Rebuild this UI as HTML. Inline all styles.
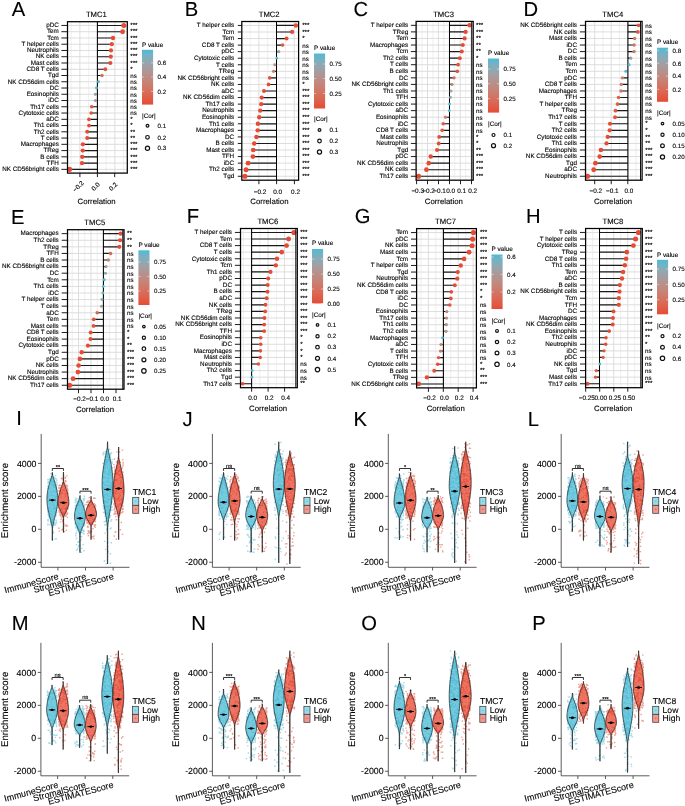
<!DOCTYPE html>
<html lang="en"><head><meta charset="utf-8"><title>TMC immune infiltration figure</title>
<style>html,body{margin:0;padding:0;background:#fff}svg{display:block;will-change:transform}text{white-space:pre;text-rendering:geometricPrecision;stroke:#000;stroke-width:.12px}</style>
</head><body>
<svg width="685" height="806" viewBox="0 0 685 806" font-family='"Liberation Sans", Arial, Helvetica, sans-serif' fill="#000">
<g id="pA">
<text x="11.7" y="16.4" font-size="20.2">A</text>
<text x="96.4" y="16.9" font-size="7.7" text-anchor="middle">TMC1</text>
<rect x="67.5" y="21.7" width="59.8" height="151.4" fill="#fff"/>
<path d="M71.15 21.7V173.1M88.65 21.7V173.1M106.15 21.7V173.1M123.65 21.7V173.1" stroke="#e6e6e6" stroke-width=".65" fill="none"/>
<path d="M79.9 21.7V173.1M97.4 21.7V173.1M114.9 21.7V173.1M67.5 25.45H127.3M67.5 31.71H127.3M67.5 37.97H127.3M67.5 44.22H127.3M67.5 50.48H127.3M67.5 56.73H127.3M67.5 62.99H127.3M67.5 69.25H127.3M67.5 75.5H127.3M67.5 81.76H127.3M67.5 88.02H127.3M67.5 94.27H127.3M67.5 100.53H127.3M67.5 106.78H127.3M67.5 113.04H127.3M67.5 119.3H127.3M67.5 125.55H127.3M67.5 131.81H127.3M67.5 138.07H127.3M67.5 144.32H127.3M67.5 150.58H127.3M67.5 156.83H127.3M67.5 163.09H127.3M67.5 169.35H127.3" stroke="#dbdbdb" stroke-width=".95" fill="none"/>
<path d="M97.4 25.45H123.8M97.4 31.71H122.6M97.4 37.97H113M97.4 44.22H111.8M97.4 50.48H111M97.4 56.73H110.8M97.4 62.99H110.3M97.4 69.25H105.3M97.4 75.5H102M97.4 81.76H98.5M97.4 88.02H96.5M97.4 94.27H95.4M97.4 100.53H95.4M97.4 106.78H91.7M97.4 113.04H91.2M97.4 119.3H89M97.4 125.55H89M97.4 131.81H87.2M97.4 138.07H87.2M97.4 144.32H82.9M97.4 150.58H82.7M97.4 156.83H82.2M97.4 163.09H82M97.4 169.35H69.6" stroke="#1a1a1a" stroke-width="1.15" fill="none"/>
<path d="M97.4 21.7V173.1" stroke="#000" stroke-width="1.05"/>
<circle cx="123.8" cy="25.45" r="2.51" fill="#e64b35"/>
<circle cx="122.6" cy="31.71" r="2.48" fill="#e64b35"/>
<circle cx="113" cy="37.97" r="2.18" fill="#e64b35"/>
<circle cx="111.8" cy="44.22" r="2.14" fill="#e64b35"/>
<circle cx="111" cy="50.48" r="2.11" fill="#e64b35"/>
<circle cx="110.8" cy="56.73" r="2.11" fill="#e64b35"/>
<circle cx="110.3" cy="62.99" r="2.09" fill="#e64b35"/>
<circle cx="105.3" cy="69.25" r="1.89" fill="#e54e38"/>
<circle cx="102" cy="75.5" r="1.72" fill="#d56f5c"/>
<circle cx="98.5" cy="81.76" r="1.48" fill="#4dbbd5"/>
<circle cx="96.5" cy="88.02" r="1.46" fill="#4dbbd5"/>
<circle cx="95.4" cy="94.27" r="1.56" fill="#9da1a6"/>
<circle cx="95.4" cy="100.53" r="1.56" fill="#a49da0"/>
<circle cx="91.7" cy="106.78" r="1.78" fill="#e3533d"/>
<circle cx="91.2" cy="113.04" r="1.81" fill="#e4503a"/>
<circle cx="89" cy="119.3" r="1.91" fill="#e64b35"/>
<circle cx="89" cy="125.55" r="1.91" fill="#e64b35"/>
<circle cx="87.2" cy="131.81" r="1.98" fill="#e64b35"/>
<circle cx="87.2" cy="138.07" r="1.98" fill="#e64b35"/>
<circle cx="82.9" cy="144.32" r="2.15" fill="#e64b35"/>
<circle cx="82.7" cy="150.58" r="2.15" fill="#e64b35"/>
<circle cx="82.2" cy="156.83" r="2.17" fill="#e64b35"/>
<circle cx="82" cy="163.09" r="2.18" fill="#e64b35"/>
<circle cx="69.6" cy="169.35" r="2.55" fill="#e64b35"/>
<rect x="67.5" y="21.7" width="59.8" height="151.4" fill="none" stroke="#000" stroke-width="1.25"/>
<path d="M61.4 25.45H67.5M61.4 31.71H67.5M61.4 37.97H67.5M61.4 44.22H67.5M61.4 50.48H67.5M61.4 56.73H67.5M61.4 62.99H67.5M61.4 69.25H67.5M61.4 75.5H67.5M61.4 81.76H67.5M61.4 88.02H67.5M61.4 94.27H67.5M61.4 100.53H67.5M61.4 106.78H67.5M61.4 113.04H67.5M61.4 119.3H67.5M61.4 125.55H67.5M61.4 131.81H67.5M61.4 138.07H67.5M61.4 144.32H67.5M61.4 150.58H67.5M61.4 156.83H67.5M61.4 163.09H67.5M61.4 169.35H67.5" stroke="#111" stroke-width=".95" fill="none"/>
<g font-size="6.3" text-anchor="end">
<text x="58.85" y="27.2">pDC</text>
<text x="58.85" y="33.46">Tem</text>
<text x="58.85" y="39.72">Tcm</text>
<text x="58.85" y="45.97">T helper cells</text>
<text x="58.85" y="52.23">Neutrophils</text>
<text x="58.85" y="58.48">NK cells</text>
<text x="58.85" y="64.74">Mast cells</text>
<text x="58.85" y="71">CD8 T cells</text>
<text x="58.85" y="77.25">Tgd</text>
<text x="58.85" y="83.51">NK CD56dim cells</text>
<text x="58.85" y="89.77">DC</text>
<text x="58.85" y="96.02">Eosinophils</text>
<text x="58.85" y="102.28">iDC</text>
<text x="58.85" y="108.53">Th17 cells</text>
<text x="58.85" y="114.79">Cytotoxic cells</text>
<text x="58.85" y="121.05">aDC</text>
<text x="58.85" y="127.3">Th1 cells</text>
<text x="58.85" y="133.56">Th2 cells</text>
<text x="58.85" y="139.82">T cells</text>
<text x="58.85" y="146.07">Macrophages</text>
<text x="58.85" y="152.33">TReg</text>
<text x="58.85" y="158.58">B cells</text>
<text x="58.85" y="164.84">TFH</text>
<text x="58.85" y="171.1">NK CD56bright cells</text>
</g>
<g font-size="6.2">
<text x="130.3" y="27.15">***</text>
<text x="130.3" y="33.41">***</text>
<text x="130.3" y="39.67">***</text>
<text x="130.3" y="45.92">***</text>
<text x="130.3" y="52.18">***</text>
<text x="130.3" y="58.43">***</text>
<text x="130.3" y="64.69">***</text>
<text x="130.3" y="70.95">*</text>
<text x="130.3" y="77.9">ns</text>
<text x="130.3" y="84.16">ns</text>
<text x="130.3" y="90.42">ns</text>
<text x="130.3" y="96.67">ns</text>
<text x="130.3" y="102.93">ns</text>
<text x="130.3" y="109.18">ns</text>
<text x="130.3" y="115.44">ns</text>
<text x="130.3" y="121">*</text>
<text x="130.3" y="127.25">*</text>
<text x="130.3" y="133.51">**</text>
<text x="130.3" y="139.77">**</text>
<text x="130.3" y="146.02">***</text>
<text x="130.3" y="152.28">***</text>
<text x="130.3" y="158.53">***</text>
<text x="130.3" y="164.79">***</text>
<text x="130.3" y="171.05">***</text>
</g>
<path d="M79.9 173.1V177.1M97.4 173.1V177.1M114.7 173.1V177.1" stroke="#111" stroke-width=".95" fill="none"/>
<text transform="translate(78.1 186.4) rotate(-45)" y="2.3" font-size="6.4" text-anchor="middle">−0.2</text>
<text transform="translate(95.6 186.4) rotate(-45)" y="2.3" font-size="6.4" text-anchor="middle">0.0</text>
<text transform="translate(112.9 186.4) rotate(-45)" y="2.3" font-size="6.4" text-anchor="middle">0.2</text>
<text x="96.6" y="203.9" font-size="7.8" text-anchor="middle">Correlation</text>
<text x="142" y="46.6" font-size="6.4">P value</text>
<linearGradient id="g0" x1="0" y1="0" x2="0" y2="1"><stop offset="0" stop-color="#4dbbd5"/><stop offset="0.1" stop-color="#74b2c4"/><stop offset="0.2" stop-color="#8ea9b4"/><stop offset="0.3" stop-color="#a19fa3"/><stop offset="0.4" stop-color="#b09593"/><stop offset="0.5" stop-color="#bd8b83"/><stop offset="0.6" stop-color="#c88173"/><stop offset="0.7" stop-color="#d17564"/><stop offset="0.8" stop-color="#d96954"/><stop offset="0.9" stop-color="#e05b45"/><stop offset="1" stop-color="#e64b35"/></linearGradient>
<rect x="142" y="49.8" width="11.1" height="54.8" fill="url(#g0)"/>
<text x="157.6" y="65.1" font-size="6.2">0.6</text>
<text x="157.6" y="79.2" font-size="6.2">0.4</text>
<text x="157.6" y="93.5" font-size="6.2">0.2</text>
<path d="M142 62.9h2.2M153.1 62.9h-2.2M142 77h2.2M153.1 77h-2.2M142 91.3h2.2M153.1 91.3h-2.2" stroke="#fff" stroke-width=".5" fill="none" opacity=".9"/>
<text x="142" y="117.6" font-size="6.4">|Cor|</text>
<circle cx="147.5" cy="125.7" r="1.4" fill="none" stroke="#111" stroke-width="1.2"/>
<text x="157.6" y="127.9" font-size="6.2">0.1</text>
<circle cx="147.5" cy="137.3" r="1.8" fill="none" stroke="#111" stroke-width="1.2"/>
<text x="157.6" y="139.5" font-size="6.2">0.2</text>
<circle cx="147.5" cy="148.2" r="2.1" fill="none" stroke="#111" stroke-width="1.2"/>
<text x="157.6" y="150.4" font-size="6.2">0.3</text>
</g>
<g id="pB">
<text x="184.8" y="16" font-size="20.2">B</text>
<text x="269.2" y="16.9" font-size="7.7" text-anchor="middle">TMC2</text>
<rect x="241.8" y="21.5" width="56.8" height="158.7" fill="#fff"/>
<path d="M250.05 21.5V180.2M267.75 21.5V180.2M285.45 21.5V180.2" stroke="#e6e6e6" stroke-width=".65" fill="none"/>
<path d="M258.9 21.5V180.2M276.6 21.5V180.2M294.3 21.5V180.2M241.8 25.43H298.6M241.8 31.99H298.6M241.8 38.55H298.6M241.8 45.11H298.6M241.8 51.67H298.6M241.8 58.22H298.6M241.8 64.78H298.6M241.8 71.34H298.6M241.8 77.9H298.6M241.8 84.46H298.6M241.8 91.01H298.6M241.8 97.57H298.6M241.8 104.13H298.6M241.8 110.69H298.6M241.8 117.24H298.6M241.8 123.8H298.6M241.8 130.36H298.6M241.8 136.92H298.6M241.8 143.48H298.6M241.8 150.03H298.6M241.8 156.59H298.6M241.8 163.15H298.6M241.8 169.71H298.6M241.8 176.27H298.6" stroke="#dbdbdb" stroke-width=".95" fill="none"/>
<path d="M276.5 25.43H295.9M276.5 31.99H292.1M276.5 38.55H286.6M276.5 45.11H282.6M276.5 51.67H278.8M276.5 58.22H276.8M276.5 64.78H274.8M276.5 71.34H273.5M276.5 77.9H269.7M276.5 84.46H268.5M276.5 91.01H264M276.5 97.57H261.7M276.5 104.13H261.2M276.5 110.69H260.2M276.5 117.24H259.2M276.5 123.8H257.9M276.5 130.36H257.7M276.5 136.92H256.4M276.5 143.48H254.2M276.5 150.03H253.2M276.5 156.59H252.9M276.5 163.15H248.1M276.5 169.71H246.1M276.5 176.27H244.9" stroke="#1a1a1a" stroke-width="1.15" fill="none"/>
<path d="M276.5 21.5V180.2" stroke="#000" stroke-width="1.05"/>
<circle cx="295.9" cy="25.43" r="2.23" fill="#e64b35"/>
<circle cx="292.1" cy="31.99" r="2.12" fill="#e64b35"/>
<circle cx="286.6" cy="38.55" r="1.93" fill="#e64b35"/>
<circle cx="282.6" cy="45.11" r="1.77" fill="#df5e48"/>
<circle cx="278.8" cy="51.67" r="1.56" fill="#98a4ac"/>
<circle cx="276.8" cy="58.22" r="1.38" fill="#4dbbd5"/>
<circle cx="274.8" cy="64.78" r="1.52" fill="#b6908b"/>
<circle cx="273.5" cy="71.34" r="1.6" fill="#cc7b6c"/>
<circle cx="269.7" cy="77.9" r="1.8" fill="#e4503a"/>
<circle cx="268.5" cy="84.46" r="1.85" fill="#e64b35"/>
<circle cx="264" cy="91.01" r="2.02" fill="#e64b35"/>
<circle cx="261.7" cy="97.57" r="2.09" fill="#e64b35"/>
<circle cx="261.2" cy="104.13" r="2.11" fill="#e64b35"/>
<circle cx="260.2" cy="110.69" r="2.14" fill="#e64b35"/>
<circle cx="259.2" cy="117.24" r="2.17" fill="#e64b35"/>
<circle cx="257.9" cy="123.8" r="2.21" fill="#e64b35"/>
<circle cx="257.7" cy="130.36" r="2.22" fill="#e64b35"/>
<circle cx="256.4" cy="136.92" r="2.25" fill="#e64b35"/>
<circle cx="254.2" cy="143.48" r="2.31" fill="#e64b35"/>
<circle cx="253.2" cy="150.03" r="2.34" fill="#e64b35"/>
<circle cx="252.9" cy="156.59" r="2.35" fill="#e64b35"/>
<circle cx="248.1" cy="163.15" r="2.47" fill="#e64b35"/>
<circle cx="246.1" cy="169.71" r="2.52" fill="#e64b35"/>
<circle cx="244.9" cy="176.27" r="2.55" fill="#e64b35"/>
<rect x="241.8" y="21.5" width="56.8" height="158.7" fill="none" stroke="#000" stroke-width="1.25"/>
<path d="M237.8 25.43H241.8M237.8 31.99H241.8M237.8 38.55H241.8M237.8 45.11H241.8M237.8 51.67H241.8M237.8 58.22H241.8M237.8 64.78H241.8M237.8 71.34H241.8M237.8 77.9H241.8M237.8 84.46H241.8M237.8 91.01H241.8M237.8 97.57H241.8M237.8 104.13H241.8M237.8 110.69H241.8M237.8 117.24H241.8M237.8 123.8H241.8M237.8 130.36H241.8M237.8 136.92H241.8M237.8 143.48H241.8M237.8 150.03H241.8M237.8 156.59H241.8M237.8 163.15H241.8M237.8 169.71H241.8M237.8 176.27H241.8" stroke="#111" stroke-width=".95" fill="none"/>
<g font-size="6.3" text-anchor="end">
<text x="234.15" y="27.18">T helper cells</text>
<text x="234.15" y="33.74">Tcm</text>
<text x="234.15" y="40.3">Tem</text>
<text x="234.15" y="46.86">CD8 T cells</text>
<text x="234.15" y="53.42">pDC</text>
<text x="234.15" y="59.97">Cytotoxic cells</text>
<text x="234.15" y="66.53">T cells</text>
<text x="234.15" y="73.09">TReg</text>
<text x="234.15" y="79.65">NK CD56bright cells</text>
<text x="234.15" y="86.21">NK cells</text>
<text x="234.15" y="92.76">aDC</text>
<text x="234.15" y="99.32">NK CD56dim cells</text>
<text x="234.15" y="105.88">Th17 cells</text>
<text x="234.15" y="112.44">Neutrophils</text>
<text x="234.15" y="118.99">Eosinophils</text>
<text x="234.15" y="125.55">Th1 cells</text>
<text x="234.15" y="132.11">Macrophages</text>
<text x="234.15" y="138.67">DC</text>
<text x="234.15" y="145.23">B cells</text>
<text x="234.15" y="151.78">Mast cells</text>
<text x="234.15" y="158.34">TFH</text>
<text x="234.15" y="164.9">iDC</text>
<text x="234.15" y="171.46">Th2 cells</text>
<text x="234.15" y="178.02">Tgd</text>
</g>
<g font-size="6.2">
<text x="302.2" y="27.13">***</text>
<text x="302.2" y="33.69">***</text>
<text x="302.2" y="40.25">*</text>
<text x="302.2" y="47.51">ns</text>
<text x="302.2" y="54.07">ns</text>
<text x="302.2" y="60.62">ns</text>
<text x="302.2" y="67.18">ns</text>
<text x="302.2" y="73.74">ns</text>
<text x="302.2" y="80.3">ns</text>
<text x="302.2" y="86.16">*</text>
<text x="302.2" y="92.71">***</text>
<text x="302.2" y="99.27">***</text>
<text x="302.2" y="105.83">***</text>
<text x="302.2" y="112.39">***</text>
<text x="302.2" y="118.94">***</text>
<text x="302.2" y="125.5">***</text>
<text x="302.2" y="132.06">***</text>
<text x="302.2" y="138.62">***</text>
<text x="302.2" y="145.18">***</text>
<text x="302.2" y="151.73">***</text>
<text x="302.2" y="158.29">***</text>
<text x="302.2" y="164.85">***</text>
<text x="302.2" y="171.41">***</text>
<text x="302.2" y="177.97">***</text>
</g>
<path d="M258.9 180.2V184.2M276.6 180.2V184.2M294.4 180.2V184.2" stroke="#111" stroke-width=".95" fill="none"/>
<text x="260" y="193.8" font-size="6.4" text-anchor="middle">−0.2</text>
<text x="277.7" y="193.8" font-size="6.4" text-anchor="middle">0.0</text>
<text x="295.5" y="193.8" font-size="6.4" text-anchor="middle">0.2</text>
<text x="269.4" y="204.4" font-size="7.8" text-anchor="middle">Correlation</text>
<text x="314" y="50" font-size="6.4">P value</text>
<linearGradient id="g1" x1="0" y1="0" x2="0" y2="1"><stop offset="0" stop-color="#4dbbd5"/><stop offset="0.1" stop-color="#74b2c4"/><stop offset="0.2" stop-color="#8ea9b4"/><stop offset="0.3" stop-color="#a19fa3"/><stop offset="0.4" stop-color="#b09593"/><stop offset="0.5" stop-color="#bd8b83"/><stop offset="0.6" stop-color="#c88173"/><stop offset="0.7" stop-color="#d17564"/><stop offset="0.8" stop-color="#d96954"/><stop offset="0.9" stop-color="#e05b45"/><stop offset="1" stop-color="#e64b35"/></linearGradient>
<rect x="314" y="53.5" width="11.1" height="55" fill="url(#g1)"/>
<text x="329.6" y="66.2" font-size="6.2">0.75</text>
<text x="329.6" y="80.8" font-size="6.2">0.50</text>
<text x="329.6" y="95.7" font-size="6.2">0.25</text>
<path d="M314 64h2.2M325.1 64h-2.2M314 78.6h2.2M325.1 78.6h-2.2M314 93.5h2.2M325.1 93.5h-2.2" stroke="#fff" stroke-width=".5" fill="none" opacity=".9"/>
<text x="314" y="121.4" font-size="6.4">|Cor|</text>
<circle cx="319.5" cy="130" r="1.4" fill="none" stroke="#111" stroke-width="1.2"/>
<text x="329.6" y="132.2" font-size="6.2">0.1</text>
<circle cx="319.5" cy="141" r="1.8" fill="none" stroke="#111" stroke-width="1.2"/>
<text x="329.6" y="143.2" font-size="6.2">0.2</text>
<circle cx="319.5" cy="152" r="2.1" fill="none" stroke="#111" stroke-width="1.2"/>
<text x="329.6" y="154.2" font-size="6.2">0.3</text>
</g>
<g id="pC">
<text x="353.5" y="16" font-size="20.2">C</text>
<text x="443.65" y="16.9" font-size="7.7" text-anchor="middle">TMC3</text>
<rect x="416.1" y="21.4" width="57.1" height="158.8" fill="#fff"/>
<path d="M422.05 21.4V180.2M432.95 21.4V180.2M443.85 21.4V180.2M454.75 21.4V180.2M465.65 21.4V180.2" stroke="#e6e6e6" stroke-width=".65" fill="none"/>
<path d="M416.6 21.4V180.2M427.5 21.4V180.2M438.4 21.4V180.2M449.3 21.4V180.2M460.2 21.4V180.2M471.1 21.4V180.2M416.1 25.34H473.2M416.1 31.9H473.2M416.1 38.46H473.2M416.1 45.02H473.2M416.1 51.59H473.2M416.1 58.15H473.2M416.1 64.71H473.2M416.1 71.27H473.2M416.1 77.83H473.2M416.1 84.4H473.2M416.1 90.96H473.2M416.1 97.52H473.2M416.1 104.08H473.2M416.1 110.64H473.2M416.1 117.2H473.2M416.1 123.77H473.2M416.1 130.33H473.2M416.1 136.89H473.2M416.1 143.45H473.2M416.1 150.01H473.2M416.1 156.58H473.2M416.1 163.14H473.2M416.1 169.7H473.2M416.1 176.26H473.2" stroke="#dbdbdb" stroke-width=".95" fill="none"/>
<path d="M449.5 25.34H469.6M449.5 31.9H465.6M449.5 38.46H464.6M449.5 45.02H462.8M449.5 51.59H461.8M449.5 58.15H459.8M449.5 64.71H458.1M449.5 71.27H457.3M449.5 77.83H454M449.5 84.4H452M449.5 90.96H451M449.5 97.52H450.5M449.5 104.08H449.6M449.5 110.64H449.3M449.5 117.2H445.5M449.5 123.77H443.2M449.5 130.33H442.2M449.5 136.89H439.2M449.5 143.45H438.7M449.5 150.01H437M449.5 156.58H430.7M449.5 163.14H428.7M449.5 169.7H426.4M449.5 176.26H418.6" stroke="#1a1a1a" stroke-width="1.15" fill="none"/>
<path d="M449.5 21.4V180.2" stroke="#000" stroke-width="1.05"/>
<circle cx="469.6" cy="25.34" r="2.27" fill="#e64b35"/>
<circle cx="465.6" cy="31.9" r="2.15" fill="#e64b35"/>
<circle cx="464.6" cy="38.46" r="2.11" fill="#e64b35"/>
<circle cx="462.8" cy="45.02" r="2.05" fill="#e64b35"/>
<circle cx="461.8" cy="51.59" r="2.02" fill="#e64b35"/>
<circle cx="459.8" cy="58.15" r="1.95" fill="#e64b35"/>
<circle cx="458.1" cy="64.71" r="1.88" fill="#e4503a"/>
<circle cx="457.3" cy="71.27" r="1.85" fill="#e3533d"/>
<circle cx="454" cy="77.83" r="1.69" fill="#d56f5c"/>
<circle cx="452" cy="84.4" r="1.58" fill="#c2867b"/>
<circle cx="451" cy="90.96" r="1.5" fill="#a19fa3"/>
<circle cx="450.5" cy="97.52" r="1.46" fill="#8ea9b4"/>
<circle cx="449.6" cy="104.08" r="1.34" fill="#4dbbd5"/>
<circle cx="449.3" cy="110.64" r="1.36" fill="#4dbbd5"/>
<circle cx="445.5" cy="117.2" r="1.67" fill="#c88173"/>
<circle cx="443.2" cy="123.77" r="1.78" fill="#e05b45"/>
<circle cx="442.2" cy="130.33" r="1.83" fill="#e2553f"/>
<circle cx="439.2" cy="136.89" r="1.95" fill="#e64b35"/>
<circle cx="438.7" cy="143.45" r="1.97" fill="#e64b35"/>
<circle cx="437" cy="150.01" r="2.03" fill="#e64b35"/>
<circle cx="430.7" cy="156.58" r="2.23" fill="#e64b35"/>
<circle cx="428.7" cy="163.14" r="2.29" fill="#e64b35"/>
<circle cx="426.4" cy="169.7" r="2.35" fill="#e64b35"/>
<circle cx="418.6" cy="176.26" r="2.55" fill="#e64b35"/>
<path d="M471.7 21.4V180.2" stroke="#111" stroke-width="1.05"/>
<rect x="416.1" y="21.4" width="57.1" height="158.8" fill="none" stroke="#000" stroke-width="1.25"/>
<path d="M410.9 25.34H416.1M410.9 31.9H416.1M410.9 38.46H416.1M410.9 45.02H416.1M410.9 51.59H416.1M410.9 58.15H416.1M410.9 64.71H416.1M410.9 71.27H416.1M410.9 77.83H416.1M410.9 84.4H416.1M410.9 90.96H416.1M410.9 97.52H416.1M410.9 104.08H416.1M410.9 110.64H416.1M410.9 117.2H416.1M410.9 123.77H416.1M410.9 130.33H416.1M410.9 136.89H416.1M410.9 143.45H416.1M410.9 150.01H416.1M410.9 156.58H416.1M410.9 163.14H416.1M410.9 169.7H416.1M410.9 176.26H416.1" stroke="#111" stroke-width=".95" fill="none"/>
<g font-size="6.3" text-anchor="end">
<text x="408.15" y="27.09">T helper cells</text>
<text x="408.15" y="33.65">TReg</text>
<text x="408.15" y="40.21">Tem</text>
<text x="408.15" y="46.77">Macrophages</text>
<text x="408.15" y="53.34">Tcm</text>
<text x="408.15" y="59.9">Th2 cells</text>
<text x="408.15" y="66.46">T cells</text>
<text x="408.15" y="73.02">B cells</text>
<text x="408.15" y="79.58">DC</text>
<text x="408.15" y="86.15">NK CD56bright cells</text>
<text x="408.15" y="92.71">Th1 cells</text>
<text x="408.15" y="99.27">TFH</text>
<text x="408.15" y="105.83">Cytotoxic cells</text>
<text x="408.15" y="112.39">aDC</text>
<text x="408.15" y="118.95">Eosinophils</text>
<text x="408.15" y="125.52">iDC</text>
<text x="408.15" y="132.08">CD8 T cells</text>
<text x="408.15" y="138.64">Mast cells</text>
<text x="408.15" y="145.2">Neutrophils</text>
<text x="408.15" y="151.76">Tgd</text>
<text x="408.15" y="158.33">pDC</text>
<text x="408.15" y="164.89">NK CD56dim cells</text>
<text x="408.15" y="171.45">NK cells</text>
<text x="408.15" y="178.01">Th17 cells</text>
</g>
<g font-size="6.2">
<text x="476" y="27.04">***</text>
<text x="476" y="33.6">***</text>
<text x="476" y="40.16">**</text>
<text x="476" y="46.72">**</text>
<text x="476" y="53.29">**</text>
<text x="476" y="59.85">*</text>
<text x="476" y="67.11">ns</text>
<text x="476" y="73.67">ns</text>
<text x="476" y="80.23">ns</text>
<text x="476" y="86.8">ns</text>
<text x="476" y="93.36">ns</text>
<text x="476" y="99.92">ns</text>
<text x="476" y="106.48">ns</text>
<text x="476" y="113.04">ns</text>
<text x="476" y="119.6">ns</text>
<text x="476" y="126.17">ns</text>
<text x="476" y="132.73">ns</text>
<text x="476" y="138.59">*</text>
<text x="476" y="145.15">*</text>
<text x="476" y="151.71">**</text>
<text x="476" y="158.28">***</text>
<text x="476" y="164.84">***</text>
<text x="476" y="171.4">***</text>
<text x="476" y="177.96">***</text>
</g>
<path d="M416.6 180.2V184.2M427.5 180.2V184.2M438.5 180.2V184.2M449.5 180.2V184.2M460.5 180.2V184.2M471.5 180.2V184.2" stroke="#111" stroke-width=".95" fill="none"/>
<text x="417.7" y="192.8" font-size="6.4" text-anchor="middle">−0.3</text>
<text x="428.6" y="192.8" font-size="6.4" text-anchor="middle">−0.2</text>
<text x="439.6" y="192.8" font-size="6.4" text-anchor="middle">−0.1</text>
<text x="450.6" y="192.8" font-size="6.4" text-anchor="middle">0.0</text>
<text x="461.6" y="192.8" font-size="6.4" text-anchor="middle">0.1</text>
<text x="472.6" y="192.8" font-size="6.4" text-anchor="middle">0.2</text>
<text x="443.85" y="203.6" font-size="7.8" text-anchor="middle">Correlation</text>
<text x="488" y="55" font-size="6.4">P value</text>
<linearGradient id="g2" x1="0" y1="0" x2="0" y2="1"><stop offset="0" stop-color="#4dbbd5"/><stop offset="0.1" stop-color="#74b2c4"/><stop offset="0.2" stop-color="#8ea9b4"/><stop offset="0.3" stop-color="#a19fa3"/><stop offset="0.4" stop-color="#b09593"/><stop offset="0.5" stop-color="#bd8b83"/><stop offset="0.6" stop-color="#c88173"/><stop offset="0.7" stop-color="#d17564"/><stop offset="0.8" stop-color="#d96954"/><stop offset="0.9" stop-color="#e05b45"/><stop offset="1" stop-color="#e64b35"/></linearGradient>
<rect x="488" y="58.5" width="11.1" height="54.1" fill="url(#g2)"/>
<text x="503.6" y="71.3" font-size="6.2">0.75</text>
<text x="503.6" y="85.9" font-size="6.2">0.50</text>
<text x="503.6" y="100.9" font-size="6.2">0.25</text>
<path d="M488 69.1h2.2M499.1 69.1h-2.2M488 83.7h2.2M499.1 83.7h-2.2M488 98.7h2.2M499.1 98.7h-2.2" stroke="#fff" stroke-width=".5" fill="none" opacity=".9"/>
<text x="488" y="126" font-size="6.4">|Cor|</text>
<circle cx="493.5" cy="135" r="1.5" fill="none" stroke="#111" stroke-width="1.2"/>
<text x="503.6" y="137.2" font-size="6.2">0.1</text>
<circle cx="493.5" cy="145.7" r="2" fill="none" stroke="#111" stroke-width="1.2"/>
<text x="503.6" y="147.9" font-size="6.2">0.2</text>
</g>
<g id="pD">
<text x="523.5" y="16" font-size="20.2">D</text>
<text x="612.8" y="16.9" font-size="7.7" text-anchor="middle">TMC4</text>
<rect x="585.5" y="21.4" width="56.6" height="158.8" fill="#fff"/>
<path d="M586.45 21.4V180.2M602.95 21.4V180.2M619.45 21.4V180.2M635.95 21.4V180.2" stroke="#e6e6e6" stroke-width=".65" fill="none"/>
<path d="M594.7 21.4V180.2M611.2 21.4V180.2M627.7 21.4V180.2M585.5 25.34H642.1M585.5 31.9H642.1M585.5 38.46H642.1M585.5 45.02H642.1M585.5 51.59H642.1M585.5 58.15H642.1M585.5 64.71H642.1M585.5 71.27H642.1M585.5 77.83H642.1M585.5 84.4H642.1M585.5 90.96H642.1M585.5 97.52H642.1M585.5 104.08H642.1M585.5 110.64H642.1M585.5 117.2H642.1M585.5 123.77H642.1M585.5 130.33H642.1M585.5 136.89H642.1M585.5 143.45H642.1M585.5 150.01H642.1M585.5 156.58H642.1M585.5 163.14H642.1M585.5 169.7H642.1M585.5 176.26H642.1" stroke="#dbdbdb" stroke-width=".95" fill="none"/>
<path d="M627.9 25.34H638.6M627.9 31.9H637.9M627.9 38.46H634.6M627.9 45.02H634.1M627.9 51.59H634.1M627.9 58.15H630.8M627.9 64.71H629.1M627.9 71.27H625.8M627.9 77.83H622.3M627.9 84.4H621.3M627.9 90.96H621M627.9 97.52H618.5M627.9 104.08H617.5M627.9 110.64H615.5M627.9 117.2H615M627.9 123.77H610M627.9 130.33H609.7M627.9 136.89H607.7M627.9 143.45H606.5M627.9 150.01H600.9M627.9 156.58H599.7M627.9 163.14H595.4M627.9 169.7H593.7M627.9 176.26H587.6" stroke="#1a1a1a" stroke-width="1.15" fill="none"/>
<path d="M627.9 21.4V180.2" stroke="#000" stroke-width="1.05"/>
<circle cx="638.6" cy="25.34" r="1.86" fill="#e3533d"/>
<circle cx="637.9" cy="31.9" r="1.84" fill="#e2553f"/>
<circle cx="634.6" cy="38.46" r="1.73" fill="#d17564"/>
<circle cx="634.1" cy="45.02" r="1.71" fill="#cf7767"/>
<circle cx="634.1" cy="51.59" r="1.71" fill="#cf7767"/>
<circle cx="630.8" cy="58.15" r="1.56" fill="#98a4ac"/>
<circle cx="629.1" cy="64.71" r="1.45" fill="#4dbbd5"/>
<circle cx="625.8" cy="71.27" r="1.51" fill="#60b6cc"/>
<circle cx="622.3" cy="77.83" r="1.68" fill="#c68376"/>
<circle cx="621.3" cy="84.4" r="1.72" fill="#cc7b6c"/>
<circle cx="621" cy="90.96" r="1.73" fill="#ce7968"/>
<circle cx="618.5" cy="97.52" r="1.82" fill="#dc624c"/>
<circle cx="617.5" cy="104.08" r="1.85" fill="#df5e48"/>
<circle cx="615.5" cy="110.64" r="1.92" fill="#e25640"/>
<circle cx="615" cy="117.2" r="1.93" fill="#e2553f"/>
<circle cx="610" cy="123.77" r="2.07" fill="#e64b35"/>
<circle cx="609.7" cy="130.33" r="2.08" fill="#e64b35"/>
<circle cx="607.7" cy="136.89" r="2.13" fill="#e64b35"/>
<circle cx="606.5" cy="143.45" r="2.16" fill="#e64b35"/>
<circle cx="600.9" cy="150.01" r="2.28" fill="#e64b35"/>
<circle cx="599.7" cy="156.58" r="2.31" fill="#e64b35"/>
<circle cx="595.4" cy="163.14" r="2.4" fill="#e64b35"/>
<circle cx="593.7" cy="169.7" r="2.43" fill="#e64b35"/>
<circle cx="587.6" cy="176.26" r="2.55" fill="#e64b35"/>
<path d="M640.5 21.4V180.2" stroke="#111" stroke-width="1.05"/>
<rect x="585.5" y="21.4" width="56.6" height="158.8" fill="none" stroke="#000" stroke-width="1.25"/>
<path d="M579.9 25.34H585.5M579.9 31.9H585.5M579.9 38.46H585.5M579.9 45.02H585.5M579.9 51.59H585.5M579.9 58.15H585.5M579.9 64.71H585.5M579.9 71.27H585.5M579.9 77.83H585.5M579.9 84.4H585.5M579.9 90.96H585.5M579.9 97.52H585.5M579.9 104.08H585.5M579.9 110.64H585.5M579.9 117.2H585.5M579.9 123.77H585.5M579.9 130.33H585.5M579.9 136.89H585.5M579.9 143.45H585.5M579.9 150.01H585.5M579.9 156.58H585.5M579.9 163.14H585.5M579.9 169.7H585.5M579.9 176.26H585.5" stroke="#111" stroke-width=".95" fill="none"/>
<g font-size="6.3" text-anchor="end">
<text x="576.95" y="27.09">NK CD56bright cells</text>
<text x="576.95" y="33.65">NK cells</text>
<text x="576.95" y="40.21">Mast cells</text>
<text x="576.95" y="46.77">iDC</text>
<text x="576.95" y="53.34">DC</text>
<text x="576.95" y="59.9">B cells</text>
<text x="576.95" y="66.46">Tem</text>
<text x="576.95" y="73.02">Tcm</text>
<text x="576.95" y="79.58">pDC</text>
<text x="576.95" y="86.15">CD8 T cells</text>
<text x="576.95" y="92.71">Macrophages</text>
<text x="576.95" y="99.27">TFH</text>
<text x="576.95" y="105.83">T helper cells</text>
<text x="576.95" y="112.39">TReg</text>
<text x="576.95" y="118.95">Th17 cells</text>
<text x="576.95" y="125.52">T cells</text>
<text x="576.95" y="132.08">Th2 cells</text>
<text x="576.95" y="138.64">Cytotoxic cells</text>
<text x="576.95" y="145.2">Th1 cells</text>
<text x="576.95" y="151.76">Eosinophils</text>
<text x="576.95" y="158.33">NK CD56dim cells</text>
<text x="576.95" y="164.89">Tgd</text>
<text x="576.95" y="171.45">aDC</text>
<text x="576.95" y="178.01">Neutrophils</text>
</g>
<g font-size="6.2">
<text x="645.3" y="27.74">ns</text>
<text x="645.3" y="34.3">ns</text>
<text x="645.3" y="40.86">ns</text>
<text x="645.3" y="47.42">ns</text>
<text x="645.3" y="53.99">ns</text>
<text x="645.3" y="60.55">ns</text>
<text x="645.3" y="67.11">ns</text>
<text x="645.3" y="73.67">ns</text>
<text x="645.3" y="80.23">ns</text>
<text x="645.3" y="86.8">ns</text>
<text x="645.3" y="93.36">ns</text>
<text x="645.3" y="99.92">ns</text>
<text x="645.3" y="106.48">ns</text>
<text x="645.3" y="113.04">ns</text>
<text x="645.3" y="119.6">ns</text>
<text x="645.3" y="125.47">*</text>
<text x="645.3" y="132.03">*</text>
<text x="645.3" y="138.59">**</text>
<text x="645.3" y="145.15">**</text>
<text x="645.3" y="151.71">***</text>
<text x="645.3" y="158.28">***</text>
<text x="645.3" y="164.84">***</text>
<text x="645.3" y="171.4">***</text>
<text x="645.3" y="177.96">***</text>
</g>
<path d="M594.7 180.2V184.2M611.2 180.2V184.2M627.8 180.2V184.2" stroke="#111" stroke-width=".95" fill="none"/>
<text x="595.8" y="192.8" font-size="6.4" text-anchor="middle">−0.2</text>
<text x="612.3" y="192.8" font-size="6.4" text-anchor="middle">−0.1</text>
<text x="628.9" y="192.8" font-size="6.4" text-anchor="middle">0.0</text>
<text x="613" y="203.6" font-size="7.8" text-anchor="middle">Correlation</text>
<text x="657" y="43.7" font-size="6.4">P value</text>
<linearGradient id="g3" x1="0" y1="0" x2="0" y2="1"><stop offset="0" stop-color="#4dbbd5"/><stop offset="0.1" stop-color="#74b2c4"/><stop offset="0.2" stop-color="#8ea9b4"/><stop offset="0.3" stop-color="#a19fa3"/><stop offset="0.4" stop-color="#b09593"/><stop offset="0.5" stop-color="#bd8b83"/><stop offset="0.6" stop-color="#c88173"/><stop offset="0.7" stop-color="#d17564"/><stop offset="0.8" stop-color="#d96954"/><stop offset="0.9" stop-color="#e05b45"/><stop offset="1" stop-color="#e64b35"/></linearGradient>
<rect x="657" y="47.7" width="11.1" height="54.1" fill="url(#g3)"/>
<text x="672.6" y="52.5" font-size="6.2">0.8</text>
<text x="672.6" y="65.5" font-size="6.2">0.6</text>
<text x="672.6" y="78.3" font-size="6.2">0.4</text>
<text x="672.6" y="91.6" font-size="6.2">0.2</text>
<path d="M657 50.3h2.2M668.1 50.3h-2.2M657 63.3h2.2M668.1 63.3h-2.2M657 76.1h2.2M668.1 76.1h-2.2M657 89.4h2.2M668.1 89.4h-2.2" stroke="#fff" stroke-width=".5" fill="none" opacity=".9"/>
<text x="657" y="115.2" font-size="6.4">|Cor|</text>
<circle cx="662.5" cy="123.6" r="1.3" fill="none" stroke="#111" stroke-width="1.2"/>
<text x="672.6" y="125.8" font-size="6.2">0.05</text>
<circle cx="662.5" cy="134.7" r="1.6" fill="none" stroke="#111" stroke-width="1.2"/>
<text x="672.6" y="136.9" font-size="6.2">0.10</text>
<circle cx="662.5" cy="145.7" r="1.9" fill="none" stroke="#111" stroke-width="1.2"/>
<text x="672.6" y="147.9" font-size="6.2">0.15</text>
<circle cx="662.5" cy="157" r="2.1" fill="none" stroke="#111" stroke-width="1.2"/>
<text x="672.6" y="159.2" font-size="6.2">0.20</text>
</g>
<g id="pE">
<text x="11" y="223.9" font-size="20.2">E</text>
<text x="94.75" y="224.7" font-size="7.7" text-anchor="middle">TMC5</text>
<rect x="67.5" y="229.7" width="56.5" height="159.5" fill="#fff"/>
<path d="M72.25 229.7V389.2M84.75 229.7V389.2M97.25 229.7V389.2M109.75 229.7V389.2M122.25 229.7V389.2" stroke="#e6e6e6" stroke-width=".65" fill="none"/>
<path d="M78.5 229.7V389.2M91 229.7V389.2M103.5 229.7V389.2M116 229.7V389.2M67.5 233.65H124M67.5 240.25H124M67.5 246.84H124M67.5 253.43H124M67.5 260.02H124M67.5 266.61H124M67.5 273.2H124M67.5 279.79H124M67.5 286.38H124M67.5 292.97H124M67.5 299.56H124M67.5 306.15H124M67.5 312.75H124M67.5 319.34H124M67.5 325.93H124M67.5 332.52H124M67.5 339.11H124M67.5 345.7H124M67.5 352.29H124M67.5 358.88H124M67.5 365.47H124M67.5 372.06H124M67.5 378.65H124M67.5 385.25H124" stroke="#dbdbdb" stroke-width=".95" fill="none"/>
<path d="M103.4 233.65H120.6M103.4 240.25H120.1M103.4 246.84H119.3M103.4 253.43H110.6M103.4 260.02H108.3M103.4 266.61H106M103.4 273.2H105.5M103.4 279.79H104.3M103.4 286.38H103.3M103.4 292.97H102.8M103.4 299.56H102M103.4 306.15H101.5M103.4 312.75H97.2M103.4 319.34H93.7M103.4 325.93H93.5M103.4 332.52H90.7M103.4 339.11H90.5M103.4 345.7H87.9M103.4 352.29H81.7M103.4 358.88H79.9M103.4 365.47H78.6M103.4 372.06H77.9M103.4 378.65H73.1M103.4 385.25H69.6" stroke="#1a1a1a" stroke-width="1.15" fill="none"/>
<path d="M103.4 229.7V389.2" stroke="#000" stroke-width="1.05"/>
<circle cx="120.6" cy="233.65" r="2.13" fill="#e64b35"/>
<circle cx="120.1" cy="240.25" r="2.12" fill="#e64b35"/>
<circle cx="119.3" cy="246.84" r="2.1" fill="#e64b35"/>
<circle cx="110.6" cy="253.43" r="1.79" fill="#d96954"/>
<circle cx="108.3" cy="260.02" r="1.69" fill="#c88173"/>
<circle cx="106" cy="266.61" r="1.57" fill="#a49da0"/>
<circle cx="105.5" cy="273.2" r="1.54" fill="#8ea9b4"/>
<circle cx="104.3" cy="279.79" r="1.44" fill="#60b6cc"/>
<circle cx="103.3" cy="286.38" r="1.34" fill="#4dbbd5"/>
<circle cx="102.8" cy="292.97" r="1.41" fill="#60b6cc"/>
<circle cx="102" cy="299.56" r="1.49" fill="#8ea9b4"/>
<circle cx="101.5" cy="306.15" r="1.52" fill="#a19fa3"/>
<circle cx="97.2" cy="312.75" r="1.75" fill="#da6651"/>
<circle cx="93.7" cy="319.34" r="1.89" fill="#e4513b"/>
<circle cx="93.5" cy="325.93" r="1.9" fill="#e4513b"/>
<circle cx="90.7" cy="332.52" r="1.99" fill="#e64b35"/>
<circle cx="90.5" cy="339.11" r="2" fill="#e64b35"/>
<circle cx="87.9" cy="345.7" r="2.08" fill="#e64b35"/>
<circle cx="81.7" cy="352.29" r="2.26" fill="#e64b35"/>
<circle cx="79.9" cy="358.88" r="2.31" fill="#e64b35"/>
<circle cx="78.6" cy="365.47" r="2.34" fill="#e64b35"/>
<circle cx="77.9" cy="372.06" r="2.36" fill="#e64b35"/>
<circle cx="73.1" cy="378.65" r="2.47" fill="#e64b35"/>
<circle cx="69.6" cy="385.25" r="2.55" fill="#e64b35"/>
<path d="M122.8 229.7V389.2" stroke="#111" stroke-width="1.05"/>
<rect x="67.5" y="229.7" width="56.5" height="159.5" fill="none" stroke="#000" stroke-width="1.25"/>
<path d="M61.7 233.65H67.5M61.7 240.25H67.5M61.7 246.84H67.5M61.7 253.43H67.5M61.7 260.02H67.5M61.7 266.61H67.5M61.7 273.2H67.5M61.7 279.79H67.5M61.7 286.38H67.5M61.7 292.97H67.5M61.7 299.56H67.5M61.7 306.15H67.5M61.7 312.75H67.5M61.7 319.34H67.5M61.7 325.93H67.5M61.7 332.52H67.5M61.7 339.11H67.5M61.7 345.7H67.5M61.7 352.29H67.5M61.7 358.88H67.5M61.7 365.47H67.5M61.7 372.06H67.5M61.7 378.65H67.5M61.7 385.25H67.5" stroke="#111" stroke-width=".95" fill="none"/>
<g font-size="6.3" text-anchor="end">
<text x="58.75" y="235.4">Macrophages</text>
<text x="58.75" y="242">Th2 cells</text>
<text x="58.75" y="248.59">TReg</text>
<text x="58.75" y="255.18">TFH</text>
<text x="58.75" y="261.77">B cells</text>
<text x="58.75" y="268.36">NK CD56bright cells</text>
<text x="58.75" y="274.95">DC</text>
<text x="58.75" y="281.54">Tcm</text>
<text x="58.75" y="288.13">Th1 cells</text>
<text x="58.75" y="294.72">iDC</text>
<text x="58.75" y="301.31">T helper cells</text>
<text x="58.75" y="307.9">T cells</text>
<text x="58.75" y="314.5">aDC</text>
<text x="58.75" y="321.09">Tem</text>
<text x="58.75" y="327.68">Mast cells</text>
<text x="58.75" y="334.27">CD8 T cells</text>
<text x="58.75" y="340.86">Eosinophils</text>
<text x="58.75" y="347.45">Cytotoxic cells</text>
<text x="58.75" y="354.04">Tgd</text>
<text x="58.75" y="360.63">pDC</text>
<text x="58.75" y="367.22">NK cells</text>
<text x="58.75" y="373.81">Neutrophils</text>
<text x="58.75" y="380.4">NK CD56dim cells</text>
<text x="58.75" y="387">Th17 cells</text>
</g>
<g font-size="6.2">
<text x="127" y="235.35">**</text>
<text x="127" y="241.95">**</text>
<text x="127" y="248.54">**</text>
<text x="127" y="255.83">ns</text>
<text x="127" y="262.42">ns</text>
<text x="127" y="269.01">ns</text>
<text x="127" y="275.6">ns</text>
<text x="127" y="282.19">ns</text>
<text x="127" y="288.78">ns</text>
<text x="127" y="295.37">ns</text>
<text x="127" y="301.96">ns</text>
<text x="127" y="308.55">ns</text>
<text x="127" y="315.15">ns</text>
<text x="127" y="321.74">ns</text>
<text x="127" y="328.33">ns</text>
<text x="127" y="334.22">*</text>
<text x="127" y="340.81">*</text>
<text x="127" y="347.4">**</text>
<text x="127" y="353.99">***</text>
<text x="127" y="360.58">***</text>
<text x="127" y="367.17">***</text>
<text x="127" y="373.76">***</text>
<text x="127" y="380.35">***</text>
<text x="127" y="386.95">***</text>
</g>
<path d="M78.5 389.2V393.2M91 389.2V393.2M103.5 389.2V393.2M116 389.2V393.2" stroke="#111" stroke-width=".95" fill="none"/>
<text x="79.6" y="401.4" font-size="6.4" text-anchor="middle">−0.2</text>
<text x="92.1" y="401.4" font-size="6.4" text-anchor="middle">−0.1</text>
<text x="104.6" y="401.4" font-size="6.4" text-anchor="middle">0.0</text>
<text x="117.1" y="401.4" font-size="6.4" text-anchor="middle">0.1</text>
<text x="94.95" y="411.7" font-size="7.8" text-anchor="middle">Correlation</text>
<text x="138.4" y="246.7" font-size="6.4">P value</text>
<linearGradient id="g4" x1="0" y1="0" x2="0" y2="1"><stop offset="0" stop-color="#4dbbd5"/><stop offset="0.1" stop-color="#74b2c4"/><stop offset="0.2" stop-color="#8ea9b4"/><stop offset="0.3" stop-color="#a19fa3"/><stop offset="0.4" stop-color="#b09593"/><stop offset="0.5" stop-color="#bd8b83"/><stop offset="0.6" stop-color="#c88173"/><stop offset="0.7" stop-color="#d17564"/><stop offset="0.8" stop-color="#d96954"/><stop offset="0.9" stop-color="#e05b45"/><stop offset="1" stop-color="#e64b35"/></linearGradient>
<rect x="138.4" y="250.3" width="11.1" height="54.7" fill="url(#g4)"/>
<text x="154" y="264.2" font-size="6.2">0.75</text>
<text x="154" y="278.8" font-size="6.2">0.50</text>
<text x="154" y="293.2" font-size="6.2">0.25</text>
<path d="M138.4 262h2.2M149.5 262h-2.2M138.4 276.6h2.2M149.5 276.6h-2.2M138.4 291h2.2M149.5 291h-2.2" stroke="#fff" stroke-width=".5" fill="none" opacity=".9"/>
<text x="138.4" y="318" font-size="6.4">|Cor|</text>
<circle cx="143.9" cy="326.6" r="1.3" fill="none" stroke="#111" stroke-width="1.2"/>
<text x="154" y="328.8" font-size="6.2">0.05</text>
<circle cx="143.9" cy="337.7" r="1.6" fill="none" stroke="#111" stroke-width="1.2"/>
<text x="154" y="339.9" font-size="6.2">0.10</text>
<circle cx="143.9" cy="348.7" r="1.8" fill="none" stroke="#111" stroke-width="1.2"/>
<text x="154" y="350.9" font-size="6.2">0.15</text>
<circle cx="143.9" cy="359.8" r="2" fill="none" stroke="#111" stroke-width="1.2"/>
<text x="154" y="362" font-size="6.2">0.20</text>
<circle cx="143.9" cy="370.9" r="2.2" fill="none" stroke="#111" stroke-width="1.2"/>
<text x="154" y="373.1" font-size="6.2">0.25</text>
</g>
<g id="pF">
<text x="186.8" y="223" font-size="20.2">F</text>
<text x="267.9" y="223.5" font-size="7.7" text-anchor="middle">TMC6</text>
<rect x="240.5" y="228.5" width="56.8" height="159.2" fill="#fff"/>
<path d="M243.35 228.5V387.7M259.85 228.5V387.7M276.35 228.5V387.7M292.85 228.5V387.7" stroke="#e6e6e6" stroke-width=".65" fill="none"/>
<path d="M251.6 228.5V387.7M268.1 228.5V387.7M284.6 228.5V387.7M240.5 232.45H297.3M240.5 239.03H297.3M240.5 245.6H297.3M240.5 252.18H297.3M240.5 258.76H297.3M240.5 265.34H297.3M240.5 271.92H297.3M240.5 278.5H297.3M240.5 285.08H297.3M240.5 291.65H297.3M240.5 298.23H297.3M240.5 304.81H297.3M240.5 311.39H297.3M240.5 317.97H297.3M240.5 324.55H297.3M240.5 331.12H297.3M240.5 337.7H297.3M240.5 344.28H297.3M240.5 350.86H297.3M240.5 357.44H297.3M240.5 364.02H297.3M240.5 370.6H297.3M240.5 377.17H297.3M240.5 383.75H297.3" stroke="#dbdbdb" stroke-width=".95" fill="none"/>
<path d="M251.6 232.45H293.9M251.6 239.03H288.6M251.6 245.6H286.6M251.6 252.18H281.8M251.6 258.76H277M251.6 265.34H275.8M251.6 271.92H270.5M251.6 278.5H268.2M251.6 285.08H267.7M251.6 291.65H267.5M251.6 298.23H266.7M251.6 304.81H265.5M251.6 311.39H265.2M251.6 317.97H264.5M251.6 324.55H264.2M251.6 331.12H264.2M251.6 337.7H260.7M251.6 344.28H260.7M251.6 350.86H260.4M251.6 357.44H260.2M251.6 364.02H258.4M251.6 370.6H252.2M251.6 377.17H251.9M251.6 383.75H242.6" stroke="#1a1a1a" stroke-width="1.15" fill="none"/>
<path d="M251.6 228.5V387.7" stroke="#000" stroke-width="1.05"/>
<circle cx="293.9" cy="232.45" r="2.55" fill="#e64b35"/>
<circle cx="288.6" cy="239.03" r="2.45" fill="#e64b35"/>
<circle cx="286.6" cy="245.6" r="2.42" fill="#e64b35"/>
<circle cx="281.8" cy="252.18" r="2.32" fill="#e64b35"/>
<circle cx="277" cy="258.76" r="2.22" fill="#e64b35"/>
<circle cx="275.8" cy="265.34" r="2.19" fill="#e64b35"/>
<circle cx="270.5" cy="271.92" r="2.07" fill="#e64b35"/>
<circle cx="268.2" cy="278.5" r="2.01" fill="#e64b35"/>
<circle cx="267.7" cy="285.08" r="2" fill="#e64b35"/>
<circle cx="267.5" cy="291.65" r="1.99" fill="#e64b35"/>
<circle cx="266.7" cy="298.23" r="1.97" fill="#e64b35"/>
<circle cx="265.5" cy="304.81" r="1.94" fill="#e64b35"/>
<circle cx="265.2" cy="311.39" r="1.93" fill="#e64b35"/>
<circle cx="264.5" cy="317.97" r="1.91" fill="#e64b35"/>
<circle cx="264.2" cy="324.55" r="1.9" fill="#e64b35"/>
<circle cx="264.2" cy="331.12" r="1.9" fill="#e64b35"/>
<circle cx="260.7" cy="337.7" r="1.8" fill="#e64b35"/>
<circle cx="260.7" cy="344.28" r="1.8" fill="#e64b35"/>
<circle cx="260.4" cy="350.86" r="1.79" fill="#e64b35"/>
<circle cx="260.2" cy="357.44" r="1.78" fill="#e64b35"/>
<circle cx="258.4" cy="364.02" r="1.72" fill="#e3533d"/>
<circle cx="252.2" cy="370.6" r="1.4" fill="#4dbbd5"/>
<circle cx="251.9" cy="377.17" r="1.36" fill="#4dbbd5"/>
<circle cx="242.6" cy="383.75" r="1.79" fill="#e64b35"/>
<path d="M295.8 228.5V387.7" stroke="#111" stroke-width="1.05"/>
<rect x="240.5" y="228.5" width="56.8" height="159.2" fill="none" stroke="#000" stroke-width="1.25"/>
<path d="M234.9 232.45H240.5M234.9 239.03H240.5M234.9 245.6H240.5M234.9 252.18H240.5M234.9 258.76H240.5M234.9 265.34H240.5M234.9 271.92H240.5M234.9 278.5H240.5M234.9 285.08H240.5M234.9 291.65H240.5M234.9 298.23H240.5M234.9 304.81H240.5M234.9 311.39H240.5M234.9 317.97H240.5M234.9 324.55H240.5M234.9 331.12H240.5M234.9 337.7H240.5M234.9 344.28H240.5M234.9 350.86H240.5M234.9 357.44H240.5M234.9 364.02H240.5M234.9 370.6H240.5M234.9 377.17H240.5M234.9 383.75H240.5" stroke="#111" stroke-width=".95" fill="none"/>
<g font-size="6.3" text-anchor="end">
<text x="231.95" y="234.2">T helper cells</text>
<text x="231.95" y="240.78">Tem</text>
<text x="231.95" y="247.35">CD8 T cells</text>
<text x="231.95" y="253.93">T cells</text>
<text x="231.95" y="260.51">Cytotoxic cells</text>
<text x="231.95" y="267.09">Tcm</text>
<text x="231.95" y="273.67">Th1 cells</text>
<text x="231.95" y="280.25">pDC</text>
<text x="231.95" y="286.83">DC</text>
<text x="231.95" y="293.4">B cells</text>
<text x="231.95" y="299.98">aDC</text>
<text x="231.95" y="306.56">NK cells</text>
<text x="231.95" y="313.14">TReg</text>
<text x="231.95" y="319.72">NK CD56dim cells</text>
<text x="231.95" y="326.3">NK CD56bright cells</text>
<text x="231.95" y="332.87">TFH</text>
<text x="231.95" y="339.45">Eosinophils</text>
<text x="231.95" y="346.03">iDC</text>
<text x="231.95" y="352.61">Macrophages</text>
<text x="231.95" y="359.19">Mast cells</text>
<text x="231.95" y="365.77">Neutrophils</text>
<text x="231.95" y="372.35">Th2 cells</text>
<text x="231.95" y="378.92">Tgd</text>
<text x="231.95" y="385.5">Th17 cells</text>
</g>
<g font-size="6.2">
<text x="300.2" y="234.15">***</text>
<text x="300.2" y="240.73">***</text>
<text x="300.2" y="247.3">***</text>
<text x="300.2" y="253.88">***</text>
<text x="300.2" y="260.46">***</text>
<text x="300.2" y="267.04">***</text>
<text x="300.2" y="273.62">***</text>
<text x="300.2" y="280.2">***</text>
<text x="300.2" y="286.78">***</text>
<text x="300.2" y="293.35">***</text>
<text x="300.2" y="299.93">***</text>
<text x="300.2" y="306.51">***</text>
<text x="300.2" y="313.09">***</text>
<text x="300.2" y="319.67">***</text>
<text x="300.2" y="326.25">***</text>
<text x="300.2" y="332.82">***</text>
<text x="300.2" y="339.4">*</text>
<text x="300.2" y="345.98">*</text>
<text x="300.2" y="352.56">*</text>
<text x="300.2" y="359.14">*</text>
<text x="300.2" y="366.42">ns</text>
<text x="300.2" y="373">ns</text>
<text x="300.2" y="379.57">ns</text>
<text x="300.2" y="385.45">**</text>
</g>
<path d="M251.6 387.7V391.7M268.1 387.7V391.7M284.6 387.7V391.7" stroke="#111" stroke-width=".95" fill="none"/>
<text x="252.7" y="399.9" font-size="6.4" text-anchor="middle">0.0</text>
<text x="269.2" y="399.9" font-size="6.4" text-anchor="middle">0.2</text>
<text x="285.7" y="399.9" font-size="6.4" text-anchor="middle">0.4</text>
<text x="268.1" y="410.5" font-size="7.8" text-anchor="middle">Correlation</text>
<text x="312" y="245.4" font-size="6.4">P value</text>
<linearGradient id="g5" x1="0" y1="0" x2="0" y2="1"><stop offset="0" stop-color="#4dbbd5"/><stop offset="0.1" stop-color="#74b2c4"/><stop offset="0.2" stop-color="#8ea9b4"/><stop offset="0.3" stop-color="#a19fa3"/><stop offset="0.4" stop-color="#b09593"/><stop offset="0.5" stop-color="#bd8b83"/><stop offset="0.6" stop-color="#c88173"/><stop offset="0.7" stop-color="#d17564"/><stop offset="0.8" stop-color="#d96954"/><stop offset="0.9" stop-color="#e05b45"/><stop offset="1" stop-color="#e64b35"/></linearGradient>
<rect x="312" y="249" width="11.1" height="54.5" fill="url(#g5)"/>
<text x="327.6" y="261.2" font-size="6.2">0.75</text>
<text x="327.6" y="276.3" font-size="6.2">0.50</text>
<text x="327.6" y="291.2" font-size="6.2">0.25</text>
<text x="327.6" y="305.7" font-size="6.2">0.00</text>
<path d="M312 259h2.2M323.1 259h-2.2M312 274.1h2.2M323.1 274.1h-2.2M312 289h2.2M323.1 289h-2.2M312 303.5h2.2M323.1 303.5h-2.2" stroke="#fff" stroke-width=".5" fill="none" opacity=".9"/>
<text x="312" y="316.8" font-size="6.4">|Cor|</text>
<circle cx="317.5" cy="324.9" r="1.3" fill="none" stroke="#111" stroke-width="1.2"/>
<text x="327.6" y="327.1" font-size="6.2">0.1</text>
<circle cx="317.5" cy="336.2" r="1.6" fill="none" stroke="#111" stroke-width="1.2"/>
<text x="327.6" y="338.4" font-size="6.2">0.2</text>
<circle cx="317.5" cy="347.2" r="1.8" fill="none" stroke="#111" stroke-width="1.2"/>
<text x="327.6" y="349.4" font-size="6.2">0.3</text>
<circle cx="317.5" cy="358.3" r="2" fill="none" stroke="#111" stroke-width="1.2"/>
<text x="327.6" y="360.5" font-size="6.2">0.4</text>
<circle cx="317.5" cy="369.6" r="2.2" fill="none" stroke="#111" stroke-width="1.2"/>
<text x="327.6" y="371.8" font-size="6.2">0.5</text>
</g>
<g id="pG">
<text x="354.8" y="223" font-size="20.2">G</text>
<text x="445.5" y="223.5" font-size="7.7" text-anchor="middle">TMC7</text>
<rect x="416.6" y="228.6" width="59.8" height="159.3" fill="#fff"/>
<path d="M420.95 228.6V387.9M435.85 228.6V387.9M450.75 228.6V387.9M465.65 228.6V387.9" stroke="#e6e6e6" stroke-width=".65" fill="none"/>
<path d="M428.4 228.6V387.9M443.3 228.6V387.9M458.2 228.6V387.9M473.1 228.6V387.9M416.6 232.55H476.4M416.6 239.13H476.4M416.6 245.71H476.4M416.6 252.3H476.4M416.6 258.88H476.4M416.6 265.46H476.4M416.6 272.05H476.4M416.6 278.63H476.4M416.6 285.21H476.4M416.6 291.79H476.4M416.6 298.38H476.4M416.6 304.96H476.4M416.6 311.54H476.4M416.6 318.12H476.4M416.6 324.71H476.4M416.6 331.29H476.4M416.6 337.87H476.4M416.6 344.45H476.4M416.6 351.04H476.4M416.6 357.62H476.4M416.6 364.2H476.4M416.6 370.79H476.4M416.6 377.37H476.4M416.6 383.95H476.4" stroke="#dbdbdb" stroke-width=".95" fill="none"/>
<path d="M443.4 232.55H473.4M443.4 239.13H472.6M443.4 245.71H472.1M443.4 252.3H469.1M443.4 258.88H464.1M443.4 265.46H460.8M443.4 272.05H457.8M443.4 278.63H457.3M443.4 285.21H454.8M443.4 291.79H451.3M443.4 298.38H450.8M443.4 304.96H449.8M443.4 311.54H446.8M443.4 318.12H446.5M443.4 324.71H446.3M443.4 331.29H446M443.4 337.87H442.5M443.4 344.45H441M443.4 351.04H440.5M443.4 357.62H438.5M443.4 364.2H437.7M443.4 370.79H434.2M443.4 377.37H426.9M443.4 383.95H418.6" stroke="#1a1a1a" stroke-width="1.15" fill="none"/>
<path d="M443.4 228.6V387.9" stroke="#000" stroke-width="1.05"/>
<circle cx="473.4" cy="232.55" r="2.55" fill="#e64b35"/>
<circle cx="472.6" cy="239.13" r="2.53" fill="#e64b35"/>
<circle cx="472.1" cy="245.71" r="2.52" fill="#e64b35"/>
<circle cx="469.1" cy="252.3" r="2.44" fill="#e64b35"/>
<circle cx="464.1" cy="258.88" r="2.3" fill="#e64b35"/>
<circle cx="460.8" cy="265.46" r="2.2" fill="#e64b35"/>
<circle cx="457.8" cy="272.05" r="2.1" fill="#e64b35"/>
<circle cx="457.3" cy="278.63" r="2.09" fill="#e64b35"/>
<circle cx="454.8" cy="285.21" r="2" fill="#e64b35"/>
<circle cx="451.3" cy="291.79" r="1.86" fill="#e64b35"/>
<circle cx="450.8" cy="298.38" r="1.84" fill="#e64b35"/>
<circle cx="449.8" cy="304.96" r="1.79" fill="#e2553f"/>
<circle cx="446.8" cy="311.54" r="1.64" fill="#c2867b"/>
<circle cx="446.5" cy="318.12" r="1.62" fill="#bd8b83"/>
<circle cx="446.3" cy="324.71" r="1.61" fill="#ba8d86"/>
<circle cx="446" cy="331.29" r="1.59" fill="#ad9796"/>
<circle cx="442.5" cy="337.87" r="1.45" fill="#4dbbd5"/>
<circle cx="441" cy="344.45" r="1.57" fill="#c2867b"/>
<circle cx="440.5" cy="351.04" r="1.61" fill="#cc7b6c"/>
<circle cx="438.5" cy="357.62" r="1.72" fill="#e2553f"/>
<circle cx="437.7" cy="364.2" r="1.76" fill="#e64b35"/>
<circle cx="434.2" cy="370.79" r="1.92" fill="#e64b35"/>
<circle cx="426.9" cy="377.37" r="2.17" fill="#e64b35"/>
<circle cx="418.6" cy="383.95" r="2.42" fill="#e64b35"/>
<rect x="416.6" y="228.6" width="59.8" height="159.3" fill="none" stroke="#000" stroke-width="1.25"/>
<path d="M411 232.55H416.6M411 239.13H416.6M411 245.71H416.6M411 252.3H416.6M411 258.88H416.6M411 265.46H416.6M411 272.05H416.6M411 278.63H416.6M411 285.21H416.6M411 291.79H416.6M411 298.38H416.6M411 304.96H416.6M411 311.54H416.6M411 318.12H416.6M411 324.71H416.6M411 331.29H416.6M411 337.87H416.6M411 344.45H416.6M411 351.04H416.6M411 357.62H416.6M411 364.2H416.6M411 370.79H416.6M411 377.37H416.6M411 383.95H416.6" stroke="#111" stroke-width=".95" fill="none"/>
<g font-size="6.3" text-anchor="end">
<text x="408.05" y="234.3">Tem</text>
<text x="408.05" y="240.88">pDC</text>
<text x="408.05" y="247.46">NK cells</text>
<text x="408.05" y="254.05">Mast cells</text>
<text x="408.05" y="260.63">Tcm</text>
<text x="408.05" y="267.21">T helper cells</text>
<text x="408.05" y="273.8">Tgd</text>
<text x="408.05" y="280.38">Neutrophils</text>
<text x="408.05" y="286.96">NK CD56dim cells</text>
<text x="408.05" y="293.54">CD8 T cells</text>
<text x="408.05" y="300.13">iDC</text>
<text x="408.05" y="306.71">DC</text>
<text x="408.05" y="313.29">Eosinophils</text>
<text x="408.05" y="319.87">Th17 cells</text>
<text x="408.05" y="326.46">Th1 cells</text>
<text x="408.05" y="333.04">Th2 cells</text>
<text x="408.05" y="339.62">Macrophages</text>
<text x="408.05" y="346.2">aDC</text>
<text x="408.05" y="352.79">T cells</text>
<text x="408.05" y="359.37">TFH</text>
<text x="408.05" y="365.95">Cytotoxic cells</text>
<text x="408.05" y="372.54">B cells</text>
<text x="408.05" y="379.12">TReg</text>
<text x="408.05" y="385.7">NK CD56bright cells</text>
</g>
<g font-size="6.2">
<text x="479.9" y="234.25">***</text>
<text x="479.9" y="240.83">***</text>
<text x="479.9" y="247.41">***</text>
<text x="479.9" y="254">***</text>
<text x="479.9" y="260.58">***</text>
<text x="479.9" y="267.16">***</text>
<text x="479.9" y="273.75">***</text>
<text x="479.9" y="280.33">***</text>
<text x="479.9" y="286.91">***</text>
<text x="479.9" y="293.49">*</text>
<text x="479.9" y="300.08">*</text>
<text x="479.9" y="307.36">ns</text>
<text x="479.9" y="313.94">ns</text>
<text x="479.9" y="320.52">ns</text>
<text x="479.9" y="327.11">ns</text>
<text x="479.9" y="333.69">ns</text>
<text x="479.9" y="340.27">ns</text>
<text x="479.9" y="346.85">ns</text>
<text x="479.9" y="353.44">ns</text>
<text x="479.9" y="360.02">ns</text>
<text x="479.9" y="365.9">*</text>
<text x="479.9" y="372.49">**</text>
<text x="479.9" y="379.07">***</text>
<text x="479.9" y="385.65">***</text>
</g>
<path d="M428.4 387.9V391.9M443.3 387.9V391.9M458.2 387.9V391.9M473.1 387.9V391.9" stroke="#111" stroke-width=".95" fill="none"/>
<text x="429.5" y="399.9" font-size="6.4" text-anchor="middle">−0.2</text>
<text x="444.4" y="399.9" font-size="6.4" text-anchor="middle">0.0</text>
<text x="459.3" y="399.9" font-size="6.4" text-anchor="middle">0.2</text>
<text x="474.2" y="399.9" font-size="6.4" text-anchor="middle">0.4</text>
<text x="445.7" y="410.5" font-size="7.8" text-anchor="middle">Correlation</text>
<text x="491.5" y="250.7" font-size="6.4">P value</text>
<linearGradient id="g6" x1="0" y1="0" x2="0" y2="1"><stop offset="0" stop-color="#4dbbd5"/><stop offset="0.1" stop-color="#74b2c4"/><stop offset="0.2" stop-color="#8ea9b4"/><stop offset="0.3" stop-color="#a19fa3"/><stop offset="0.4" stop-color="#b09593"/><stop offset="0.5" stop-color="#bd8b83"/><stop offset="0.6" stop-color="#c88173"/><stop offset="0.7" stop-color="#d17564"/><stop offset="0.8" stop-color="#d96954"/><stop offset="0.9" stop-color="#e05b45"/><stop offset="1" stop-color="#e64b35"/></linearGradient>
<rect x="491.5" y="254.5" width="11.1" height="54.5" fill="url(#g6)"/>
<text x="507.1" y="259.2" font-size="6.2">0.6</text>
<text x="507.1" y="276.6" font-size="6.2">0.4</text>
<text x="507.1" y="294.2" font-size="6.2">0.2</text>
<path d="M491.5 257h2.2M502.6 257h-2.2M491.5 274.4h2.2M502.6 274.4h-2.2M491.5 292h2.2M502.6 292h-2.2" stroke="#fff" stroke-width=".5" fill="none" opacity=".9"/>
<text x="491.5" y="322.8" font-size="6.4">|Cor|</text>
<circle cx="497" cy="330.9" r="1.4" fill="none" stroke="#111" stroke-width="1.2"/>
<text x="507.1" y="333.1" font-size="6.2">0.1</text>
<circle cx="497" cy="342" r="1.7" fill="none" stroke="#111" stroke-width="1.2"/>
<text x="507.1" y="344.2" font-size="6.2">0.2</text>
<circle cx="497" cy="353" r="1.9" fill="none" stroke="#111" stroke-width="1.2"/>
<text x="507.1" y="355.2" font-size="6.2">0.3</text>
<circle cx="497" cy="364.3" r="2.2" fill="none" stroke="#111" stroke-width="1.2"/>
<text x="507.1" y="366.5" font-size="6.2">0.4</text>
</g>
<g id="pH">
<text x="526" y="223" font-size="20.2">H</text>
<text x="612.95" y="223.5" font-size="7.7" text-anchor="middle">TMC8</text>
<rect x="585.6" y="228.5" width="56.7" height="159.2" fill="#fff"/>
<path d="M592.7 228.5V387.7M606.7 228.5V387.7M620.7 228.5V387.7M634.7 228.5V387.7" stroke="#e6e6e6" stroke-width=".65" fill="none"/>
<path d="M599.7 228.5V387.7M613.7 228.5V387.7M627.7 228.5V387.7M641.7 228.5V387.7M585.6 232.45H642.3M585.6 239.03H642.3M585.6 245.6H642.3M585.6 252.18H642.3M585.6 258.76H642.3M585.6 265.34H642.3M585.6 271.92H642.3M585.6 278.5H642.3M585.6 285.08H642.3M585.6 291.65H642.3M585.6 298.23H642.3M585.6 304.81H642.3M585.6 311.39H642.3M585.6 317.97H642.3M585.6 324.55H642.3M585.6 331.12H642.3M585.6 337.7H642.3M585.6 344.28H642.3M585.6 350.86H642.3M585.6 357.44H642.3M585.6 364.02H642.3M585.6 370.6H642.3M585.6 377.17H642.3M585.6 383.75H642.3" stroke="#dbdbdb" stroke-width=".95" fill="none"/>
<path d="M599.5 232.45H638.4M599.5 239.03H635.6M599.5 245.6H633.4M599.5 252.18H626.8M599.5 258.76H626.1M599.5 265.34H624.8M599.5 271.92H623.1M599.5 278.5H622M599.5 285.08H619.8M599.5 291.65H619.5M599.5 298.23H618.8M599.5 304.81H618.8M599.5 311.39H613.5M599.5 317.97H613M599.5 324.55H612.7M599.5 331.12H609.2M599.5 337.7H606M599.5 344.28H605.7M599.5 350.86H604M599.5 357.44H603.2M599.5 364.02H599.9M599.5 370.6H596.2M599.5 377.17H595.4M599.5 383.75H587.6" stroke="#1a1a1a" stroke-width="1.15" fill="none"/>
<path d="M599.5 228.5V387.7" stroke="#000" stroke-width="1.05"/>
<circle cx="638.4" cy="232.45" r="2.55" fill="#e64b35"/>
<circle cx="635.6" cy="239.03" r="2.5" fill="#e64b35"/>
<circle cx="633.4" cy="245.6" r="2.45" fill="#e64b35"/>
<circle cx="626.8" cy="252.18" r="2.31" fill="#e64b35"/>
<circle cx="626.1" cy="258.76" r="2.3" fill="#e64b35"/>
<circle cx="624.8" cy="265.34" r="2.27" fill="#e64b35"/>
<circle cx="623.1" cy="271.92" r="2.23" fill="#e64b35"/>
<circle cx="622" cy="278.5" r="2.2" fill="#e64b35"/>
<circle cx="619.8" cy="285.08" r="2.15" fill="#e64b35"/>
<circle cx="619.5" cy="291.65" r="2.14" fill="#e64b35"/>
<circle cx="618.8" cy="298.23" r="2.12" fill="#e64b35"/>
<circle cx="618.8" cy="304.81" r="2.12" fill="#e64b35"/>
<circle cx="613.5" cy="311.39" r="1.98" fill="#e64b35"/>
<circle cx="613" cy="317.97" r="1.96" fill="#e64b35"/>
<circle cx="612.7" cy="324.55" r="1.95" fill="#e64b35"/>
<circle cx="609.2" cy="331.12" r="1.84" fill="#e64b35"/>
<circle cx="606" cy="337.7" r="1.73" fill="#e64b35"/>
<circle cx="605.7" cy="344.28" r="1.72" fill="#e64b35"/>
<circle cx="604" cy="350.86" r="1.64" fill="#e2553f"/>
<circle cx="603.2" cy="357.44" r="1.6" fill="#e05b45"/>
<circle cx="599.9" cy="364.02" r="1.38" fill="#4dbbd5"/>
<circle cx="596.2" cy="370.6" r="1.58" fill="#e05b45"/>
<circle cx="595.4" cy="377.17" r="1.62" fill="#e25640"/>
<circle cx="587.6" cy="383.75" r="1.91" fill="#e64b35"/>
<path d="M640.8 228.5V387.7" stroke="#111" stroke-width="1.05"/>
<rect x="585.6" y="228.5" width="56.7" height="159.2" fill="none" stroke="#000" stroke-width="1.25"/>
<path d="M580 232.45H585.6M580 239.03H585.6M580 245.6H585.6M580 252.18H585.6M580 258.76H585.6M580 265.34H585.6M580 271.92H585.6M580 278.5H585.6M580 285.08H585.6M580 291.65H585.6M580 298.23H585.6M580 304.81H585.6M580 311.39H585.6M580 317.97H585.6M580 324.55H585.6M580 331.12H585.6M580 337.7H585.6M580 344.28H585.6M580 350.86H585.6M580 357.44H585.6M580 364.02H585.6M580 370.6H585.6M580 377.17H585.6M580 383.75H585.6" stroke="#111" stroke-width=".95" fill="none"/>
<g font-size="6.3" text-anchor="end">
<text x="577.05" y="234.2">T cells</text>
<text x="577.05" y="240.78">T helper cells</text>
<text x="577.05" y="247.35">Cytotoxic cells</text>
<text x="577.05" y="253.93">TReg</text>
<text x="577.05" y="260.51">CD8 T cells</text>
<text x="577.05" y="267.09">Th1 cells</text>
<text x="577.05" y="273.67">Tem</text>
<text x="577.05" y="280.25">aDC</text>
<text x="577.05" y="286.83">B cells</text>
<text x="577.05" y="293.4">NK CD56bright cells</text>
<text x="577.05" y="299.98">Tcm</text>
<text x="577.05" y="306.56">TFH</text>
<text x="577.05" y="313.14">DC</text>
<text x="577.05" y="319.72">Macrophages</text>
<text x="577.05" y="326.3">NK CD56dim cells</text>
<text x="577.05" y="332.87">Eosinophils</text>
<text x="577.05" y="339.45">Th2 cells</text>
<text x="577.05" y="346.03">Neutrophils</text>
<text x="577.05" y="352.61">iDC</text>
<text x="577.05" y="359.19">pDC</text>
<text x="577.05" y="365.77">NK cells</text>
<text x="577.05" y="372.35">Tgd</text>
<text x="577.05" y="378.92">Mast cells</text>
<text x="577.05" y="385.5">Th17 cells</text>
</g>
<g font-size="6.2">
<text x="645.1" y="234.15">***</text>
<text x="645.1" y="240.73">***</text>
<text x="645.1" y="247.3">***</text>
<text x="645.1" y="253.88">***</text>
<text x="645.1" y="260.46">***</text>
<text x="645.1" y="267.04">***</text>
<text x="645.1" y="273.62">***</text>
<text x="645.1" y="280.2">***</text>
<text x="645.1" y="286.78">***</text>
<text x="645.1" y="293.35">***</text>
<text x="645.1" y="299.93">***</text>
<text x="645.1" y="306.51">***</text>
<text x="645.1" y="313.09">***</text>
<text x="645.1" y="319.67">***</text>
<text x="645.1" y="326.25">***</text>
<text x="645.1" y="332.82">***</text>
<text x="645.1" y="339.4">**</text>
<text x="645.1" y="345.98">*</text>
<text x="645.1" y="353.26">ns</text>
<text x="645.1" y="359.84">ns</text>
<text x="645.1" y="366.42">ns</text>
<text x="645.1" y="373">ns</text>
<text x="645.1" y="379.57">ns</text>
<text x="645.1" y="385.45">***</text>
</g>
<path d="M585.7 387.7V391.7M599.7 387.7V391.7M613.8 387.7V391.7M627.8 387.7V391.7" stroke="#111" stroke-width=".95" fill="none"/>
<text x="586.8" y="399.9" font-size="6.4" text-anchor="middle">−0.25</text>
<text x="600.8" y="399.9" font-size="6.4" text-anchor="middle">0.00</text>
<text x="614.9" y="399.9" font-size="6.4" text-anchor="middle">0.25</text>
<text x="628.9" y="399.9" font-size="6.4" text-anchor="middle">0.50</text>
<text x="613.15" y="410.5" font-size="7.8" text-anchor="middle">Correlation</text>
<text x="657" y="256.5" font-size="6.4">P value</text>
<linearGradient id="g7" x1="0" y1="0" x2="0" y2="1"><stop offset="0" stop-color="#4dbbd5"/><stop offset="0.1" stop-color="#74b2c4"/><stop offset="0.2" stop-color="#8ea9b4"/><stop offset="0.3" stop-color="#a19fa3"/><stop offset="0.4" stop-color="#b09593"/><stop offset="0.5" stop-color="#bd8b83"/><stop offset="0.6" stop-color="#c88173"/><stop offset="0.7" stop-color="#d17564"/><stop offset="0.8" stop-color="#d96954"/><stop offset="0.9" stop-color="#e05b45"/><stop offset="1" stop-color="#e64b35"/></linearGradient>
<rect x="657" y="259.8" width="11.1" height="54.5" fill="url(#g7)"/>
<text x="672.6" y="271.2" font-size="6.2">0.75</text>
<text x="672.6" y="286.6" font-size="6.2">0.50</text>
<text x="672.6" y="301.9" font-size="6.2">0.25</text>
<path d="M657 269h2.2M668.1 269h-2.2M657 284.4h2.2M668.1 284.4h-2.2M657 299.7h2.2M668.1 299.7h-2.2" stroke="#fff" stroke-width=".5" fill="none" opacity=".9"/>
<text x="657" y="327.8" font-size="6.4">|Cor|</text>
<circle cx="662.5" cy="336.2" r="1.5" fill="none" stroke="#111" stroke-width="1.2"/>
<text x="672.6" y="338.4" font-size="6.2">0.2</text>
<circle cx="662.5" cy="347.2" r="1.9" fill="none" stroke="#111" stroke-width="1.2"/>
<text x="672.6" y="349.4" font-size="6.2">0.4</text>
<circle cx="662.5" cy="358.3" r="2.2" fill="none" stroke="#111" stroke-width="1.2"/>
<text x="672.6" y="360.5" font-size="6.2">0.6</text>
</g>
<g id="pI">
<text x="16.2" y="424.9" font-size="20.2">I</text>
<path d="M56.6 487.5h0M50 524.8h0M49.8 482.6h0M48.1 483.4h0M56.6 490h0M47.8 508.6h0M52.9 525.9h0M47.8 510.1h0M48.5 511.3h0M48.1 479.8h0M56.4 485.2h0M49.9 518.1h0M56.7 509.7h0M47.9 519.7h0M49 516.2h0M48.2 511.1h0M56.1 520.3h0M52.3 474h0M55.5 475.6h0M48.5 481.8h0M50.1 478.5h0M48.3 520h0M47.9 520.4h0M48.2 482h0M53.9 523.3h0M48 524.7h0M54.7 477.7h0M52.8 476.7h0M56.8 480.4h0M51.4 476.6h0M55.5 524h0M56.1 523.9h0M55.9 515.8h0M55.1 515.3h0M55.4 523.1h0M51 473.8h0M56.1 522.4h0M48 479.5h0M48.7 479.6h0M48.6 515.4h0M52.3 539.1h0M56.7 522.1h0M48 486.4h0M48.6 517.1h0M55.7 515h0M54.4 481.1h0M57 482.5h0M56.4 485.6h0M56.1 479h0M55.2 539.1h0M55.5 481.9h0M56.2 485h0M48.6 487.6h0M53.7 532.7h0M50.4 480.8h0M50.8 522.7h0M56.7 512.3h0M56.2 486.3h0M49.3 479.6h0M55.5 478.6h0M56.1 520.6h0M48 521h0M54.2 523.5h0M49.9 518.1h0M53.9 524.2h0M54.9 525.2h0M47.8 488.5h0M47.8 512h0M56.9 484.5h0M47.9 524h0M56.5 510.2h0M53.7 522.4h0M53 531.3h0M56.2 538.8h0M57 507.1h0M56.2 514.1h0M50 480.7h0M48.2 486h0M50.7 521.4h0M48.1 514.5h0M53.2 524h0" stroke="#8fd5e6" stroke-width="1.4" stroke-linecap="square" fill="none" opacity=".85"/>
<path d="M52.4 472.3L52.49 473.9L52.5 474L52.73 475.4L53.2 477L53.69 478.5L54.18 480.1L54.67 481.6L55.14 483.2L55.59 484.7L56.01 486.3L56.4 487.8L56.75 489.4L57.05 490.9L57.31 492.5L57.51 494L57.66 495.6L57.76 497.1L57.8 498.7L57.8 499L57.78 500.2L57.72 501.8L57.6 503.3L57.44 504.9L57.22 506.5L56.97 508L56.68 509.6L56.36 511.1L56.01 512.7L55.64 514.2L55.25 515.8L54.86 517.3L54.46 518.9L54.08 520.4L53.71 522L53.36 523.5L53.04 525.1L52.77 526.6L52.54 528.2L52.53 529.7L52.53 530.7L52.53 531.3L52.53 532.8L52.53 534.4L52.53 535.9L52.53 537.5L52.49 539L52.4 540.6L52.21 539L52.17 537.5L52.17 535.9L52.17 534.4L52.17 532.8L52.17 531.3L52.17 530.7L52.17 529.7L52.16 528.2L51.93 526.6L51.66 525.1L51.34 523.5L50.99 522L50.62 520.4L50.24 518.9L49.84 517.3L49.45 515.8L49.06 514.2L48.69 512.7L48.34 511.1L48.02 509.6L47.73 508L47.48 506.5L47.26 504.9L47.1 503.3L46.98 501.8L46.92 500.2L46.9 499L46.9 498.7L46.94 497.1L47.04 495.6L47.19 494L47.39 492.5L47.65 490.9L47.95 489.4L48.3 487.8L48.69 486.3L49.11 484.7L49.56 483.2L50.03 481.6L50.52 480.1L51.01 478.5L51.5 477L51.97 475.4L52.2 474L52.21 473.9Z" fill="#58bfd8" stroke="#0a0a0a" stroke-width=".62" stroke-linejoin="round"/>
<path d="M53.8 494.4h0M51.7 507h0M48.8 492.1h0M54.2 492.8h0M48.8 503.8h0M50.1 505.4h0M53.6 499.6h0M51.1 482.6h0M50.9 482.4h0M48.6 505.3h0M49.2 490.4h0M50.7 508.7h0M51 487.8h0M55.2 505h0M55.1 504.9h0M52.8 517.2h0M50.4 486.7h0M51.6 512.4h0M50.8 501.8h0M52.6 490.6h0M54.8 493.6h0M50.9 506.5h0M48.2 499.9h0M51.8 503.7h0M52.4 506.6h0M51.4 490.3h0M56.1 504.2h0M50.9 492.9h0M51.7 512.5h0M49.4 490.4h0M53.7 503.1h0M49.2 499.2h0M52.6 500.5h0M50 487.1h0M49.8 493.6h0M49.2 497.8h0M49.5 497.8h0M54.4 514.4h0M50 485.9h0M51.1 514.6h0M51 493.6h0M54.5 497.1h0M49 497.6h0M52.5 487.2h0M53.5 513.2h0M52.1 503.6h0M53.6 507.1h0M52.4 507.2h0M52.4 486.5h0M51.8 496.9h0M50.6 512.3h0M52.1 486.2h0M49.9 508.6h0M50.5 484.2h0M51.9 504.1h0M50.7 494.6h0M53.5 493.3h0M54.4 489.8h0M53.5 506.7h0M54.9 500.5h0M55.5 506.1h0M52.3 487h0M56 506.5h0M50.7 516.4h0M49.2 494.6h0M53.6 502h0M52 506.5h0M56.4 500.3h0M50.2 496.6h0M51 501h0M52.8 504.3h0M51.7 498h0M53.8 501.6h0M49.9 510.2h0M52 506h0M56.7 497.9h0M54.9 504.7h0M50.5 509.6h0M51.6 489.9h0M56.4 501.7h0M53.7 500.5h0M53.6 497.1h0M56 493.4h0M49.4 504.9h0M52.5 513.1h0M49.5 489.6h0M56.7 499.4h0M54.8 492.7h0M49 504.9h0M49.1 490.5h0M52.1 517.9h0M50.2 504.9h0M53.2 483.5h0M52.5 507.8h0M50.3 506h0M55 499.3h0M53.6 489.3h0M52.7 490.6h0M53.8 514h0M52.1 509.7h0M52.5 488.8h0M52.3 488.6h0M52.9 492.3h0M50.5 502.6h0M51.3 507.6h0M51.2 508.2h0M55.3 495.7h0M51 494.3h0M51.9 512.1h0M50 502.3h0M55.3 493.8h0M54.4 488.9h0M51 488.9h0M52.7 510.7h0M49.4 496.3h0M53.9 488.5h0M55.2 502.6h0M51.9 506.8h0M53.4 497.4h0M53 498.6h0M50.4 497h0M49.4 496.3h0M51.2 485.8h0M51 489.4h0M51 502.7h0M55.5 503.8h0M49.6 492.1h0M52.1 480h0M55.4 494.6h0M49.1 506.1h0M54.1 512h0M48.5 502.6h0M54.4 502.3h0M52.9 492.5h0M50.5 505.1h0M53.9 502.9h0M52.6 489.6h0M51.5 512.5h0M54.1 510.2h0M53.4 499.2h0M53.1 497h0M53.1 496.5h0M52.4 490.9h0M52.8 515.7h0M49.9 505.2h0M50.5 502.7h0M53.1 495.6h0M50.2 505.4h0M49.7 490.6h0M50.8 500h0M53.5 500.6h0M56.1 503.7h0M49.8 490.2h0M55.4 490.6h0M56 494.9h0M55.9 503.2h0M50.1 490.9h0M51.1 500.2h0M51.5 498.7h0M51.2 489.7h0M52.8 494.5h0M52.8 494.3h0M49.9 497.4h0M50.4 497.4h0M54.9 510.1h0" stroke="#8fd5e6" stroke-width="1.4" stroke-linecap="square" fill="none" opacity=".55"/>
<path d="M49.05 500.1h6.6" stroke="#000" stroke-width=".95"/>
<ellipse cx="52.35" cy="500.1" rx="1.6" ry="1.2" fill="#000"/>
<path d="M66.4 485.4h0M59.2 487.6h0M65.3 481.4h0M67.6 525.9h0M65.8 513.7h0M63.3 520h0M61.8 517.4h0M60.3 513.8h0M67.3 488.1h0M67.4 488.7h0M59.4 488.1h0M60.9 488.5h0M66.6 514.3h0M60.7 515.5h0M60.4 490.5h0M65.9 481.3h0M59.4 490.4h0M66.8 475.9h0M66.2 515.7h0M60.8 485.6h0M59.9 515h0M66.9 486.5h0M63 516.2h0M68 493.9h0M64.9 482.9h0M67.7 513.1h0M61.5 478.3h0M65 486h0M60.2 512.1h0M63.6 477.4h0M66.6 511.7h0M67.3 514.1h0M67.4 493.4h0M59.3 531.1h0M60.3 510.1h0M67.9 508.9h0M65.9 513.6h0M67.9 508.6h0M58.8 490.9h0M60.7 521.9h0M67.6 490.7h0M59.6 484.9h0M67.7 489.2h0M67.7 492.5h0M64.8 514h0M67.4 485.8h0M62.6 483.4h0M65.9 484.6h0M67.7 490.9h0M66.2 512.6h0M59.6 485.5h0M66.6 487.2h0M65.3 478.1h0M60.2 512.5h0M58.9 488.2h0M59 485.8h0M63 482.6h0M58.9 507.4h0M66.2 525h0M62.4 514.3h0M59.8 510.3h0M60.9 488.9h0M59.7 490.8h0M61.9 529.9h0M66.6 526.3h0M59.8 488.5h0M65.3 525.7h0M61.3 515h0M67.5 517.4h0M62.7 529.3h0M65.3 516.3h0M59.9 491.9h0M65.5 477.5h0M65.6 480.8h0M60.9 516.2h0M59.1 510.6h0M59.2 511.6h0M61.3 513.2h0M64.5 531.6h0M66.4 530.3h0M58.9 528.3h0M61.3 485.4h0M62.1 478.7h0M63.8 524h0M58.9 508.2h0M64.6 483.2h0M59.4 512.5h0M61.1 519.2h0M67.4 490.9h0M62.7 521.3h0M63.4 479.9h0M60.7 487.7h0" stroke="#f18f81" stroke-width="1.4" stroke-linecap="square" fill="none" opacity=".85"/>
<path d="M63.5 472L63.57 473.4L63.63 474.8L63.63 476.1L63.63 477.5L63.63 478.9L63.63 480.2L63.63 481.3L63.63 481.6L64 483L64.49 484.4L65 485.8L65.51 487.1L66 488.5L66.48 489.9L66.93 491.2L67.34 492.6L67.72 494L68.05 495.4L68.33 496.8L68.55 498.1L68.73 499.5L68.84 500.9L68.9 502.2L68.9 502.8L68.87 503.6L68.69 505L68.36 506.4L67.89 507.8L67.31 509.1L66.66 510.5L65.96 511.9L65.26 513.2L64.6 514.6L64.03 516L63.63 517.4L63.63 518.5L63.63 518.8L63.63 520.1L63.63 521.5L63.63 522.9L63.63 524.2L63.63 525.6L63.63 527L63.63 528.4L63.63 529.8L63.57 531.1L63.5 532.5L63.33 531.1L63.27 529.8L63.27 528.4L63.27 527L63.27 525.6L63.27 524.2L63.27 522.9L63.27 521.5L63.27 520.1L63.27 518.8L63.27 518.5L63.27 517.4L62.87 516L62.3 514.6L61.64 513.2L60.94 511.9L60.24 510.5L59.59 509.1L59.01 507.8L58.54 506.4L58.21 505L58.03 503.6L58 502.8L58 502.2L58.06 500.9L58.17 499.5L58.35 498.1L58.57 496.8L58.85 495.4L59.18 494L59.56 492.6L59.97 491.2L60.42 489.9L60.9 488.5L61.39 487.1L61.9 485.8L62.41 484.4L62.9 483L63.27 481.6L63.27 481.3L63.27 480.2L63.27 478.9L63.27 477.5L63.27 476.1L63.27 474.8L63.33 473.4Z" fill="#e75642" stroke="#0a0a0a" stroke-width=".62" stroke-linejoin="round"/>
<path d="M65.2 501.2h0M62.7 505.6h0M61.8 496.7h0M63.9 510.8h0M60.1 504.7h0M65.7 499.2h0M63.6 499.9h0M64.2 511.1h0M60.3 494.7h0M63.1 504.4h0M62.2 504.4h0M59.9 496.4h0M63.1 497.3h0M61.2 498.5h0M59.8 497h0M64.1 492.6h0M66.1 504.5h0M64.3 496.2h0M60.5 499.5h0M62.1 510.1h0M59.8 499.5h0M61.1 502.7h0M65.6 498.6h0M63 508.2h0M61.8 490.2h0M62.6 488.6h0M66.5 504.2h0M65.2 501.9h0M60.4 507.5h0M64.1 495.2h0M59.4 498.6h0M64 500.4h0M60 506h0M67.1 503.6h0M65.3 506.5h0M61.8 492.3h0M59.3 501h0M64.7 507.2h0M65 501.3h0M61.6 500.2h0M62.5 498.5h0M60.3 504.2h0M62.3 488.1h0M66.5 504.6h0M59.6 503.1h0M65.8 492.6h0M63.2 501.4h0M60.3 507.8h0M62.7 496.4h0M60.5 505.2h0M64.4 499.3h0M60.4 505.9h0M66.3 503.1h0M67.4 501.6h0M66.4 494.8h0M65.6 500.4h0M62.9 504.2h0M61.7 495.3h0M65 504.9h0M67.2 505.4h0M64 502.4h0M63.2 486.6h0M64.4 502.4h0M64.6 511.2h0M65.1 492.3h0M62.8 496.2h0M63.3 500.6h0M65 502.5h0M61.5 502.9h0M62.1 488.5h0M66 497.8h0M64.3 498.6h0M64.6 492.1h0M61.8 507.5h0M66.3 505.2h0M63.5 494.3h0M63.5 509.1h0M64.5 511.5h0M63 500.1h0M63.5 494.3h0M66.1 500.5h0M64.2 501.2h0M66.3 498.5h0M66.6 498.6h0M63.3 511.2h0M63.1 487.1h0M62.9 511.8h0M63.7 497.1h0M61.4 495.8h0M61.3 498.6h0M65.4 490.3h0M66.5 503.3h0M62.9 502.1h0M62.3 502.5h0M66.8 495h0M62.5 504.7h0M61.7 499.9h0M67.7 501.1h0M63.5 495.9h0M62.6 494.7h0M63.9 488.7h0M60.3 500.2h0M62 499.2h0M61.2 506.3h0M62.7 497h0M61.1 504.8h0M63.8 498.7h0M63.3 485.6h0M61.9 510.6h0M65.4 490.2h0M61.7 495.5h0M61.8 506h0M61.9 500.4h0M63.3 505h0M66.4 498.5h0M60.8 503h0M66 505.6h0M64 497.5h0M62.2 499.2h0M60.3 498.5h0M65.9 492.1h0M62.3 503.8h0M61.1 505.3h0M66.6 500.3h0M66.3 505.4h0M63.8 491.5h0M61.9 499.9h0M67 503.1h0M63 491.5h0M64.2 487.4h0M66.7 496.7h0M63.2 491.6h0M66.9 498.4h0M63.8 493.6h0M64.1 506.7h0M64.1 509.5h0M61.8 497.1h0" stroke="#f18f81" stroke-width="1.4" stroke-linecap="square" fill="none" opacity=".55"/>
<path d="M60.15 502.7h6.6" stroke="#000" stroke-width=".95"/>
<ellipse cx="63.45" cy="502.7" rx="1.6" ry="1.2" fill="#000"/>
<path d="M82.5 529.9h0M82.7 502.2h0M76.5 505h0M84.5 506.2h0M82.3 530.5h0M76 498.3h0M80.1 536.5h0M75.7 502.5h0M84.4 496.2h0M76.3 532.9h0M80.7 532.1h0M75.4 522.6h0M77.3 529h0M81.8 500.6h0M75.8 535.8h0M83.3 503h0M83.7 499.8h0M75.8 506.7h0M78.3 499h0M81.6 536.8h0M75.6 508.9h0M75.5 527.9h0M84.3 525.4h0M83.1 544.6h0M76 508h0M79.6 497.4h0M76.2 526.6h0M79.2 541.9h0M76.4 538.5h0M83.7 507.4h0M76 507.3h0M77.7 501.9h0M82.2 502.9h0M79.7 534h0M75.3 505.6h0M81.1 539.8h0M77.1 530.8h0M84.4 505.8h0M82 548.4h0M75.4 523.4h0M84.6 525.5h0M75.4 502.3h0M82.7 503.5h0M77.5 548.7h0M77.9 528.4h0M76.5 544.6h0M75.3 508.6h0M84.1 523.2h0M83 532.7h0M76.3 499.7h0M84.6 523.8h0M76 523.8h0M76.8 504.2h0M75.9 506.7h0M81.3 532.8h0M83.7 530.3h0M75.3 524.9h0M84.6 498.7h0M84.1 500.6h0M83.4 526.1h0M84.4 531.4h0M79 541.5h0M78.3 546.7h0M77.3 501.5h0M83.9 524.8h0M79.3 532.5h0M77.8 527.7h0M76.7 504.4h0M83.1 503.6h0M76.8 527h0M76.6 550.2h0M80.4 495.8h0M82.6 526.6h0M78 542.3h0M83.8 523.5h0M75.4 523.1h0M84.1 550.8h0M81.6 529.6h0M83.4 498.7h0M75.9 533.6h0M76.1 506.2h0M83.9 531.2h0M84 533.8h0M78.8 545.4h0M81.3 552.3h0M84.6 504.8h0M83.4 530.9h0M75.3 500.3h0M84.4 506.8h0" stroke="#8fd5e6" stroke-width="1.4" stroke-linecap="square" fill="none" opacity=".85"/>
<path d="M80 495.6L80.07 496.9L80.11 497.4L80.22 498.2L80.74 499.5L81.28 500.8L81.83 502.1L82.37 503.4L82.88 504.7L83.37 506L83.82 507.3L84.22 508.6L84.57 509.9L84.87 511.2L85.1 512.5L85.27 513.8L85.37 515.1L85.4 516.3L85.4 516.4L85.35 517.7L85.21 519L84.98 520.3L84.67 521.6L84.28 522.9L83.84 524.2L83.36 525.4L82.84 526.7L82.31 528L81.78 529.3L81.28 530.6L80.82 531.9L80.43 533.2L80.13 534.5L80.13 535.8L80.13 536L80.13 537.1L80.13 538.4L80.13 539.7L80.13 541L80.13 542.3L80.13 543.6L80.13 544.9L80.13 546.2L80.13 547.5L80.13 548.8L80.13 550.1L80.07 551.4L80 552.7L79.83 551.4L79.77 550.1L79.77 548.8L79.77 547.5L79.77 546.2L79.77 544.9L79.77 543.6L79.77 542.3L79.77 541L79.77 539.7L79.77 538.4L79.77 537.1L79.77 536L79.77 535.8L79.77 534.5L79.47 533.2L79.08 531.9L78.62 530.6L78.12 529.3L77.59 528L77.06 526.7L76.54 525.4L76.06 524.2L75.62 522.9L75.23 521.6L74.92 520.3L74.69 519L74.55 517.7L74.5 516.4L74.5 516.3L74.53 515.1L74.63 513.8L74.8 512.5L75.03 511.2L75.33 509.9L75.68 508.6L76.08 507.3L76.53 506L77.02 504.7L77.53 503.4L78.07 502.1L78.62 500.8L79.16 499.5L79.68 498.2L79.79 497.4L79.83 496.9Z" fill="#58bfd8" stroke="#0a0a0a" stroke-width=".62" stroke-linejoin="round"/>
<path d="M81.4 515.6h0M80.2 508.1h0M79.4 508h0M78.1 522.4h0M80.2 515.5h0M79 507.4h0M83.7 516.7h0M80.7 516h0M80.3 510.2h0M76.8 520.8h0M80.4 523.7h0M78.6 510.1h0M76.2 511.4h0M84 516.4h0M79.7 511.4h0M80.4 506.5h0M80.3 520.3h0M76.3 520.1h0M81.5 506.1h0M80.1 516.9h0M80.4 519.9h0M80.5 507.5h0M80 527.4h0M82.2 507h0M83.4 521.2h0M79.9 516.3h0M77.2 507.4h0M80.9 521h0M81.5 522.7h0M82.4 507.1h0M80.7 518.8h0M82.3 522.8h0M80.8 524.7h0M77.3 524.1h0M81.5 524.7h0M79.7 503.3h0M77 511.7h0M76.7 522.6h0M76.4 514.5h0M76 512.7h0M80.1 526h0M82.8 513.9h0M79.7 515h0M78.3 509.7h0M80.4 509.4h0M80.4 523.6h0M77.3 514.7h0M80.6 515.4h0M76.6 515.2h0M80.2 510.3h0M76.4 519.5h0M83.7 511.6h0M79.6 526.9h0M79.3 517.3h0M83.9 514.9h0M80.5 521.4h0M83.2 513.9h0M82.2 515.1h0M78.8 521.6h0M79.4 508.4h0M80.2 517.7h0M80.9 515.7h0M80.1 508h0M83.1 517.9h0M78.5 519.6h0M83.5 512.7h0M80.3 528.4h0M83.1 519.1h0M76.7 515.8h0M76.1 519h0M78.1 518.3h0M79 515.3h0M82.5 511.8h0M78.1 508.2h0M83.2 520.5h0M77.2 510.2h0M83.7 511h0M78.7 516.9h0M79.7 521.7h0M83.2 521.9h0M83.2 514.3h0M81.9 518.6h0M83.5 516.4h0M83.6 519h0M80.4 525.9h0M80.6 516.5h0M80.2 513h0M76.2 520.8h0M80.3 519.9h0M81.9 514.5h0M80.7 503.3h0M79.9 504.5h0M79.7 511.2h0M78.7 517.9h0M81.9 525.6h0M81 507.9h0M79.9 506.5h0M84 516.5h0M82.5 519.4h0M77.2 520.5h0M81.2 507.7h0M80.6 519.6h0M80.3 513h0M82 508.9h0M80.6 511.9h0M80.8 516.4h0M83.7 515.7h0M77 511.9h0M78.2 506.6h0M80.5 508.9h0M78.7 511.7h0M78.6 525.4h0M77.9 507.8h0M77.3 513.8h0M83.7 511h0M80.8 510.9h0M80.9 519.1h0M78.9 518.5h0M79.8 512h0M78.3 517.5h0M81.7 511.8h0M76.5 520.8h0M81.4 515.2h0M80.2 521.1h0M80.6 522.1h0M81.1 515.8h0M80.9 509.1h0M81.6 516.5h0M79.7 527.7h0M78.5 517.4h0M79.6 511.5h0M77.4 522.1h0M83.5 511.2h0M80.2 509.6h0M77.8 513.1h0M81.4 511.9h0M80.7 525h0M79.4 527.3h0M78.6 521.6h0M79.5 523.9h0M80 502.9h0M79.1 509.7h0M81.7 509.5h0M82.9 514.8h0M78.9 519.3h0M76.9 515.1h0M80.2 505.5h0M82.3 507.1h0M77.9 520.9h0" stroke="#8fd5e6" stroke-width="1.4" stroke-linecap="square" fill="none" opacity=".55"/>
<path d="M76.65 518.3h6.6" stroke="#000" stroke-width=".95"/>
<ellipse cx="79.95" cy="518.3" rx="1.6" ry="1.2" fill="#000"/>
<path d="M93.5 521.5h0M88.2 530.7h0M93.7 521.5h0M88.4 504.8h0M88.4 535.6h0M94.7 520.1h0M88.6 501.9h0M94.3 503.6h0M87.6 505.1h0M88.6 522.3h0M87.7 505h0M89.5 502.4h0M94.7 507h0M95 498.3h0M87.4 527.1h0M88 521.2h0M93.7 498.3h0M89.7 533h0M87.5 501.3h0M95.3 521.6h0M95.1 519.8h0M87.8 523.1h0M88.3 521.3h0M92.3 502.8h0M89.3 523.1h0M88.6 532.3h0M87.7 526.3h0M91.5 531.4h0M95.7 506h0M94 538.6h0M93 528.8h0M87.5 520.1h0M95.5 524.8h0M92.9 537h0M95 519.4h0M93 523.7h0M95.2 527.3h0M92.1 523.5h0M86.5 502.4h0M92.5 523.7h0M94.1 521.6h0M93.2 521.9h0M91.8 500.9h0M86.8 523h0M86.5 517.7h0M87.9 521h0M87.6 502.3h0M89.2 524.5h0M92.4 503.1h0M86.4 518.7h0M88.1 521.9h0M92.6 524.6h0M86.7 520.8h0M87.8 522.8h0M95.3 508.6h0M87.7 505.9h0M87.9 533.8h0M94.8 507.6h0M94.6 525.2h0M88.4 527.1h0M88 521.2h0M90 531.3h0M89.3 497.6h0M86.4 504.4h0M94.9 519.5h0M95.1 504.7h0M86.8 509h0M95.2 519.4h0M94.8 507.4h0M94.4 526.4h0M90.3 531.7h0M92.4 536.8h0M86.5 519.4h0M88.5 521.9h0M95.2 505.3h0M86.6 517.7h0M89.1 500.6h0M89.2 503.8h0M87 522.4h0M88.9 523.5h0M89.1 502.6h0M94 521h0M94.5 506.3h0M95.2 524.6h0M87.3 520.5h0M87.4 507.5h0M94.1 536h0M87.7 505.4h0M94.9 520.4h0" stroke="#f18f81" stroke-width="1.4" stroke-linecap="square" fill="none" opacity=".85"/>
<path d="M91 496.2L91.14 497.2L91.23 498.2L91.23 499.2L91.23 500L91.23 500.2L91.61 501.1L92.15 502.1L92.7 503.1L93.25 504.1L93.79 505.1L94.29 506.1L94.76 507.1L95.19 508.1L95.56 509.1L95.88 510L96.14 511L96.33 512L96.45 513L96.5 514L96.5 514.2L96.46 515L96.3 516L96.01 517L95.62 518L95.14 518.9L94.59 519.9L93.98 520.9L93.36 521.9L92.75 522.9L92.18 523.9L91.68 524.9L91.28 525.9L91.23 526.8L91.23 527L91.23 527.8L91.23 528.8L91.23 529.8L91.23 530.8L91.23 531.8L91.23 532.8L91.23 533.8L91.23 534.8L91.23 535.7L91.23 536.7L91.23 537.7L91.14 538.7L91 539.7L90.96 538.7L90.87 537.7L90.87 536.7L90.87 535.7L90.87 534.8L90.87 533.8L90.87 532.8L90.87 531.8L90.87 530.8L90.87 529.8L90.87 528.8L90.87 527.8L90.87 527L90.87 526.8L90.82 525.9L90.42 524.9L89.92 523.9L89.35 522.9L88.74 521.9L88.12 520.9L87.51 519.9L86.96 518.9L86.48 518L86.09 517L85.8 516L85.64 515L85.6 514.2L85.6 514L85.65 513L85.77 512L85.96 511L86.22 510L86.54 509.1L86.91 508.1L87.34 507.1L87.81 506.1L88.31 505.1L88.85 504.1L89.4 503.1L89.95 502.1L90.49 501.1L90.87 500.2L90.87 500L90.87 499.2L90.87 498.2L90.96 497.2Z" fill="#e75642" stroke="#0a0a0a" stroke-width=".62" stroke-linejoin="round"/>
<path d="M92.5 511.4h0M91.3 510h0M92.8 505.4h0M88.6 519.3h0M94.1 508.9h0M91.1 507.8h0M90.3 514.6h0M89.2 511.4h0M93.1 508.6h0M89.8 513.6h0M88.8 519.4h0M90.1 515.2h0M88.3 514.2h0M90.3 503.7h0M90.8 515.4h0M90.4 509.5h0M87.1 512.2h0M89.6 514.9h0M92.7 514.6h0M87 511.5h0M90.9 515.6h0M91.1 503.5h0M89.9 521.4h0M93 505.8h0M93.8 511.7h0M93.5 517.8h0M87.5 509.9h0M88.6 512.7h0M95.2 513.6h0M89.1 514h0M88.1 515.7h0M91.2 511.3h0M90.3 507.8h0M91.6 509.7h0M92.7 515.6h0M87.8 517.8h0M93.8 511.3h0M88.4 511.8h0M88.6 512.8h0M91.7 519.4h0M88.5 508.9h0M91.8 515.1h0M88.6 511.9h0M94.1 509.2h0M87.8 509.8h0M87 513.3h0M90.7 513.5h0M87.5 517.3h0M90.3 505.1h0M91.2 519.8h0M87.8 512.2h0M90.8 514.7h0M92.5 509h0M89.9 513.6h0M91.8 511.8h0M91.1 519h0M93.4 515h0M94 510.2h0M92 506.6h0M87.8 516h0M93.9 508.6h0M88.1 516.4h0M88.2 517.5h0M95.1 512.9h0M90.6 514.8h0M93.9 509.2h0M92.4 516.9h0M87.6 509.5h0M93 516h0M92 517.5h0M92.3 509.3h0M89 511.3h0M92.8 515.4h0M93.8 511h0M91 508.9h0M94.5 510.5h0M86.9 514.2h0M88.8 515.4h0M90.6 512h0M87.2 511h0M92 515.1h0M87.8 515.2h0M88.7 515h0M95.3 514.7h0M93.3 509.1h0M87.4 512.8h0M91.9 513.8h0M92.9 508.5h0M90.2 508.7h0M92.7 516.9h0M91.1 521.5h0M91.7 514.7h0M91.8 509.4h0M89.3 511.6h0M89.4 512.4h0M92.7 515.6h0M87.2 514.1h0M92.1 514.1h0M94.1 508.4h0M88.6 509.4h0M92.1 505.8h0M90.3 504.4h0M87.2 513.7h0M90.4 511.2h0M90.3 512.7h0M95 513.7h0M92.9 517.4h0M92.6 510.5h0M88.4 507.8h0M87.7 516.7h0M88.7 510.4h0M88.7 514.3h0M92.9 511.1h0M89 517.4h0M91 506.7h0M89.5 514.8h0M91.1 513.7h0M94 512.9h0M90.7 508.5h0M90.5 516.2h0M92.7 515.5h0M91.9 512.9h0M94.6 516.7h0M88.5 511.6h0M94.2 516.4h0M93.7 512h0M91.7 508.4h0M94.3 516.8h0M92.3 507.9h0M91.7 507.3h0M94.1 510h0M92 511.8h0M94 517.3h0M88 517.6h0M88.1 515.3h0M91.8 506.1h0M92.8 510.6h0M92.2 513.1h0M88.6 511.1h0M87.6 516.8h0M90.9 503.6h0M88.2 515.1h0M91.1 508.4h0M89.9 519.1h0M91.3 512.6h0M92 511.9h0M89.6 517.1h0M94.3 511.3h0M88.3 516.3h0M89.4 508.3h0M92.6 520.4h0M93.5 518.1h0M92.8 509.5h0M88.5 514.3h0M95 514.6h0M88.9 510.3h0" stroke="#f18f81" stroke-width="1.4" stroke-linecap="square" fill="none" opacity=".55"/>
<path d="M87.75 515.3h6.6" stroke="#000" stroke-width=".95"/>
<ellipse cx="91.05" cy="515.3" rx="1.6" ry="1.2" fill="#000"/>
<path d="M107.4 546.9h0M105.4 456.9h0M109.2 514.9h0M103.4 512.4h0M105.6 549.4h0M109.8 449.4h0M105.8 524.5h0M104.1 451.9h0M108.2 551.7h0M111.1 527.9h0M107.2 528.6h0M105.7 515.1h0M104.7 541.4h0M110.7 453.5h0M103.3 453.2h0M106.3 518.9h0M111.3 503.8h0M103.4 498.9h0M111.6 502.1h0M106.3 563.6h0M112.2 468h0M111.5 519.7h0M107.7 542.3h0M104.7 560.9h0M103.7 508.3h0M104.6 511.9h0M103.1 454.7h0M104.6 508.1h0M112.1 501.9h0M105 453.9h0M106.7 530h0M103.3 506.3h0M111 508.2h0M106.1 516.1h0M112 510.3h0M112.1 463.3h0M103.2 500.9h0M105 516.1h0M105.1 533h0M110.1 457.2h0M110.5 455h0M110.4 528.8h0M107.5 525.9h0M112 459.6h0M110.4 515.8h0M110.4 553.8h0M105.5 521.5h0M103.5 503.2h0M112 507.1h0M111.3 542.8h0M103 463.4h0M105 513.5h0M110.8 510.2h0M104.1 506.4h0M105.6 521h0M110.5 563.2h0M103.6 466.6h0M103.6 502.7h0M111.8 461.8h0M112.2 467.6h0M109.7 517.3h0M111.6 452.8h0M112.1 496.7h0M103.5 508.9h0M103.4 463.4h0M110.5 457.4h0M105.8 451.7h0M112 501.8h0M104.8 512.5h0M104.8 525h0M104.3 521.7h0M110.8 521.2h0M112.2 506.8h0M104.3 561.3h0" stroke="#8fd5e6" stroke-width="1.4" stroke-linecap="square" fill="none" opacity=".85"/>
<path d="M107.6 441.7L107.73 444.5L107.73 446L107.76 447.3L108.31 450L108.88 452.8L109.46 455.6L110.03 458.4L110.58 461.2L111.09 463.9L111.55 466.7L111.96 469.5L112.31 472.3L112.6 475.1L112.81 477.8L112.94 480.6L113 483.4L113 484L112.98 486.2L112.88 489L112.71 491.7L112.47 494.5L112.17 497.3L111.81 500.1L111.41 502.9L110.97 505.6L110.5 508.4L110.02 511.2L109.54 514L109.08 516.7L108.65 519.5L108.26 522.3L107.92 525.1L107.73 527.9L107.73 530.6L107.73 530.7L107.73 533.4L107.73 536.2L107.73 539L107.73 541.8L107.73 544.5L107.73 547.3L107.73 550.1L107.73 552.9L107.73 555.7L107.73 558.4L107.73 561.2L107.6 564L107.37 561.2L107.37 558.4L107.37 555.7L107.37 552.9L107.37 550.1L107.37 547.3L107.37 544.5L107.37 541.8L107.37 539L107.37 536.2L107.37 533.4L107.37 530.7L107.37 530.6L107.37 527.9L107.18 525.1L106.84 522.3L106.45 519.5L106.02 516.7L105.56 514L105.08 511.2L104.6 508.4L104.13 505.6L103.69 502.9L103.29 500.1L102.93 497.3L102.63 494.5L102.39 491.7L102.22 489L102.12 486.2L102.1 484L102.1 483.4L102.16 480.6L102.29 477.8L102.5 475.1L102.79 472.3L103.14 469.5L103.55 466.7L104.01 463.9L104.52 461.2L105.07 458.4L105.64 455.6L106.22 452.8L106.79 450L107.34 447.3L107.37 446L107.37 444.5Z" fill="#58bfd8" stroke="#0a0a0a" stroke-width=".62" stroke-linejoin="round"/>
<path d="M107.1 469.8h0M110.4 489h0M107.9 492.7h0M108.8 483.9h0M105.4 499h0M109.2 484.4h0M108.7 495.5h0M109.8 497.9h0M103.4 479.9h0M104.9 482.4h0M108.1 492.6h0M106.5 469.6h0M106.5 470.9h0M109.8 498h0M107.8 465h0M106.9 480.2h0M109 504.2h0M107.5 500.6h0M107.8 490.2h0M107 515.8h0M106.1 504.5h0M106.5 482.8h0M104.8 490.2h0M106.8 479.2h0M110 477.6h0M105 475.5h0M104.7 493.3h0M108.9 462.2h0M107.4 504.3h0M110.8 495.1h0M105.9 492.7h0M106.6 469.5h0M109.5 480.5h0M105.2 483.6h0M106.2 465.7h0M106.9 488.6h0M107.5 511.1h0M106.7 508.2h0M105.1 470.5h0M106.3 475.7h0M107.6 484.5h0M108.4 492.9h0M104.1 480.5h0M105.4 480.9h0M106.3 484.6h0M110.7 488.4h0M103.4 480.2h0M108.5 466.5h0M107.7 488.9h0M105.3 504h0M105.5 479.7h0M109.2 502.4h0M107.4 497.9h0M105.2 483.1h0M110.1 478.9h0M110.3 480h0M107.4 477h0M108.9 483.6h0M110.6 478.7h0M109.4 497.4h0M105.4 490.2h0M109.5 503.3h0M108.5 497.8h0M111.3 493.2h0M106.2 467.4h0M107.4 478.7h0M103.6 485.1h0M104.8 486.7h0M111.4 492.9h0M106.2 474.6h0M110.1 475.8h0M104.4 493.1h0M106.9 480h0M105.6 496.3h0M110.4 471.5h0M107.1 484.6h0M106.2 472.6h0M109.6 479.1h0M107.9 483.2h0M110.2 481.8h0M106.5 468.7h0M106.8 468.7h0M104.2 486.1h0M109.9 473.7h0M107.6 476.6h0M110.7 495.9h0M105.7 489.8h0M109.3 502.7h0M111 479.6h0M108.8 487.5h0M105.2 475.3h0M111.6 480.3h0M110.9 483.9h0M109 468.4h0M105.1 492h0M111.3 481.3h0M106.4 486.7h0M103.8 481.5h0M107.9 487.5h0M107.1 471.6h0M108.2 470h0M109.4 481.6h0M105.7 476.8h0M109.4 486.3h0M107.6 473h0M107.9 463.5h0M108.7 491.7h0M109.3 507.8h0M107.8 489.3h0M106.1 469.9h0M106.2 486.6h0M107.5 511.6h0M107.3 458.4h0M106 499.2h0M107.6 491.8h0M106.7 470.2h0M108.6 497.5h0M107.2 475.6h0M110.8 477h0M108.5 467.3h0M105.3 488.4h0M108.8 463.4h0M109.5 494.2h0M103.3 485.7h0M104.2 478.8h0M104.7 489.2h0M107.1 491.7h0M106.3 497.3h0M104.3 499.3h0M107.7 509.5h0M105.8 503.4h0M109.2 500.7h0M106.2 499.5h0M108.7 505.3h0M106.3 495.7h0M103.6 489.7h0M108.6 484.2h0M105.6 470.5h0M108.8 503.4h0M110 465h0M103.9 474.3h0M105.2 474.1h0M108.6 476.4h0M109.5 501.7h0M110.8 480.1h0M106.5 490.7h0M107.3 500.7h0" stroke="#8fd5e6" stroke-width="1.4" stroke-linecap="square" fill="none" opacity=".55"/>
<path d="M104.25 489.4h6.6" stroke="#000" stroke-width=".95"/>
<ellipse cx="107.55" cy="489.4" rx="1.6" ry="1.2" fill="#000"/>
<path d="M123.1 478.5h0M114.9 501.9h0M122.7 474.5h0M122.8 503.4h0M115 472.5h0M122.8 459.8h0M115.6 470.7h0M123.2 499.4h0M117.6 513.2h0M118.8 516.5h0M122.9 511.7h0M114.9 507.3h0M114.6 505.5h0M114.2 504.7h0M116.3 519.6h0M115.8 516.6h0M116.3 539.2h0M119.2 515.4h0M114.8 512.1h0M114.3 477h0M114.7 508.5h0M117.5 461.4h0M114.3 467.2h0M115.2 506.7h0M122.3 505.3h0M116.5 462h0M114.5 474.4h0M115.2 532.1h0M115.8 531.8h0M118 458h0M115 469.5h0M114 503.8h0M123 464h0M120.2 514.1h0M115.2 504.3h0M122 512.5h0M120.2 462.2h0M123.1 509.3h0M116.6 508.9h0M116.8 451.9h0M122.2 504.6h0M114.2 473.6h0M116.1 514h0M119.6 512.9h0M120.6 512.7h0M114.8 471h0M114 464.6h0M121.3 522.5h0M122.4 508.5h0M122.5 450.1h0M114.8 503.4h0M123.1 476.1h0M114.5 474.7h0M120.4 529.7h0M114.6 508.3h0M114.2 514.3h0M114.4 513.8h0M123 465.8h0M123.3 506.1h0M114.2 536h0M123 472.3h0M115.4 507.8h0M122.4 468h0M115.2 510.9h0M116.7 519.7h0M121.9 508.3h0M123.1 478.8h0M122.3 509.7h0M122.3 506h0M122.6 534.4h0M114.1 509.5h0M114.4 459h0M119.5 452.1h0M115.8 512h0M123.3 501.5h0M123 508.7h0M120.4 510.9h0M123.3 462.4h0M116.7 466.4h0M115.4 513.8h0" stroke="#f18f81" stroke-width="1.4" stroke-linecap="square" fill="none" opacity=".85"/>
<path d="M118.7 447L118.83 449.1L118.83 451.2L118.83 453.3L118.83 455.4L118.83 457L118.83 457.5L119.19 459.6L119.67 461.7L120.16 463.9L120.65 466L121.13 468.1L121.6 470.2L122.04 472.3L122.45 474.4L122.82 476.5L123.15 478.6L123.44 480.7L123.68 482.8L123.87 484.9L124 487L124.08 489.1L124.1 491L124.1 491.2L124.03 493.4L123.85 495.5L123.57 497.6L123.19 499.7L122.73 501.8L122.21 503.9L121.65 506L121.06 508.1L120.48 510.2L119.93 512.3L119.43 514.4L119.02 516.5L118.83 518.6L118.83 520L118.83 520.7L118.83 522.8L118.83 525L118.83 527.1L118.83 529.2L118.83 531.3L118.83 533.4L118.83 535.5L118.83 537.6L118.7 539.7L118.47 537.6L118.47 535.5L118.47 533.4L118.47 531.3L118.47 529.2L118.47 527.1L118.47 525L118.47 522.8L118.47 520.7L118.47 520L118.47 518.6L118.28 516.5L117.87 514.4L117.37 512.3L116.82 510.2L116.24 508.1L115.65 506L115.09 503.9L114.57 501.8L114.11 499.7L113.73 497.6L113.45 495.5L113.27 493.4L113.2 491.2L113.2 491L113.22 489.1L113.3 487L113.43 484.9L113.62 482.8L113.86 480.7L114.15 478.6L114.48 476.5L114.85 474.4L115.26 472.3L115.7 470.2L116.17 468.1L116.65 466L117.14 463.9L117.63 461.7L118.11 459.6L118.47 457.5L118.47 457L118.47 455.4L118.47 453.3L118.47 451.2L118.47 449.1Z" fill="#e75642" stroke="#0a0a0a" stroke-width=".62" stroke-linejoin="round"/>
<path d="M119 490.4h0M115.3 488.2h0M119.7 485.8h0M119.1 480h0M115.9 481.6h0M121.4 485h0M118.1 503.5h0M119.1 490.7h0M119.4 468.5h0M115.1 494.4h0M117 501.3h0M119.7 491.3h0M118.3 467h0M118.6 492.4h0M120.3 488.4h0M117.6 477.1h0M119.3 499.3h0M121 500.8h0M115.5 478.3h0M117.8 485.7h0M116.5 504.9h0M120.4 493.6h0M117.8 490.7h0M118.5 486.9h0M119.2 465.8h0M121.4 494.4h0M117.9 509h0M118.6 486.9h0M119.8 502h0M122.5 489h0M116.9 484.9h0M120.7 497.3h0M118.9 492.6h0M117.4 475.6h0M118.4 464.9h0M118.4 488.1h0M121.1 491.1h0M119 477h0M119.7 507h0M118.8 482.6h0M117.5 488.7h0M117 486.5h0M118.1 510.1h0M118.1 476.5h0M116.9 495.8h0M121.3 479.1h0M116.6 502.5h0M119.3 473.4h0M118.2 501.2h0M118.8 483.3h0M122.3 481.9h0M117.9 488h0M114.8 494.1h0M116.3 499.1h0M119.9 490.6h0M116.2 483.4h0M118.3 480.2h0M121.7 492.5h0M116.6 492.6h0M117.8 501.8h0M121.1 484.4h0M120.8 501.5h0M121 493.7h0M117.9 475.4h0M116.9 471.5h0M119 492.7h0M118.9 487.2h0M117.5 495.4h0M118.6 476.8h0M117.5 496.3h0M121.5 479.5h0M119.2 489.3h0M114.9 484.5h0M118.5 494.5h0M117.6 507.7h0M121.5 497.4h0M117.9 488.4h0M117.8 485h0M119.4 473h0M122 494.4h0M119.3 502.8h0M117.8 488.1h0M117 502h0M116 475.9h0M118.8 479.1h0M119 468.7h0M121.9 480.3h0M117.2 478h0M121.6 486.4h0M120.7 501.5h0M115.6 495h0M119.9 489.5h0M118.5 504h0M116.5 483.5h0M121.4 475.6h0M120.2 505.7h0M120.2 502.3h0M122.2 494h0M118.8 485.8h0M115.5 482.4h0M119 486.1h0M114.9 491.2h0M114.9 489.8h0M119.5 508.1h0M121.8 494.9h0M120.6 488.1h0M118.8 479.3h0M117.9 469.7h0M122 494.9h0M120.5 489.5h0M116.9 497.6h0M121.3 478.9h0M120.6 487.1h0M119.1 472.8h0M117.1 494.1h0M122.1 496.5h0M117.8 491.7h0M117.7 497.3h0M118.4 486.2h0M116.7 483.4h0M119.1 495.7h0M115.3 487.6h0M118.2 502.7h0M117.1 482.4h0M117.1 476.5h0M115.2 489.1h0M120.9 501.3h0M118.6 506h0M118.2 476.1h0M120.2 473.2h0M119.5 481.8h0M115.8 497h0M121.8 483.6h0M121.5 495.2h0M120.9 498.5h0M119.1 484.1h0M122.5 495.6h0M121.1 475.4h0M116.5 504.2h0M120.2 481.7h0M118.6 476.7h0M120.4 496.7h0M120.3 478.6h0M115.5 495.5h0M118.2 481h0M118.4 485.7h0M118.1 485.2h0M120.6 494.2h0M120.2 498.9h0M117.7 485.2h0M118.3 479h0M115.9 485.9h0M119.1 482.7h0" stroke="#f18f81" stroke-width="1.4" stroke-linecap="square" fill="none" opacity=".55"/>
<path d="M115.35 488.5h6.6" stroke="#000" stroke-width=".95"/>
<ellipse cx="118.65" cy="488.5" rx="1.6" ry="1.2" fill="#000"/>
<path d="M52.35 470.9v-2.4h11.1v2.4" fill="none" stroke="#111" stroke-width=".85"/>
<text x="57.9" y="469.1" font-size="5.7" text-anchor="middle">**</text>
<path d="M79.95 493.6v-2.4h11.1v2.4" fill="none" stroke="#111" stroke-width=".85"/>
<text x="85.5" y="491.8" font-size="5.7" text-anchor="middle">***</text>
<path d="M41.2 433.9V567.3H129.5" fill="none" stroke="#333" stroke-width=".8"/>
<text x="36.5" y="466.5" font-size="8.8" text-anchor="end">4000</text>
<text x="36.5" y="499.45" font-size="8.8" text-anchor="end">2000</text>
<text x="36.5" y="532.4" font-size="8.8" text-anchor="end">0</text>
<text x="36.5" y="565.35" font-size="8.8" text-anchor="end">-2000</text>
<path d="M41.2 463.4h-3.2M41.2 496.35h-3.2M41.2 529.3h-3.2M41.2 562.25h-3.2M57.9 567.3v3.2M85.5 567.3v3.2M113.1 567.3v3.2" fill="none" stroke="#333" stroke-width=".8"/>
<text transform="translate(59.1 578.9) rotate(-15)" font-size="8.95" text-anchor="end">ImmuneScore</text>
<text transform="translate(86.7 578.9) rotate(-15)" font-size="8.95" text-anchor="end">StromalScore</text>
<text transform="translate(114.3 578.9) rotate(-15)" font-size="8.95" text-anchor="end">ESTIMATEScore</text>
<text transform="translate(8.2 500.6) rotate(-90)" font-size="9.7" text-anchor="middle">Enrichment score</text>
<text x="132.8" y="494.8" font-size="8.6">TMC1</text>
<rect x="132.7" y="497.3" width="6.1" height="8" fill="#9bdbe9" stroke="#333" stroke-width=".7"/>
<circle cx="135.75" cy="501.3" r=".9" fill="#58bfd8" opacity=".75"/>
<text x="142.6" y="504.4" font-size="8.6">Low</text>
<rect x="132.7" y="505.3" width="6.1" height="8" fill="#f29a8f" stroke="#333" stroke-width=".7"/>
<circle cx="135.75" cy="509.3" r=".9" fill="#e75642" opacity=".75"/>
<text x="142.6" y="512.4" font-size="8.6">High</text>
</g>
<g id="pJ">
<text x="182.5" y="426" font-size="20.2">J</text>
<path d="M226.8 511.3h0M228.1 516.1h0M223.9 527.9h0M219.9 481.7h0M228.2 506.6h0M227.3 510.6h0M221.8 516.7h0M226.8 524.5h0M222.1 477.6h0M226.4 484.8h0M219.2 487.8h0M227.5 479.1h0M226.9 514.1h0M219.1 512.1h0M226 516.6h0M224.7 537.1h0M219.3 490.1h0M219.8 477.8h0M220.4 482.6h0M219.8 518.8h0M219.2 534.2h0M225.9 477.7h0M222.1 475.3h0M220.7 512h0M220.9 482.8h0M220.3 532.5h0M221.6 515.2h0M224.7 479.6h0M219.4 539.4h0M225.7 515.3h0M219.3 514.3h0M220.5 512h0M219.1 485.4h0M218.9 515.4h0M221.7 478.8h0M224.9 515.6h0M219 515.1h0M227.6 515.9h0M219 510.9h0M227.9 510.1h0M219.1 481.2h0M223.2 538.2h0M227.5 489.7h0M226.9 483.3h0M227.5 513.4h0M220.5 478.8h0M219.7 486.5h0M226.2 478.7h0M224 473.9h0M219.8 487h0M226.3 515.9h0M224.8 521.4h0M219.7 512.9h0M228.1 488h0M220.1 512.3h0M225.9 519.3h0M225.6 516h0M227.3 510.6h0M227.1 511.3h0M227.6 476.1h0M220.2 482h0M220 488.3h0M219.4 487.4h0M219.1 513.7h0M228.1 491.8h0M219.4 515.6h0M223.1 519.3h0M221.6 516.1h0M225.4 480.8h0M221 484.2h0M226.7 517.4h0M225.4 480.9h0M222.4 479.4h0" stroke="#8fd5e6" stroke-width="1.4" stroke-linecap="square" fill="none" opacity=".85"/>
<path d="M223.5 472.3L223.69 473.8L223.7 474L223.88 475.4L224.29 476.9L224.72 478.5L225.16 480L225.59 481.5L226.02 483.1L226.43 484.6L226.83 486.1L227.2 487.7L227.54 489.2L227.86 490.8L228.14 492.3L228.39 493.8L228.59 495.4L228.76 496.9L228.88 498.5L228.96 500L229 501.5L229 502L228.97 503.1L228.81 504.6L228.53 506.1L228.15 507.7L227.66 509.2L227.1 510.8L226.5 512.3L225.87 513.8L225.25 515.4L224.67 516.9L224.16 518.5L223.77 520L223.73 521.5L223.73 521.7L223.73 523.1L223.73 524.6L223.73 526.2L223.73 527.7L223.73 529.2L223.73 530.8L223.73 532.3L223.73 533.8L223.73 535.4L223.73 536.9L223.69 538.5L223.5 540L223.41 538.5L223.37 536.9L223.37 535.4L223.37 533.8L223.37 532.3L223.37 530.8L223.37 529.2L223.37 527.7L223.37 526.2L223.37 524.6L223.37 523.1L223.37 521.7L223.37 521.5L223.33 520L222.94 518.5L222.43 516.9L221.85 515.4L221.23 513.8L220.6 512.3L220 510.8L219.44 509.2L218.95 507.7L218.57 506.1L218.29 504.6L218.13 503.1L218.1 502L218.1 501.5L218.14 500L218.22 498.5L218.34 496.9L218.51 495.4L218.71 493.8L218.96 492.3L219.24 490.8L219.56 489.2L219.9 487.7L220.27 486.1L220.67 484.6L221.08 483.1L221.51 481.5L221.94 480L222.38 478.5L222.81 476.9L223.22 475.4L223.4 474L223.41 473.8Z" fill="#58bfd8" stroke="#0a0a0a" stroke-width=".62" stroke-linejoin="round"/>
<path d="M220.6 509.3h0M222.2 491h0M221.5 501.9h0M219.9 497.5h0M223.6 492.2h0M222.4 504.4h0M220.6 502.5h0M224.3 510.3h0M221.9 490.3h0M224.1 498.2h0M226.6 506.6h0M221.5 499.4h0M227.5 500.1h0M223.7 490.4h0M224.2 499.9h0M224.8 494.5h0M222.3 505.6h0M226.4 494.8h0M223 515.4h0M221.3 501.3h0M223.5 490.5h0M220.7 494.6h0M225 508.6h0M222.8 502.4h0M224.9 492.5h0M225.4 489.4h0M222.4 502.8h0M221.2 500.7h0M221.3 499.7h0M222 503.3h0M223.8 493.9h0M226.1 491.8h0M220 507.1h0M226.7 506.4h0M226.9 502h0M222.2 496.4h0M225.5 511.8h0M223.9 506.3h0M220.2 496.1h0M224.1 495.3h0M223.3 500.2h0M223.9 509.8h0M222.1 511.8h0M220.3 492.1h0M225.6 498h0M222.5 502.2h0M223.3 486h0M220.2 498.1h0M226.1 500.1h0M222.7 505.8h0M223.7 482.8h0M219.9 495.7h0M225.4 500.8h0M226.8 504.5h0M223.5 509.5h0M222 503.7h0M225.4 494.9h0M224.9 491.3h0M220.6 494.8h0M221.2 493.5h0M223.2 498.5h0M223.2 514.6h0M223.9 496.9h0M222.4 494.9h0M222.2 510.8h0M224.4 507.8h0M225.4 506.6h0M221.4 488.3h0M222.5 485.7h0M224.2 506.2h0M225.4 506h0M223.3 497h0M224.1 487h0M220.6 497h0M226.8 500h0M224.4 501.9h0M221.7 496.5h0M224.2 487.8h0M220.6 496.5h0M222.7 503.5h0M225.4 498.6h0M224.7 492h0M223.4 503.3h0M225.8 492.9h0M225.5 496.1h0M226.6 497.5h0M225.1 496.2h0M225.7 502.1h0M222.3 500.6h0M220.1 500.5h0M225.5 496.5h0M221.3 502.9h0M225.8 490.3h0M221.3 488.9h0M223.5 485.5h0M226.8 503h0M224.4 489.1h0M226.9 494.7h0M223.9 494.3h0M227.4 506h0M226.9 505.2h0M221.3 488.8h0M225.9 508.9h0M223.7 494.9h0M223.4 508.2h0M223.6 493.9h0M223.9 488.3h0M225 499.2h0M225.9 506.3h0M222.6 503.9h0M222.7 512.4h0M226.8 504.2h0M224.3 505.6h0M225.5 494.4h0M220.6 502.8h0M221 506.7h0M227.3 504.1h0M226.6 506h0M223.2 487.5h0M225.3 505.7h0M226.1 502.4h0M226 502.7h0M222.3 497h0M223.7 485.1h0M224.1 503.6h0M223 490.3h0M223.8 492.7h0M224 490h0M223.8 502.2h0M225.3 507.2h0M222.5 494.5h0M220.3 494.3h0M222.2 498.8h0M224.1 510.3h0M220.4 506.8h0M220.6 506.8h0M225.7 491.8h0M224.6 512.5h0M226.1 509.8h0M221.8 504.2h0M227.6 498h0M224.3 506h0M225.5 490.8h0M227.1 506.5h0M220.3 491.5h0M221.9 490.1h0M221 509.8h0M223.4 497.3h0M223.7 505.1h0M221.7 509.7h0M221.1 498.8h0M225.3 498.6h0" stroke="#8fd5e6" stroke-width="1.4" stroke-linecap="square" fill="none" opacity=".55"/>
<path d="M220.25 502.2h6.6" stroke="#000" stroke-width=".95"/>
<ellipse cx="223.55" cy="502.2" rx="1.6" ry="1.2" fill="#000"/>
<path d="M236.4 475h0M238.8 510.1h0M230.6 512.6h0M237.7 485h0M238.3 477.5h0M234.9 474.2h0M238 521.7h0M233.8 521.4h0M230.2 486.6h0M231.2 511.6h0M232.4 478.1h0M237.5 534.1h0M230.2 506.6h0M239.3 519h0M234.2 476.8h0M230.8 512.3h0M236.6 478.4h0M236.1 531.5h0M230.7 476.7h0M237.1 514.5h0M235.5 537.4h0M231.3 524.6h0M238.8 534h0M230 481.7h0M233.2 519.9h0M231 483.9h0M237.7 511.4h0M237.2 524.7h0M230.2 508.9h0M230.5 489.3h0M230.5 479.8h0M239.3 487.7h0M230 486.6h0M230.8 519.8h0M231.6 520h0M231.5 511.9h0M238.8 487.5h0M230.1 490.3h0M235.4 523.8h0M237 476.5h0M236.6 539.3h0M232.1 479.1h0M230.7 514.2h0M238.6 487.2h0M239.2 492h0M236.7 479.1h0M230.2 487.3h0M233.8 519.4h0M238.3 511.1h0M232.6 524.3h0M239 486.1h0M231.1 485.4h0M239 512.1h0M230.4 480.8h0M234.7 474.5h0M234.5 522.1h0M237.9 478.9h0M238.2 529.6h0M238.7 513.4h0M230.2 486.5h0M238.9 480.8h0M236.7 526.6h0M236.3 534.8h0M230.3 489.9h0M237.5 537.8h0M237.7 511.9h0M230.4 510.9h0M231.8 517.5h0M230.3 513.7h0M238.6 487.5h0M239 514.5h0M230.8 536.4h0M238 518.6h0M230.4 484.1h0" stroke="#f18f81" stroke-width="1.4" stroke-linecap="square" fill="none" opacity=".85"/>
<path d="M234.7 472.3L234.79 473.9L234.8 474L235.01 475.4L235.46 477L235.94 478.5L236.41 480.1L236.88 481.6L237.34 483.2L237.78 484.7L238.19 486.3L238.57 487.8L238.92 489.4L239.23 490.9L239.49 492.5L239.72 494L239.89 495.6L240.01 497.1L240.08 498.7L240.1 500L240.1 500.2L240.04 501.8L239.88 503.3L239.64 504.9L239.32 506.5L238.93 508L238.49 509.6L237.99 511.1L237.47 512.7L236.94 514.2L236.42 515.8L235.92 517.3L235.46 518.9L235.08 520.4L234.83 522L234.83 523.5L234.83 523.5L234.83 525.1L234.83 526.6L234.83 528.2L234.83 529.7L234.83 531.3L234.83 532.8L234.83 534.4L234.83 535.9L234.83 537.5L234.79 539L234.7 540.6L234.51 539L234.47 537.5L234.47 535.9L234.47 534.4L234.47 532.8L234.47 531.3L234.47 529.7L234.47 528.2L234.47 526.6L234.47 525.1L234.47 523.5L234.47 523.5L234.47 522L234.22 520.4L233.84 518.9L233.38 517.3L232.88 515.8L232.36 514.2L231.83 512.7L231.31 511.1L230.81 509.6L230.37 508L229.98 506.5L229.66 504.9L229.42 503.3L229.26 501.8L229.2 500.2L229.2 500L229.22 498.7L229.29 497.1L229.41 495.6L229.58 494L229.81 492.5L230.07 490.9L230.38 489.4L230.73 487.8L231.11 486.3L231.52 484.7L231.96 483.2L232.42 481.6L232.89 480.1L233.36 478.5L233.84 477L234.29 475.4L234.5 474L234.51 473.9Z" fill="#e75642" stroke="#0a0a0a" stroke-width=".62" stroke-linejoin="round"/>
<path d="M235.2 489.8h0M238.3 499.3h0M233.8 508.4h0M234 488.8h0M237.8 492h0M238.7 497.3h0M231.4 494.4h0M234 496.5h0M236.6 497.4h0M234.8 506h0M231.2 499.8h0M233.3 489.4h0M234 507.8h0M232.3 507.7h0M238.1 504.7h0M234.3 486.4h0M238.8 498.7h0M233.3 502.9h0M236.2 484.4h0M233.8 495.4h0M238.3 501.4h0M236.5 503.2h0M234.5 489h0M231.1 499.5h0M232.6 485.6h0M233.3 499.7h0M235.7 487.9h0M231.5 493.2h0M235.6 514.9h0M236.6 510h0M233 507.8h0M235.7 484.8h0M234.2 509h0M234.2 483.9h0M237.3 497.5h0M231.9 505.9h0M237 499h0M234.8 480.3h0M234.9 493.2h0M234.5 495h0M236.2 506.2h0M232.4 494.9h0M236.4 487.3h0M235.9 506.7h0M235.8 505.6h0M231.9 498.3h0M235 489.2h0M235.5 507h0M236.2 487h0M236.4 499h0M234.6 498h0M237.7 497.9h0M238.3 502h0M237.9 503.7h0M238.4 497.2h0M237.5 496.2h0M237.5 496.6h0M238.2 493.6h0M233.2 494.7h0M234.1 494.7h0M236.8 502.1h0M233.9 495h0M234 504.8h0M238.4 495.2h0M230.6 500.6h0M231.7 497.2h0M231.2 497.4h0M237.6 508.1h0M234.9 479.8h0M233.2 492.2h0M237.8 493.7h0M232.5 485.4h0M237.8 496.3h0M236.5 485h0M236.9 496h0M237.1 507h0M230.6 494.4h0M236 496.7h0M233.6 511.7h0M235.6 488.7h0M234.7 517.5h0M235 490.5h0M237.4 506.3h0M232.8 495.2h0M232.8 486.7h0M233.5 487.2h0M236.2 484.5h0M233.4 509.1h0M236.2 486.8h0M235.6 499.9h0M232.8 505.2h0M237.5 509.1h0M238.2 495.2h0M234.9 501.9h0M233 487.8h0M237.5 501.2h0M233.2 507.4h0M233.8 496.9h0M237.4 497.7h0M233.4 506.9h0M234.6 514.9h0M230.5 502.5h0M235 506.2h0M234.8 512.6h0M233.7 492.6h0M237.9 496.3h0M231.9 490.8h0M230.8 504.2h0M231.4 492.3h0M235.6 494.6h0M234.3 498.2h0M237.3 499h0M231 504.2h0M236 492.5h0M238 497.6h0M232.7 508.8h0M236.9 495.6h0M237.6 507.2h0M232.2 490.1h0M238.6 497.8h0M233.3 496.7h0M232.6 497.4h0M231.8 499.6h0M234.6 513.7h0M231.8 492.6h0M232.2 501.9h0M235.2 496.9h0M235.4 491.6h0M234.2 505.2h0M236 490.6h0M235 488.8h0M235.4 499.4h0M236.1 512.5h0M234.4 490.3h0M233 495.9h0M233 486.9h0M233.1 485h0" stroke="#f18f81" stroke-width="1.4" stroke-linecap="square" fill="none" opacity=".55"/>
<path d="M231.35 500.9h6.6" stroke="#000" stroke-width=".95"/>
<ellipse cx="234.65" cy="500.9" rx="1.6" ry="1.2" fill="#000"/>
<path d="M248.7 503.2h0M254 552.2h0M252 498.7h0M246.6 500.7h0M255.7 525.6h0M250.9 534.9h0M247.4 534.9h0M255.3 529.2h0M255.7 506.8h0M251.9 542.8h0M251.8 528.6h0M253.9 524.9h0M248 496.8h0M255.7 509.3h0M253 499.9h0M252.9 525.5h0M247.8 522.3h0M255.7 504h0M255.6 527.1h0M249 502.4h0M248.9 501.7h0M247.9 501.2h0M255.8 519.5h0M247.6 503.3h0M248.3 535.9h0M253.2 552.1h0M250.1 499.2h0M247.8 551.2h0M248 525.6h0M248.3 527.3h0M249.2 525.5h0M254.1 540.1h0M248 527.6h0M246.7 497.2h0M249.3 537.2h0M246.5 525.1h0M250.8 540.2h0M247.9 523.6h0M254.4 500.4h0M255.5 504.2h0M247.7 522.4h0M255 522.5h0M251.7 538.1h0M255.5 508.5h0M250.3 528.5h0M250.2 530.1h0M255 506.4h0M250.8 529.7h0M248.2 529.2h0M249.4 501.3h0M248.1 504.2h0M254.5 524.9h0M251 497.8h0M246.7 521.6h0M247.8 534.1h0M249.3 525.6h0M247.5 523.3h0M255.4 504.3h0M254.8 506.6h0M255.1 506.7h0M247.7 528.5h0M255 539.6h0M246.6 507.7h0M249.2 501.8h0M253.2 539.7h0M248.7 524.4h0M255.7 502.8h0M254.5 549.2h0M249.9 541.3h0M247 546h0M246.8 509.1h0M254.4 524.7h0M255.4 506.8h0M248.3 524.5h0M253.4 501.2h0M255.5 523.3h0M249.9 551.8h0M252.6 526.5h0M248.1 525.6h0M255.3 505.9h0M248.8 496.9h0M255.1 524.5h0M247.8 496.3h0M248 501.3h0M248 523.9h0M248.7 503.3h0M246.8 526.2h0M253.6 527.5h0M249.4 542.7h0M246.5 529.4h0M255.1 523.5h0M253.4 525h0M255.6 520.8h0M248.4 526.3h0M251.2 535.4h0M246.7 502.3h0M254.1 523.8h0" stroke="#8fd5e6" stroke-width="1.4" stroke-linecap="square" fill="none" opacity=".85"/>
<path d="M251.1 495.6L251.27 496.9L251.28 497L251.58 498.2L252.12 499.5L252.68 500.8L253.23 502L253.77 503.3L254.29 504.6L254.77 505.9L255.21 507.2L255.59 508.5L255.93 509.8L256.2 511.1L256.4 512.4L256.53 513.6L256.6 514.9L256.6 515.4L256.57 516.2L256.4 517.5L256.09 518.8L255.65 520.1L255.1 521.4L254.48 522.7L253.81 524L253.13 525.2L252.49 526.5L251.91 527.8L251.45 529.1L251.33 530.4L251.33 530.7L251.33 531.7L251.33 533L251.33 534.3L251.33 535.5L251.33 536.8L251.33 538.1L251.33 539.4L251.33 540.7L251.33 542L251.33 543.3L251.33 544.6L251.33 545.9L251.33 547.1L251.33 548.4L251.33 549.7L251.27 551L251.1 552.3L251.03 551L250.97 549.7L250.97 548.4L250.97 547.1L250.97 545.9L250.97 544.6L250.97 543.3L250.97 542L250.97 540.7L250.97 539.4L250.97 538.1L250.97 536.8L250.97 535.5L250.97 534.3L250.97 533L250.97 531.7L250.97 530.7L250.97 530.4L250.85 529.1L250.39 527.8L249.81 526.5L249.17 525.2L248.49 524L247.82 522.7L247.2 521.4L246.65 520.1L246.21 518.8L245.9 517.5L245.73 516.2L245.7 515.4L245.7 514.9L245.77 513.6L245.9 512.4L246.1 511.1L246.37 509.8L246.71 508.5L247.09 507.2L247.53 505.9L248.01 504.6L248.53 503.3L249.07 502L249.62 500.8L250.18 499.5L250.72 498.2L251.02 497L251.03 496.9Z" fill="#58bfd8" stroke="#0a0a0a" stroke-width=".62" stroke-linejoin="round"/>
<path d="M253.2 510.9h0M253.1 512.9h0M250.6 513.4h0M246.9 515.1h0M252.1 511.7h0M251.1 516h0M252.1 520.7h0M249.9 513.6h0M248.6 518.7h0M249.3 512.2h0M252.1 520.4h0M252.5 511.6h0M248.5 510.8h0M247.9 508.8h0M251.7 518.9h0M249.4 521.4h0M250.5 507.8h0M250.4 520.1h0M252.6 517.2h0M252.1 515.2h0M248.1 509.7h0M249.7 521.5h0M250.1 508.8h0M249.7 522.3h0M246.9 516.4h0M248.2 511.4h0M249.7 521.2h0M250.4 511.1h0M252.6 516.2h0M250.6 506.8h0M248.4 521.2h0M253.7 514.7h0M248.4 516.2h0M254.1 518.1h0M255.4 516.5h0M252.5 510h0M251.9 517h0M251.3 512.3h0M252.1 522.5h0M252.1 507.5h0M252.9 521.2h0M248.5 512.4h0M252 507.5h0M253.9 517h0M248.4 517.8h0M254.6 511.6h0M251.3 515.8h0M248.2 512.1h0M253.2 521h0M249.8 514.4h0M250.5 524.4h0M250.8 506.5h0M248.7 516.6h0M249.7 523.4h0M251.8 512.6h0M249.1 514.7h0M247.4 517h0M248 511.2h0M249.4 515h0M253 510.3h0M248.2 509.7h0M251.5 511.3h0M249.3 512.6h0M250.5 510.5h0M247.9 510.9h0M253.2 505.9h0M252.9 510.2h0M248.6 511.4h0M252.3 524.4h0M249.2 522.8h0M251.4 508.9h0M250.8 503h0M254.6 510h0M251.5 512.3h0M253.5 510.6h0M253.1 509.2h0M250.9 508.2h0M248.2 510h0M252.2 513.4h0M252.8 523.4h0M254.8 513.7h0M254.7 518h0M253.5 514.4h0M251.6 515.1h0M250.8 509.5h0M249.3 509.5h0M254.7 513h0M248.7 512.2h0M255.2 512.3h0M255.5 514.4h0M248.3 514.5h0M250.8 522.9h0M251.9 502.2h0M249.3 519.1h0M254.5 513.8h0M250.4 515.5h0M250.7 518.6h0M253.9 517.7h0M248.1 519.1h0M250.6 520.6h0M251.7 508.9h0M250.1 516.6h0M248.5 515.1h0M251.5 501.5h0M250.3 511.3h0M251.1 509.2h0M252.2 518.7h0M250.5 509.9h0M253.8 511.4h0M251.1 509.6h0M247 512.6h0M249.6 508.4h0M251.8 518.8h0M252.3 517.1h0M251.8 508h0M253.3 505h0M251.9 508h0M253.4 519h0M253.2 520.5h0M252.6 506.7h0M253.1 511.6h0M251 524h0M247.9 518.9h0M254.7 514.8h0M247.4 512.5h0M249.8 505.4h0M255.1 514.2h0M253 514.3h0M249.4 519h0M253.9 508.9h0M247.6 511.6h0M247.9 516h0M254.5 514.7h0M249.7 523.3h0M251.8 508.9h0M251.3 504.6h0M248 515.9h0M248.8 515.5h0M249.7 522.1h0M248.6 520.2h0" stroke="#8fd5e6" stroke-width="1.4" stroke-linecap="square" fill="none" opacity=".55"/>
<path d="M247.85 516.5h6.6" stroke="#000" stroke-width=".95"/>
<ellipse cx="251.15" cy="516.5" rx="1.6" ry="1.2" fill="#000"/>
<path d="M258.7 498.2h0M260.1 528h0M262.7 547.5h0M266.7 506.5h0M261.7 531h0M258.5 523.2h0M266.9 521.1h0M257.9 506h0M266.8 503.1h0M266.2 524.8h0M261.7 536.9h0M257.7 528.5h0M266.2 503.3h0M265.7 543.4h0M258.9 537.2h0M257.7 521.7h0M258.2 524.8h0M266.2 499.3h0M258 509.1h0M257.7 507.7h0M266 524.2h0M265.9 506.9h0M257.9 508.2h0M265 503.2h0M264.5 551.3h0M258.5 507.7h0M258.2 507.7h0M264.5 532.2h0M257.8 521.3h0M259.1 498.6h0M265.5 528.4h0M266.3 507.7h0M266.4 507.8h0M257.7 510.3h0M260.8 500.1h0M266.7 503.4h0M259.6 504.2h0M266.3 508.7h0M266 522.3h0M257.9 549.3h0M264.3 500.6h0M266 501.3h0M258.4 505.6h0M264.7 500.3h0M266 524.3h0M266.8 509.3h0M266.9 523.5h0M266.6 505.8h0M266.6 507.9h0M258.5 522.3h0M258.7 525.7h0M266.1 525.1h0M266.9 522h0M264.9 524.7h0M265.9 507.8h0M260.7 502.5h0M266 547h0M265.5 502.7h0M266.2 521.9h0M265.9 506.8h0M266.5 508h0M258 502.6h0M257.8 500.7h0M259.2 505.4h0M266.4 507.9h0M258.2 500.2h0M257.7 508.6h0M265.6 524.6h0M259.8 528h0M258 544.6h0M264.9 504.2h0M259.4 527.6h0M263.2 551.2h0M257.8 521h0M266 505.4h0M265.5 524.6h0M258.7 504.3h0M264.6 548.6h0M261.3 532.4h0M265.7 504.1h0M259.1 546.2h0M261.8 533h0M263 496.7h0M257.6 522.9h0M266.7 501.3h0M259.5 534.5h0M260.9 532.8h0" stroke="#f18f81" stroke-width="1.4" stroke-linecap="square" fill="none" opacity=".85"/>
<path d="M262.2 496.2L262.36 497.5L262.43 498.3L262.43 498.8L262.94 500L263.5 501.3L264.08 502.6L264.64 503.8L265.18 505.1L265.69 506.4L266.16 507.7L266.58 508.9L266.93 510.2L267.23 511.5L267.46 512.8L267.61 514L267.69 515.3L267.7 516L267.69 516.6L267.56 517.9L267.32 519.1L266.96 520.4L266.5 521.7L265.97 523L265.38 524.2L264.76 525.5L264.14 526.8L263.55 528.1L263.02 529.3L262.59 530.6L262.43 531.9L262.43 532.5L262.43 533.2L262.43 534.4L262.43 535.7L262.43 537L262.43 538.3L262.43 539.5L262.43 540.8L262.43 542.1L262.43 543.4L262.43 544.6L262.43 545.9L262.43 547.2L262.43 548.5L262.43 549.8L262.36 551L262.2 552.3L262.14 551L262.07 549.8L262.07 548.5L262.07 547.2L262.07 545.9L262.07 544.6L262.07 543.4L262.07 542.1L262.07 540.8L262.07 539.5L262.07 538.3L262.07 537L262.07 535.7L262.07 534.4L262.07 533.2L262.07 532.5L262.07 531.9L261.91 530.6L261.48 529.3L260.95 528.1L260.36 526.8L259.74 525.5L259.12 524.2L258.53 523L258 521.7L257.54 520.4L257.18 519.1L256.94 517.9L256.81 516.6L256.8 516L256.81 515.3L256.89 514L257.04 512.8L257.27 511.5L257.57 510.2L257.92 508.9L258.34 507.7L258.81 506.4L259.32 505.1L259.86 503.8L260.42 502.6L261 501.3L261.56 500L262.07 498.8L262.07 498.3L262.14 497.5Z" fill="#e75642" stroke="#0a0a0a" stroke-width=".62" stroke-linejoin="round"/>
<path d="M261.3 507.5h0M263.9 509.7h0M259.7 506.9h0M264.4 523.2h0M260.9 521h0M265.6 520.4h0M262.3 507.5h0M258.5 514.9h0M261.2 513.3h0M258.9 517.1h0M260.2 516.9h0M265.3 518.5h0M262.1 502.3h0M263.1 513.9h0M261.1 507h0M263.6 525h0M265.1 516.2h0M262.2 514h0M264.7 517h0M260.3 511.2h0M260.9 517.3h0M261.2 518.2h0M262 512.8h0M261.1 508.1h0M262.9 520.4h0M261.9 511.2h0M260.6 523.5h0M260.4 512.4h0M261.8 509h0M261.4 503.8h0M262.9 517.7h0M264.9 516.3h0M264.5 516.9h0M265.3 521.8h0M265.2 514.2h0M261.1 508.7h0M263.3 522.8h0M259.9 516.9h0M261.4 507.4h0M262.6 518.8h0M259.6 522.8h0M266.4 518.1h0M261.7 512.7h0M261.7 517.2h0M261.5 517.2h0M264.3 506.9h0M264.2 510.1h0M262.3 516.9h0M261.2 516h0M263.3 519.5h0M259.1 508.7h0M264.8 522.2h0M260.4 511.2h0M260.4 511.8h0M262.9 510.2h0M261.3 504.3h0M261.4 513.3h0M261.1 521.5h0M258.4 515.2h0M262.8 514.4h0M265.6 510.9h0M261.7 507.5h0M263.8 519.9h0M265 509.9h0M259.3 509.4h0M262.6 524.8h0M264.6 513.4h0M262.4 516.2h0M265.5 511.1h0M261.9 502h0M263.8 521.6h0M263.2 514.1h0M260.2 514h0M261.3 521.9h0M262.8 511.3h0M262.7 516.7h0M264.1 516.2h0M263.5 504.8h0M258.7 516.6h0M265.7 518h0M263.6 515.7h0M258.9 520.7h0M259.7 515.9h0M259.2 511.1h0M259.9 516.6h0M261.2 517.7h0M261.2 521.8h0M264.7 517.2h0M266.1 518.6h0M264.9 512.3h0M262.8 515.6h0M261.6 511.7h0M259.8 510h0M258.1 513.3h0M260.5 510.7h0M263.5 508.6h0M258.9 516.5h0M264.1 506h0M261.2 518.8h0M260 518.4h0M263.8 507.1h0M261.4 521.5h0M261.7 516.2h0M258.4 519h0M259.5 520.3h0M261.6 523.9h0M261.1 521.9h0M264 506.2h0M261.7 523.8h0M259.1 514h0M264.7 518.7h0M258.3 517.3h0M265.2 515.6h0M266.1 513.9h0M266 514.9h0M259.9 513.3h0M262.1 519.3h0M262 510h0M264.2 524.2h0M260.5 517.9h0M265.5 514.6h0M259.7 519.8h0M265.9 516.3h0M263.3 508.5h0M264.2 516.4h0M266.2 514.1h0M265.8 516.8h0M261 516.3h0M259.7 509.1h0M259.3 515.2h0M263.6 523.6h0M261.7 520.6h0M263.8 508.7h0M259.1 517h0M260 514.7h0M263.7 515.9h0M263.8 521.8h0M259.9 518h0M262.3 519.9h0M265.4 518.4h0M260.1 521.1h0M265.8 519.6h0" stroke="#f18f81" stroke-width="1.4" stroke-linecap="square" fill="none" opacity=".55"/>
<path d="M258.95 517.3h6.6" stroke="#000" stroke-width=".95"/>
<ellipse cx="262.25" cy="517.3" rx="1.6" ry="1.2" fill="#000"/>
<path d="M275.2 499.4h0M275.9 457.8h0M282.6 467.6h0M283.2 498.2h0M283.1 463.7h0M274.8 460.7h0M276.9 457.6h0M277 528.1h0M282.8 521.1h0M281.1 458.1h0M274.5 464.9h0M275.4 455.7h0M282.9 504.5h0M279.5 514.7h0M283.1 500.5h0M281.1 551.6h0M277.2 451.7h0M282.6 458.3h0M283.1 511.2h0M275 547.1h0M275.1 444.2h0M282.5 498h0M276.9 452.2h0M280.9 442.4h0M283.3 538.2h0M276.4 518.9h0M276.8 547.9h0M275.3 536.9h0M275 510.2h0M283.2 504.8h0M280.8 458.5h0M274.4 468.1h0M275.1 466.4h0M280.5 549h0M276.4 505.1h0M282.9 513.4h0M274.2 495.7h0M282.9 463h0M278.1 514.5h0M275.4 457.5h0M275.3 514.7h0M282.5 460h0M283.1 464.8h0M281.5 509.9h0M274.8 508h0M282.3 501h0M275.8 456.2h0M276.8 458.6h0M282.6 460.6h0M282.1 454h0M275.2 559.5h0M275.6 454.7h0M282.6 501.4h0M283.4 494h0M275.5 455.1h0M282.8 496.2h0M283.1 458.4h0M280.3 449.8h0M280.5 457.3h0M281.3 453.6h0M278.5 533.8h0M281.8 540.9h0M275.7 538.2h0M283.1 451.1h0M281.1 456.9h0M275.7 501.6h0M274.9 502.1h0M275.6 462.8h0M274.5 496.7h0M274.7 502.6h0M280.1 548.1h0" stroke="#8fd5e6" stroke-width="1.4" stroke-linecap="square" fill="none" opacity=".85"/>
<path d="M278.8 441.7L278.93 444.5L278.93 447.2L278.93 448L279.12 450L279.7 452.7L280.31 455.5L280.92 458.2L281.5 461L282.05 463.8L282.56 466.5L283.02 469.3L283.41 472L283.72 474.8L283.96 477.5L284.12 480.3L284.19 483.1L284.2 484L284.17 485.8L284.03 488.6L283.77 491.3L283.39 494.1L282.93 496.8L282.39 499.6L281.8 502.4L281.19 505.1L280.58 507.9L280 510.6L279.48 513.4L279.06 516.1L278.93 518.9L278.93 520L278.93 521.6L278.93 524.4L278.93 527.2L278.93 529.9L278.93 532.7L278.93 535.4L278.93 538.2L278.93 540.9L278.93 543.7L278.93 546.5L278.93 549.2L278.93 552L278.93 554.7L278.93 557.5L278.93 560.2L278.8 563L278.57 560.2L278.57 557.5L278.57 554.7L278.57 552L278.57 549.2L278.57 546.5L278.57 543.7L278.57 540.9L278.57 538.2L278.57 535.4L278.57 532.7L278.57 529.9L278.57 527.2L278.57 524.4L278.57 521.6L278.57 520L278.57 518.9L278.44 516.1L278.02 513.4L277.5 510.6L276.92 507.9L276.31 505.1L275.7 502.4L275.11 499.6L274.57 496.8L274.11 494.1L273.73 491.3L273.47 488.6L273.33 485.8L273.3 484L273.31 483.1L273.38 480.3L273.54 477.5L273.78 474.8L274.09 472L274.48 469.3L274.94 466.5L275.45 463.8L276 461L276.58 458.2L277.19 455.5L277.8 452.7L278.38 450L278.57 448L278.57 447.2L278.57 444.5Z" fill="#58bfd8" stroke="#0a0a0a" stroke-width=".62" stroke-linejoin="round"/>
<path d="M281 497.1h0M276.5 489.9h0M279.5 481h0M281 488.6h0M280.7 483.5h0M278.7 498.4h0M276.5 479.1h0M275 481.1h0M275.5 479.6h0M276.6 495h0M276.3 471.1h0M275.9 488.5h0M275.9 475.7h0M277 480.8h0M280.6 466.8h0M276.8 477.7h0M277.8 484.4h0M278.9 483.2h0M279.2 464.5h0M280.2 482.6h0M279.6 503.4h0M277.7 484h0M276.8 476h0M277.1 464h0M274.5 480.9h0M276.2 472.4h0M281.2 466.4h0M275.4 483.4h0M282 483.4h0M278.8 468.9h0M275.8 496h0M280.5 462.8h0M277.1 465.8h0M281.6 497.3h0M280.1 459.6h0M274.6 488.7h0M282.1 472.6h0M280.3 491.7h0M277 485.3h0M283 480.2h0M276.2 475.8h0M276.6 467.6h0M278.9 496.5h0M281.1 475.5h0M279.3 490.3h0M275.5 485.3h0M276.2 492h0M279.5 491.3h0M282.4 484.6h0M277.6 476.3h0M276.1 481.1h0M274.7 484.4h0M280.8 491.7h0M276.9 486.4h0M283.1 483h0M281.4 477.6h0M277.8 489.5h0M279.3 468h0M281.7 491.7h0M282.8 487h0M281.6 476h0M278.1 487.6h0M278.8 471.6h0M276 476.1h0M280.6 482h0M276.2 477.9h0M279.1 465.7h0M281.8 481h0M278.7 483.2h0M280.7 462.4h0M280 477.9h0M280 501.6h0M281.5 479.7h0M281.2 492h0M280.1 480.1h0M277.7 486.3h0M276.2 469.1h0M277 487.5h0M275.5 477.1h0M282 474.8h0M278.4 472.5h0M283 483.2h0M280.9 471.9h0M280.3 471.2h0M279 483.8h0M281.7 475.1h0M274.9 482.4h0M278.3 465.6h0M277.4 478.2h0M282.3 484.4h0M282.1 480.8h0M275.4 488h0M280.6 495.5h0M279.2 477h0M277.9 466.6h0M281.4 494.8h0M277.9 486h0M278.6 492.5h0M276.4 481.1h0M278.4 495.6h0M275.5 491.4h0M274.8 480.4h0M275.4 476.2h0M280.9 493.9h0M277.4 473h0M276.4 478.1h0M275.6 470.9h0M279.7 462.8h0M275.6 487.5h0M282.2 493h0M280.9 489.9h0M276.1 483.5h0M279.9 486.8h0M281.2 489.8h0M282.5 478.6h0M279.3 473.1h0M277.2 483.6h0M276.1 478.8h0M280.3 503.5h0M279.9 501.3h0M277.8 482.1h0M281.9 469.5h0M276.4 498.1h0M276.8 494.2h0M279.3 489.7h0M278 492.2h0M276.1 488.4h0M274.6 480.6h0M277.2 492.6h0M277.1 501h0M279.5 487h0M276.3 474.8h0M276.6 474h0M278.3 491h0M282.2 490.7h0M277.4 492.2h0M279.7 477.4h0M277.1 501.3h0M277 496.5h0M282.9 488.3h0M281.8 484.3h0M277.3 465h0M279 502.3h0M280.5 488.2h0M277.3 498.8h0M278.7 479.4h0M276.5 466.6h0M282.3 472.6h0M276.1 480.5h0M277.1 473.6h0M281.9 495.5h0M276.9 492.7h0" stroke="#8fd5e6" stroke-width="1.4" stroke-linecap="square" fill="none" opacity=".55"/>
<path d="M275.45 489.1h6.6" stroke="#000" stroke-width=".95"/>
<ellipse cx="278.75" cy="489.1" rx="1.6" ry="1.2" fill="#000"/>
<path d="M293.5 468.4h0M285.4 462.5h0M291.8 520.5h0M290.6 455.2h0M287.8 513h0M294.2 495.1h0M291.8 528.1h0M286 547.1h0M285.7 464.8h0M286.7 515.3h0M285.4 543.9h0M286.2 466.9h0M294.1 500.4h0M293.9 498.4h0M286.5 511h0M286.4 463.6h0M290.7 454.4h0M286 462.3h0M288.1 458.1h0M286.3 553.3h0M294.2 496.6h0M293.2 464.9h0M286.8 466h0M286 502h0M290 538h0M286.6 522.3h0M285.4 461.9h0M285.5 462.4h0M286.5 515.3h0M286.9 505.8h0M293.9 532.6h0M290.9 516.9h0M285.7 510.8h0M285.2 496.4h0M286.3 506.4h0M286.9 462.3h0M294.4 503.6h0M290.8 549.6h0M290.3 553.7h0M292.5 513.9h0M285.2 555h0M291.9 507.8h0M286.8 502.9h0M286.6 460.4h0M285.2 506.6h0M288.3 538.3h0M291.3 453h0M290.8 554.8h0M287 504.8h0M292.4 539h0M285.9 459.9h0M287 564h0M293.7 516.7h0M293.8 535.8h0M294 503.2h0M292.7 458.3h0M293.4 502.9h0M288.3 535.8h0M293.8 465.8h0M285.2 470.9h0M294.5 457.2h0M285.9 502.3h0M286.8 543.8h0M285.9 470.6h0M294.2 498.2h0M293.9 525h0M293.1 545.8h0M287.3 509.2h0M291.7 513.7h0M286 531.5h0M290.1 558.2h0M293 511.1h0M285.2 473h0M292.3 458.4h0M287 460h0M286.9 505.1h0M292.7 542.2h0M294.3 468.5h0M291.6 546.1h0M286.2 512.2h0M290.9 453.7h0M293 506.6h0M294.3 464.8h0M293.2 507.2h0M294.1 517.1h0M285.7 465.4h0" stroke="#f18f81" stroke-width="1.4" stroke-linecap="square" fill="none" opacity=".85"/>
<path d="M289.9 450.7L290.01 452.5L290.03 453.3L290.61 455.8L291.25 458.4L291.9 461L292.53 463.6L293.12 466.1L293.67 468.7L294.15 471.3L294.56 473.9L294.88 476.4L295.12 479L295.26 481.6L295.3 484L295.3 484.2L295.25 486.8L295.11 489.3L294.88 491.9L294.57 494.5L294.2 497.1L293.76 499.6L293.28 502.2L292.77 504.8L292.25 507.4L291.73 509.9L291.23 512.5L290.77 515.1L290.37 517.6L290.06 520.2L290.03 522.8L290.03 523.5L290.03 525.4L290.03 528L290.03 530.5L290.03 533.1L290.03 535.7L290.03 538.2L290.03 540.8L290.03 543.4L290.03 546L290.03 548.5L290.03 551.1L290.03 553.7L290.03 556.3L290.03 558.9L290.03 561.4L289.9 564L289.67 561.4L289.67 558.9L289.67 556.3L289.67 553.7L289.67 551.1L289.67 548.5L289.67 546L289.67 543.4L289.67 540.8L289.67 538.2L289.67 535.7L289.67 533.1L289.67 530.5L289.67 528L289.67 525.4L289.67 523.5L289.67 522.8L289.64 520.2L289.33 517.6L288.93 515.1L288.47 512.5L287.97 509.9L287.45 507.4L286.93 504.8L286.42 502.2L285.94 499.6L285.5 497.1L285.13 494.5L284.82 491.9L284.59 489.3L284.45 486.8L284.4 484.2L284.4 484L284.44 481.6L284.58 479L284.82 476.4L285.14 473.9L285.55 471.3L286.03 468.7L286.58 466.1L287.17 463.6L287.8 461L288.45 458.4L289.09 455.8L289.67 453.3L289.69 452.5Z" fill="#e75642" stroke="#0a0a0a" stroke-width=".62" stroke-linejoin="round"/>
<path d="M286.2 481h0M291.4 487.9h0M288 472.1h0M291.1 481.7h0M291.6 477.7h0M293.3 486.6h0M290.2 472.3h0M290.3 477.9h0M289.5 494.9h0M286.9 476.3h0M288.3 474h0M293.4 483.1h0M291.1 477.6h0M287 477.9h0M289.7 471.4h0M288.2 483.8h0M293.2 490.6h0M291.8 488h0M291.7 481.8h0M291.5 483h0M293.4 480.2h0M286.7 485.7h0M292.2 501.1h0M286.6 484.6h0M292.8 488.3h0M287.3 485.5h0M287.9 481h0M291.7 489.1h0M289.3 474.6h0M291.9 479h0M290.3 485.2h0M292.1 472.7h0M292.5 497h0M286.7 474.2h0M289.7 465.4h0M287.8 485h0M287.1 499.4h0M287.8 467.8h0M293.4 488.4h0M290 494.8h0M286.3 479.9h0M288.3 474h0M290.5 491.3h0M290.1 472.9h0M289.4 498h0M287 479.3h0M286.6 483.1h0M286.6 492.8h0M286.6 474.2h0M293.3 474.4h0M292.4 494.7h0M293.1 478.3h0M289.3 493.4h0M288.9 473.8h0M291.6 502.8h0M287.3 478.8h0M289 492.5h0M292 489.7h0M291.3 477.8h0M291.4 485.5h0M292.8 479.6h0M293.9 484.4h0M288.4 466.7h0M285.6 485.9h0M287.3 493.4h0M288.3 500.2h0M293.2 493h0M289.6 487.5h0M291.2 467.7h0M292.9 481h0M291 498h0M286.8 498h0M286.2 476.7h0M286.8 485.1h0M288.5 475.8h0M290.9 483.8h0M291 494.5h0M286.9 489.3h0M290.7 496.1h0M293.3 485h0M290.2 487.2h0M287.3 477.1h0M288.8 481.8h0M291.2 505.8h0M292.5 482h0M288.1 489.7h0M286.8 483.3h0M288.5 474.4h0M288.1 485.3h0M293.2 477.4h0M287 475.2h0M288.9 467.1h0M293.1 485.4h0M291.7 484.3h0M293.3 488.4h0M287.8 489.6h0M289.1 504.2h0M286.3 478.1h0M290.2 483.5h0M289.8 490.3h0M292.1 484.5h0M289.6 490.7h0M291.2 490.7h0M290.1 480.3h0M293.2 487.1h0M293.6 492.4h0M287.1 470.2h0M290.9 489h0M287.8 465.8h0M291.3 471.5h0M292.7 479.4h0M290.5 475.1h0M287.1 493.7h0M290.1 501.2h0M292 492.4h0M288.9 501.6h0M291.6 477.7h0M289.8 482h0M289.8 494h0M289.5 497.7h0M288.9 463.5h0M289.8 467.2h0M292.1 467.6h0M289.9 488.5h0M286.3 487.3h0M286.9 478.5h0M287.3 475.7h0M289.4 501.8h0M290.3 485.4h0M289.1 487.2h0M290.2 502.4h0M292.4 492.9h0M288.6 467.3h0M286.5 495.7h0M290.9 486.2h0M293.6 483.3h0M286.1 482.9h0M289.2 494.4h0M289.7 489.5h0M291.9 489.2h0M288.6 495.7h0M288.9 466.5h0M291.9 486.5h0M290.9 477.7h0M288.3 473.7h0M291.6 497.9h0M290.2 482.9h0M291.4 488.8h0M292.1 466.5h0M287.3 473.7h0M293.3 480.5h0" stroke="#f18f81" stroke-width="1.4" stroke-linecap="square" fill="none" opacity=".55"/>
<path d="M286.55 488.9h6.6" stroke="#000" stroke-width=".95"/>
<ellipse cx="289.85" cy="488.9" rx="1.6" ry="1.2" fill="#000"/>
<path d="M223.55 470.9v-2.4h11.1v2.4" fill="none" stroke="#111" stroke-width=".85"/>
<text x="229.1" y="467.5" font-size="5.8" text-anchor="middle">ns</text>
<path d="M251.15 493.6v-2.4h11.1v2.4" fill="none" stroke="#111" stroke-width=".85"/>
<text x="256.7" y="490.2" font-size="5.8" text-anchor="middle">ns</text>
<path d="M212.4 433.9V567.3H300.7" fill="none" stroke="#333" stroke-width=".8"/>
<text x="207.7" y="466.5" font-size="8.8" text-anchor="end">4000</text>
<text x="207.7" y="499.45" font-size="8.8" text-anchor="end">2000</text>
<text x="207.7" y="532.4" font-size="8.8" text-anchor="end">0</text>
<text x="207.7" y="565.35" font-size="8.8" text-anchor="end">-2000</text>
<path d="M212.4 463.4h-3.2M212.4 496.35h-3.2M212.4 529.3h-3.2M212.4 562.25h-3.2M229.1 567.3v3.2M256.7 567.3v3.2M284.3 567.3v3.2" fill="none" stroke="#333" stroke-width=".8"/>
<text transform="translate(230.3 578.9) rotate(-15)" font-size="8.95" text-anchor="end">ImmuneScore</text>
<text transform="translate(257.9 578.9) rotate(-15)" font-size="8.95" text-anchor="end">StromalScore</text>
<text transform="translate(285.5 578.9) rotate(-15)" font-size="8.95" text-anchor="end">ESTIMATEScore</text>
<text transform="translate(179.4 500.6) rotate(-90)" font-size="9.7" text-anchor="middle">Enrichment score</text>
<text x="304" y="494.8" font-size="8.6">TMC2</text>
<rect x="303.9" y="497.3" width="6.1" height="8" fill="#9bdbe9" stroke="#333" stroke-width=".7"/>
<circle cx="306.95" cy="501.3" r=".9" fill="#58bfd8" opacity=".75"/>
<text x="313.8" y="504.4" font-size="8.6">Low</text>
<rect x="303.9" y="505.3" width="6.1" height="8" fill="#f29a8f" stroke="#333" stroke-width=".7"/>
<circle cx="306.95" cy="509.3" r=".9" fill="#e75642" opacity=".75"/>
<text x="313.8" y="512.4" font-size="8.6">High</text>
</g>
<g id="pK">
<text x="353.5" y="426" font-size="20.2">K</text>
<path d="M398 515.8h0M401.8 526.2h0M403.5 487.9h0M396.8 513h0M403.1 536.7h0M395.7 482h0M395.3 513.1h0M403.6 510.4h0M400.7 475.8h0M395.9 485h0M403.1 485.1h0M403.7 508.4h0M396.6 483.4h0M403.3 482.5h0M395.1 487.2h0M395 487.3h0M395.3 488.3h0M400.9 522.9h0M401.9 519.3h0M398.6 532.1h0M403.4 513.1h0M402.8 513.4h0M401.3 526.8h0M401.2 517.3h0M402 520.9h0M403.1 519.4h0M404.1 510.9h0M402.9 529.8h0M401.3 481.5h0M395.2 488h0M403.3 487.9h0M403.7 474h0M404.1 480.6h0M397.7 478.3h0M402.9 483.1h0M403.1 485.5h0M397.7 515h0M400.7 519.3h0M403.9 479.8h0M402.6 486.4h0M398.1 514.5h0M400.2 478.3h0M397.1 537.8h0M396.8 517.1h0M402.7 512.7h0M400.7 537.3h0M396.1 487.8h0M395.9 510.3h0M403.4 486.3h0M402.7 512h0M402.8 510.4h0M403.1 529.5h0M396 510.2h0M403.3 515.7h0M403.5 483.7h0M396.6 477.8h0M395.7 510.6h0M403.7 485.4h0M400.7 515.7h0M395.3 488.3h0M395 537.7h0M403.8 480.5h0M397.9 480.2h0M400.5 535.9h0M404.1 480.1h0M395 486.2h0M395.4 482.5h0M395.8 487.5h0M401 478.3h0M395 492.7h0M403.5 489.8h0M396.3 528.4h0M395.2 511.6h0M402.9 482.1h0M402.9 483.5h0M403.2 515.3h0M396.4 515.9h0M398.9 478.6h0M403.9 508.6h0M400.5 519.1h0M395 484.5h0" stroke="#8fd5e6" stroke-width="1.4" stroke-linecap="square" fill="none" opacity=".85"/>
<path d="M399.4 473.5L399.59 475L399.63 475.9L399.63 476.5L400 478L400.44 479.5L400.88 481.1L401.33 482.6L401.77 484.1L402.2 485.6L402.61 487.1L402.99 488.6L403.35 490.1L403.68 491.6L403.98 493.1L404.24 494.7L404.46 496.2L404.63 497.7L404.77 499.2L404.86 500.7L404.9 502.2L404.9 502.8L404.87 503.7L404.69 505.2L404.35 506.8L403.88 508.3L403.29 509.8L402.63 511.3L401.93 512.8L401.23 514.3L400.57 515.8L400.01 517.3L399.63 518.8L399.63 520L399.63 520.4L399.63 521.9L399.63 523.4L399.63 524.9L399.63 526.4L399.63 527.9L399.63 529.4L399.63 530.9L399.63 532.4L399.63 534L399.63 535.5L399.63 537L399.59 538.5L399.4 540L399.31 538.5L399.27 537L399.27 535.5L399.27 534L399.27 532.4L399.27 530.9L399.27 529.4L399.27 527.9L399.27 526.4L399.27 524.9L399.27 523.4L399.27 521.9L399.27 520.4L399.27 520L399.27 518.8L398.89 517.3L398.33 515.8L397.67 514.3L396.97 512.8L396.27 511.3L395.61 509.8L395.02 508.3L394.55 506.8L394.21 505.2L394.03 503.7L394 502.8L394 502.2L394.04 500.7L394.13 499.2L394.27 497.7L394.44 496.2L394.66 494.7L394.92 493.1L395.22 491.6L395.55 490.1L395.91 488.6L396.29 487.1L396.7 485.6L397.13 484.1L397.57 482.6L398.02 481.1L398.46 479.5L398.9 478L399.27 476.5L399.27 475.9L399.31 475Z" fill="#58bfd8" stroke="#0a0a0a" stroke-width=".62" stroke-linejoin="round"/>
<path d="M397.9 501.8h0M398 491.5h0M397.4 501h0M400 482.1h0M396.9 492.7h0M397.8 511.5h0M401.4 503.5h0M401.8 498.6h0M402.3 494.5h0M399.7 511.9h0M396.1 494.2h0M396.6 501.5h0M401.7 491.5h0M399.3 484.1h0M399.1 506.3h0M402.7 502.2h0M398.5 492.8h0M403.5 499.1h0M396.6 508.2h0M397 505.5h0M401.6 497.8h0M395.5 502.8h0M400.7 490.5h0M396.8 491.2h0M397.8 502.7h0M397.3 510.9h0M402.8 504.2h0M399.4 506.9h0M398.5 497.8h0M399.4 487.2h0M401.1 498.5h0M399.8 497.4h0M399.2 489.8h0M399.2 497.9h0M395.7 499.5h0M397.4 501.7h0M400.6 499.5h0M396.9 504.8h0M399.4 489.3h0M399.5 499.7h0M401 492.3h0M401.2 506.2h0M400.3 505h0M400.9 509.5h0M400.5 496.7h0M397.2 497h0M402.2 500.9h0M401.6 499.8h0M397.6 505h0M399.1 504.7h0M398.3 504h0M401.8 504.5h0M399.8 505.4h0M397.9 490.9h0M396.2 506.9h0M399.3 487.9h0M397.6 491.6h0M401.9 492h0M399.9 512.9h0M401.3 506.3h0M398.1 503.1h0M397.8 503.9h0M398.9 499.3h0M400.3 489.6h0M398.5 503h0M397.1 493.2h0M402.5 505.6h0M400.7 504.3h0M397 504.7h0M401.8 498.7h0M401.3 498h0M402.2 491h0M400 501.2h0M400.9 502h0M397.8 511.4h0M399.9 512.1h0M398.8 503h0M401.2 508.1h0M401.1 509h0M395.6 505.4h0M400.6 499.5h0M400.6 496.2h0M397.3 495.5h0M396.9 493.4h0M401.4 492.1h0M398.1 499.1h0M399.2 502h0M400 506.5h0M400.1 487.3h0M398.7 495.8h0M402 507h0M398.2 504.5h0M399.5 487.5h0M399.1 496.2h0M400.5 500.2h0M397.6 489.8h0M396.5 497.1h0M402.8 504.4h0M395.9 496.9h0M401.9 497.8h0M398.7 490.5h0M400.3 502.2h0M402 505.7h0M400.6 497.9h0M395.6 506.3h0M399.9 508.6h0M403 500.7h0M398.4 486.3h0M399.5 509.4h0M396.1 505h0M399.7 489.5h0M402 496.7h0M401.5 496.4h0M397.1 496.1h0M402.6 507h0M402.2 490.4h0M398.1 501.6h0M397.8 500.2h0M396.4 499.2h0M400.5 496.4h0M402.8 496h0M401.1 501.3h0M399.7 493.8h0M403.6 499.2h0M396.5 499.1h0M398.2 508.2h0M399.3 498.9h0M403.5 500.9h0M400.1 498.3h0M398.6 495.8h0M400.4 499.3h0M397.9 504.3h0M398.5 503h0M401.2 499.1h0M396.1 502.3h0M402.7 492.6h0M397 504.8h0M402.9 498.2h0M399.2 501.4h0M396.3 499h0M399.9 486.6h0M400.2 505.9h0M396 506h0M397.7 486.2h0M397.9 495.2h0M399.3 495.7h0M397.6 495.4h0M397.8 510.9h0" stroke="#8fd5e6" stroke-width="1.4" stroke-linecap="square" fill="none" opacity=".55"/>
<path d="M396.15 503h6.6" stroke="#000" stroke-width=".95"/>
<ellipse cx="399.45" cy="503" rx="1.6" ry="1.2" fill="#000"/>
<path d="M406 513.8h0M408.6 515.8h0M413.8 516.4h0M415.1 507.9h0M414 479.8h0M406.2 507.3h0M414.3 478.1h0M407.4 529h0M407.4 485.3h0M414.7 514.5h0M407.7 524.9h0M408 481h0M406.7 486h0M407.7 535.4h0M406 518h0M415.2 486.5h0M415.1 511.8h0M410 535.8h0M414.5 539.2h0M406.3 490.2h0M406 511.3h0M406 506.3h0M406.1 506.7h0M414.5 476.2h0M409 472.4h0M413.7 516.1h0M412.6 475.8h0M406.5 511.6h0M414.4 508.3h0M413.5 476.3h0M407.7 512.9h0M406.8 483.9h0M415.2 483.2h0M406.2 509.7h0M406.2 482.5h0M413.7 475.4h0M408.4 480.2h0M406.8 508.6h0M413.5 529.8h0M405.9 515.1h0M415 510.2h0M415.1 481.5h0M407.5 537.6h0M414.4 516.1h0M408 516.9h0M408.7 477.6h0M415.1 510h0M406.5 478.5h0M412.9 521.2h0M406.2 486.7h0M406.4 511.8h0M414.9 528.6h0M407.8 517.9h0M406 511.3h0M407.3 483.7h0M407.5 516.2h0M407.1 515.9h0M414.6 513h0M414.4 483.8h0M413.1 480.7h0M406.3 515h0M414.5 486.4h0M406.3 513.4h0M413 516.4h0M406.1 512.6h0M414.7 480.7h0M414.5 484.2h0M415.2 481.7h0M406.5 509.5h0M411.5 473.1h0M408.4 477.9h0M406.9 509.2h0M407.8 514.6h0M406.2 487.8h0M406.5 509.5h0M409.7 519.3h0M408 516.6h0" stroke="#f18f81" stroke-width="1.4" stroke-linecap="square" fill="none" opacity=".85"/>
<path d="M410.6 472.3L410.69 473.9L410.7 474L410.92 475.4L411.39 477L411.88 478.5L412.37 480.1L412.85 481.6L413.32 483.2L413.77 484.7L414.19 486.3L414.57 487.8L414.92 489.4L415.23 490.9L415.48 492.5L415.69 494L415.85 495.6L415.95 497.1L416 498.7L416 499.2L415.98 500.2L415.88 501.8L415.69 503.3L415.43 504.9L415.09 506.5L414.69 508L414.24 509.6L413.76 511.1L413.25 512.7L412.74 514.2L412.23 515.8L411.75 517.3L411.32 518.9L410.96 520.4L410.73 522L410.73 523.5L410.73 523.5L410.73 525.1L410.73 526.6L410.73 528.2L410.73 529.7L410.73 531.3L410.73 532.8L410.73 534.4L410.73 535.9L410.73 537.5L410.69 539L410.6 540.6L410.41 539L410.37 537.5L410.37 535.9L410.37 534.4L410.37 532.8L410.37 531.3L410.37 529.7L410.37 528.2L410.37 526.6L410.37 525.1L410.37 523.5L410.37 523.5L410.37 522L410.14 520.4L409.78 518.9L409.35 517.3L408.87 515.8L408.36 514.2L407.85 512.7L407.34 511.1L406.86 509.6L406.41 508L406.01 506.5L405.67 504.9L405.41 503.3L405.22 501.8L405.12 500.2L405.1 499.2L405.1 498.7L405.15 497.1L405.25 495.6L405.41 494L405.62 492.5L405.87 490.9L406.18 489.4L406.53 487.8L406.91 486.3L407.33 484.7L407.78 483.2L408.25 481.6L408.73 480.1L409.22 478.5L409.71 477L410.18 475.4L410.4 474L410.41 473.9Z" fill="#e75642" stroke="#0a0a0a" stroke-width=".62" stroke-linejoin="round"/>
<path d="M412.5 508.3h0M406.8 500.5h0M410.2 505.2h0M411.4 496.5h0M410.2 514h0M414.3 503.9h0M411.3 496.4h0M412 504.1h0M411 503h0M410.8 488.3h0M408.4 493.1h0M410.5 490.4h0M411.8 509.5h0M409 492.3h0M414.1 498.2h0M411.5 509.9h0M413.3 491.6h0M407.7 494.7h0M412.5 486.6h0M409.4 512.6h0M408.7 494.4h0M407.2 500.3h0M412.9 490h0M406.5 502.8h0M412.7 500.7h0M409 494.7h0M408 499.4h0M412.1 484.3h0M412.7 510.1h0M410.5 492.5h0M410.5 497.6h0M407.9 487.6h0M409.5 497.7h0M412.4 496.5h0M414.7 500.5h0M411.8 497.1h0M411.8 490.4h0M412.3 496.8h0M411.2 483.2h0M408.4 495h0M410.6 490.5h0M408.4 496h0M413.9 503h0M407.7 504.5h0M412.1 499.7h0M407.9 487.8h0M408.6 507.1h0M408.6 488.4h0M410.8 510.8h0M410 499.9h0M413.9 506.6h0M407.3 495.3h0M414.3 499.8h0M411.6 494.5h0M409.8 507.2h0M411.3 498.5h0M408.1 505.4h0M413.1 490.7h0M407.9 506.9h0M407.7 492.3h0M408.9 496.1h0M411.3 482.2h0M414.3 494.7h0M408.7 510.1h0M409.3 486.3h0M413.5 489.7h0M410.2 487.9h0M412.6 503.8h0M406.5 502.1h0M413.3 495.6h0M408.8 509.1h0M412 491.5h0M414.6 503h0M413.9 490.3h0M410.7 505.9h0M409.3 498.8h0M411.3 505.4h0M411.7 488.3h0M410.9 500.2h0M410.1 493.3h0M407.5 507.5h0M414.8 498.1h0M413.4 506.7h0M409.3 485.2h0M412.3 504.2h0M413.3 496h0M409.8 502.2h0M409.2 507.5h0M409.4 504.4h0M413.4 493.3h0M410.8 496.1h0M411.5 514.5h0M412.7 499.9h0M407.2 489.9h0M408.2 509.5h0M413.1 498.1h0M409.4 489.9h0M411.9 511.2h0M408.7 507.3h0M411.6 496.4h0M410.3 497.3h0M408.1 497.9h0M411.2 494.2h0M411.4 488.5h0M412.1 501.6h0M411.1 499.8h0M408.6 510.6h0M413.2 498.3h0M411.3 496.4h0M413.8 490.7h0M408.2 498h0M410.4 503.1h0M410.4 507.4h0M409.7 491.4h0M414.4 500.3h0M407.3 492.1h0M414.5 497.7h0M411 496h0M409.4 487.1h0M410.2 479.6h0M411.8 505.6h0M407.5 507.8h0M409.7 490.6h0M411.2 503.3h0M411.4 495h0M406.6 502h0M408.5 501h0M410.9 489.8h0M409.2 484.5h0M407.2 496.9h0M407.5 506.7h0M412 482.5h0M412.3 504.2h0M409.2 487.2h0M408 491.7h0M411.3 485.2h0M412.1 510.1h0M408.9 494.7h0M413.5 491.4h0" stroke="#f18f81" stroke-width="1.4" stroke-linecap="square" fill="none" opacity=".55"/>
<path d="M407.25 500.3h6.6" stroke="#000" stroke-width=".95"/>
<ellipse cx="410.55" cy="500.3" rx="1.6" ry="1.2" fill="#000"/>
<path d="M429.6 499.2h0M423.3 523.1h0M423.2 523h0M431.6 522.6h0M422.9 548.4h0M430.6 524.6h0M424.7 503.7h0M424.1 506.4h0M429.5 504.3h0M431.5 504.7h0M430.8 541.3h0M430.5 498h0M422.9 505.9h0M425.1 525.7h0M428.7 540.7h0M429.7 526.9h0M424.2 551.5h0M430.3 506h0M428.9 527.1h0M427.9 533.6h0M423.8 536.8h0M431.1 528.3h0M427 534.9h0M431.6 510.5h0M423.2 527.5h0M429.8 535.6h0M427.9 498.5h0M426.1 533.7h0M422.6 499h0M429.8 531.5h0M431.6 510.4h0M429.6 502.3h0M422.4 522.3h0M423 501.7h0M425.6 541.7h0M424.2 499.8h0M423.7 505.4h0M431.3 522.8h0M425.3 499.9h0M422.7 546.3h0M431 505.4h0M423.9 504.3h0M430.7 523.7h0M422.5 525.3h0M427.9 528.7h0M430.4 526.1h0M426.4 536.9h0M430.2 536.5h0M422.8 536.1h0M431.4 502.6h0M430 538.8h0M429.8 547.1h0M429 540.1h0M429.9 527.5h0M422.5 510.1h0M429.9 536.1h0M422.6 524.6h0M423 507h0M429.6 527.8h0M431.2 501.6h0M422.8 508.5h0M424.4 540.2h0M424.5 502.7h0M431.7 508.1h0M423.2 506.2h0M427.4 548.9h0M424 549.3h0M430.6 502.6h0M423.9 543.3h0M422.6 509.9h0M422.4 524.4h0M429.7 529h0M430.7 505.4h0M423.8 526.4h0M431.2 534.4h0M429.7 503.6h0M427.5 540h0M427.7 546.1h0M431.6 507.3h0M429.6 525.2h0" stroke="#8fd5e6" stroke-width="1.4" stroke-linecap="square" fill="none" opacity=".85"/>
<path d="M427.1 496.9L427.16 498.2L427.18 498.3L427.44 499.4L427.94 500.7L428.46 501.9L428.97 503.2L429.48 504.5L429.97 505.7L430.44 507L430.87 508.2L431.26 509.5L431.6 510.8L431.89 512L432.13 513.3L432.31 514.5L432.43 515.8L432.49 517L432.5 517.6L432.47 518.3L432.26 519.6L431.87 520.8L431.32 522.1L430.65 523.3L429.91 524.6L429.13 525.9L428.39 527.1L427.74 528.4L427.25 529.6L427.23 530.7L427.23 530.9L427.23 532.2L427.23 533.4L427.23 534.7L427.23 535.9L427.23 537.2L427.23 538.4L427.23 539.7L427.23 541L427.23 542.2L427.23 543.5L427.23 544.7L427.23 546L427.23 547.3L427.23 548.5L427.23 549.8L427.16 551L427.1 552.3L426.94 551L426.87 549.8L426.87 548.5L426.87 547.3L426.87 546L426.87 544.7L426.87 543.5L426.87 542.2L426.87 541L426.87 539.7L426.87 538.4L426.87 537.2L426.87 535.9L426.87 534.7L426.87 533.4L426.87 532.2L426.87 530.9L426.87 530.7L426.85 529.6L426.36 528.4L425.71 527.1L424.97 525.9L424.19 524.6L423.45 523.3L422.78 522.1L422.23 520.8L421.84 519.6L421.63 518.3L421.6 517.6L421.61 517L421.67 515.8L421.79 514.5L421.97 513.3L422.21 512L422.5 510.8L422.84 509.5L423.23 508.2L423.66 507L424.13 505.7L424.62 504.5L425.13 503.2L425.64 501.9L426.16 500.7L426.66 499.4L426.92 498.3L426.94 498.2Z" fill="#58bfd8" stroke="#0a0a0a" stroke-width=".62" stroke-linejoin="round"/>
<path d="M429 520.5h0M428.6 508.9h0M425.7 513.1h0M426.7 503.7h0M423.9 512.9h0M425.6 518.8h0M425.3 516.3h0M423.1 516.2h0M428.4 513.3h0M426.3 522.4h0M427.5 521.7h0M426 513.1h0M427.1 525.2h0M430.4 513.6h0M426.5 514.3h0M424.7 512.4h0M423.6 513.5h0M427 510.2h0M426 521.2h0M424.6 511.8h0M424.8 519.7h0M430.5 518.2h0M429 506.2h0M430.3 519.3h0M427.9 515.8h0M425.8 515.1h0M427.2 512.9h0M425.9 518h0M424.6 515.3h0M426.4 517.3h0M429.7 522.1h0M429 514.4h0M428 517.1h0M427 517.1h0M427.1 515.6h0M426 520.6h0M431.1 519h0M425 520h0M429.4 507.4h0M429.9 517.9h0M423.8 519h0M424.2 515h0M425 517.3h0M425.7 520.4h0M429.7 519.3h0M427.4 511.2h0M427.9 513.1h0M428 525.8h0M424.4 522.1h0M424 510.8h0M428.1 513.3h0M425.8 517.1h0M427.2 511.2h0M426.3 517.1h0M427.7 512.2h0M429.1 511.7h0M424.5 515.6h0M425 514.5h0M424.5 511.7h0M429.4 519.5h0M429.6 517.7h0M427.6 516.2h0M428.7 513.4h0M427.4 509.9h0M428.1 520h0M427.7 516.3h0M425.3 523.2h0M426.5 506.6h0M428.4 509.5h0M424.2 512.6h0M429.7 509.4h0M424.4 518.7h0M430 511.4h0M425.4 508.6h0M428.2 509.9h0M429.9 513.2h0M425.2 519.7h0M427.2 506.1h0M423.7 513.2h0M424.8 519.2h0M427.4 514.4h0M425.8 521.8h0M428.5 512.9h0M425.9 510.3h0M426.3 510.4h0M423.7 515.8h0M428.4 519.8h0M423.4 516.2h0M430.2 514.5h0M427.4 517.9h0M424.6 516.9h0M428.4 509.4h0M429.7 519.7h0M423.8 511.1h0M425.6 510.5h0M427.8 505h0M427.6 522.4h0M423.3 514h0M425.6 524.1h0M427.6 525h0M430.6 514.3h0M426.5 510.5h0M430.7 513.3h0M427.9 518h0M426.6 518.7h0M425.4 513.6h0M425.7 524.1h0M426.7 502.2h0M427 508.1h0M426.7 519.7h0M426.7 515.6h0M425.4 506.7h0M429 506.4h0M423.8 512.1h0M424.2 510.2h0M430.2 510.1h0M426 520.6h0M429.3 519h0M430.9 518.2h0M429 522.1h0M430 521.5h0M430.5 512.5h0M426.7 508.7h0M423.2 513.6h0M426.9 524.5h0M430 515.1h0M431 517.2h0M424.4 516.5h0M427.8 510.8h0M424.8 509h0M427.9 516.5h0M423.6 515.9h0M426.6 521.6h0M426.8 513h0M423.7 516.5h0M430.1 517.3h0M428 515.3h0M428.5 513.7h0M429 521.7h0M427.1 510.5h0M424 510.1h0M423.7 518.8h0M425.1 524h0M426 524.7h0M426.6 509h0M430.8 517.4h0M425.6 510.5h0M425.8 512.3h0M424.8 512.2h0M430.5 513.2h0M426.5 514h0M425.4 511.3h0M424.1 517.3h0M428.1 521.9h0M426 525.5h0M428.3 516.6h0M425.5 505.5h0M424.4 512.1h0M427.8 508.7h0M424.3 511.8h0M429.1 512.1h0M426.8 515.8h0M428.9 512h0M423.8 513.1h0M429.6 510.8h0M424.8 521.3h0M425.2 516.1h0M424.9 508.2h0M428.6 517.3h0M425.2 509.3h0M429 516.4h0M425.2 521.7h0M429.7 519.8h0M429.1 517.9h0" stroke="#8fd5e6" stroke-width="1.4" stroke-linecap="square" fill="none" opacity=".55"/>
<path d="M423.75 517.8h6.6" stroke="#000" stroke-width=".95"/>
<ellipse cx="427.05" cy="517.8" rx="1.6" ry="1.2" fill="#000"/>
<path d="M433.5 501.3h0M442.3 525.3h0M441.3 524.2h0M441.8 523.4h0M433.7 504.5h0M441.1 502.7h0M438.5 542.7h0M442.7 502.5h0M439.5 537.1h0M433.9 521.7h0M436.6 498h0M438.9 539.1h0M434 508.3h0M441.2 498.7h0M441.6 522.5h0M441.4 544.9h0M441.6 526.9h0M435.8 499.6h0M441.8 525.3h0M442.1 544.7h0M435.1 524.2h0M435 538.6h0M441.6 501h0M433.7 539.8h0M435.6 503.5h0M439.8 544.6h0M442.1 506.2h0M437.3 537.3h0M439.5 527.4h0M435.1 526.9h0M442.1 531.2h0M441.6 499h0M440.6 525.3h0M435 503.3h0M434.7 501.9h0M440.5 497h0M440.6 547.1h0M442.4 524.8h0M435.7 500.4h0M434.1 536.9h0M434.9 499.3h0M434.9 527.2h0M442.6 551h0M435.6 549.1h0M433.5 504.2h0M439.1 526.8h0M442.2 500.7h0M436.7 544.4h0M434.2 501.9h0M434.4 523.2h0M440.6 501.9h0M435.6 524.3h0M435.4 504h0M434.9 523.4h0M441.4 533.1h0M440.9 504.3h0M442.5 528.6h0M434.4 497.7h0M442.4 524.2h0M434.1 507.8h0M442.5 522.5h0M437 527.2h0M442.7 497.8h0M438.9 533h0M442.8 551.7h0M436.3 500.4h0M434.7 500.7h0M439.7 501.3h0M433.5 510.1h0M442 525.2h0M433.7 526.8h0M434.1 536.6h0M441.6 505h0M441.3 505.3h0" stroke="#f18f81" stroke-width="1.4" stroke-linecap="square" fill="none" opacity=".85"/>
<path d="M438.2 495.1L438.27 496.4L438.32 497L438.4 497.7L438.93 499L439.48 500.3L440.04 501.6L440.6 502.9L441.12 504.2L441.62 505.5L442.08 506.8L442.48 508.1L442.84 509.4L443.13 510.7L443.35 512L443.5 513.3L443.59 514.6L443.6 515.4L443.59 515.9L443.45 517.2L443.17 518.5L442.75 519.8L442.22 521.1L441.61 522.4L440.94 523.7L440.26 525L439.6 526.3L439 527.6L438.51 528.9L438.33 530.2L438.33 530.7L438.33 531.5L438.33 532.8L438.33 534.1L438.33 535.4L438.33 536.7L438.33 538L438.33 539.3L438.33 540.6L438.33 541.9L438.33 543.2L438.33 544.5L438.33 545.8L438.33 547.1L438.33 548.4L438.33 549.7L438.27 551L438.2 552.3L438.03 551L437.97 549.7L437.97 548.4L437.97 547.1L437.97 545.8L437.97 544.5L437.97 543.2L437.97 541.9L437.97 540.6L437.97 539.3L437.97 538L437.97 536.7L437.97 535.4L437.97 534.1L437.97 532.8L437.97 531.5L437.97 530.7L437.97 530.2L437.79 528.9L437.3 527.6L436.7 526.3L436.04 525L435.36 523.7L434.69 522.4L434.08 521.1L433.55 519.8L433.13 518.5L432.85 517.2L432.71 515.9L432.7 515.4L432.71 514.6L432.8 513.3L432.95 512L433.17 510.7L433.46 509.4L433.82 508.1L434.22 506.8L434.68 505.5L435.18 504.2L435.7 502.9L436.26 501.6L436.82 500.3L437.37 499L437.9 497.7L437.98 497L438.03 496.4Z" fill="#e75642" stroke="#0a0a0a" stroke-width=".62" stroke-linejoin="round"/>
<path d="M436.2 522.9h0M437 520.2h0M438 524.1h0M440.6 518.4h0M441.9 512.2h0M436.7 523.3h0M440.9 518.1h0M441.6 511h0M439.1 511.8h0M434.9 513h0M437 519.5h0M438.1 518.6h0M436.9 509h0M440.2 514.6h0M434 513.5h0M435.1 520.9h0M439 523.6h0M434.3 512h0M439.7 519.8h0M437.3 516.6h0M440.8 506.6h0M437.5 523.8h0M439.5 516h0M439.6 522h0M434.4 518.2h0M440.2 507.3h0M434.3 514.8h0M436.9 519.3h0M438.2 514.9h0M439.2 510h0M439.9 505.5h0M438 514.5h0M438.6 507.4h0M439.6 515.1h0M440.2 514.4h0M437.3 506.4h0M437.7 513.9h0M436.1 507.4h0M438.4 504.9h0M441.6 516.1h0M438.1 510.2h0M439.1 525.1h0M436.3 515.4h0M440.1 508.4h0M438 512.5h0M441.4 510.8h0M437.1 516.8h0M437.6 512.5h0M434.9 513.5h0M439.3 508h0M439.3 505h0M435.3 508.1h0M438.7 520.6h0M438.9 521.7h0M435.5 518.7h0M437.5 520.8h0M440.1 509.1h0M437.8 506.2h0M436.8 507.5h0M438.8 513.5h0M434.1 516.6h0M440.1 521h0M437.7 517.9h0M435.1 507.6h0M434 513.2h0M438.3 510.9h0M439.8 507.8h0M440.2 512.7h0M440.8 509.1h0M435.6 509.1h0M439.4 512.5h0M434.3 516.3h0M437.2 506.2h0M440 512.5h0M439.1 515.1h0M435.2 514.5h0M436 515.4h0M440.4 514.2h0M437.2 515.3h0M442 516.7h0M436.3 508.3h0M438.3 519.7h0M441 513.2h0M435.8 508.2h0M438.3 524.7h0M439 514.8h0M438.4 507.4h0M435.3 514h0M434.9 512.6h0M437.7 520.5h0M436.4 515.2h0M435.4 514h0M436.2 520.6h0M434.1 512.7h0M439.7 513.3h0M438.5 515h0M442.2 515h0M436.4 504.9h0M437 507.6h0M437 519.6h0M440.3 518.6h0M440.7 513.9h0M434.5 514.1h0M438 513.4h0M435.7 511.3h0M440.7 508.3h0M436.6 518.2h0M438.9 519.6h0M434.5 513.8h0M440.1 516.5h0M437.1 519.1h0M437.4 523.3h0M439.3 514.8h0M436.7 514h0M439.4 512.8h0M438.9 511.6h0M435.8 518h0M437.1 507.1h0M437.1 505h0M436 505.9h0M437.9 523.6h0M441.8 511.7h0M436 518.8h0M435.7 514.2h0M441.4 509.4h0M440.2 517.8h0M437.6 512.9h0M438.5 512.6h0M436.5 514.3h0M442.2 512.4h0M437.5 524.4h0M438.3 510h0M437.1 517h0M435.3 507h0M438 505.1h0M441.6 511h0M435.7 519.3h0M436.9 516.5h0M439.4 510.7h0M438.8 517h0M438.6 510.3h0M436.6 507.6h0M439.3 516.4h0M438.7 503.8h0M439.9 504.5h0M435.4 511.2h0M436.5 518.2h0M437 511.2h0M437.7 511.5h0M441.3 514.1h0M440.7 507.2h0M436.4 511.2h0M438.2 506.1h0M434.3 518h0" stroke="#f18f81" stroke-width="1.4" stroke-linecap="square" fill="none" opacity=".55"/>
<path d="M434.85 515.7h6.6" stroke="#000" stroke-width=".95"/>
<ellipse cx="438.15" cy="515.7" rx="1.6" ry="1.2" fill="#000"/>
<path d="M458.7 458.3h0M450.7 466.8h0M452.9 552.7h0M457.3 504.3h0M452.5 511.1h0M458.1 537.5h0M452.7 514.1h0M456.1 511.9h0M450.7 466h0M458.2 460.9h0M450.2 463h0M452 516.4h0M450.1 475h0M450.3 468.8h0M451.7 462.6h0M459 503.8h0M458.2 465h0M458.3 503.2h0M459.3 510.3h0M457.9 513.9h0M456.8 531.9h0M450.6 458.4h0M452.5 549.4h0M456.4 542.7h0M457.8 448h0M453 448.4h0M451.8 554h0M457.8 547.8h0M458.6 465.1h0M459.2 458.4h0M458.6 509.9h0M450 472.2h0M452.6 457.6h0M452.6 522.7h0M456.3 561.3h0M452.7 509.4h0M450.8 507.3h0M456 539.9h0M450.3 461.4h0M450.4 461.7h0M456.2 456.5h0M453 458.3h0M451.2 462.2h0M451.9 555.8h0M459.3 471.6h0M454.7 544.5h0M453 455.6h0M450 473.9h0M453.5 511h0M451.1 467.8h0M458.6 470.3h0M457.1 534.8h0M457.3 523.7h0M458.9 463.7h0M451 503.7h0M458.1 463.8h0M452.4 523.4h0M453.7 512.9h0M455 523.6h0M459.1 504.3h0M458.3 499.3h0M451 467.3h0M457.8 461.6h0M458.1 537.3h0M451.9 465.1h0M450.8 498.3h0M455.2 539.9h0M458.2 503.3h0M458.4 508.2h0M451 533.5h0M452.3 517.8h0M450.2 463.4h0M459.1 468.5h0M457.9 504.5h0M451.9 515.6h0M458.2 515.1h0M458.1 462.9h0M459.3 502.7h0M452 538.1h0M451.7 465.1h0M450.2 471.2h0M451.3 465.2h0M453.2 557.2h0M452.1 509.4h0M456.6 461h0M450.2 467.3h0M452.6 448.5h0M455.7 546.6h0" stroke="#8fd5e6" stroke-width="1.4" stroke-linecap="square" fill="none" opacity=".85"/>
<path d="M454.7 446.2L454.83 448.9L454.83 451.5L454.83 451.6L455.17 454.2L455.77 456.8L456.39 459.5L457 462.1L457.58 464.8L458.13 467.4L458.63 470.1L459.06 472.7L459.43 475.4L459.73 478.1L459.94 480.7L460.06 483.4L460.1 485.8L460.1 486L460.02 488.7L459.82 491.3L459.5 494L459.08 496.6L458.57 499.3L458 501.9L457.38 504.6L456.76 507.3L456.15 509.9L455.6 512.6L455.13 515.2L454.83 517.9L454.83 520L454.83 520.5L454.83 523.2L454.83 525.8L454.83 528.5L454.83 531.1L454.83 533.8L454.83 536.5L454.83 539.1L454.83 541.8L454.83 544.4L454.83 547.1L454.83 549.7L454.83 552.4L454.83 555L454.83 557.7L454.83 560.3L454.7 563L454.47 560.3L454.47 557.7L454.47 555L454.47 552.4L454.47 549.7L454.47 547.1L454.47 544.4L454.47 541.8L454.47 539.1L454.47 536.5L454.47 533.8L454.47 531.1L454.47 528.5L454.47 525.8L454.47 523.2L454.47 520.5L454.47 520L454.47 517.9L454.17 515.2L453.7 512.6L453.15 509.9L452.54 507.3L451.92 504.6L451.3 501.9L450.73 499.3L450.22 496.6L449.8 494L449.48 491.3L449.28 488.7L449.2 486L449.2 485.8L449.24 483.4L449.36 480.7L449.57 478.1L449.87 475.4L450.24 472.7L450.67 470.1L451.17 467.4L451.72 464.8L452.3 462.1L452.91 459.5L453.53 456.8L454.13 454.2L454.47 451.6L454.47 451.5L454.47 448.9Z" fill="#58bfd8" stroke="#0a0a0a" stroke-width=".62" stroke-linejoin="round"/>
<path d="M456.3 474.6h0M456.1 494.7h0M451.8 474.1h0M453.8 485.6h0M452 488.8h0M456 487.6h0M458.1 491.8h0M456.4 487.1h0M454.7 511.1h0M456.6 485h0M456.7 468.4h0M455 463.9h0M458.1 491.3h0M454.3 488.6h0M454.6 484.4h0M454 492.6h0M455.9 482.2h0M457.7 491.5h0M457.3 474.7h0M453.3 469.2h0M454.7 483.9h0M450.7 481.4h0M452.5 482.9h0M456.9 473.4h0M452.9 474.8h0M457.7 481.6h0M453.7 500.2h0M455.6 490h0M452 480.3h0M458.5 489h0M454.4 477.2h0M456.9 493.6h0M455.5 491.2h0M455.1 501.2h0M457 481.7h0M456.1 486.8h0M454.9 480.4h0M456.2 486.5h0M452.1 489h0M457.3 469.3h0M452.2 474.6h0M457.9 494.8h0M454.2 475h0M453.8 479.8h0M455.7 502.3h0M452.8 495.9h0M453.3 469.2h0M451.7 496h0M458.8 485.2h0M454.5 506.8h0M453.9 493.6h0M453.9 480.1h0M452.3 473.8h0M454.1 497.9h0M454.2 469.8h0M457.8 494.2h0M456.6 471.5h0M451.6 486.1h0M453 472.5h0M454 472.7h0M452.6 489.6h0M458.3 481.5h0M455.1 476.9h0M455 469.3h0M452.8 495.5h0M452.2 500.3h0M452.1 496.6h0M455.6 468.2h0M452.2 479.6h0M452.3 484.7h0M456.6 474.6h0M458.3 485.4h0M451.3 488.5h0M455.1 485.9h0M452.2 484.3h0M457.9 480.6h0M454.5 477.6h0M453.8 476.6h0M454.7 503.6h0M455.6 503.4h0M452.9 490.3h0M450.6 490.5h0M457.3 496.7h0M457.4 493h0M453.9 500.2h0M454.2 472.2h0M455.6 468.1h0M454 487.9h0M455.1 500.9h0M452.3 492.4h0M454.2 484.1h0M454.4 459.5h0M455.7 484.8h0M455.6 470.9h0M456.5 475h0M455 482h0M457.1 481.9h0M452.1 493.4h0M457.5 489.1h0M451.3 477.7h0M454 485.8h0M450.5 486.6h0M456 468.7h0M455.7 491.4h0M457.7 488.2h0M456.4 484.7h0M455.7 469.2h0M454.6 463.5h0M453.5 469.5h0M456.2 469.7h0M451.1 475h0M453.1 475.4h0M452.1 483.5h0M453.5 500.2h0M457.6 480h0M454.9 461.9h0M452.7 475.7h0M454.5 464h0M450.8 477.5h0M455.2 465.1h0M455.7 469.3h0M454.6 495h0M458.3 491.1h0M454.8 480.8h0" stroke="#8fd5e6" stroke-width="1.4" stroke-linecap="square" fill="none" opacity=".55"/>
<path d="M451.35 491.2h6.6" stroke="#000" stroke-width=".95"/>
<ellipse cx="454.65" cy="491.2" rx="1.6" ry="1.2" fill="#000"/>
<path d="M468.4 452h0M470.4 448.4h0M462.8 454.5h0M467.7 444.7h0M461.2 508.4h0M462.3 508.4h0M469.1 461.4h0M461.6 497.8h0M469.5 448.2h0M465.9 542.2h0M469.6 503.6h0M470.4 503.5h0M468 514.4h0M466.9 552.2h0M462.6 505.3h0M469.4 556.7h0M461.9 530.4h0M466 545.5h0M463.6 457.1h0M469.9 497.2h0M464.8 538.1h0M461.8 467.4h0M470.4 512.2h0M467.8 528.3h0M470.4 470.1h0M467.2 512.9h0M462.4 505.1h0M469.6 443.7h0M462.1 463.5h0M466 444.9h0M461.6 453.9h0M469.4 502.1h0M469 457h0M464.3 519.1h0M461.1 513.3h0M470.2 506.9h0M461.6 454h0M462.6 457.7h0M461.9 507.2h0M464.4 451.9h0M462.2 502.9h0M462.3 457.1h0M463.7 510.2h0M462.1 460h0M464.8 561.7h0M461.6 454.7h0M462.5 534.1h0M461.2 497.3h0M461.6 497.2h0M462 459h0M469.8 497.7h0M464.7 443.9h0M469.2 510.2h0M468.4 518h0M470.3 463.8h0M467.9 456.7h0M469.6 461.8h0M462.2 518.3h0M469 554.8h0M462.6 518.4h0M469.8 521h0M461.3 469.1h0M463.4 451.7h0M462.8 452.3h0M467.9 517h0M461.6 505.2h0M464.9 447.3h0M469.3 559.8h0M468.9 505.8h0M461.3 506.9h0M462.9 457.7h0M470.3 516.1h0M470.4 457.6h0M462.3 459.2h0M467.2 511.7h0M461.2 469.8h0" stroke="#f18f81" stroke-width="1.4" stroke-linecap="square" fill="none" opacity=".85"/>
<path d="M465.8 441.7L465.93 444.5L465.93 447.3L465.93 448L466.15 450L466.78 452.8L467.42 455.6L468.06 458.4L468.68 461.2L469.25 463.9L469.77 466.7L470.22 469.5L470.59 472.3L470.88 475.1L471.08 477.8L471.18 480.6L471.2 482.2L471.19 483.4L471.11 486.2L470.94 489L470.69 491.7L470.36 494.5L469.97 497.3L469.53 500.1L469.04 502.9L468.53 505.6L468.01 508.4L467.5 511.2L467.01 514L466.57 516.7L466.19 519.5L465.93 522.3L465.93 525.1L465.93 525.3L465.93 527.9L465.93 530.6L465.93 533.4L465.93 536.2L465.93 539L465.93 541.8L465.93 544.5L465.93 547.3L465.93 550.1L465.93 552.9L465.93 555.7L465.93 558.4L465.93 561.2L465.8 564L465.57 561.2L465.57 558.4L465.57 555.7L465.57 552.9L465.57 550.1L465.57 547.3L465.57 544.5L465.57 541.8L465.57 539L465.57 536.2L465.57 533.4L465.57 530.6L465.57 527.9L465.57 525.3L465.57 525.1L465.57 522.3L465.31 519.5L464.93 516.7L464.49 514L464 511.2L463.49 508.4L462.97 505.6L462.46 502.9L461.97 500.1L461.53 497.3L461.14 494.5L460.81 491.7L460.56 489L460.39 486.2L460.31 483.4L460.3 482.2L460.32 480.6L460.42 477.8L460.62 475.1L460.91 472.3L461.28 469.5L461.73 466.7L462.25 463.9L462.82 461.2L463.44 458.4L464.08 455.6L464.72 452.8L465.35 450L465.57 448L465.57 447.3L465.57 444.5Z" fill="#e75642" stroke="#0a0a0a" stroke-width=".62" stroke-linejoin="round"/>
<path d="M465.7 462.2h0M462.6 492.4h0M469.8 481.5h0M466.1 472.8h0M465.5 461.8h0M465.5 480.5h0M462.2 477.5h0M467.6 462h0M468.5 467.2h0M467.5 472.3h0M465 471.9h0M467.8 472.3h0M467.3 491.5h0M468.7 487.7h0M463.7 491.5h0M463.7 483.2h0M463.1 472.5h0M466.3 477.4h0M466.5 477h0M467.2 499.1h0M464 494.8h0M462.7 484.8h0M462 489.8h0M469.4 475.5h0M463.8 498.2h0M468.4 472.7h0M468.1 473.5h0M462.9 476.5h0M464.9 477.9h0M463.3 499.4h0M465.8 467.5h0M469.5 481.1h0M461.9 480h0M468.6 478h0M461.7 479.8h0M465.6 462.1h0M463.2 485.7h0M468.6 483.1h0M468.4 471.2h0M468.1 500.2h0M466.1 469.2h0M468.3 485.9h0M468.6 484.3h0M464.7 491.9h0M463.5 489h0M468.3 492.5h0M466.3 496h0M464.6 491.5h0M462.8 496.1h0M466.7 461.6h0M465.9 497.7h0M466.9 482.9h0M465.4 471.7h0M464.8 493.1h0M462.4 480.9h0M465.6 478.4h0M466.7 499.7h0M465.5 476.7h0M469.2 471.9h0M463.6 498.2h0M463.1 495.2h0M467 460.6h0M463.3 487.7h0M468.3 479.2h0M464.3 485.6h0M466.5 489.3h0M467.7 464.9h0M467.7 465.5h0M468.2 464.7h0M466.8 487.6h0M463.1 478.4h0M464.5 466.8h0M469.6 475.5h0M463.5 498h0M463.8 463.5h0M469 489.9h0M464.2 489.7h0M464.8 487.1h0M468.9 468.4h0M464.8 472.4h0M464.6 468.9h0M469.9 483.7h0M467.8 477.2h0M467.9 494.6h0M463.9 489.3h0M467.1 461.8h0M465.6 496.1h0M468 468.1h0M468 464.1h0M468.2 474.1h0M462 491h0M462.2 478.3h0M465.6 480.6h0M467.8 482.4h0M464.8 470.5h0M469.6 490.9h0M467.3 488.9h0M464.8 488.9h0M466 491.4h0M467.7 501.2h0M468.1 495.5h0M464.4 492.7h0M463.4 485.9h0M467.1 500.5h0M467.8 478.1h0M467.2 489.9h0M462.7 472h0M462.4 480h0M468.8 480.9h0M466.1 485.9h0M466.7 474.4h0M466 502.6h0M464.3 469.5h0M465.7 505.1h0M465.3 462.5h0M465.1 498.4h0M470.1 481.3h0M465.8 485.9h0M465.5 464.6h0M466.2 494.9h0M463.7 491.5h0M467.5 495.1h0M463.7 486.2h0M466.9 488.9h0M467 497.7h0M463.2 469.6h0M468.6 492.6h0M462 477.6h0M463 496.1h0M463.8 496.6h0M464.1 465.4h0M463.4 497h0M466.8 486.2h0M465.7 467.3h0M468.5 468.8h0M468.5 479.4h0M467.4 486.3h0M469.3 491.1h0M461.8 475.2h0M469.3 487h0M467.2 471.5h0M464.4 460.3h0M466 470.1h0M464.1 501.6h0" stroke="#f18f81" stroke-width="1.4" stroke-linecap="square" fill="none" opacity=".55"/>
<path d="M462.45 486.5h6.6" stroke="#000" stroke-width=".95"/>
<ellipse cx="465.75" cy="486.5" rx="1.6" ry="1.2" fill="#000"/>
<path d="M399.45 470.9v-2.4h11.1v2.4" fill="none" stroke="#111" stroke-width=".85"/>
<text x="405" y="469.1" font-size="5.7" text-anchor="middle">*</text>
<path d="M427.05 493.6v-2.4h11.1v2.4" fill="none" stroke="#111" stroke-width=".85"/>
<text x="432.6" y="491.8" font-size="5.7" text-anchor="middle">**</text>
<path d="M388.3 433.9V567.3H476.6" fill="none" stroke="#333" stroke-width=".8"/>
<text x="383.6" y="466.5" font-size="8.8" text-anchor="end">4000</text>
<text x="383.6" y="499.45" font-size="8.8" text-anchor="end">2000</text>
<text x="383.6" y="532.4" font-size="8.8" text-anchor="end">0</text>
<text x="383.6" y="565.35" font-size="8.8" text-anchor="end">-2000</text>
<path d="M388.3 463.4h-3.2M388.3 496.35h-3.2M388.3 529.3h-3.2M388.3 562.25h-3.2M405 567.3v3.2M432.6 567.3v3.2M460.2 567.3v3.2" fill="none" stroke="#333" stroke-width=".8"/>
<text transform="translate(406.2 578.9) rotate(-15)" font-size="8.95" text-anchor="end">ImmuneScore</text>
<text transform="translate(433.8 578.9) rotate(-15)" font-size="8.95" text-anchor="end">StromalScore</text>
<text transform="translate(461.4 578.9) rotate(-15)" font-size="8.95" text-anchor="end">ESTIMATEScore</text>
<text transform="translate(355.3 500.6) rotate(-90)" font-size="9.7" text-anchor="middle">Enrichment score</text>
<text x="479.9" y="494.8" font-size="8.6">TMC3</text>
<rect x="479.8" y="497.3" width="6.1" height="8" fill="#9bdbe9" stroke="#333" stroke-width=".7"/>
<circle cx="482.85" cy="501.3" r=".9" fill="#58bfd8" opacity=".75"/>
<text x="489.7" y="504.4" font-size="8.6">Low</text>
<rect x="479.8" y="505.3" width="6.1" height="8" fill="#f29a8f" stroke="#333" stroke-width=".7"/>
<circle cx="482.85" cy="509.3" r=".9" fill="#e75642" opacity=".75"/>
<text x="489.7" y="512.4" font-size="8.6">High</text>
</g>
<g id="pL">
<text x="527.7" y="426" font-size="20.2">L</text>
<path d="M570.3 512.5h0M575.1 476.7h0M576.3 485.7h0M576 479.4h0M567.7 510.7h0M571.7 477.1h0M570.2 515.1h0M575.1 474.2h0M576.7 510.4h0M569.5 512.4h0M571.5 476.8h0M568 509.6h0M575.6 478.8h0M572.8 524h0M575.7 510.1h0M567.8 510.4h0M574.3 514.7h0M568.4 510.1h0M573.2 476.2h0M576.7 511.8h0M569.2 515h0M569.2 517.4h0M574.2 475.9h0M570 522.7h0M568.3 490.7h0M571.6 529.9h0M568.4 513.7h0M569.4 479.7h0M568.7 483.4h0M575.8 511.5h0M570.1 515.1h0M569.9 483.5h0M576.9 490.9h0M571 478.4h0M576.7 488.8h0M568.9 512.9h0M568.9 521.5h0M568.2 486h0M573.6 526.8h0M569.5 484h0M569 477.7h0M569.8 523h0M569.7 522.1h0M575.8 483.1h0M575.2 482.5h0M568.8 512.8h0M571.2 521.4h0M575.2 525.9h0M571 478.4h0M571.7 531.1h0M568.4 482.4h0M575.9 486.4h0M574.5 482.9h0M567.7 492h0M569.5 481h0M574.5 514.6h0M567.7 491.3h0M568.8 485.7h0M573.9 516.5h0M568 478h0M577 508.6h0M567.8 487.7h0M575.9 514.2h0M568.1 486.8h0M574.5 482.1h0M567.7 507h0M574.8 474.7h0M575.7 515.7h0M569.9 483.4h0M576.6 490h0M575.2 481.2h0M568.2 507.5h0M572.8 477.5h0M568.3 508.8h0" stroke="#8fd5e6" stroke-width="1.4" stroke-linecap="square" fill="none" opacity=".85"/>
<path d="M572.4 472.3L572.47 473.6L572.53 475L572.53 475L572.69 476.3L573.09 477.7L573.49 479L573.9 480.4L574.32 481.7L574.72 483.1L575.11 484.4L575.49 485.8L575.85 487.1L576.19 488.5L576.5 489.8L576.78 491.2L577.03 492.5L577.25 493.9L577.44 495.2L577.59 496.6L577.7 497.9L577.77 499.3L577.8 500.6L577.8 501L577.77 502L577.64 503.3L577.41 504.6L577.09 506L576.68 507.3L576.2 508.7L575.67 510L575.11 511.4L574.54 512.7L573.98 514.1L573.46 515.4L573 516.8L572.62 518.1L572.53 519.5L572.53 520L572.53 520.8L572.53 522.2L572.53 523.5L572.53 524.9L572.53 526.2L572.53 527.6L572.53 528.9L572.47 530.3L572.4 531.6L572.23 530.3L572.17 528.9L572.17 527.6L572.17 526.2L572.17 524.9L572.17 523.5L572.17 522.2L572.17 520.8L572.17 520L572.17 519.5L572.08 518.1L571.7 516.8L571.24 515.4L570.72 514.1L570.16 512.7L569.59 511.4L569.03 510L568.5 508.7L568.02 507.3L567.61 506L567.29 504.6L567.06 503.3L566.93 502L566.9 501L566.9 500.6L566.93 499.3L567 497.9L567.11 496.6L567.26 495.2L567.45 493.9L567.67 492.5L567.92 491.2L568.2 489.8L568.51 488.5L568.85 487.1L569.21 485.8L569.59 484.4L569.98 483.1L570.38 481.7L570.8 480.4L571.21 479L571.61 477.7L572.01 476.3L572.17 475L572.17 475L572.23 473.6Z" fill="#58bfd8" stroke="#0a0a0a" stroke-width=".62" stroke-linejoin="round"/>
<path d="M569.3 505.4h0M575.7 500.5h0M569.5 501.4h0M574.6 487.1h0M570.2 489.2h0M568.5 499h0M573.9 485.9h0M573.6 491.8h0M574.8 509.3h0M569.8 505.1h0M574.3 486.5h0M571.9 504.3h0M570.2 490.1h0M573.2 500.5h0M574.6 499.7h0M570.6 503.8h0M568.6 499.4h0M572.7 509h0M573.2 500.5h0M570.7 492.4h0M570 497.9h0M572.1 510.8h0M569.6 504.7h0M576.2 495.6h0M572 489.3h0M575.3 498.5h0M572.7 508.7h0M572.7 502.4h0M576.3 501.3h0M572 491h0M576.2 502.9h0M573.5 488.4h0M572.4 509.5h0M573.8 491.4h0M572.1 499.2h0M572.6 501.6h0M568.8 502.3h0M568.9 495.2h0M575.3 504.9h0M574.7 507.1h0M573.6 512.3h0M568.8 498.6h0M572.2 481.1h0M573.4 499.8h0M570.5 495.3h0M575.2 489.8h0M569.7 500.1h0M572.8 497.2h0M576.1 494.8h0M575.1 503.1h0M569.8 506.2h0M574.7 496.3h0M569.4 501h0M572.6 503.1h0M569 496.7h0M571.7 492h0M573.5 485.4h0M572.6 490.9h0M570.7 498.5h0M571.7 501.8h0M572.1 513.8h0M572.2 501.1h0M571.5 495.4h0M568.2 502.2h0M576 494.7h0M575.9 504.3h0M572.2 490.6h0M572.9 497.5h0M569.7 489h0M575.4 497h0M568.6 498.8h0M571.5 498.1h0M571.2 501.3h0M575.7 497.6h0M575.3 491.3h0M574.1 485.6h0M569.9 504.6h0M574.1 503.9h0M572.4 509.5h0M571.3 495.4h0M570.5 506.7h0M572.4 494.2h0M575.7 501.4h0M572 508.7h0M576.4 503.2h0M573 500h0M574.8 490.2h0M575.2 493.4h0M569.8 503.9h0M574.9 497.1h0M568.4 496.2h0M573.7 509.1h0M570.4 510.4h0M569.1 505.5h0M575.3 493.9h0M570.7 492.6h0M574 486.5h0M573.1 484.7h0M572.2 490.9h0M574.3 503.2h0M575.8 498.2h0M574.4 489.4h0M573.9 507.4h0M572.1 494.6h0M569 500.8h0M568.3 497.6h0M568.2 497.7h0M576 498.9h0M571.2 495.7h0M575.1 499.8h0M573.7 507.1h0M570.8 488.1h0M572 502.3h0M576.3 497.8h0M570.9 500.9h0M572.5 511.3h0M570.8 507.5h0M569.5 495.8h0M568.7 505.9h0M571 508.1h0M575.6 502h0M570.8 500.2h0M575.7 502.4h0M573.2 484.6h0M570.2 488.7h0M572.4 494.5h0M571.8 499.5h0M569.5 497.1h0M568.6 499.2h0M572.3 508.9h0M569.7 501.6h0M575.5 493.4h0M570.8 493.6h0M569.9 501.1h0M574.9 497h0M570.2 509.9h0M571.5 483.7h0M572.9 483.3h0M574 494.9h0M572.5 485.7h0M573.3 499.9h0M572.6 491.2h0M571.4 488.7h0M570.5 500.3h0M573.8 487h0M571 488.3h0M576 499.3h0M570.1 488.7h0M573.5 500h0M570.7 493.3h0M570.2 495.3h0M571.8 501.5h0M570.3 504.9h0M570.6 491.6h0M575.4 490.6h0M572.7 496.6h0M573.2 511.1h0M568.7 496.4h0M572.6 513.2h0M568.2 503.1h0" stroke="#8fd5e6" stroke-width="1.4" stroke-linecap="square" fill="none" opacity=".55"/>
<path d="M569.05 500.9h6.6" stroke="#000" stroke-width=".95"/>
<ellipse cx="572.35" cy="500.9" rx="1.6" ry="1.2" fill="#000"/>
<path d="M579.3 530.8h0M581.8 517h0M587.8 507.9h0M578.9 492.4h0M588 510.2h0M579.1 519.2h0M587.2 482.3h0M582.2 478.5h0M587.9 518.9h0M587.6 492h0M583.1 520.1h0M586.4 483.5h0M579.3 486h0M584.5 518.4h0M578.8 513.3h0M588 479.6h0M585.8 519.9h0M585.1 519.4h0M584 478.5h0M580.2 486.2h0M585.9 514.5h0M579.2 510h0M578.9 531.7h0M585.2 480.1h0M585.8 521.7h0M581 515.6h0M587.8 511.1h0M586.5 479h0M587.5 510.3h0M579.3 487.1h0M580.9 520.5h0M588.1 483.9h0M579 491.7h0M586.9 514.5h0M586.1 521.1h0M585.6 518.1h0M586 481.6h0M586.1 481.4h0M580.8 480.4h0M585.1 532.3h0M579.7 489.3h0M580.4 530.1h0M579.3 484.5h0M582.7 521.5h0M580.1 514.8h0M588.1 486.4h0M585.1 480.4h0M578.8 483.2h0M580.3 512.7h0M579 509.3h0M579.7 484.3h0M587.8 515.3h0M586.2 479.1h0M586.8 514.6h0M582 516.6h0M585.6 480.9h0M579.2 475.7h0M586.6 487.4h0M587.8 519.2h0M587.5 511.9h0M579.1 485.1h0M579.9 510.8h0M586.4 512.4h0M580.8 482.1h0M581.4 478.9h0M587.9 507.5h0M586.7 486.7h0M579.3 483.7h0M588.1 493.3h0M580.6 486.7h0M584.2 525.3h0M579.3 512.2h0M580.5 534.9h0M578.9 508.4h0M579.8 514.4h0M579.8 481.8h0M586.5 535.5h0M578.8 515h0M578.9 478.3h0M588.1 488.1h0M579.4 510.2h0M588.1 480.7h0M580.7 485.2h0M580.1 535.8h0M588.1 509.1h0M579 486.6h0M584.5 536.3h0M580.8 531h0M580.5 480.1h0M584.8 517.5h0" stroke="#f18f81" stroke-width="1.4" stroke-linecap="square" fill="none" opacity=".85"/>
<path d="M583.5 473.2L583.59 474.7L583.63 475.9L583.63 476.3L583.95 477.8L584.4 479.3L584.87 480.9L585.33 482.4L585.79 483.9L586.24 485.5L586.66 487L587.06 488.5L587.44 490.1L587.77 491.6L588.07 493.1L588.33 494.6L588.54 496.2L588.7 497.7L588.82 499.2L588.88 500.8L588.9 502L588.9 502.3L588.82 503.8L588.64 505.4L588.36 506.9L587.99 508.4L587.54 510L587.03 511.5L586.48 513L585.91 514.6L585.34 516.1L584.79 517.6L584.3 519.2L583.88 520.7L583.63 522.2L583.63 523.5L583.63 523.8L583.63 525.3L583.63 526.8L583.63 528.3L583.63 529.9L583.63 531.4L583.63 532.9L583.63 534.5L583.63 536L583.63 537.5L583.59 539.1L583.5 540.6L583.31 539.1L583.27 537.5L583.27 536L583.27 534.5L583.27 532.9L583.27 531.4L583.27 529.9L583.27 528.3L583.27 526.8L583.27 525.3L583.27 523.8L583.27 523.5L583.27 522.2L583.02 520.7L582.6 519.2L582.11 517.6L581.56 516.1L580.99 514.6L580.42 513L579.87 511.5L579.36 510L578.91 508.4L578.54 506.9L578.26 505.4L578.08 503.8L578 502.3L578 502L578.02 500.8L578.08 499.2L578.2 497.7L578.36 496.2L578.57 494.6L578.83 493.1L579.13 491.6L579.46 490.1L579.84 488.5L580.24 487L580.66 485.5L581.11 483.9L581.57 482.4L582.03 480.9L582.5 479.3L582.95 477.8L583.27 476.3L583.27 475.9L583.31 474.7Z" fill="#e75642" stroke="#0a0a0a" stroke-width=".62" stroke-linejoin="round"/>
<path d="M587 507.7h0M581.3 505.7h0M581.7 496.5h0M587.5 505.1h0M581 508.9h0M581.1 502.9h0M585.7 505.8h0M584.9 506h0M581.6 502.1h0M582.8 491.1h0M586.1 500.4h0M580.2 504.9h0M584.8 509.4h0M581.9 492.1h0M587.6 498.1h0M580.2 505.5h0M581.7 492.3h0M580.5 495h0M581.6 495.2h0M583.6 505.9h0M585.8 499.7h0M587 502.2h0M582.6 484.9h0M582.6 498.8h0M581.3 500.3h0M584.2 486.2h0M582.3 509.9h0M583.3 491h0M581.1 492.5h0M586.4 507.8h0M583.5 513.8h0M582.7 503.4h0M584.5 505.3h0M585.6 504.1h0M580.7 504.8h0M583.6 503.6h0M584.5 500.9h0M581.9 503.4h0M585.4 489.9h0M580.5 493.9h0M586.9 508.2h0M582.1 509.2h0M582 489.9h0M580.6 497.6h0M584.4 487.6h0M585.3 486.2h0M583.6 515.5h0M587.8 502.7h0M582.2 507h0M587 500.9h0M582.4 499.8h0M584.7 496.8h0M580.5 504.6h0M584.3 498.1h0M580.9 509.4h0M584 492.3h0M587.4 500.4h0M580.2 494.7h0M583.4 494.2h0M583.7 517h0M584.8 504.1h0M579.6 500.7h0M587.2 503.3h0M584.9 492.9h0M586.3 505.5h0M581 488.6h0M583.3 481.6h0M584.9 491.3h0M580.4 498.1h0M586.7 505.7h0M583 499.2h0M586.3 499.3h0M580.4 505.1h0M585.2 505.4h0M587.4 505.8h0M582.6 496.1h0M580.9 496.3h0M581 508h0M585.6 503.2h0M585.5 504.9h0M586.3 503.9h0M585.8 491.5h0M583.8 515.5h0M582.9 501h0M581.4 500.9h0M579.4 500.2h0M580.7 500.7h0M584.8 500.8h0M582.6 499.2h0M579.6 503.1h0M582.4 493.5h0M584.1 501.5h0M583.9 487.5h0M584.2 483.8h0M585.9 491.8h0M586.1 507.8h0M581.9 505.9h0M581.6 510.5h0M583.6 493.9h0M583.9 501.4h0M581.5 496.5h0M579.8 496.9h0M582.1 494.3h0M582.1 511.7h0M584.3 494.4h0M583.4 487.4h0M580.5 492.3h0M585.8 497.1h0M583.8 508.6h0M582.6 487.3h0M583.8 505.2h0M583.3 501.1h0M585 501.4h0M584.4 500.9h0M584.1 494.6h0M583.4 500.4h0M584.7 508.1h0M581.4 504.8h0M580.6 504.3h0M585.3 486.2h0M581 504.1h0M581.7 500.6h0M584.7 490.5h0M581.4 507h0M582.8 514.6h0M585.2 511.7h0M583.9 485.5h0M585.2 494.6h0M580.3 503.4h0M581.8 494h0M586.2 501.7h0M585.2 489.8h0M579.2 503.8h0M582.8 515h0M582.9 507.3h0M579.9 495.5h0M584.9 499.4h0M584.8 513.7h0M582.9 495.7h0M582.6 498.6h0" stroke="#f18f81" stroke-width="1.4" stroke-linecap="square" fill="none" opacity=".55"/>
<path d="M580.15 501.9h6.6" stroke="#000" stroke-width=".95"/>
<ellipse cx="583.45" cy="501.9" rx="1.6" ry="1.2" fill="#000"/>
<path d="M598.5 526.4h0M602.1 502.8h0M602.1 503.3h0M595.9 521.9h0M603.9 522.9h0M596.3 525.9h0M599.3 528h0M602.1 503.3h0M596 528.2h0M600.6 500.4h0M599.1 532.5h0M603.3 496.9h0M600.8 500.4h0M595.7 522.8h0M602.9 505.3h0M602 502.9h0M596.7 502.1h0M598.7 545h0M601.7 529.9h0M604.3 539.2h0M604.4 523.2h0M596.6 503.4h0M603.8 525.3h0M596.1 524.5h0M603.7 501.8h0M604.3 525.5h0M602.6 503h0M604.5 505.2h0M603.4 525.7h0M602.3 524.7h0M598.2 527.8h0M597.8 502h0M596.1 503.3h0M602.7 505.3h0M597.1 524.9h0M604.5 525.8h0M598.3 500.7h0M604.6 523.6h0M604.6 537.6h0M603.2 506.2h0M602.7 524h0M595.4 505.6h0M603 524.8h0M598.7 500.6h0M596.2 505.9h0M597 524.7h0M604.6 531.3h0M604.5 534.9h0M597.5 540.5h0M604.6 520.4h0M595.6 504.8h0M596.5 524h0M595.8 521.4h0M597 528.1h0M604.4 509.7h0M595.6 509.1h0M595.6 522.5h0M603.9 505.4h0M603.4 522.7h0M602.9 505.3h0M595.9 542.4h0M596.1 526.6h0M602.2 545.9h0M597.6 503.1h0M601.1 535.6h0M603.7 527.2h0M595.8 523.6h0M596 502.5h0M597.3 504h0M595.5 506.1h0M596.9 500.1h0M595.5 525h0M595.6 521.1h0M604.1 546.3h0M595.3 509h0M595.7 508.7h0M596.3 501.9h0M602.5 537.3h0M603.6 503.8h0M595.5 523.8h0M603.6 538.7h0M596.4 525.5h0M602 545h0M597.3 526.5h0" stroke="#8fd5e6" stroke-width="1.4" stroke-linecap="square" fill="none" opacity=".85"/>
<path d="M600 495.6L600.05 496.8L600.13 497.9L600.13 498.3L600.23 499.1L600.73 500.2L601.24 501.4L601.76 502.5L602.27 503.7L602.77 504.9L603.24 506L603.68 507.2L604.08 508.3L604.43 509.5L604.74 510.6L604.99 511.8L605.18 513L605.32 514.1L605.39 515.3L605.4 516L605.39 516.4L605.28 517.6L605.03 518.7L604.68 519.9L604.21 521L603.67 522.2L603.07 523.4L602.44 524.5L601.81 525.7L601.22 526.8L600.68 528L600.26 529.1L600.13 530.3L600.13 530.7L600.13 531.5L600.13 532.6L600.13 533.8L600.13 534.9L600.13 536.1L600.13 537.2L600.13 538.4L600.13 539.6L600.13 540.7L600.13 541.9L600.13 543L600.13 544.2L600.05 545.3L600 546.5L599.85 545.3L599.77 544.2L599.77 543L599.77 541.9L599.77 540.7L599.77 539.6L599.77 538.4L599.77 537.2L599.77 536.1L599.77 534.9L599.77 533.8L599.77 532.6L599.77 531.5L599.77 530.7L599.77 530.3L599.64 529.1L599.22 528L598.68 526.8L598.09 525.7L597.46 524.5L596.83 523.4L596.23 522.2L595.69 521L595.22 519.9L594.87 518.7L594.62 517.6L594.51 516.4L594.5 516L594.51 515.3L594.58 514.1L594.72 513L594.91 511.8L595.16 510.6L595.47 509.5L595.82 508.3L596.22 507.2L596.66 506L597.13 504.9L597.63 503.7L598.14 502.5L598.66 501.4L599.17 500.2L599.67 499.1L599.77 498.3L599.77 497.9L599.85 496.8Z" fill="#58bfd8" stroke="#0a0a0a" stroke-width=".62" stroke-linejoin="round"/>
<path d="M596.2 511.7h0M602 520.3h0M599.4 503.5h0M597.1 517.4h0M602.4 516.2h0M597.4 509.2h0M601.5 521.1h0M602.7 510.2h0M596.2 514.2h0M599.4 511.8h0M600.3 511.7h0M600.6 516.6h0M601.3 518.6h0M604 516.3h0M596.8 511.5h0M597.1 513.3h0M598.8 510h0M598.3 521.4h0M597.5 518.6h0M599.9 516.8h0M601.5 518.4h0M597.7 511.1h0M598.6 511.9h0M597.4 518.9h0M597.7 508.3h0M597.3 519.5h0M597.4 513.8h0M598.8 513.1h0M603.4 514.9h0M602.8 519.1h0M596.4 513h0M600.1 525.8h0M600.7 519.9h0M603.6 516.4h0M601.4 505.3h0M603 518.4h0M599.5 518.4h0M601.8 522.3h0M600.4 519.1h0M600.8 509.9h0M600.9 512.2h0M599.2 512.7h0M601.3 512.9h0M598.2 512.5h0M599.2 519.5h0M597.6 507h0M603.8 512.4h0M596.5 520h0M603.2 514.3h0M595.7 517.3h0M600.9 516.7h0M601.1 517.9h0M598.2 523.7h0M601.4 507.1h0M600.6 516.1h0M601.7 508.4h0M599.4 515.3h0M598.2 523.5h0M596.6 512.9h0M600.1 520.2h0M602.1 515h0M600.4 508.6h0M598.7 521.7h0M602 521.8h0M598.5 511.1h0M598 506.8h0M600 526.2h0M598.3 513.9h0M599.4 522.4h0M599.9 501.9h0M603.3 520.2h0M600.1 508.4h0M597.6 520.6h0M598.8 507.5h0M599.1 520.3h0M597.6 521h0M598.1 520.2h0M600.5 518h0M599.6 517.8h0M599.5 524.6h0M599.3 513.4h0M603.2 514.8h0M597.9 510.7h0M603.6 511.3h0M602.2 518h0M601.7 514.3h0M598 510.5h0M601.5 511h0M602.8 514.1h0M602.8 512.7h0M603 520.6h0M603.6 519.3h0M599.8 511.6h0M598.7 505.7h0M602.5 519.6h0M602.7 521.5h0M601.3 520.7h0M600.8 510h0M601.1 521.8h0M599.1 512.1h0M598.6 519.7h0M601.3 519.4h0M601.6 521.1h0M600.7 520.8h0M602.1 515.3h0M599 504.5h0M602.8 514.7h0M596.7 517.2h0M599.9 514.2h0M602.2 511.5h0M596.8 514.5h0M597.6 508.4h0M596.3 518.2h0M597.9 517.5h0M598.9 521.7h0M598.2 518.7h0M602.1 516.9h0M598 518.7h0M599.9 524.1h0M601.5 517.7h0M604 514.3h0M602.6 508.3h0M601.8 516.5h0M601.4 515.5h0M602.1 511.7h0M599.4 513.1h0" stroke="#8fd5e6" stroke-width="1.4" stroke-linecap="square" fill="none" opacity=".55"/>
<path d="M596.65 516.5h6.6" stroke="#000" stroke-width=".95"/>
<ellipse cx="599.95" cy="516.5" rx="1.6" ry="1.2" fill="#000"/>
<path d="M608.7 504.6h0M606.7 544h0M615.5 508.9h0M610.9 544.7h0M609.5 529.4h0M613.9 540.8h0M613.7 504.9h0M614.7 505.3h0M615.5 508.8h0M615.4 528.8h0M610.4 551.7h0M607.2 525.2h0M615.4 521.8h0M606.8 521.4h0M613.4 529.7h0M615 531.6h0M607.5 507.8h0M608.7 548.7h0M614.5 507.5h0M614.2 506.6h0M615.6 524.9h0M606.4 540.6h0M612.2 500.8h0M614.8 522.8h0M607.7 507.5h0M609 532.4h0M606.5 510.1h0M607.9 524.8h0M608.7 501.5h0M607.5 502.6h0M615.2 522.3h0M611.9 546.8h0M608.2 550.7h0M610.7 531.7h0M608.2 527.3h0M608 526.4h0M606.8 508.2h0M610.1 501.2h0M614.7 538.1h0M607.1 502.6h0M607.3 525.1h0M609.3 527.1h0M615.6 525.6h0M613.9 502.9h0M606.8 537.3h0M613.8 527.3h0M606.6 498.3h0M614.6 526.2h0M608.6 549.4h0M614.8 527.5h0M614.5 527.2h0M615.7 546.6h0M609.4 533.7h0M614.2 502.6h0M607.3 507.8h0M607.6 524.2h0M606.8 522.3h0M609.1 503.6h0M613.4 532.4h0M610.3 497.3h0M614.3 504.6h0M607.7 502.9h0M606.4 521.7h0M607.9 531.2h0M615 508.2h0M612.9 547.4h0M610 543.7h0M611.6 542.8h0M614.5 535.4h0M614.9 524.9h0M606.4 521.4h0M607.4 531.3h0M615.5 522.4h0M615 504.3h0M607 529.1h0M614.6 547.3h0M611.6 543.8h0M614.8 523.4h0M613.8 528.2h0M615.4 503.4h0M610.5 532.6h0M615 523.8h0M615.5 503h0M614.1 497h0M615.4 528.2h0M607.3 542.4h0" stroke="#f18f81" stroke-width="1.4" stroke-linecap="square" fill="none" opacity=".85"/>
<path d="M611 496.5L611.16 497.8L611.23 499.1L611.23 499.2L611.5 500.3L612.08 501.6L612.67 502.9L613.26 504.2L613.83 505.4L614.37 506.7L614.86 508L615.31 509.3L615.69 510.6L616 511.8L616.24 513.1L616.41 514.4L616.49 515.7L616.5 516.3L616.49 516.9L616.37 518.2L616.13 519.5L615.79 520.8L615.36 522L614.86 523.3L614.29 524.6L613.7 525.9L613.1 527.2L612.52 528.4L611.99 529.7L611.53 531L611.23 532.3L611.23 533.4L611.23 533.5L611.23 534.8L611.23 536.1L611.23 537.4L611.23 538.7L611.23 539.9L611.23 541.2L611.23 542.5L611.23 543.8L611.23 545L611.23 546.3L611.23 547.6L611.23 548.9L611.23 550.1L611.16 551.4L611 552.7L610.94 551.4L610.87 550.1L610.87 548.9L610.87 547.6L610.87 546.3L610.87 545L610.87 543.8L610.87 542.5L610.87 541.2L610.87 539.9L610.87 538.7L610.87 537.4L610.87 536.1L610.87 534.8L610.87 533.5L610.87 533.4L610.87 532.3L610.57 531L610.11 529.7L609.58 528.4L609 527.2L608.4 525.9L607.81 524.6L607.24 523.3L606.74 522L606.31 520.8L605.97 519.5L605.73 518.2L605.61 516.9L605.6 516.3L605.61 515.7L605.69 514.4L605.86 513.1L606.1 511.8L606.41 510.6L606.79 509.3L607.24 508L607.73 506.7L608.27 505.4L608.84 504.2L609.43 502.9L610.02 501.6L610.6 500.3L610.87 499.2L610.87 499.1L610.94 497.8Z" fill="#e75642" stroke="#0a0a0a" stroke-width=".62" stroke-linejoin="round"/>
<path d="M612.9 513.1h0M610.7 510.3h0M613.2 512.7h0M608.8 513.4h0M609.9 513.4h0M610.5 510.1h0M610.3 514.5h0M607.4 511.6h0M609.2 507.7h0M614.5 519.4h0M614.6 511.7h0M610.4 518.4h0M608.7 519.7h0M609.7 516.5h0M607 515.9h0M610.5 524h0M612.7 523.2h0M608.1 512.9h0M611.6 511.8h0M613.6 513.6h0M611 516.8h0M611.3 518.2h0M608.9 513h0M607.4 518.6h0M611.3 504.6h0M610.1 507.1h0M610.1 518.9h0M610.1 518.8h0M610.8 516.1h0M611.9 521.6h0M611.4 527.7h0M608.7 514.4h0M612.2 506.2h0M611.7 511.5h0M613.3 507.7h0M611.6 518.6h0M611.4 510.6h0M609.7 520.1h0M612.4 511.2h0M612.4 505.6h0M608.2 514.9h0M609.6 521.7h0M608.9 521.9h0M612.4 524.9h0M608.8 516.7h0M613.5 509.9h0M614.3 517h0M613.3 514h0M612.8 512.9h0M611.8 521.1h0M614.8 518.5h0M611.8 509.8h0M611.1 523.4h0M610.1 515h0M614.9 512.8h0M610.1 522.1h0M607.8 515.3h0M613.1 522.6h0M611.5 515.4h0M610.3 519.2h0M609.2 507.8h0M612.8 512.1h0M610.7 521.8h0M613.5 511.2h0M613.5 507.6h0M612.6 520.7h0M610.1 525.4h0M612.4 522.3h0M614.5 513.3h0M607.6 519.9h0M609.4 521.7h0M612 513.9h0M615.1 514.1h0M613.8 512.3h0M608.7 518h0M610 513.4h0M608.5 518.5h0M610.9 525.2h0M607.4 519.1h0M612.6 508.7h0M607.9 513.8h0M607.9 519.6h0M611.2 522.1h0M611.7 525.7h0M613.1 519.7h0M609 521.5h0M612.3 520h0M608.4 512.3h0M606.8 517.4h0M607 516.8h0M611.4 524.1h0M610.6 517.6h0M607.4 517.3h0M608.5 519.5h0M612.3 515.7h0M612.2 518.8h0M610.1 514.3h0M607 515.3h0M610.1 517.8h0M613.3 512.4h0M614.7 512.8h0M607.7 512.3h0M615.3 515.6h0M613.1 513.9h0M609.7 519.4h0M612.7 515.4h0M614.5 520.9h0M607.5 514.4h0M613.6 513.1h0M610.2 520.7h0M610 519.7h0M610.4 522.6h0M613.1 508.4h0M609.8 509.2h0M611.8 506.5h0M612 508.4h0M607.7 518.7h0M608.5 508.8h0M608.9 519.9h0M609.9 512.7h0M614.7 520.2h0M611.4 526.7h0M613.4 514.5h0M607.4 517.9h0M608.8 511h0M614 521h0M614.2 519.8h0M608.7 524.1h0M612.9 510.3h0M613.2 517.3h0M608.1 519.1h0M607 516.5h0M609.1 519.6h0M613.6 513.9h0M614.1 522.3h0M611.3 505.1h0M607 513.6h0M611.7 517.4h0M607 513.9h0M608.9 520.6h0M610.4 513h0" stroke="#f18f81" stroke-width="1.4" stroke-linecap="square" fill="none" opacity=".55"/>
<path d="M607.75 517.3h6.6" stroke="#000" stroke-width=".95"/>
<ellipse cx="611.05" cy="517.3" rx="1.6" ry="1.2" fill="#000"/>
<path d="M629.6 505.7h0M625.7 457h0M631.3 466.4h0M623 473.8h0M623.2 505.9h0M631.9 463.6h0M631.4 463.2h0M632.1 499.4h0M630.1 465.1h0M630.2 503.7h0M625.2 527.6h0M629 455.1h0M623.3 465.7h0M623.7 504.4h0M624 523.3h0M631.5 464.8h0M625.8 507h0M630.1 505.1h0M629.3 522.3h0M624.1 529.6h0M630.5 454.7h0M632.2 459.9h0M628.1 532.1h0M623.4 507.1h0M625.6 518.8h0M632.1 471.8h0M629.9 462.4h0M630.6 502.4h0M628.7 446.9h0M631.5 466.7h0M623.2 471.7h0M629.4 542.8h0M628.7 459.8h0M628.4 534.4h0M623.3 508.3h0M632 500.4h0M623 453.6h0M625.5 458.9h0M627.9 442.6h0M632 472h0M628 515.2h0M630.2 505.8h0M632 501.5h0M630.1 529.5h0M623.4 495.1h0M623 463h0M623.2 497.5h0M631.1 511h0M628 543h0M631 462.4h0M632 459.6h0M630.5 528.8h0M624.3 509.1h0M624.7 466.4h0M623.1 462.6h0M625.4 542.9h0M629.7 519.1h0M626.6 539.7h0M626.7 513.9h0M624.8 539.7h0M623.4 498.4h0M629.7 506.7h0M628 530.4h0M630 445.7h0M625.8 512.1h0M628.1 520.1h0M625.4 459.4h0M623 499.6h0M623 492.6h0M626.9 512.9h0M624.9 514.7h0M624.3 516h0M623.8 443.5h0M626.9 522h0M626 541h0M629.8 445.2h0M628.8 520.5h0M624.8 546.1h0M623.8 525.2h0M632.2 492.4h0M624.7 464.1h0M626.4 456.2h0M630.6 460.9h0M631.5 531.2h0M629.9 536h0M630 510.9h0M631.3 503.5h0M623.3 466.4h0M630 445.9h0M624.5 451.8h0M624.6 501.5h0M624.6 502.4h0M631.9 496.2h0M624.7 452.6h0M631.5 464.5h0M624.2 468.8h0M624.2 545.3h0" stroke="#8fd5e6" stroke-width="1.4" stroke-linecap="square" fill="none" opacity=".85"/>
<path d="M627.6 441.7L627.73 444.1L627.73 446.5L627.73 448.9L627.73 451.3L627.73 453.7L627.73 455.2L627.73 456L628.35 458.4L629.01 460.8L629.67 463.2L630.3 465.6L630.9 468L631.45 470.4L631.92 472.8L632.32 475.2L632.64 477.6L632.85 480L632.98 482.3L633 484L632.99 484.7L632.91 487.1L632.72 489.5L632.44 491.9L632.06 494.3L631.62 496.7L631.11 499.1L630.57 501.5L630.01 503.9L629.44 506.3L628.9 508.6L628.41 511L628 513.4L627.73 515.8L627.73 518L627.73 518.2L627.73 520.6L627.73 523L627.73 525.4L627.73 527.8L627.73 530.2L627.73 532.6L627.73 534.9L627.73 537.3L627.73 539.7L627.73 542.1L627.73 544.5L627.6 546.9L627.37 544.5L627.37 542.1L627.37 539.7L627.37 537.3L627.37 534.9L627.37 532.6L627.37 530.2L627.37 527.8L627.37 525.4L627.37 523L627.37 520.6L627.37 518.2L627.37 518L627.37 515.8L627.1 513.4L626.69 511L626.2 508.6L625.66 506.3L625.09 503.9L624.53 501.5L623.99 499.1L623.48 496.7L623.04 494.3L622.66 491.9L622.38 489.5L622.19 487.1L622.11 484.7L622.1 484L622.12 482.3L622.25 480L622.46 477.6L622.78 475.2L623.18 472.8L623.65 470.4L624.2 468L624.8 465.6L625.43 463.2L626.09 460.8L626.75 458.4L627.37 456L627.37 455.2L627.37 453.7L627.37 451.3L627.37 448.9L627.37 446.5L627.37 444.1Z" fill="#58bfd8" stroke="#0a0a0a" stroke-width=".62" stroke-linejoin="round"/>
<path d="M629.2 481.4h0M624.2 491.3h0M628 483.4h0M630.2 494.6h0M628.9 477.4h0M625.8 471.6h0M628.1 467.1h0M628.3 489.4h0M625.5 483.8h0M628.3 467.9h0M623.8 479.5h0M627.8 467.7h0M623.8 480.8h0M626 469.4h0M627.1 490.3h0M623.7 486h0M624.2 473.5h0M630.9 476.7h0M629.6 468.1h0M630.9 493.3h0M626.8 492.2h0M627.9 475.2h0M629.9 498.4h0M627.1 483.5h0M626.2 470.9h0M629.4 488.9h0M630 489.6h0M630.8 481.8h0M624.2 488.5h0M628.3 493.6h0M625.8 502.1h0M626.5 501.6h0M627.6 478h0M627.7 474.9h0M626.5 472.3h0M628 478.8h0M628.1 495.8h0M629.8 484.5h0M628.6 464.8h0M630.8 480.3h0M629.7 497.9h0M628.8 482.4h0M628.3 482.7h0M629.7 497.1h0M624.4 482.8h0M626.7 468.6h0M631.4 486h0M631 475.5h0M626 499h0M626 470.9h0M628.5 488.1h0M631.2 479.6h0M629.2 472.5h0M625.2 486.2h0M629.1 479.6h0M631.7 489.1h0M628.4 492.7h0M629.2 494.9h0M625.9 498.4h0M630.1 492.2h0M624.3 484.3h0M625.6 484.7h0M628.8 464.9h0M625.6 477.9h0M629.5 477.7h0M625.9 477.8h0M630.2 481.8h0M625.6 468.1h0M629.3 481.9h0M625.8 489h0M626.8 497h0M631.9 482.6h0M629.7 491.6h0M626.8 491.7h0M630.7 488.4h0M629.2 487.5h0M623.9 485.1h0M626 466.2h0M627.5 494.8h0M624.8 489.9h0M628.7 484h0M630.7 473.8h0M627.7 499.5h0M625.3 490.7h0M626.8 476.6h0M624.1 493.9h0M629.1 484.2h0M628.4 481.1h0M629.3 471.3h0M626.5 478.3h0M628.3 483.9h0M629.7 490.6h0M623.2 482.7h0M625.4 496.9h0M626.4 487.6h0M629.7 477.2h0M629.7 492h0M627.7 478.9h0M628.7 466.9h0M626.8 495.8h0M626.9 484.8h0M627.8 484.2h0M627.3 496.9h0M629.8 472.9h0M627.5 495.5h0M628.9 497.3h0M629.7 495.8h0M629.1 498.4h0M627.1 482.3h0M628.6 478.4h0M628.7 495.5h0M624.9 471.5h0M630.1 497h0M625.2 474.3h0M629.6 494.7h0M627.3 484.6h0M630.5 483h0M628.7 488.5h0M625.5 497h0M628.5 479.2h0M625 471.4h0M631.2 481.1h0M625 482.1h0M628.9 490.4h0M624.2 493.3h0M627.8 486.5h0M626.6 492.7h0M630.1 480.9h0M631 481.5h0M630.6 488.6h0M627 491.1h0M628.9 478.3h0M627.3 474.7h0M628.6 479.8h0M629.4 476h0M626.5 488.1h0M629.5 496.6h0" stroke="#8fd5e6" stroke-width="1.4" stroke-linecap="square" fill="none" opacity=".55"/>
<path d="M624.25 488.6h6.6" stroke="#000" stroke-width=".95"/>
<ellipse cx="627.55" cy="488.6" rx="1.6" ry="1.2" fill="#000"/>
<path d="M640.7 546.4h0M640.5 515h0M635 514.3h0M635.5 460.4h0M641.3 519.6h0M637.8 525.7h0M636.1 545.3h0M643.1 496.1h0M642.3 504.3h0M642.4 519.5h0M638 548h0M634.2 556.1h0M641.9 462.6h0M636.6 543.6h0M642.6 500.9h0M635.5 464.9h0M634.5 549h0M636.6 554.3h0M634.6 460.2h0M635.7 463.9h0M634.9 466.7h0M636.6 511.5h0M634.8 501.7h0M643.2 493.7h0M641.7 533.9h0M642.1 463.6h0M641.9 513h0M634 496.4h0M640.6 563.7h0M634.2 497.8h0M635.6 533.3h0M639.3 538.1h0M636.1 512h0M634.2 465.7h0M635.7 458.4h0M634.2 497.9h0M636 509.1h0M643 455h0M642.8 510.4h0M642.4 468h0M635.6 520.5h0M643.1 513.1h0M640.5 539.7h0M636.5 458.7h0M635.9 529.3h0M641.9 511.8h0M641.1 460.3h0M636.9 550.8h0M635.2 542.5h0M640.7 560.5h0M637.2 451h0M634.3 563.1h0M634 466.3h0M634 470.6h0M642.7 532.5h0M641.7 463.3h0M636.2 510.7h0M640.3 551.6h0M643.2 465h0M637 551h0M634.9 468.1h0M635 508.2h0M637.2 553.1h0M635.4 505.9h0M634.2 497.1h0M638.1 549.7h0M640.2 542.4h0M635.5 511.9h0M642.4 518.2h0M634.7 500.3h0M635 518.6h0M636.9 557.1h0M641.8 536.9h0M643.1 515.4h0M634.7 454.1h0M643.2 463.7h0M634.5 512.8h0M634.6 511.1h0" stroke="#f18f81" stroke-width="1.4" stroke-linecap="square" fill="none" opacity=".85"/>
<path d="M638.6 450.7L638.81 452.5L638.83 453.3L639.46 455.8L640.14 458.4L640.83 461L641.49 463.6L642.11 466.1L642.66 468.7L643.14 471.3L643.53 473.9L643.83 476.4L644.02 479L644.1 481.6L644.1 482.2L644.08 484.2L644.01 486.8L643.87 489.3L643.68 491.9L643.44 494.5L643.14 497.1L642.81 499.6L642.44 502.2L642.05 504.8L641.63 507.4L641.21 509.9L640.78 512.5L640.36 515.1L639.96 517.6L639.59 520.2L639.25 522.8L638.97 525.4L638.83 528L638.83 530.5L638.83 530.7L638.83 533.1L638.83 535.7L638.83 538.2L638.83 540.8L638.83 543.4L638.83 546L638.83 548.5L638.83 551.1L638.83 553.7L638.83 556.3L638.83 558.9L638.83 561.4L638.6 564L638.47 561.4L638.47 558.9L638.47 556.3L638.47 553.7L638.47 551.1L638.47 548.5L638.47 546L638.47 543.4L638.47 540.8L638.47 538.2L638.47 535.7L638.47 533.1L638.47 530.7L638.47 530.5L638.47 528L638.33 525.4L638.05 522.8L637.71 520.2L637.34 517.6L636.94 515.1L636.52 512.5L636.09 509.9L635.67 507.4L635.25 504.8L634.86 502.2L634.49 499.6L634.16 497.1L633.86 494.5L633.62 491.9L633.43 489.3L633.29 486.8L633.22 484.2L633.2 482.2L633.2 481.6L633.28 479L633.47 476.4L633.77 473.9L634.16 471.3L634.64 468.7L635.19 466.1L635.81 463.6L636.47 461L637.16 458.4L637.84 455.8L638.47 453.3L638.49 452.5Z" fill="#e75642" stroke="#0a0a0a" stroke-width=".62" stroke-linejoin="round"/>
<path d="M642.6 485.2h0M639.1 465.2h0M635.6 493.6h0M635.8 485.2h0M642.4 489.2h0M638.7 487.6h0M637 508.3h0M635.6 490.7h0M642 489h0M636.2 475.5h0M635.6 490.6h0M638.9 467.9h0M640.4 476.8h0M641.1 485.7h0M638.4 471.4h0M638.7 498.1h0M637.4 487h0M636.3 489.6h0M638.3 494h0M641.3 469.8h0M638.3 487.6h0M640.8 496.8h0M639.1 483.6h0M640 482.9h0M640.4 473.4h0M639.6 492.6h0M637.1 491.9h0M640 475.6h0M639.2 502.3h0M634.9 477.2h0M638.4 461.2h0M639.6 473.1h0M636 484.8h0M637.3 494.9h0M637 479.4h0M638.1 476.1h0M639.4 503.1h0M639.4 461.8h0M639.2 480.2h0M641.9 496.6h0M642.3 491.9h0M640.2 465.3h0M636.2 493.5h0M636.7 475.7h0M637.6 479.4h0M638 469.3h0M641 498.1h0M639.9 508.9h0M641.9 488h0M636.6 473.4h0M642 493.3h0M640.6 502.8h0M638.8 500.7h0M637.6 485.1h0M635.8 474.3h0M636.4 487.4h0M642.6 491.7h0M636.6 487.7h0M639.4 489.9h0M638.6 507.1h0M640.7 480.2h0M640.2 480.7h0M639.6 492.3h0M641.7 472.3h0M642.9 481h0M639.1 494.7h0M637.2 502.9h0M636.2 493.7h0M639 507.4h0M639.9 474.9h0M639.4 492.1h0M639.8 491.8h0M636.6 491.6h0M641.1 485.4h0M637.7 474.7h0M642.1 494.9h0M639 501.3h0M640 497.5h0M638.8 466.2h0M637.5 472.3h0M638 485h0M636.3 467.4h0M636.8 487h0M636.4 497.3h0M639.2 507h0M638 504.8h0M636.2 479.9h0M635.9 489h0M634.8 475.7h0M639.2 481.9h0M640.1 482.4h0M641.3 487.3h0M639.1 460h0M641.1 485.7h0M637.9 498.4h0M641.2 482.2h0M639.1 471.1h0M637.7 468.1h0M642.1 490.5h0M641.5 488.3h0M637.4 479.6h0M637.9 482.2h0M636.6 492.9h0M640.7 481.2h0M639.4 499h0M638.8 498.6h0M634.4 485.3h0M636.1 499.8h0M641 474.2h0M636.4 495.5h0M642.6 485.7h0M639.5 496.1h0M642 483.2h0M636.2 468h0M638.4 485.4h0M639.9 480.3h0M637.2 483.2h0M635.6 487.7h0M635.1 472.2h0M640.3 471.9h0M642.1 491h0M638.6 497.6h0M641.8 498.2h0M640.5 505.3h0M640.8 483.5h0M642.1 494.2h0M639 471h0M640.7 502.2h0M636.5 493.7h0M639.4 510.1h0M640.6 478h0M640.3 463.9h0M636.7 501h0M638.7 471.7h0M638 465.8h0M635.4 472.6h0M641 484.3h0M636.5 483.8h0M638.5 508.3h0M636 467.9h0M638.9 470h0M636.6 489.5h0M636.7 484.1h0M640.7 480.6h0M638.6 492.8h0M639.9 483.3h0M642.6 482h0M640.7 471.7h0M634.3 483.3h0M641.1 480.8h0M637 484.9h0M638.4 494.4h0M639.2 511.5h0M637.1 489.9h0" stroke="#f18f81" stroke-width="1.4" stroke-linecap="square" fill="none" opacity=".55"/>
<path d="M635.35 489.4h6.6" stroke="#000" stroke-width=".95"/>
<ellipse cx="638.65" cy="489.4" rx="1.6" ry="1.2" fill="#000"/>
<path d="M572.35 470.9v-2.4h11.1v2.4" fill="none" stroke="#111" stroke-width=".85"/>
<text x="577.9" y="467.5" font-size="5.8" text-anchor="middle">ns</text>
<path d="M599.95 493.6v-2.4h11.1v2.4" fill="none" stroke="#111" stroke-width=".85"/>
<text x="605.5" y="490.2" font-size="5.8" text-anchor="middle">ns</text>
<path d="M561.2 433.9V567.3H649.5" fill="none" stroke="#333" stroke-width=".8"/>
<text x="556.5" y="466.5" font-size="8.8" text-anchor="end">4000</text>
<text x="556.5" y="499.45" font-size="8.8" text-anchor="end">2000</text>
<text x="556.5" y="532.4" font-size="8.8" text-anchor="end">0</text>
<text x="556.5" y="565.35" font-size="8.8" text-anchor="end">-2000</text>
<path d="M561.2 463.4h-3.2M561.2 496.35h-3.2M561.2 529.3h-3.2M561.2 562.25h-3.2M577.9 567.3v3.2M605.5 567.3v3.2M633.1 567.3v3.2" fill="none" stroke="#333" stroke-width=".8"/>
<text transform="translate(579.1 578.9) rotate(-15)" font-size="8.95" text-anchor="end">ImmuneScore</text>
<text transform="translate(606.7 578.9) rotate(-15)" font-size="8.95" text-anchor="end">StromalScore</text>
<text transform="translate(634.3 578.9) rotate(-15)" font-size="8.95" text-anchor="end">ESTIMATEScore</text>
<text transform="translate(528.2 500.6) rotate(-90)" font-size="9.7" text-anchor="middle">Enrichment score</text>
<text x="652.8" y="494.8" font-size="8.6">TMC4</text>
<rect x="652.7" y="497.3" width="6.1" height="8" fill="#9bdbe9" stroke="#333" stroke-width=".7"/>
<circle cx="655.75" cy="501.3" r=".9" fill="#58bfd8" opacity=".75"/>
<text x="662.6" y="504.4" font-size="8.6">Low</text>
<rect x="652.7" y="505.3" width="6.1" height="8" fill="#f29a8f" stroke="#333" stroke-width=".7"/>
<circle cx="655.75" cy="509.3" r=".9" fill="#e75642" opacity=".75"/>
<text x="662.6" y="512.4" font-size="8.6">High</text>
</g>
<g id="pM">
<text x="11.7" y="630" font-size="20.2">M</text>
<path d="M48.9 743h0M54.7 722.4h0M56.7 695.9h0M48.8 730.3h0M56.6 697.6h0M53.9 692.5h0M54.1 693.3h0M54.5 690.1h0M48.4 696.7h0M55.8 691h0M47.6 720.2h0M53.1 726.4h0M47.7 701.1h0M55.1 735.3h0M55.9 690.5h0M56.7 690.7h0M48.8 721.4h0M48.8 696.7h0M52.4 738.3h0M56.7 697.3h0M50.1 743.2h0M50 725.7h0M56.5 722h0M47.9 724.1h0M56 723.7h0M53.7 740.7h0M47.6 700.9h0M55 687.7h0M56.2 695.7h0M52.9 740.1h0M54.8 741.1h0M48.2 720.7h0M56 693.4h0M47.5 695.2h0M54.6 690.9h0M47.5 699.6h0M47.4 695.4h0M55.3 737.4h0M55.8 693.4h0M56.7 735.2h0M50.3 732h0M50.6 734.4h0M53.8 734.9h0M48.2 730.4h0M49.4 692.8h0M55.6 694.9h0M48.4 720.4h0M49 696h0M47.6 701.8h0M48.7 692.4h0M56.6 715.8h0M56.1 696.1h0M55.7 742.7h0M49.8 693.5h0M48.5 697.5h0M55.1 692.5h0M47.6 720.3h0M48.3 694h0M53.2 726.3h0M55.3 695.9h0M47.6 699.1h0M56.5 726.6h0M56.6 700.4h0M56.2 723.7h0M56.4 725.4h0M55.6 722.4h0M47.4 698.2h0M47.5 691.3h0M52 731.1h0M56.5 701.2h0M48.1 719.5h0M55.6 730.4h0M47.7 694.5h0M48.8 694.8h0M55.7 693.1h0M54.4 723.4h0M55.5 721.5h0M56.6 719.9h0M47.4 692.4h0" stroke="#8fd5e6" stroke-width="1.4" stroke-linecap="square" fill="none" opacity=".85"/>
<path d="M52 684.9L52.16 686.1L52.17 686.3L52.49 687.6L52.93 689L53.38 690.4L53.83 691.7L54.28 693.1L54.72 694.5L55.14 695.8L55.54 697.2L55.91 698.6L56.25 700L56.56 701.3L56.82 702.7L57.05 704.1L57.23 705.4L57.37 706.8L57.46 708.2L57.5 709.5L57.5 710L57.48 710.9L57.37 712.3L57.17 713.6L56.89 715L56.54 716.4L56.12 717.7L55.64 719.1L55.13 720.5L54.6 721.8L54.07 723.2L53.56 724.6L53.08 725.9L52.66 727.3L52.32 728.7L52.23 730L52.23 730.7L52.23 731.4L52.23 732.8L52.23 734.2L52.23 735.5L52.23 736.9L52.23 738.3L52.23 739.6L52.23 741L52.23 742.4L52.17 743.7L52 745.1L51.93 743.7L51.87 742.4L51.87 741L51.87 739.6L51.87 738.3L51.87 736.9L51.87 735.5L51.87 734.2L51.87 732.8L51.87 731.4L51.87 730.7L51.87 730L51.78 728.7L51.44 727.3L51.02 725.9L50.54 724.6L50.03 723.2L49.5 721.8L48.97 720.5L48.46 719.1L47.98 717.7L47.56 716.4L47.21 715L46.93 713.6L46.73 712.3L46.62 710.9L46.6 710L46.6 709.5L46.64 708.2L46.73 706.8L46.87 705.4L47.05 704.1L47.28 702.7L47.54 701.3L47.85 700L48.19 698.6L48.56 697.2L48.96 695.8L49.38 694.5L49.82 693.1L50.27 691.7L50.72 690.4L51.17 689L51.61 687.6L51.93 686.3L51.94 686.1Z" fill="#58bfd8" stroke="#0a0a0a" stroke-width=".62" stroke-linejoin="round"/>
<path d="M47.9 707.9h0M53.2 716.6h0M55.6 713.3h0M49.7 717.2h0M52.1 692.3h0M54.5 718.8h0M53.7 707.1h0M48.7 702.7h0M52.4 709.6h0M48.5 702.4h0M54.7 717.8h0M51.4 713.3h0M51.6 722.8h0M49.2 714.8h0M51.3 697.6h0M52 695.8h0M49 701.1h0M54 717.5h0M50.6 713.6h0M50.8 716h0M51.7 708.8h0M54.8 718.1h0M54.6 703.7h0M53.7 703.2h0M53.3 694.6h0M48.1 710h0M49 708.4h0M50.7 705h0M54.9 710.1h0M47.9 707.7h0M54.2 700.5h0M50 717.2h0M55.4 706.1h0M52.4 700.1h0M48.7 703.4h0M51.6 708.3h0M49 700.9h0M49.4 711.6h0M48.8 702.4h0M51.5 712.1h0M50.7 705.5h0M49.9 704.2h0M49.2 716.8h0M54.1 700.3h0M51.5 721.7h0M54.7 701.5h0M53.5 717.7h0M50.4 700h0M50.2 710.8h0M52.7 695.7h0M50.1 703.3h0M52.4 708.1h0M50.3 701.6h0M55.2 704.6h0M49.2 705.1h0M49.4 703.5h0M53.8 704.9h0M50.8 702.7h0M52.1 695.1h0M50.5 709.7h0M54.9 702.1h0M52.1 725.4h0M52.9 722.5h0M51.4 692h0M52.3 690.6h0M52.6 695.4h0M52.9 710h0M54.6 705.3h0M53.6 696h0M51.3 695h0M53.7 702.6h0M49.2 703h0M52.3 718.5h0M55.7 708.8h0M55.7 703.5h0M49.3 714.1h0M50.3 695.4h0M53.1 713.5h0M51.1 710.5h0M54.6 707.2h0M50.4 709.6h0M50.3 699.1h0M54.2 705.1h0M52 713.2h0M52.2 720h0M50.2 712.7h0M52 708.9h0M52.7 702h0M53 703h0M53.2 714.7h0M49.5 717.5h0M52.2 722.2h0M53.5 705.5h0M52.8 700.6h0M52.5 703h0M48.9 710.6h0M53.1 715.6h0M52.5 705.6h0M54.5 701.2h0M51.3 713h0M51.7 709.4h0M52.7 704.1h0M51.4 710.6h0M52.5 696.1h0M49.1 717.3h0M47.9 707.3h0M51.3 708.9h0M48.1 711.8h0M55.3 708.5h0M50.4 707.8h0M55 711h0M54.4 714.7h0M56.3 710.2h0M52.2 711.6h0M50.6 698.9h0M50.7 705.8h0M50.3 718.9h0M51.5 718.3h0M48.8 708.8h0M51.8 695.5h0M55.2 700.9h0M50.1 705.8h0M52 715.3h0M55.8 708h0M52.3 710.5h0M52.2 702.9h0M48.8 713.2h0M54.2 698.9h0M54.1 712.9h0M50.4 718h0M48.6 708.6h0M49.3 713h0M53.1 715.4h0M54.2 697h0M53.8 701.4h0M49.1 708.4h0M51.6 713.3h0M49.8 700.6h0M50.2 713.4h0M52.9 717.3h0M48.4 707.5h0M54.3 707.8h0M50.5 706.5h0M51.5 718.1h0M50.4 698.9h0M53.1 709h0M51.1 705.2h0M53.5 710.4h0M54.4 710.5h0M53.2 695h0M51.8 711.9h0M52.1 697.1h0" stroke="#8fd5e6" stroke-width="1.4" stroke-linecap="square" fill="none" opacity=".55"/>
<path d="M48.75 709.9h6.6" stroke="#000" stroke-width=".95"/>
<ellipse cx="52.05" cy="709.9" rx="1.6" ry="1.2" fill="#000"/>
<path d="M58.7 694.3h0M66.7 719.8h0M60.5 724.3h0M59.8 737.8h0M59.4 690.3h0M66.4 724.1h0M58.7 721.6h0M67.2 690h0M66.1 694.7h0M67.3 683.6h0M67.5 691.7h0M66.6 691h0M67.5 725.7h0M66.1 691.2h0M65.9 692.8h0M64.9 740.5h0M58.6 689.8h0M67 697.7h0M59.7 692.4h0M59.1 725.1h0M67.5 701.1h0M58.5 703h0M62.5 740.9h0M58.8 718.2h0M65.7 723.6h0M67.1 684.6h0M65.4 687.7h0M59.4 730.4h0M67 685.5h0M59.2 723.3h0M67.2 691.5h0M67.4 694.5h0M58.6 694.9h0M66.8 721.4h0M61.2 689.8h0M59.3 724.8h0M67.8 697.7h0M60.4 731.4h0M59.5 724.8h0M65.8 692h0M66.6 726.9h0M58.9 700.6h0M61.6 725.8h0M59.6 695.2h0M58.5 696h0M67.8 701.7h0M59 693.2h0M65.4 734.7h0M67.4 686.7h0M65.7 726.9h0M59.1 695.7h0M67.7 693.8h0M59.4 688.7h0M61.9 726.2h0M60.5 729h0M59.3 724h0M59.8 722h0M59.3 693.4h0M67.1 725.3h0M66.8 723.6h0M67.6 691.1h0M59.3 730.1h0M66.4 694.2h0M67.6 727.3h0M67.1 699.3h0M66.6 723.2h0M65.7 690.4h0M66.3 687h0M65.4 724.7h0M59.9 693h0M66.5 722.5h0M59.9 726h0M58.6 719.7h0M67.3 721.6h0M58.5 690.3h0" stroke="#f18f81" stroke-width="1.4" stroke-linecap="square" fill="none" opacity=".85"/>
<path d="M63.1 681.3L63.29 682.9L63.33 684L63.33 684.4L63.65 686L64.1 687.5L64.55 689.1L65.01 690.6L65.46 692.2L65.9 693.7L66.32 695.3L66.72 696.8L67.09 698.4L67.42 699.9L67.72 701.5L67.98 703L68.2 704.6L68.37 706.1L68.49 707.7L68.57 709.2L68.6 710.8L68.6 710.9L68.55 712.3L68.4 713.9L68.13 715.5L67.78 717L67.34 718.6L66.84 720.1L66.3 721.7L65.72 723.2L65.14 724.8L64.59 726.3L64.08 727.9L63.64 729.4L63.33 731L63.33 732.5L63.33 732.5L63.33 734.1L63.33 735.6L63.33 737.2L63.33 738.7L63.33 740.3L63.33 741.8L63.33 743.4L63.33 744.9L63.33 746.5L63.29 748L63.1 749.6L63.01 748L62.97 746.5L62.97 744.9L62.97 743.4L62.97 741.8L62.97 740.3L62.97 738.7L62.97 737.2L62.97 735.6L62.97 734.1L62.97 732.5L62.97 732.5L62.97 731L62.66 729.4L62.22 727.9L61.71 726.3L61.16 724.8L60.58 723.2L60 721.7L59.46 720.1L58.96 718.6L58.52 717L58.17 715.5L57.9 713.9L57.75 712.3L57.7 710.9L57.7 710.8L57.73 709.2L57.81 707.7L57.93 706.1L58.1 704.6L58.32 703L58.58 701.5L58.88 699.9L59.21 698.4L59.58 696.8L59.98 695.3L60.4 693.7L60.84 692.2L61.29 690.6L61.75 689.1L62.2 687.5L62.65 686L62.97 684.4L62.97 684L63.01 682.9Z" fill="#e75642" stroke="#0a0a0a" stroke-width=".62" stroke-linejoin="round"/>
<path d="M59.9 708.3h0M66.2 701.9h0M59.3 708.1h0M60 714.8h0M61.7 715h0M64.3 717.4h0M61.7 699.3h0M63 722.1h0M63.8 706h0M67.2 708.4h0M64.9 701.5h0M65.1 704.8h0M63.3 703.2h0M66.2 716.7h0M63.3 717h0M64.5 703.9h0M66.4 716.8h0M61.9 700.6h0M64.5 709.6h0M64.7 712.4h0M61.3 707.7h0M60.2 712.4h0M62.2 720.1h0M65.8 717.5h0M62.8 711.4h0M61.9 699.7h0M63 719.6h0M64.9 707h0M61.6 710.8h0M60.2 708.7h0M63.9 703.3h0M66.4 700.9h0M64.9 713h0M66.4 701.9h0M62 705.6h0M64.9 719.7h0M63.6 710.3h0M62.5 706h0M65.6 698.2h0M59 709.3h0M67.2 712.7h0M65.1 711.7h0M62.9 704.8h0M63.1 698h0M61.7 713h0M59.2 705.1h0M66.7 702.4h0M65.5 704.8h0M60.9 704.5h0M60.3 709h0M60.7 696.7h0M62.9 716.7h0M61.9 708.3h0M61.6 716.7h0M62.5 695.6h0M62.3 716.8h0M63.7 723.2h0M62.6 705.6h0M65.9 716.5h0M65.5 711.3h0M64.6 702.3h0M64.5 695.3h0M63.9 700.6h0M64.2 708.9h0M63.1 725.5h0M60.5 713.8h0M63.2 725.5h0M62.9 704h0M65 697.7h0M62.7 695h0M64.1 708.3h0M66.1 710.5h0M63.6 708.4h0M59.1 705.7h0M66.8 706h0M66.6 706.9h0M64.8 715.1h0M64.1 721.8h0M62.6 713.7h0M65.8 707.2h0M66.2 704.6h0M63 717.8h0M60.1 704.2h0M66 716.8h0M59.5 707.3h0M62 718.3h0M61.3 710h0M64.8 720.3h0M61 704.8h0M63.4 691.6h0M62.4 714.5h0M62.2 722.8h0M63.2 702.7h0M66.9 714.3h0M61 713.7h0M66.3 718.1h0M59.5 704.5h0M60.6 715.3h0M65.6 719h0M61.5 695.2h0M66.4 718h0M60.6 711.1h0M65.2 708.7h0M65.4 704.7h0M63.8 714.8h0M64.7 721.3h0M63.2 726.8h0M64.2 709.8h0M62.5 696.8h0M64.6 711.6h0M59.5 714.4h0M62.4 719.5h0M61.9 716.1h0M63.5 705.7h0M62.8 706.2h0M64.7 697.5h0M65 718.1h0M64.4 719h0M64.9 708.9h0M60.3 702.4h0M67.4 710.6h0M65.2 701.1h0M59.4 713.4h0M65.6 717.3h0M66.1 717.4h0M63.5 705.1h0M63.1 718.8h0M63.4 707.7h0M67.1 712.2h0M61.7 710h0M64 714.2h0M62.4 723.1h0M62.1 702.5h0M59 710.5h0M62.5 693.7h0M66.6 707.6h0M61.5 696.8h0M61.7 712.5h0M61.5 717.1h0M65.1 695.6h0M62.3 704.6h0M64.9 718.4h0M60.4 707h0M65.7 709h0" stroke="#f18f81" stroke-width="1.4" stroke-linecap="square" fill="none" opacity=".55"/>
<path d="M59.85 710.7h6.6" stroke="#000" stroke-width=".95"/>
<ellipse cx="63.15" cy="710.7" rx="1.6" ry="1.2" fill="#000"/>
<path d="M84.2 715.9h0M76.6 714.5h0M84.1 709h0M82.9 709.6h0M83.9 736.7h0M81.1 710.1h0M75 714.3h0M76.3 709.4h0M76.3 733.6h0M76.5 715.2h0M84.1 730.4h0M76.7 741.4h0M83.7 733h0M82.5 705.9h0M82.9 707h0M81.5 746.5h0M83 708.6h0M81.1 739.9h0M77.3 712.3h0M82.8 715h0M83.4 712.3h0M83.9 733.5h0M83.1 710.7h0M77.1 742.2h0M79.1 708.6h0M76.6 713.2h0M78.3 708h0M75.6 711.8h0M84 712.1h0M83.2 745h0M83.1 729.6h0M84 714.1h0M83.8 715h0M84.2 717h0M76.4 731.5h0M78.3 745.9h0M82.9 730.8h0M75.5 712h0M82.3 708.4h0M84.3 737.1h0M76.5 714.7h0M77.7 745.4h0M84.2 731h0M75.4 717.8h0M83.4 713.7h0M83 739.5h0M75.3 716.9h0M75.9 730.7h0M83.5 729.8h0M84.2 715.2h0M80.7 735.5h0M80.1 734.4h0M80 743.9h0M82.1 712.2h0M75.8 716.7h0M76.9 744.4h0M75.9 733.4h0M76.5 733.9h0M77.1 733.3h0M84.1 712.3h0M83.4 712.5h0M77.4 711.2h0M83.3 742.2h0M77.9 709.7h0M77.5 733.6h0M83.3 711.1h0M77.1 731.4h0M83.4 712.1h0M84.3 712.4h0M79 744.8h0M83.9 730.3h0M83.6 712.3h0M84.3 718h0M76.7 714.6h0M83.2 732.3h0M76.1 713.8h0M84.2 716.9h0M76.3 713.1h0M76.6 731h0M75.1 713.3h0M75.2 743.8h0M76.1 713.2h0M75.5 729.6h0M77 731.6h0M78 732.7h0M75 730.5h0M82.5 713.3h0M76.2 731.8h0M78.1 705.9h0M75.8 746.2h0M82.6 711.8h0M75.1 742.1h0M84 716.1h0M78.6 733.6h0M83.8 729.8h0" stroke="#8fd5e6" stroke-width="1.4" stroke-linecap="square" fill="none" opacity=".85"/>
<path d="M79.6 705.2L79.74 706.2L79.81 707L79.82 707.1L80.07 708.1L80.48 709.1L80.9 710L81.33 711L81.75 712L82.17 712.9L82.57 713.9L82.96 714.9L83.32 715.9L83.66 716.8L83.96 717.8L84.24 718.8L84.48 719.7L84.68 720.7L84.85 721.7L84.97 722.6L85.06 723.6L85.1 724.6L85.1 725L85.08 725.5L84.91 726.5L84.58 727.5L84.12 728.4L83.56 729.4L82.91 730.4L82.21 731.3L81.51 732.3L80.85 733.3L80.28 734.2L79.85 735.2L79.83 736.1L79.83 736.2L79.83 737.1L79.83 738.1L79.83 739.1L79.83 740.1L79.83 741L79.83 742L79.83 743L79.83 743.9L79.83 744.9L79.82 745.9L79.74 746.8L79.6 747.8L79.56 746.8L79.48 745.9L79.47 744.9L79.47 743.9L79.47 743L79.47 742L79.47 741L79.47 740.1L79.47 739.1L79.47 738.1L79.47 737.1L79.47 736.2L79.47 736.1L79.45 735.2L79.02 734.2L78.45 733.3L77.79 732.3L77.09 731.3L76.39 730.4L75.74 729.4L75.18 728.4L74.72 727.5L74.39 726.5L74.22 725.5L74.2 725L74.2 724.6L74.24 723.6L74.33 722.6L74.45 721.7L74.62 720.7L74.82 719.7L75.06 718.8L75.34 717.8L75.64 716.8L75.98 715.9L76.34 714.9L76.73 713.9L77.13 712.9L77.55 712L77.97 711L78.4 710L78.82 709.1L79.23 708.1L79.48 707.1L79.49 707L79.56 706.2Z" fill="#58bfd8" stroke="#0a0a0a" stroke-width=".62" stroke-linejoin="round"/>
<path d="M81.6 719.8h0M81.7 725.1h0M81.4 718.3h0M79 723h0M78.4 724.3h0M79.6 730.1h0M83.3 724.1h0M81.7 721.2h0M79.2 718h0M83 728h0M79.5 730.4h0M81.9 724.9h0M81.5 720.5h0M82.7 720h0M82.7 725.3h0M77.6 726.6h0M83.4 720.9h0M79.7 720.4h0M78.9 718h0M81.1 719.6h0M81.2 725.4h0M82.7 720.4h0M80 723.8h0M76.4 722.4h0M78.7 727.1h0M78.1 724.2h0M79.1 722.9h0M83.4 721.6h0M83.1 722.1h0M82.1 729.8h0M81.3 725.5h0M81.2 725h0M81.6 722.8h0M76.8 728.7h0M80.6 721.7h0M80.3 711.2h0M76.3 724.2h0M78.4 721.4h0M76.2 722.7h0M78.5 730h0M77.8 715.6h0M78.1 730.8h0M79.4 716.9h0M78.8 723.3h0M78.6 726.5h0M77.8 721.1h0M77.9 729.2h0M81.3 726.8h0M80.2 727.4h0M78.8 720.1h0M77.4 720.1h0M81.8 729.5h0M82.2 725.1h0M80.1 719.5h0M78.9 731.6h0M78.7 719.5h0M80.8 722.1h0M84 725h0M79 725.3h0M82.9 726.1h0M81.5 723.1h0M78.4 718h0M79.9 725.9h0M80.4 724.3h0M80.9 720.4h0M82.5 719.7h0M81.3 718.2h0M78.5 718.2h0M76.4 719.5h0M81.5 728.7h0M79.9 719.2h0M81.9 726.3h0M82.6 723.5h0M78 725.2h0M77.5 726.9h0M81.5 722.6h0M83.8 723.8h0M77 720.9h0M81.5 718.4h0M80.2 717.5h0M80 725.3h0M81.9 727.9h0M82.3 721h0M80.6 725.8h0M79.4 731.5h0M79.5 717.7h0M77.1 727.8h0M79.2 723.9h0M81.3 722.2h0M78.6 729.9h0M75.7 722.9h0M81 719.6h0M81.3 724.6h0M77.1 727.5h0M81.7 717.1h0M78.8 715.8h0M78.5 724.2h0M80 720.7h0M77.3 722.9h0M80.1 712.4h0M79.6 728.6h0M82.8 725.6h0M79.1 725.8h0M77.2 717.2h0M79.4 730.5h0M80.6 717.5h0M81.7 725.3h0M76.9 718.2h0M80.7 722.7h0M80.2 711.3h0M80.4 717.2h0M76.2 725h0M79.6 729.7h0M78 715h0M84 723.9h0M78 724.6h0M77.4 719.4h0M77.3 716.8h0M80.1 724.3h0M82.9 722.2h0M76.4 723.4h0M78.8 725.1h0M77.8 730.4h0M79.5 712h0M80.5 721.1h0M80.2 725.1h0M80.6 731.9h0M77.9 720.2h0M82.2 716.2h0M83.3 722.4h0M79.9 732.4h0M80.5 718.3h0M82.7 721.2h0M79.8 721h0M79.5 727.4h0M80.6 715.3h0M81.3 721.8h0M79.9 726.8h0M81.5 728.8h0M75.8 724.5h0M78.4 717.6h0M76.2 721.8h0M80 721.8h0M78 722.7h0M82.8 727.6h0" stroke="#8fd5e6" stroke-width="1.4" stroke-linecap="square" fill="none" opacity=".55"/>
<path d="M76.35 725h6.6" stroke="#000" stroke-width=".95"/>
<ellipse cx="79.65" cy="725" rx="1.6" ry="1.2" fill="#000"/>
<path d="M89.4 760.9h0M86.8 758h0M86.1 730.6h0M94.9 714.9h0M94.1 713.5h0M94.3 760.6h0M90 754.8h0M87.9 713.5h0M89.3 738.4h0M86.3 713.1h0M95.4 719.9h0M91.7 739.9h0M87.3 734.2h0M87.3 735.1h0M86.1 739.4h0M90.3 751.3h0M94.6 735.7h0M92.7 752.6h0M87.3 738.6h0M94.1 715.6h0M86.4 731.5h0M95.3 732.4h0M89.4 751.5h0M94.3 716.5h0M95.3 736.2h0M94.8 733.4h0M94.5 735.3h0M95.4 743.7h0M95 735.1h0M95.3 734.1h0M86.1 718.1h0M95.3 717.7h0M89.5 750.9h0M86.9 716.4h0M86.3 708.9h0M86.3 714.5h0M88.6 710.5h0M86.4 737.3h0M86.5 713.7h0M88 755.1h0M86.6 735.6h0M88.8 738.1h0M94.6 713.9h0M87.4 738.2h0M95.4 736.7h0M92.7 753.6h0M86.2 719.3h0M94.2 709.9h0M89.3 746.9h0M93.6 756.7h0M87.3 736.1h0M94.5 712.3h0M87 710.8h0M93.5 710.3h0M86.2 705.7h0M87 708.2h0M95.2 717.4h0M94.7 734.8h0M91.1 755.9h0M94.9 738.7h0M90.4 740.7h0M94.5 713h0M94.7 735.8h0M95.2 718.5h0M94.3 711.6h0M95.2 707.6h0M94.4 711.2h0M95.3 730.8h0M90.9 705.7h0M93.1 707.3h0M95 736.2h0M86.1 718.7h0M90.2 705.6h0M94.7 736.8h0M86.6 733.3h0M93.9 753.5h0M94 754.5h0M88.5 736.1h0M95 735.6h0M90.8 747.1h0M95.1 744.4h0M94 738.5h0M87.5 706.8h0M91.9 706.3h0M90 755.4h0M89.6 707.3h0M86.1 714.8h0M95.2 718.4h0M87.3 713h0M94.7 751.2h0" stroke="#f18f81" stroke-width="1.4" stroke-linecap="square" fill="none" opacity=".85"/>
<path d="M90.7 704.1L90.87 705.4L90.93 706.4L90.93 706.7L91.31 708L91.82 709.3L92.34 710.6L92.86 711.9L93.37 713.2L93.85 714.5L94.31 715.8L94.72 717.1L95.1 718.4L95.43 719.7L95.7 721L95.92 722.3L96.07 723.6L96.17 724.9L96.2 726.2L96.14 727.5L95.95 728.8L95.66 730.1L95.26 731.4L94.77 732.7L94.22 734L93.62 735.3L93.01 736.6L92.41 737.9L91.85 739.2L91.36 740.5L90.98 741.8L90.93 743.1L90.93 743.3L90.93 744.4L90.93 745.7L90.93 747L90.93 748.3L90.93 749.6L90.93 750.9L90.93 752.2L90.93 753.5L90.93 754.8L90.93 756.1L90.93 757.4L90.93 758.7L90.87 760L90.7 761.3L90.63 760L90.57 758.7L90.57 757.4L90.57 756.1L90.57 754.8L90.57 753.5L90.57 752.2L90.57 750.9L90.57 749.6L90.57 748.3L90.57 747L90.57 745.7L90.57 744.4L90.57 743.3L90.57 743.1L90.52 741.8L90.14 740.5L89.65 739.2L89.09 737.9L88.49 736.6L87.88 735.3L87.28 734L86.73 732.7L86.24 731.4L85.84 730.1L85.55 728.8L85.36 727.5L85.3 726.2L85.33 724.9L85.43 723.6L85.58 722.3L85.8 721L86.07 719.7L86.4 718.4L86.78 717.1L87.19 715.8L87.65 714.5L88.13 713.2L88.64 711.9L89.16 710.6L89.68 709.3L90.19 708L90.57 706.7L90.57 706.4L90.63 705.4Z" fill="#e75642" stroke="#0a0a0a" stroke-width=".62" stroke-linejoin="round"/>
<path d="M91.8 723.9h0M89.9 734.4h0M91.3 727.6h0M95 723.6h0M89 729.5h0M90.9 722.8h0M88.9 721h0M94 722.4h0M88.2 722.5h0M89.1 728.1h0M89.3 731.2h0M89.9 725.4h0M93.8 723.2h0M94.5 727.6h0M92.4 731.4h0M91.5 719.8h0M88.1 730.8h0M91.1 724.5h0M86.9 724.6h0M92.6 723.2h0M88.9 724.4h0M89.7 729.4h0M88.9 730.3h0M93.1 733.9h0M92.9 727.6h0M93.4 722h0M92 720.2h0M87.4 718.8h0M91.4 732.6h0M88.1 726.5h0M90.5 717.7h0M90 733.2h0M90.6 724.4h0M93.5 731.2h0M87.8 732.4h0M88 718.6h0M88.2 727.7h0M89.4 726.3h0M92.6 719.7h0M92.7 720h0M88.7 719.2h0M86.8 724.6h0M93.3 729.5h0M90.2 727.4h0M87.5 730.2h0M91.1 715.7h0M89.6 733.2h0M88.6 720.7h0M91.2 727.5h0M89.7 714.7h0M87.5 725h0M88 729.5h0M94.2 724.2h0M87 720.8h0M91.5 721.9h0M92.2 723.2h0M90.6 730.6h0M87.9 728.8h0M87 725.7h0M90.9 730.3h0M93.8 721.3h0M93.8 721.4h0M94.6 729.5h0M88.4 724.9h0M89.7 725.2h0M93.8 723h0M93.3 719.9h0M87.2 724h0M89.5 720.3h0M91.6 717.9h0M86.9 724.6h0M88.2 729.9h0M91.2 724.4h0M94.3 726.8h0M89.1 725.7h0M87.8 723.8h0M94.7 729h0M89.4 718.6h0M91.7 723h0M88.2 733.3h0M88.6 722.9h0M92.2 717.7h0M93.7 724.5h0M89.6 736.2h0M94.9 727.5h0M91.8 731.8h0M89.8 715.8h0M93.4 721.1h0M90.8 726.4h0M89.3 725.1h0M90.6 737.3h0M94.7 726.3h0M88 719.2h0M94.4 727.6h0M90.3 715.2h0M86.8 725h0M93.2 733.6h0M91.3 733.9h0M93 725.1h0M89.2 716.9h0M94.2 726.4h0M89.1 717.2h0M92.5 730.9h0M92.4 733.4h0M93 727h0M90 721.5h0M91.3 734.8h0M91.5 732h0M93.1 722.7h0M93 731.2h0M88.7 727.6h0M91.4 721.9h0M90.3 730.4h0M87.4 728.7h0M91.9 716.1h0M86.7 728.3h0M87.9 726.3h0M90.8 738.5h0M93.8 723.9h0M91.4 722h0M95 724.2h0M91.1 727.2h0M92.6 733.3h0M89.2 727.2h0M93 728.9h0M91.9 728h0M90 715.6h0M89 718h0M93.1 729.3h0M87.1 721.7h0M91.4 728.7h0M90 715.1h0M88.8 724.7h0M91.7 728.1h0M89 717.4h0M90.2 729.8h0M91.1 723.7h0M89 719.7h0M92.7 732.4h0M90.4 725.8h0M89.5 727.9h0" stroke="#f18f81" stroke-width="1.4" stroke-linecap="square" fill="none" opacity=".55"/>
<path d="M87.45 726.6h6.6" stroke="#000" stroke-width=".95"/>
<ellipse cx="90.75" cy="726.6" rx="1.6" ry="1.2" fill="#000"/>
<path d="M110.9 721.7h0M110.7 710.2h0M108.9 665.6h0M103.5 716.5h0M104.4 665.9h0M102.8 713.9h0M106.5 733.1h0M103.4 671.4h0M104.1 725.1h0M111.7 704.2h0M102.8 746.4h0M111.7 716.3h0M108.7 667.3h0M103.2 712.4h0M104.3 713.3h0M109.2 666h0M103.3 709.5h0M108.6 729.4h0M102.7 679.2h0M109.4 718.5h0M111.6 715h0M110.4 668.2h0M104.3 746.1h0M109 728.9h0M109.3 716.1h0M111.5 711.8h0M110.2 715.2h0M108.3 738.7h0M109.7 730.4h0M109.9 671.8h0M103.1 667.9h0M111.1 677h0M104.5 714.6h0M103.2 676.4h0M109.1 658.7h0M111.1 739h0M102.6 712.6h0M105.4 720.2h0M104.7 714.3h0M105.7 729.9h0M110.3 666.5h0M110.7 656.3h0M102.6 663.2h0M103.2 741h0M103.4 714h0M103.6 671h0M103.7 668.3h0M103 677.8h0M106.5 723.7h0M109.7 718.1h0M102.9 709h0M108.3 665.4h0M102.6 665.9h0M111.9 679.7h0M109.5 670.8h0M111.1 725.7h0M110.5 718.1h0M102.6 667.3h0M108.1 659.3h0M111.8 661h0M104.2 672.6h0M102.9 708.2h0M111.6 719.4h0M108.8 732.5h0M105.5 717.6h0M104.5 724.1h0M106 665.6h0M102.7 712.1h0M110.4 721.2h0M109.2 663.5h0M109.2 663h0M111.2 720.9h0M109.9 742.6h0M111.8 665.4h0M105.9 665.3h0M103.2 668.3h0M106.9 731.6h0M103.8 677.1h0M111.8 665.2h0M103.2 713.4h0M109.8 718.3h0" stroke="#8fd5e6" stroke-width="1.4" stroke-linecap="square" fill="none" opacity=".85"/>
<path d="M107.3 655.2L107.43 657.4L107.43 658.8L107.43 659.7L107.85 661.9L108.34 664.2L108.83 666.4L109.33 668.6L109.81 670.9L110.27 673.1L110.71 675.3L111.11 677.6L111.48 679.8L111.8 682.1L112.09 684.3L112.32 686.5L112.49 688.8L112.62 691L112.69 693.3L112.7 694.8L112.7 695.5L112.63 697.7L112.48 700L112.25 702.2L111.95 704.5L111.59 706.7L111.18 708.9L110.72 711.2L110.24 713.4L109.74 715.6L109.23 717.9L108.75 720.1L108.3 722.4L107.9 724.6L107.56 726.8L107.43 729.1L107.43 730.7L107.43 731.3L107.43 733.6L107.43 735.8L107.43 738L107.43 740.3L107.43 742.5L107.43 744.7L107.43 747L107.43 749.2L107.43 751.5L107.3 753.7L107.07 751.5L107.07 749.2L107.07 747L107.07 744.7L107.07 742.5L107.07 740.3L107.07 738L107.07 735.8L107.07 733.6L107.07 731.3L107.07 730.7L107.07 729.1L106.94 726.8L106.6 724.6L106.2 722.4L105.75 720.1L105.27 717.9L104.76 715.6L104.26 713.4L103.78 711.2L103.32 708.9L102.91 706.7L102.55 704.5L102.25 702.2L102.02 700L101.87 697.7L101.8 695.5L101.8 694.8L101.81 693.3L101.88 691L102.01 688.8L102.18 686.5L102.41 684.3L102.7 682.1L103.02 679.8L103.39 677.6L103.79 675.3L104.23 673.1L104.69 670.9L105.17 668.6L105.67 666.4L106.16 664.2L106.65 661.9L107.07 659.7L107.07 658.8L107.07 657.4Z" fill="#58bfd8" stroke="#0a0a0a" stroke-width=".62" stroke-linejoin="round"/>
<path d="M109.1 690.1h0M107.3 703h0M106.6 701.1h0M109.4 700.3h0M108.5 687.8h0M107 707.8h0M103.5 687.1h0M107.8 712.4h0M105.8 710h0M106.4 711.8h0M106.1 684.1h0M110.5 697.8h0M106.2 690.1h0M107.1 698.6h0M108.7 697.5h0M106.1 677h0M107.2 701.7h0M108.1 683.3h0M111.2 700.7h0M105.9 701.3h0M110.4 707.3h0M107.2 714.7h0M110.2 680.8h0M111.2 701.3h0M109.7 676.9h0M108.8 688.5h0M106.5 700.7h0M105.7 699.4h0M107.2 682.8h0M108.7 709.8h0M108.6 705.6h0M109.1 709.8h0M107.5 695.2h0M108.9 698.6h0M110.9 694.7h0M105.4 683.3h0M107.3 693.9h0M107.8 670.6h0M107.8 689.1h0M109.9 692.3h0M105.1 677.1h0M106.1 704.1h0M108.2 693.1h0M111.2 694.5h0M105.5 704.4h0M105.8 706.9h0M110.5 694.3h0M106.5 695.2h0M108.6 692.5h0M109.4 684.5h0M108.2 698.5h0M105.7 692.7h0M103.5 687.6h0M107.8 707.6h0M110.9 685.8h0M108.5 688.9h0M108.6 676.8h0M103.3 692.9h0M104.5 708.8h0M108.5 682.3h0M106.8 692.7h0M110.7 695.2h0M103 693.4h0M107.9 696.2h0M108.9 683.7h0M108.5 688h0M106.9 687.5h0M106.4 680.5h0M109.1 695h0M104.8 709h0M104.9 689.2h0M106.3 670.4h0M107.2 672.9h0M105.6 704.2h0M110 677.5h0M108.8 710.4h0M104.4 689.3h0M104.6 697.6h0M109.8 701.5h0M107.4 678.7h0M111.4 693.1h0M106.7 680.7h0M107.7 681.8h0M106.4 704.5h0M104.8 696.1h0M110.5 698.3h0M110.3 682.3h0M109.1 683.9h0M106.6 686.5h0M109 700.7h0M109.3 712.4h0M109.8 701h0M106.3 701.3h0M107.9 685h0M111 695.5h0M109.7 697.3h0M107 697.4h0M103.7 698.4h0M110 696.6h0M109 712.2h0M107.8 703.4h0M110.5 701.5h0M106.5 698.9h0M107.4 680.8h0M104.8 684.6h0M109.5 709.1h0M110 689.8h0M110.2 702.4h0M106.6 699.3h0M105.1 697.7h0M109.3 707.4h0M106.5 673.4h0M104.7 680h0M107 669.5h0M105.6 699.9h0M109.7 706.7h0M106.8 713.5h0M110.3 705.1h0M107.8 696.3h0M104.8 710.4h0M103.4 700.1h0M105.6 696.9h0M107.9 702.3h0M105.7 712.6h0M107.6 703.6h0M104.1 706.2h0M108.1 674.1h0M105.9 700.8h0M106.3 683.2h0M107.2 701.3h0M105.6 704.4h0M109.1 688.1h0M106.6 687h0M107 672.8h0M107.8 672.7h0M107.4 686.8h0M104.9 696.5h0M108 693.1h0M107.4 674.3h0M110.3 695.9h0M106.6 670.3h0M104.5 701.8h0M104.3 695h0M105.7 674.5h0M107.1 696h0M107 689.5h0M108 711.1h0M103.7 693.1h0M107.1 693h0M108.3 679.5h0M105.3 689.6h0M106 689.5h0M105.6 711.8h0M105.3 698.5h0M107.4 679.6h0" stroke="#8fd5e6" stroke-width="1.4" stroke-linecap="square" fill="none" opacity=".55"/>
<path d="M103.95 696.6h6.6" stroke="#000" stroke-width=".95"/>
<ellipse cx="107.25" cy="696.6" rx="1.6" ry="1.2" fill="#000"/>
<path d="M114 707.3h0M122.7 736.6h0M114.1 672.9h0M114.7 765h0M116.5 747.2h0M121.8 672.6h0M118.1 731.1h0M120.6 727.8h0M115.5 723.1h0M113.7 678.7h0M114.3 736.4h0M121.4 744.8h0M114.9 714.8h0M120.4 666.1h0M121.3 761.6h0M114.6 675.7h0M115.6 721.5h0M122.9 706h0M117.1 732.6h0M122.1 654.2h0M114.4 679h0M116.1 720h0M122.9 717.1h0M116 664.4h0M122.5 669.1h0M116.8 723.5h0M118.3 761.7h0M121.6 716.8h0M114 714h0M119.8 726.9h0M120.8 669.1h0M115.2 665h0M122.1 673.7h0M116.9 724.3h0M121.7 738h0M115.7 654.7h0M122.1 712.5h0M122.9 681.2h0M113.8 718.2h0M122.3 715.8h0M115.7 666.1h0M122.6 750.8h0M119.7 726.7h0M114.7 764.5h0M121.2 769.2h0M116.6 721.4h0M122.7 680.9h0M120.4 726.5h0M116.2 733h0M115.4 717h0M115.9 657.5h0M113.7 705.6h0M122 666.4h0M115.8 666.9h0M123 712.1h0M122.8 681.3h0M121.8 758.6h0M113.9 721.6h0M120.3 752h0M115.9 663h0M121.3 720.2h0M115.2 728h0M120.8 765.9h0M122.7 681.6h0M120.8 761.9h0M119.4 743.8h0M122.5 659.7h0M117 657.6h0M119.9 725.2h0M113.8 716.3h0M122.9 706h0M116 720.3h0M121 760.2h0M114.2 657.9h0M116.2 662.1h0M115 726.9h0M117.3 760.2h0M120.5 661.8h0M114.2 675.3h0M114 675.7h0M122.3 674h0M121 722.2h0M115.2 764.6h0M113.9 711h0M117.2 749.4h0M121.2 666h0M115.3 670.3h0M116.4 654.3h0M114.9 757.9h0M114.2 730.8h0M121.9 717.6h0M120.2 744.8h0" stroke="#f18f81" stroke-width="1.4" stroke-linecap="square" fill="none" opacity=".85"/>
<path d="M118.4 650.7L118.53 653.5L118.53 655.2L118.53 656.3L119 659L119.53 661.8L120.06 664.6L120.59 667.4L121.1 670.2L121.59 672.9L122.04 675.7L122.46 678.5L122.82 681.3L123.14 684.1L123.39 686.8L123.59 689.6L123.72 692.4L123.79 695.2L123.8 696.6L123.79 698L123.67 700.7L123.45 703.5L123.12 706.3L122.7 709.1L122.2 711.9L121.65 714.6L121.07 717.4L120.47 720.2L119.89 723L119.36 725.7L118.9 728.5L118.54 731.3L118.53 734.1L118.53 734.3L118.53 736.9L118.53 739.6L118.53 742.4L118.53 745.2L118.53 748L118.53 750.8L118.53 753.5L118.53 756.3L118.53 759.1L118.53 761.9L118.53 764.7L118.53 767.4L118.53 770.2L118.4 773L118.17 770.2L118.17 767.4L118.17 764.7L118.17 761.9L118.17 759.1L118.17 756.3L118.17 753.5L118.17 750.8L118.17 748L118.17 745.2L118.17 742.4L118.17 739.6L118.17 736.9L118.17 734.3L118.17 734.1L118.16 731.3L117.8 728.5L117.34 725.7L116.81 723L116.23 720.2L115.63 717.4L115.05 714.6L114.5 711.9L114 709.1L113.58 706.3L113.25 703.5L113.03 700.7L112.91 698L112.9 696.6L112.91 695.2L112.98 692.4L113.11 689.6L113.31 686.8L113.56 684.1L113.88 681.3L114.24 678.5L114.66 675.7L115.11 672.9L115.6 670.2L116.11 667.4L116.64 664.6L117.17 661.8L117.7 659L118.17 656.3L118.17 655.2L118.17 653.5Z" fill="#e75642" stroke="#0a0a0a" stroke-width=".62" stroke-linejoin="round"/>
<path d="M116.5 682.3h0M116.4 710.7h0M120.4 676.7h0M116.5 708.8h0M117.7 702.9h0M116.5 679.3h0M121.5 696.9h0M119.1 684.8h0M116.7 680.7h0M116.8 713.9h0M114.2 696.8h0M116.9 681.5h0M117.6 702.1h0M115.5 696.5h0M115 686.3h0M117.1 696.8h0M117.3 690.9h0M114.6 701.1h0M119.6 697.8h0M116.1 683.5h0M117 694.9h0M117.9 692.4h0M120.6 696h0M116.8 701.3h0M116.5 673.7h0M122 684.5h0M120.5 707.8h0M118.9 710.4h0M118.7 718.4h0M122.1 699.8h0M119.1 712.9h0M116.4 696.8h0M116 710.1h0M121.1 708.8h0M114.8 691.1h0M117.8 685.6h0M115.5 688.5h0M117.7 699.3h0M121.2 694.9h0M117.7 685h0M118.3 714.8h0M117.6 709.5h0M119.1 672.4h0M116.2 702.6h0M118.1 669.4h0M119.4 712.8h0M115.6 709.2h0M116.3 687.5h0M121 678.8h0M114.8 702.7h0M121.6 699.3h0M116.8 696.5h0M120.3 693.2h0M115.2 708.6h0M115.6 676.8h0M122 693.7h0M119.7 709.9h0M119 691.9h0M115.1 683.5h0M119.4 678.6h0M115.6 711.3h0M116.5 707.5h0M118.8 677.2h0M121.2 694.9h0M117.3 714.1h0M119 709h0M118.8 688.4h0M116 692.5h0M118.9 706.8h0M121.6 702.4h0M117.6 680.2h0M115.1 683.4h0M115.1 694.6h0M122.2 690.8h0M117.4 679.4h0M117.5 692.6h0M121.6 701.8h0M115.7 698.2h0M115.9 690.5h0M117.7 701.7h0M115.4 694.4h0M115.3 702.9h0M121.4 704.2h0M120.5 696.3h0M118.5 678.8h0M115 705.9h0M119.9 691.8h0M118.2 683.2h0M121.2 692.1h0M115.5 703h0M114.3 690.2h0M115.7 706.9h0M119.2 697.5h0M118.9 718.9h0M117.3 669h0M116.6 715.3h0M117.1 690.3h0M116.3 704h0M116.9 680.5h0M121.1 706.4h0M119.6 686.7h0M115.9 687h0M115.2 704.9h0M118.6 669.5h0M119.8 699.3h0M120.1 706.9h0M119.5 672.6h0M117.2 700.4h0M118.1 701.8h0M119.9 712.4h0M117.7 694.9h0M119.1 710.4h0M117.8 715.2h0M115.7 702h0M115.2 681.8h0M118.9 697.9h0M119.6 705.6h0M117.6 682.7h0M117.8 692.9h0M115.9 707.4h0M117.1 702.2h0" stroke="#f18f81" stroke-width="1.4" stroke-linecap="square" fill="none" opacity=".55"/>
<path d="M115.05 699.2h6.6" stroke="#000" stroke-width=".95"/>
<ellipse cx="118.35" cy="699.2" rx="1.6" ry="1.2" fill="#000"/>
<path d="M52.05 679.9v-2.4h11.1v2.4" fill="none" stroke="#111" stroke-width=".85"/>
<text x="57.6" y="676.5" font-size="5.8" text-anchor="middle">ns</text>
<path d="M79.65 702.6v-2.4h11.1v2.4" fill="none" stroke="#111" stroke-width=".85"/>
<text x="85.2" y="699.2" font-size="5.8" text-anchor="middle">ns</text>
<path d="M40.9 642.9V775.8H129.2" fill="none" stroke="#333" stroke-width=".8"/>
<text x="36.2" y="675.5" font-size="8.8" text-anchor="end">4000</text>
<text x="36.2" y="708.45" font-size="8.8" text-anchor="end">2000</text>
<text x="36.2" y="741.4" font-size="8.8" text-anchor="end">0</text>
<text x="36.2" y="774.35" font-size="8.8" text-anchor="end">-2000</text>
<path d="M40.9 672.4h-3.2M40.9 705.35h-3.2M40.9 738.3h-3.2M40.9 771.25h-3.2M57.6 775.8v3.2M85.2 775.8v3.2M112.8 775.8v3.2" fill="none" stroke="#333" stroke-width=".8"/>
<text transform="translate(58.8 787.4) rotate(-15)" font-size="8.95" text-anchor="end">ImmuneScore</text>
<text transform="translate(86.4 787.4) rotate(-15)" font-size="8.95" text-anchor="end">StromalScore</text>
<text transform="translate(114 787.4) rotate(-15)" font-size="8.95" text-anchor="end">ESTIMATEScore</text>
<text transform="translate(7.9 709.35) rotate(-90)" font-size="9.7" text-anchor="middle">Enrichment score</text>
<text x="132.5" y="703.8" font-size="8.6">TMC5</text>
<rect x="132.4" y="706.3" width="6.1" height="8" fill="#9bdbe9" stroke="#333" stroke-width=".7"/>
<circle cx="135.45" cy="710.3" r=".9" fill="#58bfd8" opacity=".75"/>
<text x="142.3" y="713.4" font-size="8.6">Low</text>
<rect x="132.4" y="714.3" width="6.1" height="8" fill="#f29a8f" stroke="#333" stroke-width=".7"/>
<circle cx="135.45" cy="718.3" r=".9" fill="#e75642" opacity=".75"/>
<text x="142.3" y="721.4" font-size="8.6">High</text>
</g>
<g id="pN">
<text x="191.3" y="630" font-size="20.2">N</text>
<path d="M219.2 721h0M227.6 696.6h0M221.1 699h0M223.1 744.8h0M219.3 706.4h0M227.5 747.6h0M219.4 732.9h0M219.9 732h0M225.2 736.6h0M227.8 704.6h0M220 699.6h0M228.2 736.1h0M225.9 697.3h0M227.7 719.8h0M228.2 725.6h0M227.1 722h0M225.3 731.9h0M225.3 734.9h0M219.3 722.3h0M227.8 720.2h0M228.1 737.3h0M227.6 694h0M223.3 742.5h0M219.4 691.7h0M220.2 723.5h0M224.7 725.7h0M227.9 701.4h0M219.9 721.4h0M225.9 697.3h0M225.8 697.8h0M221.9 725.6h0M220 701.4h0M224.5 747.4h0M225.7 731.4h0M225.4 724.8h0M225 695.8h0M222.3 725.4h0M221 733.4h0M227 722h0M221.7 743.3h0M219.4 727.7h0M220.7 721.6h0M219 699.5h0M220.7 728.7h0M227.4 697.8h0M219.7 703.1h0M222.7 737.4h0M221.4 723.9h0M225.3 742.1h0M218.9 720h0M227.1 737.5h0M221.5 729.3h0M221.9 726.1h0M226.8 723.9h0M222.3 738.3h0M228.1 698.1h0M225.5 730.3h0M228 721.7h0M220.5 723.7h0M225.3 724.8h0M224.6 725.5h0M227.4 697.8h0M221 723.6h0M221.4 745.5h0M219.4 722h0M226.9 695.5h0M223.9 729.5h0M221.9 730.5h0M228.1 708h0M219.3 706.8h0M224.3 746.4h0M221.5 696.3h0M219.3 697.3h0M227.4 703.8h0M228.1 718.1h0M219.2 728.1h0M219.3 703h0M225.8 726.6h0M227.1 722.3h0M225.3 698.8h0M223.4 690.1h0M220.2 721.1h0M225.3 725h0M220 702.8h0M219.2 719.3h0M226.9 736.9h0M220.3 699.6h0M222.1 696.9h0M227.8 706.2h0M228.2 722.5h0" stroke="#8fd5e6" stroke-width="1.4" stroke-linecap="square" fill="none" opacity=".85"/>
<path d="M223.5 689L223.67 690.4L223.73 691.7L223.73 693L223.73 693.1L224.02 694.5L224.5 695.8L225.01 697.2L225.51 698.6L226.01 699.9L226.48 701.3L226.93 702.7L227.35 704L227.74 705.4L228.07 706.8L228.36 708.1L228.6 709.5L228.79 710.9L228.92 712.2L228.99 713.6L229 714.5L228.99 715L228.83 716.3L228.49 717.7L227.99 719L227.36 720.4L226.64 721.8L225.87 723.1L225.13 724.5L224.45 725.9L223.9 727.2L223.73 728.6L223.73 728.9L223.73 730L223.73 731.3L223.73 732.7L223.73 734.1L223.73 735.4L223.73 736.8L223.73 738.2L223.73 739.5L223.73 740.9L223.73 742.3L223.73 743.6L223.73 745L223.73 746.4L223.67 747.7L223.5 749.1L223.43 747.7L223.37 746.4L223.37 745L223.37 743.6L223.37 742.3L223.37 740.9L223.37 739.5L223.37 738.2L223.37 736.8L223.37 735.4L223.37 734.1L223.37 732.7L223.37 731.3L223.37 730L223.37 728.9L223.37 728.6L223.2 727.2L222.65 725.9L221.97 724.5L221.23 723.1L220.46 721.8L219.74 720.4L219.11 719L218.61 717.7L218.27 716.3L218.11 715L218.1 714.5L218.11 713.6L218.18 712.2L218.31 710.9L218.5 709.5L218.74 708.1L219.03 706.8L219.36 705.4L219.75 704L220.17 702.7L220.62 701.3L221.09 699.9L221.59 698.6L222.09 697.2L222.6 695.8L223.08 694.5L223.37 693.1L223.37 693L223.37 691.7L223.43 690.4Z" fill="#58bfd8" stroke="#0a0a0a" stroke-width=".62" stroke-linejoin="round"/>
<path d="M222.2 718.2h0M222.8 722.1h0M222 719.2h0M225.2 704.8h0M222.7 718.9h0M220.3 710.4h0M224.8 712.9h0M222 711.2h0M227.7 711.8h0M223.1 718.6h0M226 710.5h0M226.2 706.8h0M222.8 708.6h0M219.8 711h0M226.7 710.2h0M224.5 700h0M223.4 703.6h0M220.9 713.4h0M221.9 705.7h0M220.6 705.1h0M225.9 712.7h0M225.9 709.3h0M227.4 715.7h0M227.6 716.9h0M224.9 713.2h0M224.8 715.6h0M226.7 709.2h0M220.3 706.2h0M219.4 712.6h0M222 720.3h0M222.1 707.7h0M224.1 708.4h0M224 705.9h0M220.5 707.7h0M223.6 708.9h0M225.5 702.8h0M224.7 721.3h0M220.9 716.1h0M222.5 708h0M221.4 716.1h0M223.1 705h0M227.3 716.3h0M223.6 723.2h0M225.9 704.6h0M223.3 719.6h0M221.7 702.1h0M225.4 705.1h0M221.2 711.5h0M224.4 719.1h0M221.4 717.7h0M225.8 715.3h0M226.3 711.7h0M223.4 712.1h0M219.4 714.3h0M225.2 716.3h0M226.3 705.2h0M221.8 710h0M221.8 705.8h0M227.2 713.7h0M223.4 704.4h0M227.7 711h0M222.3 715.4h0M222.3 715.5h0M222.1 711.2h0M221.3 714.8h0M221 716h0M227.2 716.3h0M225.2 714.6h0M220.8 715.6h0M222.2 708.9h0M223.6 715h0M221.5 704h0M222.3 705.8h0M220.9 711.6h0M223.1 706.1h0M224.5 719.6h0M224.1 706.8h0M221.4 715.5h0M223.9 701.6h0M222.4 700.6h0M223.6 701.7h0M225.8 703h0M222.9 717.1h0M226.1 708.9h0M224.1 716.3h0M225 714.2h0M219.7 715.7h0M222.8 722.3h0M224.2 724h0M225.4 715.5h0M220.4 713.8h0M225.6 719.1h0M227 711.3h0M221.8 705.6h0M220.1 708.4h0M221.3 707.7h0M225.2 702.2h0M223.5 707.2h0M224.7 714.1h0M224.8 714.7h0M221 715.5h0M224.1 700.8h0M221.3 721.1h0M221.4 703.9h0M220.3 710.3h0M223.1 717.1h0M221.5 721.5h0M225 714.5h0M224 707.1h0M223.6 712.6h0M224.6 709.8h0M223.3 724.6h0M224.9 715.9h0M220.2 708h0M221.4 709.7h0M222.6 709.8h0M220.3 706.1h0M225.3 717.4h0M220.4 707.3h0M226.4 715.7h0M223.8 713.6h0M225.1 718.2h0M223.8 709.9h0M225.6 704.3h0M223.9 715.8h0M223.9 714.9h0M224.3 707.6h0M221 710.8h0M227 714.6h0M227.1 708.7h0M223.2 716.7h0M220.4 716.1h0M227.2 718h0M225.8 712.6h0M221.4 715h0M223.4 708.3h0M224.4 722.4h0M226.4 711.2h0M220.3 708.7h0M219.8 711.3h0M227.1 711.3h0M225.6 704.7h0M221.3 707.1h0M223.4 703.5h0M224.6 699.7h0M224.3 715.5h0M224.6 707.6h0" stroke="#8fd5e6" stroke-width="1.4" stroke-linecap="square" fill="none" opacity=".55"/>
<path d="M220.25 714.6h6.6" stroke="#000" stroke-width=".95"/>
<ellipse cx="223.55" cy="714.6" rx="1.6" ry="1.2" fill="#000"/>
<path d="M239 693.9h0M236.6 688.2h0M232.5 734.2h0M231.5 738.8h0M238 718h0M238.3 715.7h0M237.7 688.7h0M238.5 686.8h0M239.3 711.4h0M238 692.4h0M233.6 683.1h0M239 720.8h0M238.4 723.7h0M233.4 685.7h0M230.2 686.7h0M231.6 715.8h0M238.6 694.9h0M238.7 719.7h0M231.2 715.8h0M238.2 689.4h0M239 696.6h0M230.2 714h0M233.7 737.7h0M230.1 719.3h0M231.4 718.2h0M231.7 690.5h0M231.4 728.9h0M238.2 748h0M230.1 721.9h0M237.4 688.9h0M230.2 730.6h0M239 686.3h0M237.3 721.1h0M230.3 690.6h0M231.7 690.9h0M232.1 719.5h0M239.1 714.2h0M231.6 691h0M238.7 690.3h0M237.6 687.4h0M238.9 696.9h0M231.9 687.5h0M239.2 692.7h0M235.4 744.7h0M230.6 695.4h0M230 739.1h0M238.9 735.8h0M230 725h0M232.6 720.5h0M230.4 692.9h0M238.8 691.2h0M230.8 693h0M237.3 690.5h0M237.4 717h0M237.3 724.2h0M237.4 719.2h0M238.4 717h0M238.4 691.6h0M231.5 717.3h0M238.5 691.6h0M231.6 683.4h0M237.5 721.7h0M232 689.9h0M237.9 692.9h0M239.3 711.4h0M231.2 720.3h0M238.5 718.5h0M232.7 733.5h0M232.5 719.5h0M238.5 692.8h0M232.3 686.2h0" stroke="#f18f81" stroke-width="1.4" stroke-linecap="square" fill="none" opacity=".85"/>
<path d="M234.7 680.7L234.78 682.2L234.79 682.3L235.13 683.8L235.65 685.4L236.18 687L236.72 688.5L237.23 690.1L237.73 691.7L238.2 693.2L238.63 694.8L239.01 696.4L239.34 697.9L239.62 699.5L239.83 701.1L239.99 702.6L240.08 704.2L240.1 705.5L240.1 705.8L240.02 707.3L239.84 708.9L239.55 710.5L239.17 712L238.71 713.6L238.19 715.2L237.63 716.7L237.05 718.3L236.47 719.8L235.92 721.4L235.42 723L235.02 724.5L234.83 726.1L234.83 727.1L234.83 727.7L234.83 729.2L234.83 730.8L234.83 732.4L234.83 733.9L234.83 735.5L234.83 737.1L234.83 738.6L234.83 740.2L234.83 741.8L234.83 743.3L234.83 744.9L234.83 746.5L234.79 748L234.7 749.6L234.51 748L234.47 746.5L234.47 744.9L234.47 743.3L234.47 741.8L234.47 740.2L234.47 738.6L234.47 737.1L234.47 735.5L234.47 733.9L234.47 732.4L234.47 730.8L234.47 729.2L234.47 727.7L234.47 727.1L234.47 726.1L234.28 724.5L233.88 723L233.38 721.4L232.83 719.8L232.25 718.3L231.67 716.7L231.11 715.2L230.59 713.6L230.13 712L229.75 710.5L229.46 708.9L229.28 707.3L229.2 705.8L229.2 705.5L229.22 704.2L229.31 702.6L229.47 701.1L229.68 699.5L229.96 697.9L230.29 696.4L230.67 694.8L231.1 693.2L231.57 691.7L232.07 690.1L232.58 688.5L233.12 687L233.65 685.4L234.17 683.8L234.51 682.3L234.52 682.2Z" fill="#e75642" stroke="#0a0a0a" stroke-width=".62" stroke-linejoin="round"/>
<path d="M235.4 696.8h0M235.8 696.5h0M231.1 701.5h0M232.5 699.5h0M232.1 700.1h0M233.6 708.5h0M230.9 710.4h0M233.8 713.5h0M236.5 712h0M234 692.7h0M232.7 710.2h0M235.5 712.4h0M232.4 703h0M236.4 705.5h0M233.5 706.4h0M235 714.3h0M236.9 702.5h0M238.3 706.3h0M234.1 703.1h0M232.3 707.5h0M235.3 703.8h0M236.2 707.7h0M230.8 708.8h0M233.4 713.3h0M237.9 696.5h0M233.3 708.5h0M233.7 699.9h0M236.9 706.2h0M234.2 716.9h0M232.8 696.4h0M231.8 698.3h0M231.2 709.8h0M236.7 714.5h0M237 707.9h0M234.3 691.9h0M236.4 716.1h0M232 702.8h0M233.2 701h0M232.3 712.7h0M233.9 699.4h0M233.8 708.1h0M236.2 709.8h0M232.3 703.7h0M234.1 711.5h0M232.9 694.5h0M234 713.8h0M231 707h0M237.6 696.5h0M235.8 699.3h0M233.3 704.2h0M235.5 714.5h0M233.6 693.5h0M234 705h0M238.5 708.7h0M233.2 710.9h0M235 698.5h0M231 708.6h0M230.8 700.3h0M233.1 701.8h0M235.9 711.5h0M233.8 711.2h0M232.9 710.3h0M237.5 710.5h0M234.9 690.3h0M232.6 697.9h0M238 699.2h0M236.2 691.3h0M235.4 698.1h0M235.3 712.4h0M235.1 708.8h0M234.8 711h0M231.3 702.7h0M236.4 700.5h0M238.3 704.6h0M237 699.7h0M233.1 690.9h0M234.2 707.2h0M231.5 701.6h0M235.2 711.7h0M236.4 703.8h0M234.2 700h0M235.2 697.8h0M234.7 719.2h0M237.8 700.9h0M238.7 708.9h0M231.6 710.5h0M236.9 709h0M231.3 707h0M231 701.6h0M232.3 705.6h0M236.8 693.4h0M230.9 708.2h0M235 715.4h0M233.2 710.1h0M237.8 709.1h0M237.8 698.5h0M231.5 710.8h0M231 703.9h0M234.3 705.4h0M230.8 706.7h0M237.6 697.6h0M234.2 710.2h0M234 711h0M231.9 709.4h0M231.1 699.6h0M234.6 704.6h0M237.6 697.2h0M232.5 696.1h0M235.1 717.6h0M232.9 704.4h0M232.1 714h0M230.9 706.4h0M232.8 699.1h0M230.8 702.5h0M231.1 701.4h0M234 707.4h0M236.6 700.2h0M232.4 709.7h0M232.5 704.5h0M232.5 706.8h0M231.9 695.8h0M236.2 706h0M233.2 693.8h0M231.5 700.4h0M236.7 699h0M237 702.6h0M231.8 711.6h0M237.5 700.4h0M233.4 706.6h0M231 706.8h0M234.2 695.2h0M233 695.7h0M231.4 701.7h0M232.6 707.2h0M234.6 695.3h0M233.1 693.2h0M233.3 709.1h0M236.9 707.7h0M237.3 704.7h0M232.4 696.3h0M236.8 697.6h0M232.5 711.3h0M235.7 708.4h0M236.6 705.7h0M234.2 705.4h0M236.4 699.3h0M230.6 705.4h0M231.1 703.9h0M235.7 712.1h0M231.2 710.9h0M234 707.6h0M233.8 694h0M234.8 710.9h0M232.4 708.6h0M232.2 696.6h0M236.9 703.5h0M238 698.4h0M238.4 700.3h0M233.5 693h0M233.5 702h0M231.8 697.9h0M232.3 704.6h0M234.4 701.3h0M230.5 704.2h0M235.9 698.9h0M235.9 706.3h0" stroke="#f18f81" stroke-width="1.4" stroke-linecap="square" fill="none" opacity=".55"/>
<path d="M231.35 706h6.6" stroke="#000" stroke-width=".95"/>
<ellipse cx="234.65" cy="706" rx="1.6" ry="1.2" fill="#000"/>
<path d="M246.7 717.2h0M254.6 738.6h0M253.8 709.7h0M254.5 736.3h0M248.1 714.8h0M252.2 759.5h0M249.6 739.3h0M254.5 711.9h0M254.9 735h0M254.9 737h0M247.8 717h0M248 736.7h0M247 742.4h0M255.8 720.9h0M255.4 717.4h0M247.2 719.7h0M255.7 720.9h0M249.1 709.9h0M248.3 736.7h0M255.3 740.5h0M255.6 732.7h0M252.5 742.9h0M247.8 711.5h0M254.7 716.5h0M255.2 735.3h0M246.6 735.3h0M254.5 716.4h0M253.3 749h0M248.6 738.4h0M254.3 757.3h0M246.9 716.4h0M247.5 740.5h0M251.9 756.3h0M251.5 753.5h0M247.8 710.5h0M251.4 709h0M249.9 708.4h0M253.7 738.9h0M249.6 739.7h0M247.8 745.9h0M255.5 717.7h0M255 734.2h0M254.8 750h0M249 740.1h0M247.4 718.3h0M254.9 739.6h0M247.9 737h0M255.4 707.7h0M252.6 712.4h0M255.5 738.3h0M248 736.8h0M247.7 718.3h0M249.4 713h0M253.2 742h0M248.9 739.3h0M248.4 753h0M255.4 734.7h0M254.5 717.8h0M255.3 740.6h0M247.5 718.7h0M254.2 709.9h0M247.9 739.8h0M254.5 754.6h0M254.4 736.8h0M246.8 719.6h0M255.7 748.3h0M255.3 720.9h0M247 735.6h0M247.6 713.7h0M250.5 761.1h0M246.7 734.2h0M252.9 755.5h0M253.7 740h0M253.1 713.1h0M247 717.4h0M248.8 714.5h0M255.7 732.5h0M255.4 742.4h0M247.8 718.3h0M247.2 719.5h0M246.7 716.5h0M252.9 712.9h0M253.5 712.7h0M246.5 758.6h0M253.6 714.9h0M254.9 709.1h0M253.8 714.8h0M246.8 718.2h0M247.1 738.2h0M250 757.5h0M253.5 741.9h0M255.5 718.4h0" stroke="#8fd5e6" stroke-width="1.4" stroke-linecap="square" fill="none" opacity=".85"/>
<path d="M251.1 707.3L251.26 708.5L251.31 709.1L251.37 709.8L251.85 711L252.37 712.2L252.88 713.4L253.39 714.7L253.89 715.9L254.36 717.1L254.8 718.3L255.21 719.6L255.57 720.8L255.88 722L256.14 723.3L256.35 724.5L256.49 725.7L256.58 726.9L256.6 728L256.6 728.2L256.53 729.4L256.35 730.6L256.07 731.8L255.7 733.1L255.25 734.3L254.74 735.5L254.19 736.8L253.61 738L253.04 739.2L252.49 740.4L251.99 741.7L251.57 742.9L251.33 744.1L251.33 745.1L251.33 745.3L251.33 746.6L251.33 747.8L251.33 749L251.33 750.3L251.33 751.5L251.33 752.7L251.33 753.9L251.33 755.2L251.33 756.4L251.33 757.6L251.33 758.8L251.26 760.1L251.1 761.3L251.04 760.1L250.97 758.8L250.97 757.6L250.97 756.4L250.97 755.2L250.97 753.9L250.97 752.7L250.97 751.5L250.97 750.3L250.97 749L250.97 747.8L250.97 746.6L250.97 745.3L250.97 745.1L250.97 744.1L250.73 742.9L250.31 741.7L249.81 740.4L249.26 739.2L248.69 738L248.11 736.8L247.56 735.5L247.05 734.3L246.6 733.1L246.23 731.8L245.95 730.6L245.77 729.4L245.7 728.2L245.7 728L245.72 726.9L245.81 725.7L245.95 724.5L246.16 723.3L246.42 722L246.73 720.8L247.09 719.6L247.5 718.3L247.94 717.1L248.41 715.9L248.91 714.7L249.42 713.4L249.93 712.2L250.45 711L250.93 709.8L250.99 709.1L251.04 708.5Z" fill="#58bfd8" stroke="#0a0a0a" stroke-width=".62" stroke-linejoin="round"/>
<path d="M249.9 720h0M254.5 721.7h0M251.2 724.9h0M250 730.8h0M250.9 733h0M248.1 730.4h0M252 719h0M254 723.7h0M250.7 720.1h0M252.3 730.8h0M249.1 719.2h0M251.7 719.4h0M254.8 727.5h0M254 728.1h0M250.7 722h0M246.9 727.4h0M248.5 728.6h0M253.8 728.8h0M249.9 730.4h0M255.3 726h0M250.2 724.8h0M247.9 722.8h0M250 716.3h0M249.9 729.9h0M249.7 725.9h0M254.1 723.5h0M249.9 735.3h0M248.5 720.5h0M250.2 734.2h0M250.6 735.5h0M253.9 730.4h0M252.2 721.1h0M248.1 734h0M247.9 724.3h0M251.7 733.5h0M252.9 723.7h0M250.5 722.9h0M254 726.2h0M247.6 731.3h0M247.8 725.6h0M253.1 729.4h0M250.4 720h0M249.7 728.9h0M249.8 729.4h0M253.3 728.1h0M249.9 718.6h0M250 725.3h0M251.8 733.4h0M251.1 720.8h0M250.4 721.2h0M250.1 731.7h0M251 739.2h0M252.9 736.5h0M254.7 730h0M249.8 717.8h0M254.1 730.9h0M250.8 733.9h0M248.4 732.9h0M251.3 733.6h0M250.9 734.6h0M249.8 724.1h0M249 734.7h0M247.6 728.3h0M250.1 720.9h0M254.1 720.6h0M249.1 732.3h0M253.2 728.5h0M252.3 716.2h0M252.9 734h0M247.5 723.1h0M251.6 717.3h0M254.5 727.7h0M249.6 727.5h0M252.5 735h0M254.2 726.6h0M253 722.7h0M254.6 725.6h0M249.6 733.2h0M253.6 730.6h0M250 721.2h0M252.7 719.2h0M247.6 723.6h0M251.3 735.7h0M254.6 724h0M251.5 719h0M250.5 716.3h0M250 718.8h0M253.9 726.2h0M252.8 734.5h0M251.8 718.6h0M248.8 730.2h0M247.2 725.9h0M249.9 724h0M251.5 718.9h0M249.7 737.1h0M249.4 735.4h0M252.6 729.1h0M253.5 734.2h0M252.6 717h0M251.4 727.3h0M247.1 730.5h0M254.9 729.4h0M253.4 733.7h0M251.8 726.9h0M248.7 726.1h0M254.2 722.1h0M252 731.4h0M252.1 722.3h0M247.8 721.7h0M251.6 731.4h0M250.2 716.4h0M252.1 715.7h0M254.9 728.6h0M253.5 734.4h0M254.3 727.5h0M252.7 715.8h0M254 731.3h0M253.7 728.4h0M251.2 726h0M251.8 724.9h0M251.7 726.7h0M252.6 731.3h0M253.5 731.3h0M247.9 725.6h0M248.1 731.4h0M252.8 723.5h0M250.1 730.8h0M250.5 727.7h0M249.2 731.8h0M254.3 729.4h0M247.6 730.9h0M251 724h0M249.4 724h0M249.3 728.5h0M247.2 724.3h0M254.4 730.8h0M255.1 727.1h0M251.1 734.9h0M249.7 717.1h0M255.2 730.5h0M248.7 727.7h0M254.2 727.6h0M249.3 726.2h0M254.8 731.8h0M250.4 736.2h0" stroke="#8fd5e6" stroke-width="1.4" stroke-linecap="square" fill="none" opacity=".55"/>
<path d="M247.85 728.4h6.6" stroke="#000" stroke-width=".95"/>
<ellipse cx="251.15" cy="728.4" rx="1.6" ry="1.2" fill="#000"/>
<path d="M265.5 730.5h0M265.2 729.5h0M265 732.8h0M257.8 717.5h0M265.9 710h0M266.7 707.8h0M258.7 756.5h0M259.4 746.6h0M263.7 758.9h0M258.7 758.9h0M266.9 726.7h0M263.9 758.9h0M266 731.9h0M258.8 714h0M265.6 711.2h0M265 730.6h0M265.1 711.5h0M261.2 736.9h0M257.7 732.5h0M257.8 715.8h0M264.7 736.2h0M266.5 731.4h0M264.8 742.3h0M266.2 713.1h0M259.1 713.5h0M263.8 709.4h0M257.9 716h0M257.7 730.1h0M265.9 730.3h0M266.3 728.8h0M265.2 752.5h0M266.7 712.5h0M259.5 712.2h0M261.3 733.4h0M259.3 707.1h0M258.6 738h0M259.9 733.2h0M258.6 729.5h0M258.2 732.7h0M265.8 709.2h0M257.7 733.2h0M265.1 754.5h0M265.1 710.7h0M266.8 708.2h0M266 747.1h0M265.3 747.6h0M266.8 715.1h0M259.2 711.5h0M258.5 713.2h0M260.4 759.8h0M260.7 708h0M266.2 730.5h0M264.2 739.1h0M259.5 705.7h0M258.1 711.3h0M258.7 728.7h0M266.8 727.4h0M258.2 733.2h0M266.1 727.9h0M266.6 727h0M263.8 733.2h0M260.4 742.1h0M262.2 734.7h0M262.1 738h0M264.8 741.8h0M261.3 751.7h0M257.7 717.1h0M266.6 716.9h0M260.3 733.8h0M265.9 730.8h0M262.8 750.3h0M260.7 744.4h0M265.6 711.3h0M264.8 735.2h0M266.3 731.9h0M258.4 713.8h0M266.1 715.6h0M259.3 733.1h0M266.8 755.6h0M258.5 753.6h0M257.6 730.1h0M266.4 734.1h0M265.8 759.4h0M265.8 739.6h0M258.4 711.2h0M266.8 711.1h0M261.7 747.6h0M259.5 731.2h0M260 755.2h0M258.1 711.5h0M266.6 755.7h0M265.5 712h0M264.7 746.7h0M266.9 758.7h0M264.2 743.4h0M266.8 730.4h0M259.1 732.3h0M265.6 745.1h0M265.4 740.4h0M265.8 728.7h0" stroke="#f18f81" stroke-width="1.4" stroke-linecap="square" fill="none" opacity=".85"/>
<path d="M262.2 703.7L262.37 705L262.43 705.9L262.43 706.3L262.96 707.6L263.55 708.9L264.15 710.2L264.74 711.6L265.31 712.9L265.83 714.2L266.31 715.5L266.72 716.8L267.07 718.1L267.35 719.4L267.55 720.7L267.67 722L267.7 723.2L267.7 723.3L267.57 724.6L267.22 726L266.69 727.3L266.01 728.6L265.24 729.9L264.42 731.2L263.63 732.5L262.94 733.8L262.43 735.1L262.43 736.1L262.43 736.4L262.43 737.7L262.43 739L262.43 740.4L262.43 741.7L262.43 743L262.43 744.3L262.43 745.6L262.43 746.9L262.43 748.2L262.43 749.5L262.43 750.8L262.43 752.1L262.43 753.4L262.43 754.8L262.43 756.1L262.43 757.4L262.43 758.7L262.37 760L262.2 761.3L262.13 760L262.07 758.7L262.07 757.4L262.07 756.1L262.07 754.8L262.07 753.4L262.07 752.1L262.07 750.8L262.07 749.5L262.07 748.2L262.07 746.9L262.07 745.6L262.07 744.3L262.07 743L262.07 741.7L262.07 740.4L262.07 739L262.07 737.7L262.07 736.4L262.07 736.1L262.07 735.1L261.56 733.8L260.87 732.5L260.08 731.2L259.26 729.9L258.49 728.6L257.81 727.3L257.28 726L256.93 724.6L256.8 723.3L256.8 723.2L256.83 722L256.95 720.7L257.15 719.4L257.43 718.1L257.78 716.8L258.19 715.5L258.67 714.2L259.19 712.9L259.76 711.6L260.35 710.2L260.95 708.9L261.54 707.6L262.07 706.3L262.07 705.9L262.13 705Z" fill="#e75642" stroke="#0a0a0a" stroke-width=".62" stroke-linejoin="round"/>
<path d="M260.5 715.6h0M260.3 723.6h0M258.4 721.9h0M261.3 725.4h0M262.9 716h0M261.2 721.9h0M265.9 726h0M259.8 720.9h0M260.3 719.3h0M263.6 723.8h0M261.3 726.2h0M258.9 719.3h0M263.2 713.6h0M262.2 724.5h0M259.5 723.1h0M263.6 722.6h0M263.2 724.8h0M265 726.5h0M265.1 726.8h0M262.9 724.8h0M261.2 711.3h0M266.4 724.3h0M262.5 710.1h0M261.3 724h0M262.1 728h0M262.1 728h0M265.2 725.3h0M263.3 716.1h0M265.1 728h0M260.7 716.1h0M262.7 714.1h0M265.1 723.6h0M258.8 724.6h0M260.9 725.7h0M264.6 726.7h0M262.5 728.9h0M261 716.2h0M264.9 721.7h0M259 720.9h0M260.4 719.3h0M265 715.3h0M260.3 719.3h0M258.6 724.1h0M264.4 718.1h0M263.5 720.9h0M259.8 721.2h0M263.6 723.8h0M263.3 716.1h0M261.4 724h0M260.4 717.8h0M263.7 714.3h0M264.4 721.8h0M262.8 726.3h0M265.9 719.1h0M260 724.9h0M258.2 724.3h0M260.7 715.1h0M265.5 720.1h0M260 728.5h0M265 725.6h0M266.1 720.7h0M262.6 722.5h0M263.8 716.8h0M262 721.6h0M258.4 724h0M260.3 720.2h0M261.4 724h0M264.1 725.7h0M261.4 730.6h0M264.3 728.5h0M263.6 720.6h0M260.1 721.3h0M263.4 725.2h0M264.3 723.1h0M262.7 714.4h0M263.1 731.6h0M264.2 728.5h0M259.2 715.9h0M264 718.2h0M262.7 713.5h0M261.9 732h0M263.4 715.9h0M260.2 716.4h0M263.7 720.7h0M258.6 719.5h0M262.9 729.7h0M261.4 721.8h0M262.2 730.8h0M259.5 723.2h0M258.5 718.7h0M259.1 721.7h0M262.3 728h0M262.2 723.5h0M258.2 723.1h0M263.7 713.4h0M261.7 729.2h0M263.7 722.8h0M262.4 724.4h0M265 722.7h0M265.5 720.3h0M261.1 730.6h0M263.3 723h0M262.2 712.7h0M258.4 723.4h0M265.1 716.1h0M260.6 718.3h0M262.9 719.6h0M260.1 716h0M261.2 718.8h0M260.8 717h0M263.3 719h0M262.3 712.5h0M264.8 721h0M260 726.5h0M264.3 715.1h0M263.9 727.6h0M259.1 721.3h0M259.5 727.1h0M262.8 711.5h0M263.4 711.3h0M259.4 723.9h0M263.3 728.8h0M265.3 722.8h0M261 722.7h0M262.5 714.9h0M263.8 712.5h0M260.7 719.8h0M262.1 715.9h0M258.4 725.7h0M260.4 724.2h0M261.9 729.9h0M261.5 730h0M264.2 721.3h0M264 729.1h0M265.8 722.7h0M260.6 722.9h0M262.5 717.5h0M264.6 720.8h0M260.7 726.5h0M261.8 724.7h0M264.8 723.4h0M264.7 719.3h0M263.1 711.8h0M266.1 724.2h0M259.6 722.6h0M266.4 722.1h0M259.4 720.6h0M261.3 724.9h0M260.1 713.6h0M261.9 711.1h0M262.8 731.3h0M264.2 728.4h0" stroke="#f18f81" stroke-width="1.4" stroke-linecap="square" fill="none" opacity=".55"/>
<path d="M258.95 723.4h6.6" stroke="#000" stroke-width=".95"/>
<ellipse cx="262.25" cy="723.4" rx="1.6" ry="1.2" fill="#000"/>
<path d="M283.3 674.3h0M280.7 679.5h0M283.2 680.2h0M282.2 763.7h0M274.2 711h0M281.6 676h0M283.2 711.6h0M281.5 724.5h0M277.4 737.3h0M274.5 711.6h0M283.1 720h0M281.1 679.2h0M281.5 674.1h0M275.9 683.2h0M283.2 727.5h0M274.2 713.3h0M274.4 685.1h0M275 680.9h0M281.2 722.2h0M274.1 725.1h0M282.6 725.2h0M280.5 747.7h0M278.2 753.8h0M281.3 679.9h0M283.4 680.5h0M274.4 720.7h0M282 716.9h0M283.4 713h0M274.1 725.7h0M278 770.9h0M275.4 750.3h0M282.4 717.9h0M281.9 718.8h0M278.9 750h0M280.5 732.5h0M283.2 710.2h0M283.3 685.2h0M276.8 723.5h0M274.4 681.2h0M279.6 745.9h0M281.3 722h0M276.5 725.7h0M277 762.3h0M275.2 720.9h0M274.9 766.3h0M274.6 725.7h0M281.5 729.5h0M280.6 729.2h0M283.1 688.9h0M277.5 770.6h0M282.7 686.1h0M281.7 683.3h0M280.7 750.5h0M280.9 738.1h0M274.9 682.7h0M283.1 683.8h0M281.7 738.2h0M277 675.7h0M282 679.2h0M275.7 722.7h0M283 724h0M274.8 719.6h0M280.1 677.2h0M274.3 686.3h0M281.9 720.3h0M277.3 755.1h0M274.9 680.4h0M283.2 688.8h0M283.1 757.8h0M283 683.3h0M283.4 727.8h0M283.2 685.4h0M278.4 672.4h0M275.5 728.2h0M281.9 677.6h0M283.4 770.4h0M283 751h0M274.7 760h0M280.4 725.3h0M282.7 682.3h0M276.7 725.8h0M276.2 672.7h0M281.7 718.7h0M275 714.8h0M282.9 713.9h0M283.1 683.9h0M275.6 677h0" stroke="#8fd5e6" stroke-width="1.4" stroke-linecap="square" fill="none" opacity=".85"/>
<path d="M278.8 669.6L278.91 671.4L278.93 671.9L279.45 674.3L280.09 676.6L280.73 678.9L281.36 681.2L281.95 683.6L282.5 685.9L282.98 688.2L283.4 690.6L283.73 692.9L283.98 695.2L284.14 697.6L284.2 699.9L284.2 700.2L284.17 702.2L284.04 704.5L283.84 706.9L283.55 709.2L283.19 711.5L282.77 713.9L282.3 716.2L281.8 718.5L281.28 720.9L280.76 723.2L280.25 725.5L279.78 727.8L279.37 730.2L279.03 732.5L278.93 734.8L278.93 736.1L278.93 737.2L278.93 739.5L278.93 741.8L278.93 744.1L278.93 746.5L278.93 748.8L278.93 751.1L278.93 753.5L278.93 755.8L278.93 758.1L278.93 760.5L278.93 762.8L278.93 765.1L278.93 767.4L278.93 769.8L278.8 772.1L278.57 769.8L278.57 767.4L278.57 765.1L278.57 762.8L278.57 760.5L278.57 758.1L278.57 755.8L278.57 753.5L278.57 751.1L278.57 748.8L278.57 746.5L278.57 744.1L278.57 741.8L278.57 739.5L278.57 737.2L278.57 736.1L278.57 734.8L278.47 732.5L278.13 730.2L277.72 727.8L277.25 725.5L276.74 723.2L276.22 720.9L275.7 718.5L275.2 716.2L274.73 713.9L274.31 711.5L273.95 709.2L273.66 706.9L273.46 704.5L273.33 702.2L273.3 700.2L273.3 699.9L273.36 697.6L273.52 695.2L273.77 692.9L274.1 690.6L274.52 688.2L275 685.9L275.55 683.6L276.14 681.2L276.77 678.9L277.41 676.6L278.05 674.3L278.57 671.9L278.59 671.4Z" fill="#58bfd8" stroke="#0a0a0a" stroke-width=".62" stroke-linejoin="round"/>
<path d="M282.1 690.5h0M277 682.4h0M281.9 698.4h0M276 687.5h0M278.9 712.7h0M275.9 693.4h0M278.8 709.6h0M279.3 678.5h0M280.4 708.5h0M279 707.4h0M279.7 689h0M277 716.1h0M282.1 690h0M275.7 694.8h0M276.9 696.2h0M279.6 709.7h0M277.5 693.1h0M279 696.6h0M281 712.1h0M277.9 690.3h0M278.4 688.3h0M278.6 684.4h0M280.6 688.8h0M277.5 695.1h0M281.6 696.2h0M275.9 692.5h0M281.5 711.3h0M279.7 700.2h0M275.1 706.1h0M278.5 714.3h0M280 716.1h0M276.7 693h0M278.6 708h0M277.7 683.9h0M281.1 713h0M277.2 700.7h0M279.4 710.2h0M275.5 693.6h0M281.7 708.5h0M281.2 699.3h0M278.1 688.2h0M280.1 692.4h0M277.6 702.8h0M279.5 685.4h0M282 707.5h0M279.4 712.3h0M280.7 702.1h0M278.8 710.1h0M277.7 683.4h0M279.4 704.6h0M280.2 709.1h0M280.7 698.7h0M280.6 701h0M277.1 705.7h0M274.7 699.2h0M281.4 694.8h0M280.1 707h0M278.4 709.3h0M275.2 697.4h0M282.5 695.7h0M281.5 711h0M279.1 711h0M281.8 693.4h0M276.5 713.5h0M280.1 720.9h0M281.5 699.6h0M275.3 694.9h0M275.1 704.6h0M282.9 700.4h0M279.8 693.9h0M282.2 707.3h0M280.6 683.1h0M279.1 685.3h0M277.8 710.6h0M277 685.2h0M276.8 694.7h0M280.3 709.5h0M282 694.6h0M280.3 697.5h0M277.1 709.1h0M278.6 706.7h0M277.9 701.6h0M279.5 710.3h0M277.7 707.7h0M282 693.9h0M276.9 691.1h0M280.4 698.3h0M275.4 698.3h0M275.5 709.6h0M279.9 695h0M277.5 680.9h0M279.9 709.2h0M280.7 704.7h0M274.7 696.6h0M281.4 711.7h0M281 700.6h0M276.1 698.1h0M280.4 695.4h0M281.9 691.6h0M280.4 710h0M274.6 702.3h0M276.7 712.2h0M278.5 706.1h0M277.7 684.3h0M280.6 694h0M278.7 716.7h0M278.4 709.5h0M281.1 703.4h0M276.8 684.6h0M280.5 705.8h0M281.8 699.4h0M275.1 703.5h0M278.1 711.3h0M282 706.4h0M274.4 698.5h0M277 695.1h0M282.5 704.6h0M275.5 710h0M278.2 707h0M279.4 679.3h0M278.9 714.3h0M279.5 720.2h0M275.6 709h0M278.1 717.4h0M280.5 708.4h0M279.8 715.7h0M280.4 719.7h0M276.3 702.6h0M275.1 699.4h0M277.8 720.3h0M278.5 711.7h0M276.8 691.6h0M279.7 698.2h0M276.1 695.1h0M281.4 690.5h0M281.2 687.4h0M281.4 689.5h0M279.8 700.9h0M276.9 711.2h0M275.9 712.2h0M280.5 702.4h0M280.9 712.7h0M275.1 695.9h0M275.4 707h0M276.6 711.7h0M282.8 699.4h0M281.9 708.7h0M278.7 696.9h0M277.8 689.4h0M275.7 711.2h0M278.8 697.4h0M281.1 709.4h0M276 702.9h0M279.2 687.9h0M280.5 718.5h0M277.7 714.7h0M281.8 699.3h0" stroke="#8fd5e6" stroke-width="1.4" stroke-linecap="square" fill="none" opacity=".55"/>
<path d="M275.45 704.9h6.6" stroke="#000" stroke-width=".95"/>
<ellipse cx="278.75" cy="704.9" rx="1.6" ry="1.2" fill="#000"/>
<path d="M290.6 762h0M293.7 742.6h0M286.7 720.4h0M294 674.2h0M286.3 702.2h0M287 713.2h0M287.8 659.1h0M294.3 677.7h0M287.8 708.4h0M294.1 707.9h0M293.8 707.2h0M288.7 760.8h0M294.5 675.5h0M294.5 667.8h0M294.5 707.3h0M286.6 670.3h0M285.4 670.1h0M287.7 662.2h0M287.8 660.8h0M286.6 740.4h0M286.3 746.9h0M285.4 672.7h0M287.9 753.9h0M287.3 766h0M285.6 731.9h0M286.5 711h0M294 758.2h0M294.2 667.9h0M285.3 668.6h0M292 744.3h0M285.3 667.6h0M293.5 738h0M292.4 708.3h0M288.9 766.5h0M294.5 708.7h0M286.7 669.9h0M287.2 663.6h0M285.4 752.4h0M285.8 675.4h0M293.7 667.2h0M288.4 735.5h0M291.6 750.9h0M286.8 663.7h0M293.4 665.9h0M294 669.1h0M286.1 707.5h0M286.7 716h0M285.9 671.4h0M286 707.9h0M293.8 740.4h0M288.2 722.6h0M291.1 654.9h0M286.4 671.4h0M293.1 746.9h0M287.1 705.7h0M294.4 678.6h0M294.5 697h0M285.6 674.2h0M291.6 664.4h0M292.3 665h0M294.3 673h0M286.1 670.9h0M293.8 652.7h0M293.9 657h0M285.5 758.5h0M294.1 674.4h0M292.3 667.1h0M286.2 664.1h0M294.3 741.8h0M285.9 672.1h0M289.9 735.6h0M293.8 737.2h0M293 727.9h0M289.1 765.7h0M286.6 657.7h0M290.1 742.7h0M290.9 711.5h0M291.8 731.5h0M291.9 664.7h0" stroke="#f18f81" stroke-width="1.4" stroke-linecap="square" fill="none" opacity=".85"/>
<path d="M289.9 650.7L290.03 653.5L290.03 654.3L290.2 656.3L290.78 659L291.38 661.8L291.97 664.6L292.55 667.4L293.1 670.2L293.6 672.9L294.06 675.7L294.45 678.5L294.78 681.3L295.03 684.1L295.2 686.8L295.29 689.6L295.3 691.2L295.28 692.4L295.07 695.2L294.65 698L294.04 700.7L293.31 703.5L292.49 706.3L291.67 709.1L290.9 711.9L290.27 714.6L290.03 717.4L290.03 718.1L290.03 720.2L290.03 723L290.03 725.7L290.03 728.5L290.03 731.3L290.03 734.1L290.03 736.9L290.03 739.6L290.03 742.4L290.03 745.2L290.03 748L290.03 750.8L290.03 753.5L290.03 756.3L290.03 759.1L290.03 761.9L290.03 764.7L290.03 767.4L290.03 770.2L289.9 773L289.67 770.2L289.67 767.4L289.67 764.7L289.67 761.9L289.67 759.1L289.67 756.3L289.67 753.5L289.67 750.8L289.67 748L289.67 745.2L289.67 742.4L289.67 739.6L289.67 736.9L289.67 734.1L289.67 731.3L289.67 728.5L289.67 725.7L289.67 723L289.67 720.2L289.67 718.1L289.67 717.4L289.43 714.6L288.8 711.9L288.03 709.1L287.21 706.3L286.39 703.5L285.66 700.7L285.05 698L284.63 695.2L284.42 692.4L284.4 691.2L284.41 689.6L284.5 686.8L284.67 684.1L284.92 681.3L285.25 678.5L285.64 675.7L286.1 672.9L286.6 670.2L287.15 667.4L287.73 664.6L288.32 661.8L288.92 659L289.5 656.3L289.67 654.3L289.67 653.5Z" fill="#e75642" stroke="#0a0a0a" stroke-width=".62" stroke-linejoin="round"/>
<path d="M291.6 679h0M291.4 693h0M285.9 684.7h0M288.5 668.4h0M289.7 699.9h0M286 693.1h0M289.7 695.1h0M287.1 691.2h0M286.9 679.2h0M293.8 687.5h0M289.1 690.7h0M293 696.8h0M292.5 674.7h0M286.6 682.4h0M286.3 686h0M290.3 686.7h0M290.9 695.8h0M287.2 697.2h0M290.7 692.8h0M292.3 695.7h0M286.5 680.4h0M291.1 677.7h0M291.9 675.4h0M289 669.6h0M289.1 699.8h0M285.7 691.4h0M288.2 698.1h0M287.4 677h0M291.3 679.1h0M289.4 706.5h0M290.4 697.3h0M292.4 690.6h0M291 667.9h0M287.4 679.1h0M290.6 699h0M292.1 684.1h0M289.8 691.6h0M289.1 696.5h0M289.9 679.8h0M292.9 694.1h0M294 689.8h0M291.7 703.6h0M289.6 686.9h0M291.8 669.3h0M291.4 688.9h0M288.1 671h0M287.9 691.4h0M293.3 694.2h0M293.4 691h0M290.7 695.2h0M288.3 693.6h0M287.2 676h0M292.8 689.2h0M290.4 663.3h0M286.8 679.7h0M287.6 683.7h0M286.5 688.9h0M288.5 680.6h0M291.7 690.1h0M286.3 696h0M289.9 685.3h0M291.4 675.4h0M290.7 689.2h0M287.5 702.8h0M286.3 684.8h0M291.8 679.8h0M290 672.7h0M289.8 698.6h0M288.6 694.5h0M289.8 692h0M289.2 669.5h0M291.8 687.4h0M289.9 669.3h0M293.6 694.1h0M290.5 665h0M286.4 691.3h0M287.1 689.6h0M291.4 694.1h0M289.2 663.2h0M288.8 668.8h0M289.1 677.3h0M288.6 686.6h0M289.5 687h0M288.1 686.2h0M288 692.8h0M289.7 699.2h0M291.1 689.9h0M292.9 692.1h0M290 673.6h0M287 693.4h0M290.6 683.1h0M288.1 689.4h0M290.3 668.6h0M286.6 689.9h0M292.2 686.5h0M292.7 693.3h0M287.3 694.4h0M290.9 687.8h0M292 674.4h0M287.1 697.7h0M292.9 696.4h0M287.6 697.5h0M287.9 678.2h0M287.9 691.3h0M290.3 692.9h0M293 698.5h0M291.3 672.4h0M289.6 663.6h0M292.7 693.9h0M287.3 688.7h0M287.8 704h0M293 683.9h0M290.8 696.6h0M290.2 694.3h0M288.3 691.3h0M287.6 702.6h0M291.7 676.8h0M292.9 697.5h0M287.5 677.7h0M289.8 667.3h0M293.7 694.5h0M289.8 677.7h0M287.4 675.6h0M292.8 692.5h0M288 679.7h0M286.9 679.7h0M287.4 690.9h0M287.4 686.2h0M285.8 684.6h0M293.5 680.1h0M288.4 701.4h0M289.9 686.8h0M288.7 702.7h0M290.3 676.2h0M287.2 686.5h0M288.2 703.1h0M289.4 707.9h0M291.6 674.6h0M288.7 682.4h0M292.3 695.3h0M288.5 668.1h0M291 697.1h0M287.7 682h0M289.5 703.5h0M290.1 696.8h0M289.6 693.7h0M292.7 695.1h0M290.2 675.6h0M291.4 689.2h0M288.1 681.5h0M292.9 688.7h0M287.1 685h0M287.3 675.2h0" stroke="#f18f81" stroke-width="1.4" stroke-linecap="square" fill="none" opacity=".55"/>
<path d="M286.55 691.4h6.6" stroke="#000" stroke-width=".95"/>
<ellipse cx="289.85" cy="691.4" rx="1.6" ry="1.2" fill="#000"/>
<path d="M223.55 679.9v-2.4h11.1v2.4" fill="none" stroke="#111" stroke-width=".85"/>
<text x="229.1" y="678.1" font-size="5.7" text-anchor="middle">***</text>
<path d="M251.15 702.6v-2.4h11.1v2.4" fill="none" stroke="#111" stroke-width=".85"/>
<text x="256.7" y="700.8" font-size="5.7" text-anchor="middle">***</text>
<path d="M212.4 642.9V775.8H300.7" fill="none" stroke="#333" stroke-width=".8"/>
<text x="207.7" y="675.5" font-size="8.8" text-anchor="end">4000</text>
<text x="207.7" y="708.45" font-size="8.8" text-anchor="end">2000</text>
<text x="207.7" y="741.4" font-size="8.8" text-anchor="end">0</text>
<text x="207.7" y="774.35" font-size="8.8" text-anchor="end">-2000</text>
<path d="M212.4 672.4h-3.2M212.4 705.35h-3.2M212.4 738.3h-3.2M212.4 771.25h-3.2M229.1 775.8v3.2M256.7 775.8v3.2M284.3 775.8v3.2" fill="none" stroke="#333" stroke-width=".8"/>
<text transform="translate(230.3 787.4) rotate(-15)" font-size="8.95" text-anchor="end">ImmuneScore</text>
<text transform="translate(257.9 787.4) rotate(-15)" font-size="8.95" text-anchor="end">StromalScore</text>
<text transform="translate(285.5 787.4) rotate(-15)" font-size="8.95" text-anchor="end">ESTIMATEScore</text>
<text transform="translate(179.4 709.35) rotate(-90)" font-size="9.7" text-anchor="middle">Enrichment score</text>
<text x="304" y="703.8" font-size="8.6">TMC6</text>
<rect x="303.9" y="706.3" width="6.1" height="8" fill="#9bdbe9" stroke="#333" stroke-width=".7"/>
<circle cx="306.95" cy="710.3" r=".9" fill="#58bfd8" opacity=".75"/>
<text x="313.8" y="713.4" font-size="8.6">Low</text>
<rect x="303.9" y="714.3" width="6.1" height="8" fill="#f29a8f" stroke="#333" stroke-width=".7"/>
<circle cx="306.95" cy="718.3" r=".9" fill="#e75642" opacity=".75"/>
<text x="313.8" y="721.4" font-size="8.6">High</text>
</g>
<g id="pO">
<text x="361.3" y="630" font-size="20.2">O</text>
<path d="M403.7 697.4h0M395.2 725.5h0M402.5 725.2h0M395.6 694.1h0M402.9 691.2h0M401.2 685.1h0M402.6 721.7h0M395.3 718.4h0M402 733.9h0M400.8 727.6h0M399.9 744.8h0M403.5 696.1h0M402.7 692.7h0M395.3 744.7h0M402.7 724.3h0M402.7 685.9h0M401.8 684.3h0M399.4 745.3h0M395.5 685.2h0M403.9 693.8h0M395.7 696.1h0M400.8 686.9h0M401.8 732.8h0M398.9 684.8h0M403.2 719.7h0M403.3 721.1h0M403.7 687h0M403.8 731.1h0M401.7 689.6h0M403.1 728.8h0M404 715.7h0M403.6 688.9h0M403.7 716.6h0M395.9 686.7h0M396.8 686h0M400.7 743.6h0M403.6 718.9h0M403 725.9h0M401.6 726.2h0M403.4 685.4h0M402.4 687.5h0M399.5 733.3h0M398.4 729.4h0M402.9 730.4h0M403.7 697.7h0M395.5 722.7h0M395.5 718.1h0M404 682.6h0M403.1 730h0M403.4 726.3h0M403.5 721.3h0M395 697.8h0M395.2 694.3h0M396.1 727h0M395.6 696.1h0M403.1 693.3h0M402.9 691h0M395.5 690.7h0M400.9 686.8h0M395.3 695.3h0M396.1 723.6h0M402.4 740.7h0M403.8 720.7h0M394.8 692.1h0M397.5 686.8h0M401.5 743.5h0M396.4 724.5h0M394.8 686.6h0M399.9 683.4h0M402.8 691.6h0" stroke="#8fd5e6" stroke-width="1.4" stroke-linecap="square" fill="none" opacity=".85"/>
<path d="M399.4 680.7L399.55 681.8L399.59 682.3L399.98 683.8L400.43 685.4L400.9 686.9L401.37 688.5L401.83 690L402.27 691.6L402.7 693.1L403.1 694.7L403.47 696.2L403.8 697.8L404.09 699.4L404.35 700.9L404.56 702.5L404.72 704L404.83 705.6L404.89 707.1L404.9 708.2L404.9 708.7L404.84 710.2L404.72 711.8L404.54 713.3L404.3 714.9L404.01 716.5L403.66 718L403.28 719.6L402.87 721.1L402.43 722.7L401.98 724.2L401.54 725.8L401.1 727.3L400.68 728.9L400.3 730.4L399.96 732L399.69 733.6L399.63 735.1L399.63 736.1L399.63 736.7L399.63 738.2L399.63 739.8L399.63 741.3L399.63 742.9L399.63 744.4L399.63 746L399.59 747.5L399.4 749.1L399.31 747.5L399.27 746L399.27 744.4L399.27 742.9L399.27 741.3L399.27 739.8L399.27 738.2L399.27 736.7L399.27 736.1L399.27 735.1L399.21 733.6L398.94 732L398.6 730.4L398.22 728.9L397.8 727.3L397.36 725.8L396.92 724.2L396.47 722.7L396.03 721.1L395.62 719.6L395.24 718L394.89 716.5L394.6 714.9L394.36 713.3L394.18 711.8L394.06 710.2L394 708.7L394 708.2L394.01 707.1L394.07 705.6L394.18 704L394.34 702.5L394.55 700.9L394.81 699.4L395.1 697.8L395.43 696.2L395.8 694.7L396.2 693.1L396.63 691.6L397.07 690L397.53 688.5L398 686.9L398.47 685.4L398.92 683.8L399.31 682.3L399.35 681.8Z" fill="#58bfd8" stroke="#0a0a0a" stroke-width=".62" stroke-linejoin="round"/>
<path d="M397.8 710.4h0M400 720.2h0M401.9 700.8h0M396.2 707.2h0M399.4 705.4h0M402.4 717.6h0M397 699.7h0M401.3 712.9h0M396.9 704h0M395.5 705.9h0M396.1 709.2h0M397.8 706.2h0M398.6 695.3h0M401.7 699.2h0M396.4 703.6h0M398.6 724.5h0M402 712.5h0M396.2 711.3h0M396.8 710.5h0M397.4 709.2h0M401.4 697.2h0M396.3 714.5h0M400.9 709.9h0M400.6 711.6h0M401.4 712.2h0M399.8 719.8h0M401.7 703h0M398.2 724.7h0M399.2 705.7h0M400.6 691.6h0M402.9 712.7h0M401 691.5h0M398 714.3h0M402.6 706.4h0M401.2 702.3h0M400.8 706.6h0M397.4 693h0M400.6 713.8h0M398.8 690.4h0M400.5 716.6h0M399.7 712h0M396.8 719.2h0M399.4 718.1h0M400.1 692.2h0M396.6 716.6h0M400.4 707h0M398.5 692.4h0M401.9 705.4h0M399.4 709.1h0M401.6 700.7h0M401.7 706.6h0M398 703.6h0M402.5 714.9h0M395.7 703.1h0M400.1 710.4h0M398.2 714.1h0M397 703.2h0M399.2 696.3h0M402.4 699.2h0M398.8 726.3h0M401.5 718h0M399.8 715h0M395.5 710.5h0M396.8 696.5h0M402.6 701.4h0M398.7 716h0M398.4 692.4h0M398.2 695.9h0M397.3 719.5h0M398.5 715.8h0M400.6 704.6h0M398 716.8h0M400.2 706.4h0M395.6 710.2h0M400.7 724.6h0M396.2 705.8h0M399.9 708.8h0M401.5 705.4h0M400.9 709.2h0M402.1 698.4h0M401.1 706.1h0M397.3 712h0M396.1 711.9h0M399.5 716.5h0M397.9 715.5h0M397 708.8h0M400.7 696.6h0M399.6 701.5h0M400.1 706.6h0M402.6 713.5h0M400.8 710.9h0M398.6 700.3h0M400.6 701h0M401.5 710.7h0M396.2 706.5h0M398.8 709.6h0M396.3 698.3h0M397.6 709.5h0M398.4 714.7h0M399.4 702.8h0M402.8 704.5h0M395.4 710.6h0M401.4 709.8h0M396.7 704.5h0M399.5 711.2h0M396.2 711.9h0M401.7 713h0M400.2 718.1h0M397.5 709.3h0M402.2 718.7h0M398.3 704h0M402.1 713.1h0M402.1 698.7h0M399.6 715.1h0M396.6 707.4h0M397 706.1h0M399.8 708.1h0M399.2 701.1h0M397 708.4h0M397.8 712.4h0M401.1 700.5h0M402.4 705.6h0M401.2 694.7h0M396.6 707.8h0M401 714.4h0M403.1 711.2h0M402.4 703.6h0M401.7 714.5h0M398.1 706.5h0M400.7 719h0M399.9 707.2h0M398.7 703.5h0M399.4 707.5h0M398 694.7h0M395.9 705.9h0M402.3 699.6h0M401.5 694.3h0M396.5 709.2h0M398.1 707.2h0M397.5 715.4h0M399.4 719.2h0M402.6 711.9h0M399.5 690.7h0M398.9 712.2h0M397.4 701h0M397 712.1h0M401.1 721.3h0M403.5 703h0M396.6 704.8h0M398.8 693.1h0M403.7 708.5h0M402.8 698.6h0M400.6 691.3h0M398.8 712.7h0M395.7 701.1h0M401 709.4h0M395.9 704.7h0M398 703.6h0M400.2 702h0M402.4 699.1h0M400.6 720.5h0" stroke="#8fd5e6" stroke-width="1.4" stroke-linecap="square" fill="none" opacity=".55"/>
<path d="M396.15 709.4h6.6" stroke="#000" stroke-width=".95"/>
<ellipse cx="399.45" cy="709.4" rx="1.6" ry="1.2" fill="#000"/>
<path d="M407.8 697.3h0M407.5 693.8h0M414.1 720.7h0M407.9 698.3h0M407.8 698.5h0M414.1 742.7h0M406.4 700.4h0M413.7 749.4h0M406.2 737.1h0M406.7 721.6h0M409.7 734.8h0M415.2 738.9h0M412.3 744h0M413.2 748.8h0M405.9 723.5h0M406 737.7h0M407.6 698.4h0M415.2 705.6h0M407.1 722.9h0M413.9 720h0M414.3 730.4h0M411.8 726h0M411.3 739.7h0M407.2 724h0M406.8 730.9h0M406.7 718.8h0M414.7 700.1h0M414.6 693.7h0M406.2 719.6h0M406 719.9h0M410.9 729.9h0M407.5 695.1h0M415 720.6h0M411 726.9h0M413.9 694h0M415.1 716.8h0M414.5 720.7h0M407.6 720.3h0M408 740.9h0M414.4 721.3h0M412 729.7h0M412.7 722.1h0M414.1 725.4h0M413.9 699.6h0M406.9 733h0M412.3 738.5h0M413.9 698.8h0M407 746.1h0M409 739.9h0M414.6 696.9h0M406.1 744h0M410.1 745.1h0M407.5 722.3h0M407.9 732.6h0M415 718.1h0M409.8 727.6h0M411.7 746.5h0M412.3 728.1h0M414.9 703.9h0M413.3 698.8h0M414.3 699.3h0M408.6 748h0M413.5 720.2h0M407.9 695.8h0M411.3 690.6h0M415 699.3h0M406.5 718h0M406.1 691.5h0M411.9 741.4h0M407.6 695.3h0M413.1 734.3h0M413.9 697.4h0M407.4 695.4h0M414.4 718.6h0M410.1 690.4h0M406.3 717.3h0M407.2 700.6h0M414.3 740.8h0M408 695.7h0M412 695.6h0M406.8 699.5h0M406 728.1h0M406.6 698.5h0M414.4 735.4h0M414.8 702.8h0M406.1 720.1h0M414.1 696.2h0M413.5 697.7h0M406.1 702.3h0M414.8 718.1h0" stroke="#f18f81" stroke-width="1.4" stroke-linecap="square" fill="none" opacity=".85"/>
<path d="M410.6 689.7L410.67 691.1L410.71 691.5L410.85 692.4L411.36 693.8L411.88 695.1L412.42 696.5L412.94 697.9L413.45 699.2L413.93 700.6L414.37 702L414.77 703.3L415.12 704.7L415.42 706L415.66 707.4L415.84 708.8L415.95 710.1L416 711.5L416 711.8L415.96 712.8L415.79 714.2L415.49 715.6L415.08 716.9L414.58 718.3L414 719.7L413.37 721L412.73 722.4L412.11 723.7L411.53 725.1L411.04 726.5L410.73 727.8L410.73 728.9L410.73 729.2L410.73 730.5L410.73 731.9L410.73 733.3L410.73 734.6L410.73 736L410.73 737.3L410.73 738.7L410.73 740.1L410.73 741.4L410.73 742.8L410.73 744.2L410.73 745.5L410.73 746.9L410.67 748.2L410.6 749.6L410.43 748.2L410.37 746.9L410.37 745.5L410.37 744.2L410.37 742.8L410.37 741.4L410.37 740.1L410.37 738.7L410.37 737.3L410.37 736L410.37 734.6L410.37 733.3L410.37 731.9L410.37 730.5L410.37 729.2L410.37 728.9L410.37 727.8L410.06 726.5L409.57 725.1L408.99 723.7L408.37 722.4L407.73 721L407.1 719.7L406.52 718.3L406.02 716.9L405.61 715.6L405.31 714.2L405.14 712.8L405.1 711.8L405.1 711.5L405.15 710.1L405.26 708.8L405.44 707.4L405.68 706L405.98 704.7L406.33 703.3L406.73 702L407.17 700.6L407.65 699.2L408.16 697.9L408.68 696.5L409.22 695.1L409.74 693.8L410.25 692.4L410.39 691.5L410.43 691.1Z" fill="#e75642" stroke="#0a0a0a" stroke-width=".62" stroke-linejoin="round"/>
<path d="M407.1 708.7h0M413.3 703.4h0M408.1 706.9h0M411.6 699.6h0M407.7 708.5h0M411.3 700.9h0M410.1 715.4h0M414.6 711h0M410.7 707.7h0M410 721h0M412.6 701.5h0M413.6 704h0M413.5 704.9h0M410.4 709.9h0M409.5 716.6h0M410.6 712.2h0M412.2 709.2h0M412.4 719.1h0M406.9 714.1h0M407.5 717.7h0M413.3 713h0M407.5 712.9h0M414.9 711.1h0M412.7 702.1h0M406.4 713.5h0M410.8 705.8h0M411.4 703.5h0M408.7 706.7h0M409 699.1h0M410.8 699.8h0M412.1 704.7h0M409.8 713.3h0M413.2 718.3h0M412.8 718.2h0M409 701.2h0M413.8 710.5h0M410.2 714.2h0M410 709.1h0M412.5 712.7h0M408.6 713.9h0M412 717.8h0M411.8 706.5h0M410.8 697.1h0M406.5 708.3h0M413.3 712.7h0M410.5 711h0M409.4 711.8h0M410.7 716.9h0M409.7 715.1h0M409.2 720.4h0M413.4 714h0M408.4 712.5h0M409.8 703h0M408 701.8h0M412.4 707.2h0M406.5 713.5h0M413.9 712h0M411.1 713.6h0M411.8 722h0M408.4 702.1h0M407.1 707.4h0M408.6 716.5h0M413 709.6h0M408.6 700.3h0M407.9 713.2h0M406.5 708.8h0M406.4 709.1h0M413.9 707.8h0M412.4 714.6h0M409.3 703.7h0M410.3 705h0M409.3 716.8h0M408.6 716.7h0M412.3 701.1h0M413.7 714.5h0M407.3 714.1h0M408.4 714.3h0M408.7 713.4h0M409.4 713.7h0M411.9 719.5h0M409.5 705.9h0M411.7 699.9h0M410.2 718.1h0M407.8 711.6h0M412.9 712.7h0M407.8 715.8h0M407.7 717.1h0M410.4 708.7h0M408 713.3h0M412.9 701h0M408.2 707.1h0M407.9 711.6h0M413.6 705.8h0M414.2 713.7h0M406.5 708.5h0M408.6 718.3h0M414.5 708h0M410.4 705.4h0M412.6 717.5h0M412.4 712.1h0M408.7 710h0M413.6 704.1h0M411.1 706.3h0M409.3 704.8h0M411.6 715.1h0M412.2 710.3h0M408.9 706.7h0M409.2 702.7h0M408.1 703.2h0M412.1 705.5h0M408.7 705.3h0M410.9 709.8h0M409.8 697.2h0M412.4 715.3h0M413.4 704.3h0M410.5 708.6h0M408.4 713h0M407.6 711.3h0M411.3 699.7h0M414.2 706.5h0M410.2 704.3h0M410.8 701.5h0M410.7 710.4h0M410.7 705.1h0M408.1 708.8h0M410.7 722.3h0M412.3 717.6h0M412.9 704.9h0M411.6 721.6h0M413.8 715.5h0M411 697.5h0M412.5 714.5h0M411.2 711.2h0M412.2 710.1h0M410.9 712.4h0M410.5 714.7h0M407.8 708.1h0M411.5 714.1h0M411.4 702.4h0M412.5 700.4h0M412.9 705.1h0M412.2 716.1h0M408.7 720.3h0M409.2 710.1h0M414.8 711.9h0M412.3 718.9h0M406.9 708.5h0M412.5 711.7h0M408.3 702.9h0M413.7 714.9h0M413.5 712.8h0M408.7 707.3h0M413.2 716.3h0M411.5 719.8h0" stroke="#f18f81" stroke-width="1.4" stroke-linecap="square" fill="none" opacity=".55"/>
<path d="M407.25 711.5h6.6" stroke="#000" stroke-width=".95"/>
<ellipse cx="410.55" cy="711.5" rx="1.6" ry="1.2" fill="#000"/>
<path d="M423.7 741.1h0M425.3 711h0M422.4 707.4h0M429.7 709.6h0M429.4 713.2h0M423 714.4h0M423.7 715.6h0M431.7 721.1h0M424.3 749.9h0M428.4 708.3h0M431.3 714h0M422.5 737.2h0M422.7 752.8h0M423.7 709.6h0M422.5 720.4h0M426.1 753.2h0M423.9 715.3h0M430.3 714.5h0M431.3 734.1h0M423.9 711.7h0M422.7 716.4h0M431.7 721.2h0M424.5 759.9h0M428.5 752.1h0M423 742.7h0M426.8 752.6h0M422.9 717h0M431.7 735.5h0M431.5 710.7h0M430.4 740.3h0M423.9 739.4h0M424.1 708.2h0M430.6 716.8h0M429.4 755h0M430.5 711.2h0M431.7 716.2h0M423.6 713.7h0M425.1 740.3h0M431.6 712.1h0M422.7 740.5h0M431.3 711.1h0M430 713.5h0M431.5 714h0M423.4 714.1h0M431.5 715.3h0M423.9 738.3h0M422.9 713.6h0M430.9 707.6h0M428.4 754.1h0M423.1 738.5h0M429.8 739.1h0M424 737.9h0M429 709.4h0M422.5 712.4h0M431.7 736.3h0M429.2 711.5h0M423.8 715.6h0M431.5 739.7h0M424.9 758.9h0M429.4 742h0M425.1 711.7h0M429 742.9h0M423.9 761.1h0M429.8 713.5h0M430.4 716.5h0M431.1 709.1h0M428 742.8h0M423.3 706.5h0M431.5 718.6h0M428.3 708.1h0M429.4 710.7h0M423.9 715.2h0M431.5 739.4h0M423.3 739.9h0M429.4 740.3h0M422.9 754.6h0M425.1 761h0M422.5 735.2h0M428.6 710.3h0M431.7 733.6h0M428.6 710.2h0M422.7 713.5h0" stroke="#8fd5e6" stroke-width="1.4" stroke-linecap="square" fill="none" opacity=".85"/>
<path d="M427.1 704.1L427.17 705.4L427.18 705.5L427.41 706.7L427.84 708L428.3 709.3L428.76 710.6L429.22 711.9L429.66 713.2L430.09 714.5L430.49 715.8L430.87 717.1L431.22 718.4L431.53 719.7L431.8 721L432.03 722.3L432.22 723.6L432.36 724.9L432.45 726.2L432.5 727.5L432.5 728L432.48 728.8L432.37 730.1L432.16 731.4L431.86 732.7L431.48 734L431.03 735.3L430.53 736.6L429.99 737.9L429.44 739.2L428.89 740.5L428.37 741.8L427.89 743.1L427.49 744.4L427.23 745.7L427.23 746.9L427.23 747L427.23 748.3L427.23 749.6L427.23 750.9L427.23 752.2L427.23 753.5L427.23 754.8L427.23 756.1L427.23 757.4L427.23 758.7L427.17 760L427.1 761.3L426.93 760L426.87 758.7L426.87 757.4L426.87 756.1L426.87 754.8L426.87 753.5L426.87 752.2L426.87 750.9L426.87 749.6L426.87 748.3L426.87 747L426.87 746.9L426.87 745.7L426.61 744.4L426.21 743.1L425.73 741.8L425.21 740.5L424.66 739.2L424.11 737.9L423.57 736.6L423.07 735.3L422.62 734L422.24 732.7L421.94 731.4L421.73 730.1L421.62 728.8L421.6 728L421.6 727.5L421.65 726.2L421.74 724.9L421.88 723.6L422.07 722.3L422.3 721L422.57 719.7L422.88 718.4L423.23 717.1L423.61 715.8L424.01 714.5L424.44 713.2L424.88 711.9L425.34 710.6L425.8 709.3L426.26 708L426.69 706.7L426.92 705.5L426.93 705.4Z" fill="#58bfd8" stroke="#0a0a0a" stroke-width=".62" stroke-linejoin="round"/>
<path d="M425.1 720h0M426.4 712.9h0M430 724.6h0M424.8 720.7h0M423.5 732.3h0M426.6 724.3h0M423.3 722.6h0M427.6 729.9h0M425.8 712.7h0M429.7 723.8h0M424.9 727.2h0M425.6 717h0M429.5 724.4h0M428.1 722h0M424.3 730.2h0M427.9 720.2h0M424.4 719.6h0M429.2 724.5h0M424.7 722.7h0M428.8 727h0M428.1 732.8h0M423.9 733.2h0M428.1 729.5h0M426.6 732.3h0M428.3 731.4h0M428.2 713.2h0M427.1 735.7h0M425.6 735.3h0M428.6 735.7h0M429.4 733.3h0M425.9 734.7h0M428.3 731.1h0M424.8 720.9h0M427.7 711.2h0M430.8 726h0M428.8 723.6h0M426.8 736.2h0M424.6 733.2h0M428.6 716.6h0M423.8 732.4h0M426.5 716.1h0M429.6 733.2h0M428.6 725.9h0M425.3 721.2h0M424.3 721.6h0M424.6 729h0M426.6 729.1h0M425.6 734h0M423.9 732.1h0M426.9 716.7h0M428 720.3h0M423.6 725.1h0M426.9 736.6h0M428.9 719.5h0M427.5 734.8h0M425.7 729.3h0M428.8 726.2h0M425.6 729.6h0M427.7 713h0M428.4 731.3h0M426.4 735.5h0M424.1 729.3h0M424.6 721.7h0M430.3 721.9h0M429.4 730.3h0M429.4 721.9h0M423.8 730.7h0M429.5 725.9h0M426.7 718.8h0M424.8 729.4h0M430.9 729.3h0M427.5 730.8h0M427.4 734.4h0M427.9 731.5h0M427.7 714.1h0M424.7 724.7h0M430 726.5h0M428.7 719.9h0M427 735.1h0M427.6 734.8h0M430.1 720.7h0M428.8 718.2h0M430.2 726.9h0M423.7 723.5h0M429.8 729.9h0M428.9 722.4h0M428.4 737.7h0M427.1 727.3h0M423.9 719.7h0M427.4 737.8h0M427.6 718.8h0M426.6 730.1h0M427.4 739.7h0M427.2 720.3h0M428.8 723.7h0M427 739.7h0M427 731.7h0M423 724.6h0M430.6 724.9h0M428.7 716.4h0M427.8 737h0M429.6 731.8h0M428.6 716h0M425.3 715.5h0M426.6 740.5h0M425.5 734.1h0M424.8 719.8h0M431.2 729h0M425.3 727.1h0M426.3 725.8h0M429.9 728.7h0M424.9 723.8h0M429.9 724.3h0M426.5 725.7h0M424.1 728.4h0M425.2 732.9h0M424.4 729.8h0M428.2 720.1h0M429.5 735.9h0M424.7 734.3h0M429.7 723.1h0M430.9 725.5h0M427.8 734.8h0M425.9 716.5h0M425.7 733.9h0M425.7 724.8h0M429.1 721.5h0M425.8 720.9h0M425.6 729.9h0M425.2 725.7h0M428.8 725.5h0M427.2 731.1h0M428.6 720.1h0M425.7 713.8h0M430.5 726.3h0M424.4 735h0M430.2 732.2h0M428.8 717.2h0M426.5 723h0M428 716.6h0M425.8 713.9h0M429.8 732.5h0M426.9 728h0M424.6 734.6h0M428.6 719.9h0M427.1 721.7h0M430 718.1h0M427.6 727.6h0M424.6 736.1h0M428.9 723.7h0M427.5 721h0M425.3 725.1h0M425.5 734.8h0" stroke="#8fd5e6" stroke-width="1.4" stroke-linecap="square" fill="none" opacity=".55"/>
<path d="M423.75 728.4h6.6" stroke="#000" stroke-width=".95"/>
<ellipse cx="427.05" cy="728.4" rx="1.6" ry="1.2" fill="#000"/>
<path d="M436.6 740.6h0M441.4 713.7h0M442.8 710.8h0M442.3 727.6h0M441.4 713.2h0M441.6 710.8h0M442.1 729.8h0M436.7 748.3h0M435.6 733.1h0M440.7 737.5h0M436.8 756.8h0M434.9 713.4h0M440.2 742.4h0M435.4 729.9h0M436 757.9h0M442.5 714.2h0M440.8 734.6h0M435.4 712.4h0M435.8 711.6h0M434.4 715h0M442.4 728.1h0M440.7 709.8h0M441.9 732h0M442.6 752.3h0M442 714.7h0M442.8 716.1h0M442.4 711.5h0M434.6 711.9h0M434.6 709.3h0M442.8 712.9h0M439 750.2h0M438.5 708.7h0M442.1 708.6h0M436.6 741h0M435 731.1h0M434.9 758.5h0M436.5 745.2h0M442.2 716.3h0M441.2 729.3h0M442.7 729.3h0M441.6 728.6h0M439.1 739.8h0M435.3 710.5h0M442.1 709.6h0M440.8 710.5h0M434.2 728.6h0M435.6 730.4h0M436.6 746.6h0M435.7 758.7h0M436.2 748h0M441.7 714.5h0M436.7 709.6h0M441.2 732.8h0M441.1 731h0M442.5 712.2h0M433.8 708.1h0M442.2 715.2h0M442 709.7h0M436.5 736h0M434.1 714.6h0M434 710.2h0M441.8 729.2h0M435 728.7h0M439.1 746.7h0M433.5 718.5h0M434.6 728.2h0M441.6 729.1h0M440.1 731h0M441.5 711.4h0M433.5 752.6h0M439.6 709.9h0M442.1 729.1h0M433.6 751.9h0M442.7 714.8h0M442.6 758.3h0M442.6 745.9h0M436.2 711.5h0M434.8 714.2h0M440.5 710.8h0M433.7 726.4h0M442.6 727.8h0M434.4 754.3h0M441.3 733.1h0M441.3 712h0M442.4 715.9h0M441.5 710.6h0M437.6 750.6h0M441.8 729.1h0M433.5 757.9h0M433.8 716h0M442.6 728.4h0M441.3 747.3h0M442 713.9h0M440.5 710.6h0M434.4 708.9h0M439.8 742.6h0M440.4 711.9h0M441 742.7h0M441.7 747.2h0M442 741.4h0M434.5 714.6h0M441.3 752.1h0M435.9 711.5h0M439.6 709.7h0" stroke="#f18f81" stroke-width="1.4" stroke-linecap="square" fill="none" opacity=".85"/>
<path d="M438.2 705.2L438.26 706.5L438.33 707.3L438.33 707.8L438.92 709L439.56 710.3L440.19 711.6L440.81 712.9L441.4 714.1L441.93 715.4L442.41 716.7L442.82 718L443.15 719.2L443.39 720.5L443.54 721.8L443.6 723.1L443.6 723.2L443.51 724.3L443.18 725.6L442.64 726.9L441.94 728.1L441.13 729.4L440.28 730.7L439.46 732L438.75 733.2L438.33 734.5L438.33 735.2L438.33 735.8L438.33 737.1L438.33 738.4L438.33 739.6L438.33 740.9L438.33 742.2L438.33 743.4L438.33 744.7L438.33 746L438.33 747.3L438.33 748.5L438.33 749.8L438.33 751.1L438.33 752.4L438.33 753.6L438.33 754.9L438.33 756.2L438.33 757.5L438.33 758.8L438.26 760L438.2 761.3L438.04 760L437.97 758.8L437.97 757.5L437.97 756.2L437.97 754.9L437.97 753.6L437.97 752.4L437.97 751.1L437.97 749.8L437.97 748.5L437.97 747.3L437.97 746L437.97 744.7L437.97 743.4L437.97 742.2L437.97 740.9L437.97 739.6L437.97 738.4L437.97 737.1L437.97 735.8L437.97 735.2L437.97 734.5L437.55 733.2L436.84 732L436.02 730.7L435.17 729.4L434.36 728.1L433.66 726.9L433.12 725.6L432.79 724.3L432.7 723.2L432.7 723.1L432.76 721.8L432.91 720.5L433.15 719.2L433.48 718L433.89 716.7L434.37 715.4L434.9 714.1L435.49 712.9L436.11 711.6L436.74 710.3L437.38 709L437.97 707.8L437.97 707.3L438.04 706.5Z" fill="#e75642" stroke="#0a0a0a" stroke-width=".62" stroke-linejoin="round"/>
<path d="M439.7 716.8h0M440.7 715.9h0M436.8 713h0M439.1 722.2h0M436.8 722.2h0M441.8 718.7h0M436.1 725.2h0M440.1 727.6h0M437.8 729.7h0M437.9 718h0M438.5 714.7h0M438.9 722.5h0M438.8 714h0M440.3 725.9h0M438 723.8h0M438.3 718.2h0M441.3 723h0M441.8 722h0M438.7 727.3h0M438.7 712.9h0M438.1 721h0M436.5 725.2h0M438.1 725.8h0M441.1 719.4h0M438.4 716.4h0M435.4 717.2h0M440.2 716.5h0M435.9 724.1h0M440.8 716.5h0M437.7 712.8h0M438.5 726.7h0M441.2 719.1h0M439 726.4h0M438.3 722.4h0M435.1 724.3h0M440.5 718.5h0M438 720.5h0M440 729.4h0M440 728.6h0M441.9 721.9h0M440.5 721.1h0M436.9 723.7h0M440.7 720.1h0M441.2 724.1h0M438.2 719.1h0M436.6 722.8h0M439.1 715.8h0M439.3 728h0M436.9 715.5h0M437.7 722.4h0M436.8 721.6h0M440.7 724.4h0M437.3 716h0M439.6 722h0M436.3 724.3h0M438.6 722h0M440.4 726.4h0M441.8 724.8h0M436.3 723.1h0M438.9 723.4h0M442.4 724.1h0M438.1 717h0M439.4 716.9h0M434.6 724.6h0M437 720.3h0M435.7 721h0M437.5 719.3h0M439 720.4h0M434.9 720.5h0M439.5 719.5h0M437.3 714.6h0M437.9 728.2h0M435.3 727.6h0M439 728.4h0M440.9 722.7h0M436.5 720.7h0M435.7 720.3h0M442 719.1h0M438.5 728.2h0M437.8 726.8h0M439.3 726.2h0M438.8 713.6h0M437.8 724.1h0M439 720.5h0M441.4 725.6h0M441.6 726.4h0M435.6 716.1h0M442 724.4h0M437.5 719.3h0M437.1 722.3h0M437.2 727.7h0M438.5 729.9h0M441.6 717.8h0M436 722.1h0M436.5 719.7h0M438.7 714.6h0M435.1 727.3h0M440 714.8h0M438 729.6h0M437.9 721.8h0M440.5 719.9h0M437.2 724.4h0M439.9 728h0M433.9 723.1h0M442.1 722h0M440.2 719.6h0M436.7 719.5h0M442 719.9h0M439 728.7h0M434.9 724h0M434.9 718.6h0M436.9 715.3h0M437.7 714.4h0M439.2 711.9h0M436.5 719.8h0M441.4 722.2h0M436.8 714.6h0M437.7 712.5h0M438.2 721h0M436.4 722h0M434.1 720.1h0M438.5 718.9h0M434.3 724.7h0M436.8 725.3h0M439.1 715.7h0M437 721h0M439.1 722.6h0M441.4 721.8h0M433.9 721.2h0M441.7 725.8h0M436.4 717.9h0M435.3 723.7h0M438.6 723.2h0" stroke="#f18f81" stroke-width="1.4" stroke-linecap="square" fill="none" opacity=".55"/>
<path d="M434.85 723.4h6.6" stroke="#000" stroke-width=".95"/>
<ellipse cx="438.15" cy="723.4" rx="1.6" ry="1.2" fill="#000"/>
<path d="M450.4 726.6h0M452.6 768.1h0M455.3 734h0M451.9 757.9h0M450 681.1h0M456.3 661.7h0M458.4 721h0M458.5 667.3h0M450.7 727.1h0M451.5 723h0M458.6 719.9h0M456.1 760.5h0M457.8 665.4h0M456.5 765h0M459.3 707.3h0M456.9 664.8h0M457.9 670.7h0M456 743.1h0M454.8 748h0M451.4 727.1h0M450.4 724.5h0M455.7 752.6h0M458.4 657.7h0M459.2 714h0M458.8 666.7h0M458 717.5h0M456.5 660.4h0M451.3 721.6h0M457.7 734.8h0M459.1 710.3h0M459 729.9h0M453.2 768.6h0M454.4 738h0M450.2 709.2h0M457.9 726h0M451.8 740.1h0M458.1 726.4h0M458.4 726.4h0M458 717h0M450.4 650.9h0M451.9 727.3h0M455.7 734.5h0M453.4 734.7h0M450.2 677.6h0M456 653.8h0M453.2 735.5h0M451.5 658.9h0M451.1 674h0M450.7 745.7h0M450.8 671.3h0M457.5 750.9h0M450.2 663.6h0M450.5 671.8h0M450.2 682.3h0M450.9 732.7h0M451.6 725.8h0M451.3 726.2h0M457.6 733h0M453 662.5h0M450.2 711.3h0M451.3 725.2h0M451.1 665.9h0M454.7 746.2h0M453.5 758.6h0M458.2 665.9h0M450 731.8h0M455.4 657h0M457.9 734.5h0M456 661.7h0M450.4 669.5h0M458.9 717.6h0M451 719.6h0M457.1 726.6h0M451.7 722.1h0M458.2 666.5h0M450.1 718h0M458.8 657h0M457.8 718.7h0M452.1 730h0M451.3 729.4h0M450.3 719.4h0M452.6 737.7h0M458.9 711.1h0M450.1 682.9h0M457.6 721.6h0M456 731.6h0M454.5 743.4h0M459.3 749.8h0M456.1 734.4h0M458.6 713h0M451.2 657.1h0" stroke="#8fd5e6" stroke-width="1.4" stroke-linecap="square" fill="none" opacity=".85"/>
<path d="M454.7 650.7L454.83 653.4L454.83 653.5L455.09 656.2L455.59 659L456.09 661.7L456.6 664.5L457.1 667.3L457.58 670L458.03 672.8L458.45 675.5L458.83 678.3L459.17 681.1L459.47 683.8L459.71 686.6L459.89 689.3L460.02 692.1L460.09 694.8L460.1 696.6L460.1 697.6L460.03 700.4L459.89 703.1L459.68 705.9L459.41 708.6L459.08 711.4L458.7 714.2L458.28 716.9L457.83 719.7L457.36 722.4L456.88 725.2L456.41 728L455.96 730.7L455.55 733.5L455.19 736.2L454.9 739L454.83 741.8L454.83 743.3L454.83 744.5L454.83 747.3L454.83 750L454.83 752.8L454.83 755.5L454.83 758.3L454.83 761.1L454.83 763.8L454.83 766.6L454.83 769.3L454.7 772.1L454.47 769.3L454.47 766.6L454.47 763.8L454.47 761.1L454.47 758.3L454.47 755.5L454.47 752.8L454.47 750L454.47 747.3L454.47 744.5L454.47 743.3L454.47 741.8L454.4 739L454.11 736.2L453.75 733.5L453.34 730.7L452.89 728L452.42 725.2L451.94 722.4L451.47 719.7L451.02 716.9L450.6 714.2L450.22 711.4L449.89 708.6L449.62 705.9L449.41 703.1L449.27 700.4L449.2 697.6L449.2 696.6L449.21 694.8L449.28 692.1L449.41 689.3L449.59 686.6L449.83 683.8L450.13 681.1L450.47 678.3L450.85 675.5L451.27 672.8L451.72 670L452.2 667.3L452.7 664.5L453.21 661.7L453.71 659L454.21 656.2L454.47 653.5L454.47 653.4Z" fill="#58bfd8" stroke="#0a0a0a" stroke-width=".62" stroke-linejoin="round"/>
<path d="M456.3 715.2h0M455.9 724h0M455.6 696.9h0M453.7 705.5h0M456.3 708h0M454.9 703.1h0M454.4 721.4h0M452.6 698.7h0M451.4 681.9h0M451.5 697.5h0M453.2 719.7h0M454.8 669.8h0M455.2 692.2h0M454.5 700.3h0M451.2 703.9h0M455.4 676.4h0M451.7 695.2h0M454.9 713.7h0M457.6 699.4h0M455.8 709.3h0M451.1 683.7h0M452.6 689.3h0M455.5 700.7h0M456.3 691.4h0M456.8 685.9h0M457.7 679.8h0M455.1 693.2h0M453.3 709.8h0M452.2 684.8h0M453 676.2h0M456.7 689.6h0M454.3 709.8h0M452.6 691.2h0M457.1 690.2h0M450.3 694.8h0M453 700.8h0M456.4 703.9h0M455.8 716.3h0M455.6 677.8h0M453.7 717.5h0M453.3 670.4h0M457 702.9h0M453.6 711.9h0M455.1 703.4h0M454.5 714h0M456 693.8h0M456.5 679.5h0M455.3 694.6h0M453.5 714.8h0M457 705.2h0M453.1 711.3h0M457.5 697.6h0M458.1 685.5h0M458.1 690.7h0M451.9 687.9h0M458.5 686.9h0M452.9 670.8h0M453.9 702.2h0M451.5 708.8h0M451.2 699.1h0M456.4 669.9h0M455.6 690.7h0M454.4 685.4h0M454.5 677.4h0M457.3 676.4h0M457.9 693.9h0M455.9 693.5h0M454.3 686.1h0M454.3 704.6h0M453.7 690.6h0M453.7 672.6h0M455.6 675.6h0M455.4 682.4h0M455.9 696h0M457.4 707.1h0M457.8 712h0M450.5 703.5h0M454.6 708.6h0M454.1 672.2h0M454 681.9h0M456 711.2h0M455.6 707h0M455.6 678.8h0M452.7 706.8h0M454.2 673h0M457.8 685.1h0M451.8 676.4h0M453.5 692.5h0M453.7 709.5h0M456.9 698h0M456.7 694.1h0M458.5 698.9h0M452.4 697.1h0M454.2 684.5h0M453.7 713.8h0M457.3 704.3h0M453.9 710h0M457 698.6h0M455.7 686.4h0M456.3 687.9h0M451.8 684.3h0M455.4 718.4h0M453.9 700.8h0M451.2 709.4h0M456.8 690.8h0M455.1 717.8h0M457.2 684.3h0M452.6 683.9h0M452.6 708.7h0M456.4 692.2h0M451.7 711.5h0M454.2 702.2h0M453.5 687.1h0M458.4 706.6h0M455.9 678.4h0M451.4 681.7h0M453.3 672.2h0M451.5 688.4h0M454.7 673h0M456.6 693.1h0M454.4 708.5h0M453.1 713.7h0M455 702.5h0M453.9 686.1h0M452.5 675.3h0M452.9 702.5h0M455.7 674.7h0M456.3 685.9h0M453.9 669.2h0M458.1 702.3h0M452.8 684.8h0M453.9 669.4h0M452.1 679.4h0M455.4 717.5h0M456.9 678.5h0M451 694.2h0M452.5 708.5h0M452.2 712.6h0M450.8 697.6h0" stroke="#8fd5e6" stroke-width="1.4" stroke-linecap="square" fill="none" opacity=".55"/>
<path d="M451.35 699.5h6.6" stroke="#000" stroke-width=".95"/>
<ellipse cx="454.65" cy="699.5" rx="1.6" ry="1.2" fill="#000"/>
<path d="M462.1 673.8h0M469.9 708h0M461.2 685.3h0M470.2 723.5h0M469.9 682.8h0M468.7 670.5h0M465 668.4h0M461.4 705.9h0M462.1 674.8h0M461.2 671.8h0M466.5 726.5h0M461.4 709.4h0M463.8 732h0M464.9 733.4h0M470.3 708.1h0M468.7 674.2h0M462.3 676h0M468.6 665.2h0M469.1 718.6h0M469.2 673.3h0M462.2 768.7h0M461.6 682.2h0M461.4 685.1h0M463.1 669.6h0M468.7 723.9h0M461.3 684.6h0M468.6 674.1h0M461.9 737.1h0M464.3 716.7h0M463.7 670.7h0M466 664.5h0M469.3 678.6h0M469.1 729.3h0M470 680.7h0M461.3 709.1h0M461.4 713.2h0M466.1 761.3h0M469.8 709.2h0M464.5 724.7h0M461.2 704.6h0M468.4 715.8h0M470.3 665h0M470.3 675.6h0M464.4 724.5h0M469.3 730.4h0M464.8 666.5h0M463.3 716.3h0M466.1 741.9h0M462.3 678.1h0M467.9 666.8h0M461.3 669.3h0M463 666.6h0M470.2 710.2h0M468.7 722.1h0M463.5 672.9h0M462.1 673.1h0M467.2 755.1h0M464.4 728.8h0M468 672.9h0M469.6 722.9h0M468.7 714.1h0M468.3 729.4h0M463.9 669.4h0M462.6 665.5h0M470.2 707.9h0M467.3 763.3h0M469.3 711.1h0M462.4 721h0M462.3 675.8h0M463.1 717.5h0M462.7 739.8h0M463.3 728.5h0M462.2 710.7h0M462.7 716h0M468.6 749h0M466.2 664.1h0M463.9 669.8h0M463.3 744h0M461.2 672.7h0M461.8 707.7h0" stroke="#f18f81" stroke-width="1.4" stroke-linecap="square" fill="none" opacity=".85"/>
<path d="M465.8 662L465.93 664.2L465.93 664.5L466.36 667L466.97 669.6L467.59 672.1L468.2 674.6L468.78 677.1L469.32 679.7L469.81 682.2L470.24 684.7L470.59 687.2L470.87 689.8L471.07 692.3L471.18 694.8L471.2 696.6L471.19 697.3L471.06 699.8L470.78 702.4L470.35 704.9L469.8 707.4L469.16 709.9L468.46 712.5L467.76 715L467.08 717.5L466.48 720L466.01 722.5L465.93 725.1L465.93 725.3L465.93 727.6L465.93 730.1L465.93 732.6L465.93 735.2L465.93 737.7L465.93 740.2L465.93 742.7L465.93 745.2L465.93 747.8L465.93 750.3L465.93 752.8L465.93 755.3L465.93 757.9L465.93 760.4L465.93 762.9L465.93 765.4L465.93 768L465.93 770.5L465.8 773L465.57 770.5L465.57 768L465.57 765.4L465.57 762.9L465.57 760.4L465.57 757.9L465.57 755.3L465.57 752.8L465.57 750.3L465.57 747.8L465.57 745.2L465.57 742.7L465.57 740.2L465.57 737.7L465.57 735.2L465.57 732.6L465.57 730.1L465.57 727.6L465.57 725.3L465.57 725.1L465.49 722.5L465.02 720L464.42 717.5L463.74 715L463.04 712.5L462.34 709.9L461.7 707.4L461.15 704.9L460.72 702.4L460.44 699.8L460.31 697.3L460.3 696.6L460.32 694.8L460.43 692.3L460.63 689.8L460.91 687.2L461.26 684.7L461.69 682.2L462.18 679.7L462.72 677.1L463.3 674.6L463.91 672.1L464.53 669.6L465.14 667L465.57 664.5L465.57 664.2Z" fill="#e75642" stroke="#0a0a0a" stroke-width=".62" stroke-linejoin="round"/>
<path d="M466.7 696h0M466.4 704h0M463.6 701.4h0M467.6 710.5h0M466.3 704.8h0M464.8 679.6h0M464.4 702.8h0M465.5 697.7h0M469.4 691.4h0M465.5 700.3h0M467.8 702.8h0M464.9 687.7h0M464 704.3h0M464.1 703.1h0M465.8 690.5h0M461.9 690.8h0M466.8 677.7h0M467.1 689.1h0M469.5 688.3h0M466.4 681.5h0M465.6 686.3h0M468.9 690.3h0M462.6 695.9h0M463.9 696.1h0M462.4 685.7h0M466.9 703.8h0M465.6 685.6h0M466 701.5h0M465.9 683.2h0M465.8 713.5h0M467.9 680.1h0M463.4 693.3h0M462.1 688.6h0M465.5 696.7h0M466.9 701.9h0M463.7 681.9h0M467.6 691.6h0M466.2 683.4h0M465.5 678.5h0M467.5 684.3h0M469.5 699.4h0M464.8 713.2h0M464.8 686.4h0M464.9 675.8h0M466.5 673.1h0M465.1 679.4h0M463 705.5h0M467.8 694.1h0M464.9 689.1h0M467.5 691.9h0M466.4 711.4h0M468 695.9h0M466.8 675.4h0M466.9 680.2h0M462.2 694.3h0M466 700.3h0M469.4 700.9h0M466.8 692.6h0M464.2 677h0M467.3 700.5h0M462 691.3h0M467.3 704.9h0M465.7 694.6h0M463.2 693.6h0M469.7 695.9h0M470.1 696.5h0M464 683.8h0M468.8 695.8h0M463.9 704.6h0M470.1 696.3h0M465 677.6h0M468.8 690.3h0M464.8 684.4h0M464.5 688h0M464.6 700.7h0M466 698.7h0M467.5 694.2h0M464.5 682.6h0M469 689.5h0M462.2 690.8h0M466.4 676h0M465 683.1h0M467.5 694.9h0M467.2 699.8h0M466.4 681.3h0M462.5 690.1h0M465.4 690.5h0M465.9 694.5h0M467.5 702.5h0M468 703.5h0M463.7 686.1h0M464.5 708.4h0M461.6 695.2h0M466.5 709.5h0M465.5 712.4h0M465.3 703.9h0M467.5 697.4h0M467.1 695.1h0M464.6 712.8h0M466.5 707h0M463 685.1h0M465.3 677.5h0M466.5 711h0M463.8 683.7h0M467.6 709.6h0M467.1 698.5h0M467.7 688h0M468.2 696h0M467.8 697.4h0M464 708.5h0M466.1 690.9h0M462 698.9h0M464.9 704.6h0M465.2 684.3h0M462 696.4h0M467.8 695.6h0M469 691.1h0M465.9 695.1h0M465.2 703.2h0M464.2 695.9h0M468.9 701.4h0M464.7 695.1h0M468.2 691.2h0M467.6 699.2h0M463.4 700.9h0M469.3 700h0M467.6 679.7h0M463.2 699.5h0M467.8 700.9h0M464.5 699.6h0M464.1 712.2h0M467.3 677.7h0M464.4 692.8h0M464 701.5h0M468.2 685.6h0M468.1 684h0M466.4 705h0M466.1 684.7h0M462.5 691h0M463.7 702h0M463.9 683.7h0M466.3 676.2h0M462.9 703.8h0M468.1 697.3h0M466.3 698.3h0M466.2 708.8h0M468 687.2h0M465.7 709.4h0" stroke="#f18f81" stroke-width="1.4" stroke-linecap="square" fill="none" opacity=".55"/>
<path d="M462.45 696.3h6.6" stroke="#000" stroke-width=".95"/>
<ellipse cx="465.75" cy="696.3" rx="1.6" ry="1.2" fill="#000"/>
<path d="M399.45 679.9v-2.4h11.1v2.4" fill="none" stroke="#111" stroke-width=".85"/>
<text x="405" y="678.1" font-size="5.7" text-anchor="middle">*</text>
<path d="M427.05 702.6v-2.4h11.1v2.4" fill="none" stroke="#111" stroke-width=".85"/>
<text x="432.6" y="700.8" font-size="5.7" text-anchor="middle">***</text>
<path d="M388.3 642.9V775.8H476.6" fill="none" stroke="#333" stroke-width=".8"/>
<text x="383.6" y="675.5" font-size="8.8" text-anchor="end">4000</text>
<text x="383.6" y="708.45" font-size="8.8" text-anchor="end">2000</text>
<text x="383.6" y="741.4" font-size="8.8" text-anchor="end">0</text>
<text x="383.6" y="774.35" font-size="8.8" text-anchor="end">-2000</text>
<path d="M388.3 672.4h-3.2M388.3 705.35h-3.2M388.3 738.3h-3.2M388.3 771.25h-3.2M405 775.8v3.2M432.6 775.8v3.2M460.2 775.8v3.2" fill="none" stroke="#333" stroke-width=".8"/>
<text transform="translate(406.2 787.4) rotate(-15)" font-size="8.95" text-anchor="end">ImmuneScore</text>
<text transform="translate(433.8 787.4) rotate(-15)" font-size="8.95" text-anchor="end">StromalScore</text>
<text transform="translate(461.4 787.4) rotate(-15)" font-size="8.95" text-anchor="end">ESTIMATEScore</text>
<text transform="translate(355.3 709.35) rotate(-90)" font-size="9.7" text-anchor="middle">Enrichment score</text>
<text x="479.9" y="703.8" font-size="8.6">TMC7</text>
<rect x="479.8" y="706.3" width="6.1" height="8" fill="#9bdbe9" stroke="#333" stroke-width=".7"/>
<circle cx="482.85" cy="710.3" r=".9" fill="#58bfd8" opacity=".75"/>
<text x="489.7" y="713.4" font-size="8.6">Low</text>
<rect x="479.8" y="714.3" width="6.1" height="8" fill="#f29a8f" stroke="#333" stroke-width=".7"/>
<circle cx="482.85" cy="718.3" r=".9" fill="#e75642" opacity=".75"/>
<text x="489.7" y="721.4" font-size="8.6">High</text>
</g>
<g id="pP">
<text x="532.3" y="630" font-size="20.2">P</text>
<path d="M568 708.7h0M568.4 706.9h0M568.5 727.2h0M573.4 694.2h0M567.8 700.4h0M574.9 740.5h0M570.5 745.7h0M575.4 743.7h0M574.3 731.2h0M568.2 707h0M568.2 729.6h0M576.9 722.4h0M569.7 701.8h0M570.4 726.7h0M569.2 703.2h0M569.8 727.7h0M569.7 726.3h0M569.8 696.9h0M568.7 706.1h0M568.3 729h0M574.4 740.1h0M576.4 730.6h0M568.6 723.3h0M574.7 726.3h0M573.1 740.2h0M570.9 732h0M576.6 699.1h0M568.5 724.1h0M575.4 724.5h0M576.6 706.5h0M574.3 740.6h0M576.5 727.6h0M576.6 743.5h0M570.1 734.1h0M568.8 704.8h0M576.9 738.8h0M568.9 704.2h0M568.4 697.1h0M577 723.9h0M567.9 727.3h0M576.1 704.3h0M571.6 735.7h0M571 727.7h0M569 724.3h0M575.1 700.9h0M576.6 749.2h0M573.7 695.8h0M574.6 729.4h0M577 704.1h0M570.9 729.7h0M572.7 732.6h0M576.3 723h0M567.7 723.9h0M570.6 699.3h0M577 720.3h0M567.7 709.3h0M567.8 701.7h0M572.7 747.6h0M568.5 723.3h0M570.2 726.4h0M576.1 694.3h0M570.9 699.6h0M576.7 723.6h0M576.8 722.1h0M568.8 705.8h0M576 703.6h0M570.6 738.7h0M570.9 728.9h0M574.4 727h0M570.5 742.5h0M575 734.9h0M567.8 722.5h0M574.9 738.9h0M569.5 725.8h0M575.7 705.8h0M574.8 732.5h0M574.1 726.8h0M576.1 749.3h0M569.1 743.9h0" stroke="#8fd5e6" stroke-width="1.4" stroke-linecap="square" fill="none" opacity=".85"/>
<path d="M572.4 693L572.47 694.3L572.53 695.6L572.53 695.7L572.72 696.9L573.19 698.1L573.67 699.4L574.16 700.7L574.64 702L575.1 703.3L575.55 704.6L575.97 705.9L576.35 707.1L576.7 708.4L577.01 709.7L577.27 711L577.48 712.3L577.64 713.6L577.74 714.9L577.8 716.2L577.8 716.7L577.78 717.4L577.62 718.7L577.34 720L576.93 721.3L576.42 722.6L575.84 723.9L575.2 725.2L574.54 726.4L573.9 727.7L573.32 729L572.82 730.3L572.53 731.6L572.53 732.5L572.53 732.9L572.53 734.2L572.53 735.5L572.53 736.7L572.53 738L572.53 739.3L572.53 740.6L572.53 741.9L572.53 743.2L572.53 744.5L572.53 745.7L572.53 747L572.47 748.3L572.4 749.6L572.23 748.3L572.17 747L572.17 745.7L572.17 744.5L572.17 743.2L572.17 741.9L572.17 740.6L572.17 739.3L572.17 738L572.17 736.7L572.17 735.5L572.17 734.2L572.17 732.9L572.17 732.5L572.17 731.6L571.88 730.3L571.38 729L570.8 727.7L570.16 726.4L569.5 725.2L568.86 723.9L568.28 722.6L567.77 721.3L567.36 720L567.08 718.7L566.92 717.4L566.9 716.7L566.9 716.2L566.96 714.9L567.06 713.6L567.22 712.3L567.43 711L567.69 709.7L568 708.4L568.35 707.1L568.73 705.9L569.15 704.6L569.6 703.3L570.06 702L570.54 700.7L571.03 699.4L571.51 698.1L571.98 696.9L572.17 695.7L572.17 695.6L572.23 694.3Z" fill="#58bfd8" stroke="#0a0a0a" stroke-width=".62" stroke-linejoin="round"/>
<path d="M575.7 709.6h0M570.5 719.8h0M568.7 718.9h0M575.4 719.8h0M569.7 722h0M572 720.8h0M571.2 716.3h0M571.3 716.4h0M574.6 719.8h0M570.3 709.5h0M574.3 718.9h0M571.8 703.6h0M574.5 704.8h0M573.6 715.4h0M573.6 711.4h0M568.7 717.6h0M572.1 716.2h0M569.7 713.1h0M571 720.2h0M569.8 719.7h0M575.7 719.5h0M575.1 713.2h0M570.1 718.7h0M569.1 711.3h0M570.8 704h0M574.8 720.5h0M569.8 711.1h0M576.1 714h0M571.1 718.2h0M576 719.9h0M573.4 709.9h0M574 723.1h0M571.5 714.4h0M569.9 723.2h0M575.3 710.9h0M570.7 716.3h0M574.3 718.8h0M570.7 715.5h0M573.4 711.5h0M574.4 720.1h0M574.7 713.5h0M571.8 726.9h0M571.1 706.7h0M572.4 709.5h0M573.7 714.6h0M574.4 710h0M571.8 712.2h0M570.6 706.1h0M571.7 708.5h0M572.9 712.8h0M571.3 708.4h0M572.1 715.1h0M573.5 720.8h0M572.2 722.7h0M573.8 716.1h0M572.1 709.3h0M569.8 707.9h0M575.6 710.1h0M573 702.7h0M572.8 710.6h0M569 716.2h0M569.6 715.4h0M575.2 721.2h0M572.6 705.6h0M571.7 711.4h0M573.9 717.5h0M572.4 726.5h0M572.6 721.5h0M573.2 701.1h0M576 719.8h0M571.5 710.4h0M575.3 720.1h0M568.4 712.8h0M571.1 706.8h0M570.8 710.2h0M568.9 717.5h0M572.5 717.6h0M571 720.2h0M574.2 716.9h0M573.2 722.6h0M575.6 709.5h0M571.4 703h0M572.8 711.7h0M569.4 719.4h0M573.1 712.1h0M569.4 720.8h0M569.7 709.7h0M573.4 711.3h0M574.7 714.7h0M568.6 716.9h0M570.7 712.5h0M569 712.6h0M575.7 717.2h0M571.7 709.6h0M570.8 717.2h0M571.4 714.8h0M574.4 716h0M570.2 714.7h0M576.1 712.6h0M575.6 712.7h0M571.8 717.1h0M571.3 725h0M570.7 712.2h0M570.7 716h0M575.4 717.7h0M574.7 710.9h0M571.2 709.4h0M574.3 718.1h0M572.7 710.1h0M570.7 710.4h0M573.1 715.4h0M574.8 710.2h0M571.4 706h0M572.8 715h0M574.4 720.1h0M576.2 713.8h0M568.3 714.6h0M572.3 710.9h0M574.5 713.8h0M571.5 716.8h0M573.9 722.4h0M572.8 724.1h0M576.4 714.6h0M576.1 715.4h0M571.4 711h0M571.9 716.2h0M571.2 716h0M572.3 703h0M573.3 719.3h0M569.2 713.7h0" stroke="#8fd5e6" stroke-width="1.4" stroke-linecap="square" fill="none" opacity=".55"/>
<path d="M569.05 717.7h6.6" stroke="#000" stroke-width=".95"/>
<ellipse cx="572.35" cy="717.7" rx="1.6" ry="1.2" fill="#000"/>
<path d="M580.8 713.9h0M581.1 685.5h0M587.1 693.3h0M581 685h0M587.4 715h0M580.4 691.1h0M586.9 689.8h0M587.3 715.2h0M588 692.4h0M587.2 685.2h0M588.1 697.3h0M579.6 710.7h0M587.9 710.4h0M588.1 707.8h0M587.5 692.6h0M580.5 686.2h0M579.1 690.6h0M580.2 716.5h0M586.6 684.6h0M580.7 721h0M580.7 685.3h0M579 695.4h0M586.7 692.4h0M579.1 718.2h0M587.6 710.4h0M579.3 710.1h0M579.5 709.8h0M578.8 684.4h0M580.9 713.3h0M587.6 692.4h0M580.5 688.9h0M582.6 720.6h0M579.9 719.4h0M579.1 696.5h0M579 721.4h0M579.6 711.2h0M586.8 691.4h0M579 691.3h0M587.2 718.7h0M587.5 692.5h0M580.1 687.4h0M588 688.7h0M587.2 713.8h0M582.6 684.8h0M579.5 717.8h0M586.4 687.2h0M578.9 687.2h0M580.9 690h0M587.7 695.1h0M580.6 719.9h0M587 712.3h0M587.4 689.3h0M579.9 685.8h0M587.9 685.4h0M587.6 693.2h0M587.2 693.1h0M578.8 707.9h0M580.1 686.2h0M581.6 683.8h0M586.3 715.1h0M586.2 684.5h0M580 715.8h0M579.1 695.7h0M581.4 715h0M580.6 685h0M579.2 710.1h0M585.9 690.1h0M578.8 697.1h0M582.1 685.5h0M580.1 714.3h0M582.3 718.7h0M579 694h0" stroke="#f18f81" stroke-width="1.4" stroke-linecap="square" fill="none" opacity=".85"/>
<path d="M583.5 681.3L583.54 682.3L583.56 682.5L583.67 683.2L584 684.2L584.35 685.1L584.71 686.1L585.07 687.1L585.42 688L585.78 689L586.12 689.9L586.46 690.9L586.78 691.8L587.08 692.8L587.37 693.8L587.64 694.7L587.88 695.7L588.11 696.6L588.3 697.6L588.47 698.6L588.62 699.5L588.73 700.5L588.82 701.4L588.87 702.4L588.9 703.4L588.9 703.7L588.89 704.3L588.82 705.3L588.69 706.2L588.5 707.2L588.26 708.2L587.98 709.1L587.65 710.1L587.28 711L586.89 712L586.47 713L586.04 713.9L585.61 714.9L585.19 715.8L584.79 716.8L584.41 717.7L584.08 718.7L583.79 719.7L583.63 720.6L583.62 721.6L583.61 721.7L583.54 722.5L583.5 723.5L583.36 722.5L583.29 721.7L583.28 721.6L583.27 720.6L583.11 719.7L582.82 718.7L582.49 717.7L582.11 716.8L581.71 715.8L581.29 714.9L580.86 713.9L580.43 713L580.01 712L579.62 711L579.25 710.1L578.92 709.1L578.64 708.2L578.4 707.2L578.21 706.2L578.08 705.3L578.01 704.3L578 703.7L578 703.4L578.03 702.4L578.08 701.4L578.17 700.5L578.28 699.5L578.43 698.6L578.6 697.6L578.79 696.6L579.02 695.7L579.26 694.7L579.53 693.8L579.82 692.8L580.12 691.8L580.44 690.9L580.78 689.9L581.12 689L581.48 688L581.83 687.1L582.19 686.1L582.55 685.1L582.9 684.2L583.23 683.2L583.34 682.5L583.36 682.3Z" fill="#e75642" stroke="#0a0a0a" stroke-width=".62" stroke-linejoin="round"/>
<path d="M584.7 698.1h0M586.7 704.4h0M583.6 704.6h0M579.3 704.9h0M586.8 707.9h0M585.9 696.5h0M581.5 711.2h0M584.1 691.1h0M585.8 710.4h0M585 700h0M579.5 699.6h0M579.7 704.4h0M584.2 708.5h0M583.8 700.3h0M584 703.6h0M586.9 705.1h0M581.3 697.4h0M585.5 702.8h0M581 696.2h0M586.7 703.9h0M584.6 691.9h0M584.2 710.9h0M580.1 703.6h0M582 694.4h0M583.1 707.2h0M583.1 706.6h0M582.1 707h0M581.6 709h0M584 695h0M582.3 699.2h0M582.4 696.2h0M582.5 699.5h0M585.4 710.2h0M581.2 694.8h0M585.4 691.6h0M585.3 699h0M583.7 695.8h0M584.4 693.7h0M579.7 701.1h0M584 702h0M580.9 693.9h0M585.5 698.1h0M583.9 698h0M579.5 702.3h0M581.5 693.3h0M580.7 699.3h0M582.9 706.2h0M587.4 704.4h0M580.6 699.1h0M583.6 709.8h0M585.5 706.6h0M584 695.9h0M582.8 711.4h0M582.8 701.6h0M584.3 697.5h0M584.3 704.2h0M581.4 704.5h0M583.5 701.1h0M580.3 698.5h0M584.1 688.8h0M586.1 697.4h0M585.5 701.1h0M582.5 694.4h0M581.2 702.1h0M580.7 696.8h0M586.5 707.1h0M586 695.8h0M581.4 706.5h0M580.8 710.6h0M584.9 709.2h0M587 699.8h0M583.5 698.8h0M586.6 698.2h0M582.5 713.6h0M586.1 703.7h0M584.1 692.7h0M585.3 704.5h0M585.1 704h0M580.3 700.6h0M581.6 710.2h0M580 703.1h0M581.2 695.1h0M582.8 697h0M579.3 703.2h0M586.3 701.8h0M586.7 703.4h0M580.5 704.3h0M585.5 694.7h0M582.4 694h0M586 706.5h0M581.2 695.9h0M587 697h0M586.4 703.8h0M583.6 692.3h0M580.4 706h0M583.7 703.9h0M584.7 691.3h0M581.1 707.7h0M585.3 706.1h0M587.3 706.2h0M583.5 686h0M584.2 705.5h0M585.3 700.6h0M586.1 709h0M579.2 704.4h0M580.7 701.3h0M580.3 708.7h0M581.7 698.6h0M586 697.1h0M585.7 692.7h0M582 691.3h0M580.3 698.4h0M582.1 702h0M581.1 703.6h0M583.9 713.3h0M580.6 706.4h0M585.5 704.7h0M586.7 700.6h0M586.1 698.5h0M585.6 698h0M579.6 706.4h0M586.9 707.9h0M585.6 708.9h0M584.2 707h0M582.6 715.2h0M583 702.9h0M584 714h0M582.2 702.8h0M582.8 714.7h0M584.7 692.1h0M583.5 689.9h0M583.3 698.9h0M581 702.1h0M587.2 706h0M581.9 698h0M584 705h0M580 696.9h0M583.1 691.2h0M582.3 691.3h0M587.4 706.1h0M584.4 707.9h0M584.7 714.2h0M586.2 703.8h0M584.5 706.6h0M580.1 698.7h0M586.3 697h0M581.4 697.3h0M585.5 705.2h0M585.4 696h0" stroke="#f18f81" stroke-width="1.4" stroke-linecap="square" fill="none" opacity=".55"/>
<path d="M580.15 703.1h6.6" stroke="#000" stroke-width=".95"/>
<ellipse cx="583.45" cy="703.1" rx="1.6" ry="1.2" fill="#000"/>
<path d="M596.5 740h0M595.7 714.4h0M602 711h0M597.7 742.6h0M596.5 713.4h0M595.9 735.2h0M604.2 711.8h0M596.7 743.6h0M602.2 744h0M597 742.3h0M604.3 758.1h0M601.7 711.1h0M595.4 712.7h0M596.5 735.5h0M604.1 718.5h0M599.3 755.6h0M602.9 739h0M604.4 720h0M602.8 711.4h0M604 741.5h0M595.6 757.8h0M604.4 736.8h0M600.5 710.4h0M603.6 740.9h0M604.5 718.5h0M596.1 760h0M596.5 712.3h0M603.7 735h0M597.7 742.3h0M604.6 732.4h0M604.5 737.4h0M601.1 711.7h0M604.4 734.6h0M603.4 739.8h0M595.6 713.5h0M602.8 740.4h0M603.9 712.3h0M596.6 739.7h0M602.6 757.2h0M604 734.4h0M596.9 715.5h0M596.1 717.4h0M604.2 743.9h0M602 741.9h0M596.2 717.9h0M595.3 720.2h0M601.6 709.4h0M596 736.1h0M595.8 715.5h0M604 739.8h0M599.6 708.3h0M604.1 714.9h0M598.7 743.5h0M595.6 737.4h0M599.4 755.8h0M595.5 712.6h0M602.9 742h0M596.6 716h0M604.6 717.9h0M603.8 755.9h0M602.8 714.2h0M597.2 739.6h0M595.8 740.3h0M603.8 715.4h0M596.6 735.6h0M604.6 733h0M596.1 734.7h0M596.4 716h0M595.3 716.7h0M601.3 712h0M601.6 712.7h0M603.6 738.2h0M601 708.4h0M603.7 739.1h0M597.4 711.5h0M598.1 759.4h0M598.6 740.8h0M604.6 718.5h0M604.4 738.8h0M596 719h0M596.3 715.8h0M595.4 711.8h0M596.2 716.4h0M604.5 734h0M604.3 734.8h0M604.2 718.6h0M596 715.1h0" stroke="#8fd5e6" stroke-width="1.4" stroke-linecap="square" fill="none" opacity=".85"/>
<path d="M600 705.2L600.06 706.5L600.13 707.8L600.13 708.2L600.24 709L600.74 710.3L601.28 711.6L601.81 712.9L602.34 714.1L602.85 715.4L603.33 716.7L603.77 718L604.17 719.2L604.53 720.5L604.83 721.8L605.06 723.1L605.24 724.3L605.35 725.6L605.4 726.9L605.4 727.1L605.37 728.1L605.25 729.4L605.05 730.7L604.77 732L604.42 733.2L604.01 734.5L603.55 735.8L603.05 737.1L602.54 738.4L602.02 739.6L601.51 740.9L601.04 742.2L600.62 743.4L600.28 744.7L600.13 746L600.13 746.9L600.13 747.3L600.13 748.5L600.13 749.8L600.13 751.1L600.13 752.4L600.13 753.6L600.13 754.9L600.13 756.2L600.13 757.5L600.13 758.8L600.06 760L600 761.3L599.84 760L599.77 758.8L599.77 757.5L599.77 756.2L599.77 754.9L599.77 753.6L599.77 752.4L599.77 751.1L599.77 749.8L599.77 748.5L599.77 747.3L599.77 746.9L599.77 746L599.62 744.7L599.28 743.4L598.86 742.2L598.39 740.9L597.88 739.6L597.36 738.4L596.85 737.1L596.35 735.8L595.89 734.5L595.48 733.2L595.13 732L594.85 730.7L594.65 729.4L594.53 728.1L594.5 727.1L594.5 726.9L594.55 725.6L594.66 724.3L594.84 723.1L595.07 721.8L595.37 720.5L595.73 719.2L596.13 718L596.57 716.7L597.05 715.4L597.56 714.1L598.09 712.9L598.62 711.6L599.16 710.3L599.66 709L599.77 708.2L599.77 707.8L599.84 706.5Z" fill="#58bfd8" stroke="#0a0a0a" stroke-width=".62" stroke-linejoin="round"/>
<path d="M602.8 719.6h0M598.5 715.6h0M599.1 734.7h0M599.4 725h0M596.6 722.6h0M602.5 727.5h0M603.1 726.6h0M601.9 728.9h0M597.7 723.6h0M600.3 739h0M599 716.6h0M603.7 728.1h0M595.8 725.2h0M597 725.6h0M598 733.7h0M600 732h0M603.5 725.7h0M601.6 737.3h0M600.2 714.9h0M600.5 720.9h0M599.7 722.3h0M597.6 717.7h0M600.5 720.6h0M599.9 731.9h0M601.1 722.2h0M602.2 734.9h0M599.6 732.8h0M596.9 721h0M603.9 722.7h0M597.9 726h0M597.6 732.5h0M599.1 714.8h0M597.9 722.2h0M596.9 727.8h0M602 721.8h0M602 717.8h0M599.3 721.1h0M597.5 727.6h0M597.1 728.5h0M598.4 722.1h0M601.5 725.6h0M595.9 726h0M600 717.9h0M600.9 727.1h0M595.7 727.1h0M600.7 733.3h0M601 726.6h0M597.8 721.9h0M602 736.5h0M603.4 723.5h0M600.9 735.3h0M602.7 727.3h0M597.5 728.9h0M602.1 730.5h0M602.4 733.3h0M597 731.7h0M600 724.1h0M598.7 729.3h0M600.9 724.3h0M601.6 726.6h0M600.1 740.6h0M597 731.3h0M600.9 721.7h0M596.9 721.1h0M597.7 721.9h0M600.4 719.3h0M602.4 722.2h0M602.8 728.3h0M597.4 729h0M599.5 730h0M602 725.4h0M597.8 727.8h0M601.8 734.5h0M600.5 732.2h0M596.3 723.8h0M596.1 725h0M598.6 731.7h0M599.7 725.9h0M596.6 724.6h0M595.9 725.9h0M599.5 736h0M597 727.5h0M603.6 727.4h0M596.6 721.7h0M601.2 725.8h0M600.5 720.6h0M600.7 716.3h0M600.2 733.6h0M598.2 719.7h0M601.9 722.1h0M597.3 723.7h0M600.1 716.7h0M596.1 727.8h0M599.6 725h0M598.1 726.9h0M596.8 724.9h0M599.4 724.2h0M602.3 728.8h0M596.1 724h0M603.3 724.1h0M596.4 728.6h0M597.2 726.4h0M597.3 732.8h0M602.3 730.9h0M596.8 731.3h0M601.1 725.9h0M596.6 726.5h0M602.1 718.3h0M599.8 733.5h0M603 731.1h0M597.7 728.1h0M597.9 724.1h0M599.4 727.2h0M600.4 737.6h0M601.3 731.1h0M598.1 731.2h0M600.5 721.4h0M598.6 738.1h0M601.7 722.1h0M601.7 720.8h0M597 727.8h0M600.9 735h0M597.4 731.1h0M597.6 731.9h0M600.5 725.3h0M597.8 718.1h0M598.6 728.9h0M603.8 730.4h0M598.3 721.9h0M600 732.3h0M598.4 725.8h0M600.9 732h0M600.3 715.7h0M598.1 733.9h0M596.7 728.1h0M596.4 725.7h0M598.5 724.4h0M596.7 730.8h0M603.7 727.6h0" stroke="#8fd5e6" stroke-width="1.4" stroke-linecap="square" fill="none" opacity=".55"/>
<path d="M596.65 728.9h6.6" stroke="#000" stroke-width=".95"/>
<ellipse cx="599.95" cy="728.9" rx="1.6" ry="1.2" fill="#000"/>
<path d="M612.8 707.4h0M614.7 735.4h0M615.5 729.1h0M615 715.4h0M607.9 712.1h0M614.2 729.6h0M615.2 728.6h0M614.1 710.3h0M608.1 730.4h0M615.3 730.6h0M606.5 728h0M609.5 741.7h0M615.7 717.7h0M611.6 744.6h0M614.7 714.3h0M608.7 711.1h0M608.2 711.5h0M607.8 713.9h0M612.9 731.6h0M607.3 712.1h0M606.7 726.7h0M614.5 728.9h0M614.7 710.8h0M609.3 734.2h0M606.6 731h0M607.6 713.1h0M614.6 711.6h0M606.6 716.6h0M608 732h0M612.7 708.8h0M607.4 713.1h0M610.5 746.6h0M611.8 738.8h0M615 730.2h0M606.4 732.7h0M615.7 733.3h0M612.4 743.1h0M614.3 731.8h0M606.8 729h0M607.3 713.7h0M607.2 711.8h0M608.1 734.6h0M606.6 716.6h0M614.9 746.6h0M608.2 729.4h0M607.8 710.1h0M614.6 728.9h0M608.1 710.4h0M614.6 742.5h0M611.3 744.7h0M614.3 730.8h0M614 713.1h0M606.9 737.2h0M612.3 709h0M610.1 744.4h0M614.5 729.8h0M606.4 711.4h0M612.1 734.5h0M606.5 747.9h0M608.1 704.7h0M607.3 714h0M612.1 737h0M614.7 710.1h0M608.3 710.1h0M614.5 707.7h0M609.4 732h0M606.8 716h0M613.8 710.6h0M608.7 711.5h0M607.5 729.1h0M614.9 732h0M615.4 734.3h0M606.9 736.9h0M607.8 741.8h0M612.6 732.1h0" stroke="#f18f81" stroke-width="1.4" stroke-linecap="square" fill="none" opacity=".85"/>
<path d="M611 704.1L611.14 705.1L611.23 706.1L611.23 706.4L611.36 707.2L611.84 708.2L612.34 709.2L612.84 710.2L613.34 711.3L613.82 712.3L614.27 713.3L614.7 714.3L615.1 715.4L615.45 716.4L615.76 717.4L616.02 718.4L616.22 719.4L616.37 720.5L616.47 721.5L616.5 722.5L616.5 722.6L616.45 723.5L616.28 724.6L615.99 725.6L615.6 726.6L615.13 727.6L614.58 728.6L613.99 729.7L613.38 730.7L612.78 731.7L612.22 732.7L611.72 733.8L611.32 734.8L611.23 735.8L611.23 736.1L611.23 736.8L611.23 737.9L611.23 738.9L611.23 739.9L611.23 740.9L611.23 741.9L611.23 743L611.23 744L611.23 745L611.23 746L611.23 747.1L611.14 748.1L611 749.1L610.96 748.1L610.87 747.1L610.87 746L610.87 745L610.87 744L610.87 743L610.87 741.9L610.87 740.9L610.87 739.9L610.87 738.9L610.87 737.9L610.87 736.8L610.87 736.1L610.87 735.8L610.78 734.8L610.38 733.8L609.88 732.7L609.32 731.7L608.72 730.7L608.11 729.7L607.52 728.6L606.97 727.6L606.5 726.6L606.11 725.6L605.82 724.6L605.65 723.5L605.6 722.6L605.6 722.5L605.63 721.5L605.73 720.5L605.88 719.4L606.08 718.4L606.34 717.4L606.65 716.4L607 715.4L607.4 714.3L607.83 713.3L608.28 712.3L608.76 711.3L609.26 710.2L609.76 709.2L610.26 708.2L610.74 707.2L610.87 706.4L610.87 706.1L610.96 705.1Z" fill="#e75642" stroke="#0a0a0a" stroke-width=".62" stroke-linejoin="round"/>
<path d="M609.2 721.3h0M607.5 722.2h0M610.2 720.2h0M612.3 721.3h0M609.1 719.5h0M612.3 722h0M609.5 719.2h0M612.8 717.1h0M607.2 724.7h0M608.3 717.5h0M610.3 723.7h0M608.4 714.9h0M610 725.7h0M608.3 715.2h0M611.7 717.8h0M607.8 717.1h0M610.3 729.8h0M612.5 723.3h0M608.6 721.8h0M610.3 714.6h0M613 713h0M614.4 717.7h0M608.7 719.7h0M614.6 722.7h0M613.1 717.2h0M609.5 721.4h0M613.8 725.3h0M608.2 725.9h0M608.6 716.2h0M607.5 720.8h0M610.6 716.1h0M610.2 730.1h0M611 731.9h0M610 725.8h0M608.5 717h0M614.1 719h0M608 723.1h0M612.4 716.2h0M607.6 721.3h0M614.8 725.5h0M612.1 716.4h0M608.5 721.4h0M613.9 716.7h0M613.4 725.3h0M606.8 722.5h0M612.4 717.9h0M611.4 715.3h0M609.1 721.1h0M611.6 723.4h0M613.6 726.4h0M613.5 715.3h0M609.3 717.2h0M609.7 726.3h0M614.7 719.5h0M613.7 718.7h0M612.5 718.8h0M610.4 726.9h0M610.2 714.2h0M609.8 723.6h0M613 723.9h0M613.2 722.2h0M609.9 719.5h0M607.6 720.6h0M612.5 724.4h0M608.6 716.9h0M607.3 722.8h0M607.6 722.7h0M608.8 718.3h0M608.2 716.3h0M607.5 724.2h0M610.6 714.4h0M614.5 722h0M614 723.1h0M610.9 717.9h0M610.1 724h0M611.5 728.4h0M613.6 720.6h0M609.7 717.7h0M609.4 725.3h0M610.6 719.1h0M610.3 720.3h0M610.5 728.9h0M613.3 718h0M611.2 721.9h0M613.6 718.4h0M610.5 717.4h0M609.3 727.6h0M610.7 709.9h0M613.4 718.2h0M613.5 716.8h0M613.8 721.5h0M612.2 719.4h0M611.7 721.6h0M611.6 721.1h0M613.1 721.8h0M611.8 722.8h0M609.4 713.6h0M612.2 728.6h0M607.5 719.1h0M611.4 722.9h0M611.9 722.7h0M610.9 726.5h0M607.2 723.8h0M612.4 730h0M613.1 722.6h0M607.7 724.8h0M609.5 721.3h0M609 721.3h0M609.4 718.2h0M611.7 725.1h0M612.8 717h0M614.4 724.4h0M607.9 726.3h0M613.1 728.7h0M613.5 723.2h0M608.6 728.2h0M608.5 715.6h0M613.3 718.8h0M610 730.6h0M608.1 721.8h0M609 716.7h0M613.5 723.2h0M611.9 724h0M608.3 715.2h0M609.2 723.6h0M611.1 728h0M611.5 721.2h0M611.9 717.6h0M609.2 727.6h0M608.7 723.6h0M612.2 724.2h0M614 721.3h0M609.8 719.8h0M612.1 727.9h0M611.2 719.2h0M607.6 717.2h0M614.7 718h0M613.8 723.1h0M611.5 715.2h0M610 724h0M609.9 726.4h0M609.1 725h0M612 725.8h0M612.1 716.7h0M610 717h0M610.4 716.7h0M609.3 725.4h0M609.2 724.5h0M610.2 722.8h0M611.4 721h0M614 723.8h0" stroke="#f18f81" stroke-width="1.4" stroke-linecap="square" fill="none" opacity=".55"/>
<path d="M607.75 722.7h6.6" stroke="#000" stroke-width=".95"/>
<ellipse cx="611.05" cy="722.7" rx="1.6" ry="1.2" fill="#000"/>
<path d="M630.3 676.3h0M624.4 679.4h0M624 730.5h0M631.8 719.8h0M624.9 677.6h0M622.9 724.6h0M627.9 756h0M624.5 724.9h0M632 683.3h0M632.2 736.7h0M624.8 728.9h0M632.2 690h0M624.9 727h0M630.7 735.5h0M626.2 737.5h0M626.4 749.1h0M623.6 683h0M625.8 678h0M624.4 726.6h0M630.7 728.9h0M626.1 737.7h0M630.3 727.3h0M629.2 739.6h0M624.1 723.6h0M625.6 753.1h0M631.6 766.4h0M625.1 734.2h0M625.3 730.3h0M631.1 683.6h0M623 691.2h0M624.2 724.6h0M630.4 679.9h0M624.8 757.2h0M623.7 731.1h0M628.3 669h0M629.2 733h0M631.5 735.5h0M631.5 722.7h0M632.1 730.9h0M630.7 678.3h0M631.3 764.4h0M624 675.6h0M631 757h0M631.1 669h0M623.9 689.1h0M623.1 731.3h0M628.7 677.2h0M631.8 670.2h0M624.9 677h0M623.5 679.8h0M624 688.5h0M627.9 764h0M624.1 734.7h0M623.6 721.1h0M626 739.9h0M622.9 729.1h0M626 740.8h0M622.9 692.2h0M632 716.6h0M623 727.2h0M627.5 672.1h0M632.2 727h0M627.1 673.1h0M625.8 678.7h0M627 751.3h0M624.4 753.4h0M625.8 771h0M631.5 674.7h0M623.9 730.2h0M629 674.2h0M628.8 676.6h0M625.9 769.7h0M625.7 674.2h0M629.8 731.2h0M631.5 684.3h0M631 679.9h0M625.9 740.8h0M624 678.7h0M630.7 675.7h0M623.9 680.8h0M631.5 682.2h0M626.7 672.9h0M631.8 691.9h0M625.3 731.8h0M631.4 733.6h0M623.9 687.6h0" stroke="#8fd5e6" stroke-width="1.4" stroke-linecap="square" fill="none" opacity=".85"/>
<path d="M627.6 667.8L627.73 670.2L627.73 670.5L627.95 672.6L628.47 674.9L629.01 677.3L629.55 679.7L630.07 682.1L630.58 684.5L631.05 686.8L631.49 689.2L631.88 691.6L632.22 694L632.5 696.4L632.73 698.7L632.88 701.1L632.98 703.5L633 705.5L633 705.9L632.95 708.3L632.84 710.6L632.65 713L632.41 715.4L632.1 717.8L631.75 720.1L631.35 722.5L630.92 724.9L630.47 727.3L630.01 729.7L629.55 732L629.1 734.4L628.68 736.8L628.3 739.2L627.97 741.6L627.73 743.9L627.73 746.3L627.73 746.9L627.73 748.7L627.73 751.1L627.73 753.5L627.73 755.8L627.73 758.2L627.73 760.6L627.73 763L627.73 765.4L627.73 767.7L627.73 770.1L627.6 772.5L627.37 770.1L627.37 767.7L627.37 765.4L627.37 763L627.37 760.6L627.37 758.2L627.37 755.8L627.37 753.5L627.37 751.1L627.37 748.7L627.37 746.9L627.37 746.3L627.37 743.9L627.13 741.6L626.8 739.2L626.42 736.8L626 734.4L625.55 732L625.09 729.7L624.63 727.3L624.18 724.9L623.75 722.5L623.35 720.1L623 717.8L622.69 715.4L622.45 713L622.26 710.6L622.15 708.3L622.1 705.9L622.1 705.5L622.12 703.5L622.22 701.1L622.37 698.7L622.6 696.4L622.88 694L623.22 691.6L623.61 689.2L624.05 686.8L624.52 684.5L625.03 682.1L625.55 679.7L626.09 677.3L626.63 674.9L627.15 672.6L627.37 670.5L627.37 670.2Z" fill="#58bfd8" stroke="#0a0a0a" stroke-width=".62" stroke-linejoin="round"/>
<path d="M625.5 715.4h0M628.8 692.2h0M623.7 701.6h0M625.4 705.9h0M626.7 719.4h0M631.1 706.4h0M625.8 694.5h0M629.2 717.8h0M625.6 722.6h0M630 718.7h0M630.3 712.8h0M624.1 698.3h0M630 709.9h0M628.4 684.7h0M626 701.3h0M626.9 699.4h0M627.3 731.5h0M623.5 700h0M627 716.4h0M626.6 725.8h0M624.7 699.4h0M631.6 710.3h0M626.5 710.9h0M630.3 689.5h0M627.7 701.9h0M627 711.9h0M629.5 692.1h0M630 719.5h0M627.4 705h0M624.1 713.4h0M629.9 701h0M627.8 724.3h0M628.6 720.3h0M629.4 696.8h0M624.2 700.7h0M627.2 714.2h0M629.9 699.1h0M625.8 704.1h0M626.8 705.5h0M625.8 685.8h0M629.3 695.3h0M623.3 703.9h0M624.2 705.5h0M628.5 700.1h0M627.5 725.3h0M627.6 726.3h0M626.6 686.2h0M630.4 705.8h0M631.5 711.1h0M625.5 686.2h0M625.3 700.5h0M631.3 708.1h0M628.7 683.1h0M628.7 684.5h0M629.2 723.1h0M624.3 693.3h0M628.5 725.7h0M631.2 715.3h0M626.5 708.3h0M629.9 698.9h0M626 687.2h0M623.6 701.5h0M625.1 720.5h0M631.8 706.2h0M626.7 701.8h0M625.7 685.8h0M625.9 711.5h0M627.5 721.3h0M629.2 727.1h0M626.8 720.1h0M624.5 719.2h0M629.1 707.8h0M627.3 702.4h0M624.5 697.9h0M628 696.2h0M628.3 709.3h0M628.8 692.5h0M625.5 694.5h0M630.1 713.5h0M627.4 695.1h0M625.2 700.6h0M627 686.6h0M626.4 712.1h0M628.2 704.5h0M623.8 712.2h0M629.1 707.2h0M629.9 711.1h0M624.4 700.2h0M629.1 701.2h0M631.7 703.9h0M628.7 701.6h0M629.1 691.7h0M624.3 704.5h0M623.5 706.8h0M628.8 685.1h0M626.4 686h0M630.5 691.5h0M631.8 710.2h0M626.4 714.4h0M624.2 706.7h0M628.3 700h0M628 690.4h0M627.4 704.5h0M626.7 716.4h0M625.9 727h0M628.8 689.1h0M628.5 693.9h0M630.1 709.6h0M629.2 704.7h0M625.9 693.1h0M628.5 708.6h0M630.8 694.4h0M625.1 717.9h0M626.6 702h0M624.7 689.7h0M627.3 691.2h0M629.7 698.8h0M629.9 699.8h0M624 704.7h0M629.4 717.9h0M623.3 701.7h0M628.4 682h0M630.4 699.5h0M628.8 720.5h0M626.6 719.6h0M630 712.3h0M624.8 697.4h0M630.1 702.5h0M629.2 683.1h0M630 706.1h0M624.8 713.9h0M628.9 702.9h0M631.7 702.5h0M627.7 688.3h0M629.5 709.2h0M630.3 709.1h0M626.2 703.8h0M631.3 713.5h0M624 694.7h0M626.3 681.2h0M627.4 711.5h0M626.2 700.6h0M630.3 720.8h0M629.2 708.7h0M630.1 715.9h0M623.9 713.5h0" stroke="#8fd5e6" stroke-width="1.4" stroke-linecap="square" fill="none" opacity=".55"/>
<path d="M624.25 708.3h6.6" stroke="#000" stroke-width=".95"/>
<ellipse cx="627.55" cy="708.3" rx="1.6" ry="1.2" fill="#000"/>
<path d="M643 695.5h0M640.9 664.7h0M641.9 707.3h0M636.5 711h0M642.2 662.7h0M634.8 699.1h0M642.8 720.6h0M634.4 700h0M642.4 702.8h0M636.3 663.2h0M636.4 703.3h0M635.1 717.4h0M639.4 709.5h0M636.3 654.8h0M642.8 705.6h0M642.4 704.7h0M641.5 665.3h0M634.1 707.3h0M643.3 703.4h0M634.5 663.7h0M634 705.7h0M643.2 666.7h0M639.9 710.4h0M634.8 702.3h0M634.6 708.2h0M634.7 703.6h0M641.5 660.5h0M642.7 655.1h0M635.2 716.4h0M634 698.1h0M641.4 702.3h0M635.7 702.8h0M634.9 665.9h0M635.7 708.5h0M635.9 664h0M634.3 666.1h0M642.4 669.7h0M643.3 705.5h0M634.2 698.7h0M637.6 724.3h0M642.5 699.3h0M643 673h0M634.7 700.1h0M640.1 707.5h0M634 676.2h0M643.2 721.4h0M634.6 659.3h0M635.3 703.7h0M642.6 668.2h0M642.6 665.5h0M634.8 728h0M634 674.7h0M634.6 715h0M634.3 659.3h0M634.4 705.3h0M636 701.7h0M643.1 664.4h0M640.9 705.6h0M642.8 668.6h0M643 670.2h0M635 697.4h0M634.6 667.2h0M634.2 705.5h0M635.4 702.9h0M634.3 658.3h0M641.9 720.5h0M642.4 707.8h0M635.8 705.7h0M643.1 664h0M636.1 662.3h0M643 671.9h0M640 708.1h0M642.8 701.3h0M643.3 667.3h0M640.1 705h0M641.1 714.5h0M635.8 655.9h0M636 661.6h0M634 671.3h0M634 705.3h0" stroke="#f18f81" stroke-width="1.4" stroke-linecap="square" fill="none" opacity=".85"/>
<path d="M638.6 650.7L638.81 652.5L638.83 653.4L638.83 654.3L639.18 656L639.58 657.8L640 659.6L640.41 661.4L640.82 663.1L641.22 664.9L641.61 666.7L641.98 668.5L642.33 670.2L642.65 672L642.95 673.8L643.22 675.6L643.45 677.4L643.65 679.1L643.82 680.9L643.95 682.7L644.04 684.5L644.09 686.2L644.1 687.6L644.1 688L644.02 689.8L643.83 691.6L643.55 693.4L643.18 695.1L642.73 696.9L642.23 698.7L641.68 700.5L641.11 702.2L640.55 704L640 705.8L639.51 707.6L639.09 709.4L638.83 711.1L638.83 712.7L638.83 712.9L638.83 714.7L638.83 716.5L638.83 718.2L638.83 720L638.83 721.8L638.83 723.6L638.83 725.3L638.81 727.1L638.6 728.9L638.49 727.1L638.47 725.3L638.47 723.6L638.47 721.8L638.47 720L638.47 718.2L638.47 716.5L638.47 714.7L638.47 712.9L638.47 712.7L638.47 711.1L638.21 709.4L637.79 707.6L637.3 705.8L636.75 704L636.19 702.2L635.62 700.5L635.07 698.7L634.57 696.9L634.12 695.1L633.75 693.4L633.47 691.6L633.28 689.8L633.2 688L633.2 687.6L633.21 686.2L633.26 684.5L633.35 682.7L633.48 680.9L633.65 679.1L633.85 677.4L634.08 675.6L634.35 673.8L634.65 672L634.97 670.2L635.32 668.5L635.69 666.7L636.08 664.9L636.48 663.1L636.89 661.4L637.3 659.6L637.72 657.8L638.12 656L638.47 654.3L638.47 653.4L638.49 652.5Z" fill="#e75642" stroke="#0a0a0a" stroke-width=".62" stroke-linejoin="round"/>
<path d="M642.2 689h0M636.7 680.7h0M641.3 677.3h0M638.9 696.2h0M639.6 675.8h0M639.3 671.5h0M641.9 680h0M638.2 703.4h0M641.8 685.3h0M635.5 681.5h0M640.6 690.1h0M639.6 686.7h0M640.1 697.8h0M642 685.9h0M639.2 702.1h0M637.4 682.8h0M640.4 683.2h0M641.6 691.5h0M635.4 686h0M637.9 683.6h0M636.2 681.1h0M641.2 697.7h0M638 678.8h0M639.6 697.4h0M640.1 670.4h0M635.6 694h0M639.8 684h0M636.6 684.7h0M640.1 695.5h0M635.7 673.7h0M640.3 692.2h0M635.6 691.7h0M635.1 686.4h0M637.9 672.2h0M639.5 674h0M640.3 688.8h0M639.4 691.1h0M641.2 676.2h0M640.7 698.6h0M639.6 671.5h0M641.3 682.5h0M641 669.8h0M641.8 683.1h0M641.7 685.6h0M636.9 691.1h0M636.2 679.3h0M640.8 696.8h0M637.3 688.3h0M638.6 662.2h0M635.2 683.8h0M642.2 690.9h0M637.2 698h0M636.2 677.5h0M634.5 686.4h0M636 686.6h0M640.1 700.8h0M640.4 671.8h0M637.8 678.4h0M638.3 691.6h0M639.2 689.1h0M635.3 693.4h0M638.4 671.4h0M638.4 660.6h0M634.6 691.4h0M641.6 687.8h0M637.2 684h0M639.3 694.9h0M639.4 696.8h0M639 676.2h0M640.3 681.6h0M637.8 669.7h0M642.4 678.5h0M636.8 690.3h0M639.9 670.7h0M639.6 683.3h0M639.2 684.9h0M637.4 679.9h0M641.5 695h0M641.5 672.8h0M638.7 683.1h0M637.4 677.1h0M641.1 671.1h0M641 684.1h0M638.5 686.7h0M635.2 690.7h0M635.1 690.5h0M635.6 688.7h0M639.9 667.5h0M635.9 678.2h0M636.8 684h0M638.7 666.2h0M638.6 671.5h0M639.8 665.5h0M638.6 684.1h0M640.4 690.4h0M641.8 692h0M638.8 687.1h0M640.7 699.3h0M636 688.6h0M636.8 672.1h0M636.7 700.3h0M636 695.1h0M639.9 681.7h0M640.1 685.8h0M636.3 681.2h0M635.7 680.2h0M641.1 683.6h0M638.1 686.5h0M640.3 688.6h0M638 688h0M640.2 689.6h0M638 674.8h0M641.2 672.9h0M636.7 681.3h0M637.9 691.2h0M642.9 687.2h0M638.9 665.5h0M635.6 693.1h0M638.6 671.7h0M638.8 675.9h0M635.3 691h0M640.5 676.6h0M637.3 684.7h0M640.7 690.4h0M639.1 666h0M635.2 681.8h0M639.6 683.8h0M637.3 674.3h0M638 664.1h0M639.7 689.9h0M637 698.8h0M640.9 669.2h0M640.4 695.9h0M635.7 693.7h0M636.1 680.6h0M639.3 699.7h0M639.6 693.6h0M638.2 668.4h0M636 692h0M635.2 688.6h0M640.8 686.5h0M637 674.6h0M641.7 689.8h0M637.3 682.2h0" stroke="#f18f81" stroke-width="1.4" stroke-linecap="square" fill="none" opacity=".55"/>
<path d="M635.35 687.5h6.6" stroke="#000" stroke-width=".95"/>
<ellipse cx="638.65" cy="687.5" rx="1.6" ry="1.2" fill="#000"/>
<path d="M572.35 679.9v-2.4h11.1v2.4" fill="none" stroke="#111" stroke-width=".85"/>
<text x="577.9" y="678.1" font-size="5.7" text-anchor="middle">***</text>
<path d="M599.95 702.6v-2.4h11.1v2.4" fill="none" stroke="#111" stroke-width=".85"/>
<text x="605.5" y="700.8" font-size="5.7" text-anchor="middle">***</text>
<path d="M561.2 642.9V775.8H649.5" fill="none" stroke="#333" stroke-width=".8"/>
<text x="556.5" y="675.5" font-size="8.8" text-anchor="end">4000</text>
<text x="556.5" y="708.45" font-size="8.8" text-anchor="end">2000</text>
<text x="556.5" y="741.4" font-size="8.8" text-anchor="end">0</text>
<text x="556.5" y="774.35" font-size="8.8" text-anchor="end">-2000</text>
<path d="M561.2 672.4h-3.2M561.2 705.35h-3.2M561.2 738.3h-3.2M561.2 771.25h-3.2M577.9 775.8v3.2M605.5 775.8v3.2M633.1 775.8v3.2" fill="none" stroke="#333" stroke-width=".8"/>
<text transform="translate(579.1 787.4) rotate(-15)" font-size="8.95" text-anchor="end">ImmuneScore</text>
<text transform="translate(606.7 787.4) rotate(-15)" font-size="8.95" text-anchor="end">StromalScore</text>
<text transform="translate(634.3 787.4) rotate(-15)" font-size="8.95" text-anchor="end">ESTIMATEScore</text>
<text transform="translate(528.2 709.35) rotate(-90)" font-size="9.7" text-anchor="middle">Enrichment score</text>
<text x="652.8" y="703.8" font-size="8.6">TMC8</text>
<rect x="652.7" y="706.3" width="6.1" height="8" fill="#9bdbe9" stroke="#333" stroke-width=".7"/>
<circle cx="655.75" cy="710.3" r=".9" fill="#58bfd8" opacity=".75"/>
<text x="662.6" y="713.4" font-size="8.6">Low</text>
<rect x="652.7" y="714.3" width="6.1" height="8" fill="#f29a8f" stroke="#333" stroke-width=".7"/>
<circle cx="655.75" cy="718.3" r=".9" fill="#e75642" opacity=".75"/>
<text x="662.6" y="721.4" font-size="8.6">High</text>
</g>
</svg>
</body></html>
